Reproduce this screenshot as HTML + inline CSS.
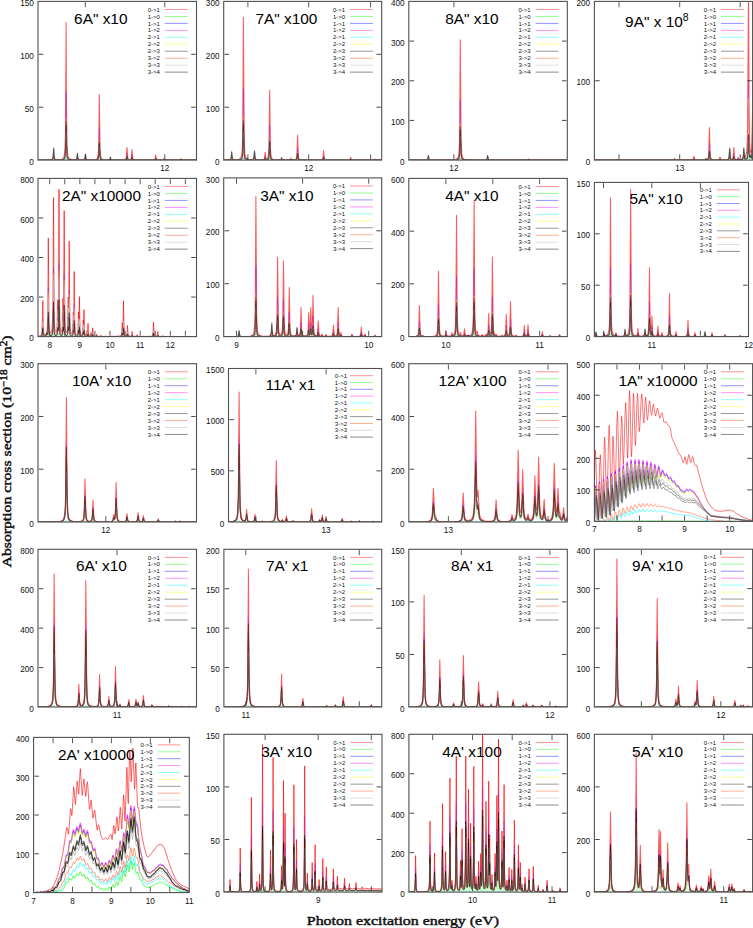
<!DOCTYPE html>
<html><head><meta charset="utf-8"><title>Absorption spectra</title>
<style>
html,body{margin:0;padding:0;background:#fff;}
body{width:753px;height:928px;overflow:hidden;}
svg{display:block;}
.tl{font-family:"Liberation Sans",sans-serif;font-size:8.2px;fill:#111;}
.tt{font-family:"Liberation Sans",sans-serif;font-size:15.4px;fill:#000;}
.lg{font-family:"Liberation Sans",sans-serif;font-size:6px;fill:#111;}
.ax{font-family:"Liberation Serif",serif;font-size:13.4px;font-weight:normal;fill:#111;stroke:#111;stroke-width:0.45px;}
</style></head><body>
<svg width="753" height="928" viewBox="0 0 753 928">
<clipPath id="c1"><rect x="38" y="1.4" width="158.5" height="158.7"/></clipPath>
<g clip-path="url(#c1)" fill="none" stroke-width="1" stroke-linejoin="round" stroke-opacity="0.6">
<path d="M38,160.1 52.2,159.8 53,159.2 53.7,155.7 54.2,158.8 54.8,159.6 56.5,159.9 60.5,159.6 62,159.2 63,158.5 63.8,157.4 64.2,155.8 65,148.7 65.5,128.1 66.1,22.6 66.5,104.4 67,143.8 67.8,154.8 68.2,156.9 69.2,158.6 71.5,159.6 76,159.8 76.8,159.4 77.4,157.5 78,159.4 78.5,159.8 83.5,160 84.8,159.7 85.5,157.9 86,159.4 86.5,159.8 91.2,160 95.8,159.5 96.8,159 97.5,157.9 98.2,154.2 98.8,142.7 99.3,94.5 100,148.2 100.8,156.9 101.2,158.3 102,159.1 103.8,159.7 107.2,160 109.5,159.9 110.4,159 111,159.8 112.2,160 122.5,160 125.2,159.6 125.8,159.2 126.2,158 127,147.4 127.8,158 128.2,159.2 129,159.6 130.5,159.5 131.2,158.3 132,149.5 132.8,158.3 133.2,159.4 134.5,159.9 144.8,160.1 154,159.9 155,159.1 155.7,154.8 156.5,159.3 157.8,160 163,159.9 163.5,159.6 164,158.5 164.5,159.6 165.5,160 179.2,160 180.2,159.8 181,158.5 181.5,159.6 182.5,160 196.5,160.1" stroke="#ff0000" stroke-width="1.05" stroke-opacity="0.65"/>
<path d="M38,160.1 52.2,160.1 53.7,159.8 55.2,160.1 64.2,160 65.5,159.5 66.1,157.3 66.5,159 67,159.8 69.2,160.1 97.5,160.1 98.8,159.8 99.3,158.8 100,159.9 102,160.1 125.2,160.1 127,159.8 129,160.1 132,159.9 134.5,160.1 196.5,160.1" stroke="#00ff00" stroke-width="0.73" stroke-opacity="0.35"/>
<path d="M38,160.1 52.2,159.9 53,159.4 53.7,156.3 54.2,159.1 54.8,159.7 55.2,159.9 58.8,159.9 62,159.6 63.5,159 64.2,158 65,154.4 65.5,144.1 66.1,91.3 66.5,132.2 67,151.9 67.8,157.4 68.2,158.5 69.2,159.3 71.8,159.9 76,159.9 76.8,159.6 77.4,157.9 78,159.5 79.5,160 84.5,159.9 85,159.5 85.5,158.2 86.2,159.8 87.2,160 95,159.9 96.5,159.6 97.5,159 98.2,157.1 98.8,151.4 99.3,127.3 100,154.1 100.8,158.5 101.2,159.2 102,159.6 104.2,159.9 109,160 109.8,159.9 110.4,159.2 111,159.9 112,160 125.2,159.9 126.2,159.1 127,153.8 127.8,159 128.2,159.6 129,159.9 130.5,159.8 131.2,159.2 132,154.8 132.8,159.2 133.2,159.7 134.5,160 154,160 155,159.6 155.7,157.5 156.5,159.7 157.8,160 163,160 164,159.3 164.5,159.9 165.5,160.1 179.2,160.1 180.2,160 181,159.3 181.5,159.9 182.5,160.1 196.5,160.1" stroke="#0000ff" stroke-width="0.63" stroke-opacity="0.22"/>
<path d="M38,160.1 52.2,159.9 53,159.4 53.7,156.3 54.2,159.1 54.8,159.7 55.2,159.9 58.8,159.9 62,159.7 63.5,159 64.2,158 65,154.5 65.5,144.4 66.1,92.7 66.5,132.8 67,152.1 67.8,157.5 68.2,158.5 69.2,159.4 71.8,159.9 76,159.9 76.8,159.6 77.4,157.9 78,159.5 79.5,160 84.5,159.9 85,159.5 85.5,158.2 86.2,159.8 87.2,160 95,159.9 96.5,159.6 97.5,159 98.2,157.2 98.8,151.6 99.3,128 100,154.2 100.8,158.5 101.2,159.2 102,159.6 104.2,159.9 109,160 109.8,159.9 110.4,159.2 111,159.9 112,160 125.2,159.9 126.2,159.1 127,153.9 127.8,159.1 128.2,159.7 129,159.9 130.5,159.8 131.2,159.2 132,154.9 132.8,159.2 133.2,159.7 134.5,160 154,160 155,159.6 155.7,157.5 156.5,159.7 157.8,160 163,160 164,159.3 164.5,159.9 165.5,160.1 179.2,160.1 180.2,160 181,159.3 181.5,159.9 182.5,160.1 196.5,160.1" stroke="#ff00ff" stroke-width="0.63" stroke-opacity="0.22"/>
<path d="M38,160.1 52.2,160.1 53.7,159.8 55.2,160.1 64.2,160 65.5,159.5 66.1,157.3 66.5,159 67,159.8 69.2,160.1 97.5,160.1 98.8,159.8 99.3,158.8 100,159.9 102,160.1 125.2,160.1 127,159.8 129,160.1 132,159.9 134.5,160.1 196.5,160.1" stroke="#00ffff" stroke-width="0.73" stroke-opacity="0.35"/>
<path d="M38,160.1 52.2,159.9 53,159.5 53.7,157 54.2,159.2 55.2,159.9 62,159.8 63.5,159.4 64.2,158.8 65,156.7 65.5,150.5 66.1,118.8 66.5,143.4 67,155.2 67.8,158.5 68.2,159.1 69.2,159.6 72,160 76.2,159.9 77,159.3 77.4,158.3 78,159.7 79.2,160 84.5,159.9 85,159.6 85.5,158.5 86,159.6 87,160 95,160 97.5,159.5 98.2,158.3 98.8,154.9 99.3,140.4 100,156.5 100.8,159.1 102,159.8 109,160 109.8,159.9 110.4,159.3 111,159.9 112,160.1 125.2,160 126.2,159.5 127,156.3 127.8,159.5 129,160 130.5,159.9 131.2,159.6 132,156.9 132.8,159.6 134.5,160 154,160 155,159.8 155.7,158.5 156.5,159.9 157.8,160.1 163,160 164,159.6 165.5,160.1 179.2,160.1 180.2,160 181,159.6 182.5,160.1 196.5,160.1" stroke="#ffff00" stroke-width="0.63" stroke-opacity="0.35"/>
<path d="M38,160.1 49.8,160 52.2,159.5 53,157.8 53.7,147.7 54.2,156.8 54.5,158.3 55,159.3 56.5,159.9 60.5,159.9 63,159.7 64.2,159 65,157.2 65.5,152.1 66.1,125.7 66.5,146.2 67,156 67.8,158.8 69,159.6 73.8,160 75.5,159.8 76.2,159.5 76.8,158.6 77,157.2 77.4,153 78,158.4 78.5,159.5 79,159.8 82.8,160 84.5,159.5 85,158.2 85.5,154 86,158.2 86.8,159.7 88.2,160 93,160 96,159.9 97.5,159.6 98.2,158.6 98.8,155.7 99.3,143.7 100,157.1 100.8,159.3 102,159.8 106.2,160 109.2,159.9 110,158.9 110.4,157.1 111,159.4 111.8,159.9 125.2,160 126.2,159.6 127,156.9 127.8,159.6 129,160 130.5,159.9 131.2,159.7 132,157.5 132.8,159.7 134.5,160 154,160.1 155,159.9 155.7,158.8 156.5,159.9 157.8,160.1 163,160.1 164,159.7 165.5,160.1 179.2,160.1 181,159.7 182.5,160.1 196.5,160.1" stroke="#000000" stroke-width="1.05" stroke-opacity="0.45"/>
<path d="M38,160.1 52.2,160 53,159.6 53.7,157.6 54.2,159.4 55.2,160 62,159.9 63.5,159.7 64.2,159.2 65,157.8 65.5,153.7 66.1,132.6 66.5,149 67,156.8 67.8,159 69.2,159.8 76.2,160 77,159.5 77.4,158.7 78,159.7 79.2,160 84.5,160 85,159.7 85.5,158.9 86,159.7 87,160 95,160 97.5,159.7 98.2,158.9 98.8,156.6 99.3,147 100,157.7 100.8,159.4 102,159.9 109,160.1 109.8,160 110.4,159.5 111,159.9 112,160.1 125.2,160 126.2,159.7 127,157.6 127.8,159.7 129,160 131.2,159.7 132,158 132.8,159.7 134.5,160.1 154,160.1 155,159.9 155.7,159 156.5,159.9 157.8,160.1 163,160.1 164,159.8 165.5,160.1 179.2,160.1 181,159.8 182.5,160.1 196.5,160.1" stroke="#ff6030" stroke-width="0.84" stroke-opacity="0.4"/>
<path d="M38,160.1 49.8,160 52.2,159.8 53,159 53.7,153.9 54.2,158.4 55,159.7 56.8,160 61.2,160 63.2,159.7 64.2,159.2 65,157.8 65.5,153.7 66.1,132.6 66.5,149 67,156.8 67.8,159 69,159.7 73,160 76.2,159.8 77,158.6 77.4,156.6 78,159.3 79,159.9 82.8,160 84.5,159.8 85,159.1 85.5,157 86,159.2 86.2,159.6 87,159.9 94.5,160 97.5,159.7 98.2,158.9 98.8,156.6 99.3,147 100,157.7 100.8,159.4 102,159.9 109.2,160 110,159.5 110.4,158.6 111,159.7 111.8,160 125.2,160 126.2,159.7 127,157.6 127.8,159.7 129,160 131.2,159.7 132,158 132.8,159.7 134.5,160.1 154,160.1 155,159.9 155.7,159 156.5,159.9 157.8,160.1 163,160.1 164,159.8 165.5,160.1 179.2,160.1 181,159.8 182.5,160.1 196.5,160.1" stroke="#c0c0c0" stroke-width="0.84" stroke-opacity="0.5"/>
<path d="M38,160.1 49.8,160 52.2,159.5 53,158 53.7,148.9 54.2,157.1 55,159.4 56.5,159.9 61,159.9 63.2,159.6 64.2,158.9 65,156.9 65.5,151.1 66.1,121.6 66.5,144.5 67,155.5 67.8,158.6 69,159.6 73.5,160 76.2,159.6 76.8,158.8 77,157.5 77.4,153.7 78,158.6 78.5,159.5 79,159.8 82.8,160 84.5,159.5 85,158.4 85.5,154.6 86,158.4 86.2,159.2 87,159.8 94.2,160 96.5,159.8 97.5,159.5 98.2,158.4 98.8,155.2 99.3,141.7 100,156.7 100.8,159.2 102,159.8 106.2,160 109.2,159.9 110,159 110.4,157.4 111,159.5 111.8,159.9 125.2,160 126.2,159.5 127,156.5 127.8,159.5 129,160 130.5,159.9 131.2,159.6 132,157.1 132.8,159.6 134.5,160 154,160 155,159.8 155.7,158.6 156.5,159.9 157.8,160.1 163,160.1 164,159.7 165.5,160.1 179.2,160.1 180.2,160 181,159.7 182.5,160.1 196.5,160.1" stroke="#000000" stroke-width="1.05" stroke-opacity="0.45"/>
</g>
<rect x="38" y="1.4" width="158.5" height="158.7" fill="none" stroke="#505050" stroke-width="1.1"/>
<text x="33.8" y="164.7" text-anchor="end" class="tl">0</text>
<path d="M38.8,107.2 h4.5 M195.7,107.2 h-4.5" stroke="#333" stroke-width="0.9"/>
<text x="33.8" y="111.8" text-anchor="end" class="tl">50</text>
<path d="M38.8,54.3 h4.5 M195.7,54.3 h-4.5" stroke="#333" stroke-width="0.9"/>
<text x="33.8" y="58.9" text-anchor="end" class="tl">100</text>
<text x="33.8" y="6" text-anchor="end" class="tl">150</text>
<path d="M85.3,159.3 v-5 M85.3,2.2 v5" stroke="#444" stroke-width="0.9"/>
<path d="M164.8,159.3 v-5 M164.8,2.2 v5" stroke="#444" stroke-width="0.9"/>
<text x="164.8" y="171.1" text-anchor="middle" class="tl">12</text>
<text x="74.1" y="23.7" class="tt">6A&quot; x10</text>
<text x="147.7" y="11.6" class="lg">0-&gt;1</text>
<path d="M164.8,9.5 H187.7" stroke="#ff8080" stroke-width="0.85"/>
<text x="147.7" y="18.56" class="lg">1-&gt;0</text>
<path d="M164.8,16.46 H187.7" stroke="#80ff80" stroke-width="0.85"/>
<text x="147.7" y="25.52" class="lg">1-&gt;1</text>
<path d="M164.8,23.42 H187.7" stroke="#8080ff" stroke-width="0.85"/>
<text x="147.7" y="32.48" class="lg">1-&gt;2</text>
<path d="M164.8,30.38 H187.7" stroke="#ff80ff" stroke-width="0.85"/>
<text x="147.7" y="39.44" class="lg">2-&gt;1</text>
<path d="M164.8,37.34 H187.7" stroke="#80ffff" stroke-width="0.85"/>
<text x="147.7" y="46.4" class="lg">2-&gt;2</text>
<path d="M164.8,44.3 H187.7" stroke="#ffff80" stroke-width="0.85"/>
<text x="147.7" y="53.36" class="lg">2-&gt;3</text>
<path d="M164.8,51.26 H187.7" stroke="#888888" stroke-width="0.85"/>
<text x="147.7" y="60.32" class="lg">3-&gt;2</text>
<path d="M164.8,58.22 H187.7" stroke="#ffa080" stroke-width="0.85"/>
<text x="147.7" y="67.28" class="lg">3-&gt;3</text>
<path d="M164.8,65.18 H187.7" stroke="#d8d8d8" stroke-width="0.85"/>
<text x="147.7" y="74.24" class="lg">3-&gt;4</text>
<path d="M164.8,72.14 H187.7" stroke="#777777" stroke-width="0.85"/>
<clipPath id="c34"><rect x="223.7" y="1.4" width="158" height="158.7"/></clipPath>
<g clip-path="url(#c34)" fill="none" stroke-width="1" stroke-linejoin="round" stroke-opacity="0.6">
<path d="M223.7,160.1 230.4,159.8 231.2,159.1 231.7,157 232.2,159.1 232.9,159.8 235.9,159.8 238.7,159.4 239.9,158.8 240.7,158 241.7,154.9 242.2,150 242.7,134.1 243.4,17.3 244.2,139.3 244.9,153.9 245.4,156.5 246.4,158.4 246.9,158.7 247.5,158.6 248.2,159.3 248.9,159.5 253.2,159.7 253.9,159 254.5,156.6 254.9,158.8 255.7,159.7 259.7,159.9 263.4,159.6 264.4,158.6 265.2,152.2 265.9,158.3 266.4,158.9 266.9,158.8 267.9,157.6 268.4,155.4 268.9,148.7 269.7,90.3 270.4,148.7 271.2,156.8 271.7,158.2 272.7,159.2 274.2,159.7 276.7,159.9 280.7,159.9 281.6,159.2 282.2,159.8 282.7,160 289.2,160 290.4,159.5 291,158 291.4,159.3 292.2,159.8 294.7,159.8 295.9,159.1 296.4,158.2 296.9,155 297.6,135.2 298.4,156.8 298.9,158.7 299.4,159.3 300.2,159.7 302.9,160 310.4,160.1 319.4,160 321.9,159.7 322.4,159.4 322.9,158.1 323.6,150.6 324.2,157.9 324.7,159.3 325.9,159.9 348.9,160 349.9,159.7 350.7,157.5 351.4,159.7 352.4,160 373.2,160.1 374.4,159.8 375,159 375.4,159.7 376.2,160 381.7,160.1" stroke="#ff0000" stroke-width="1.05" stroke-opacity="0.65"/>
<path d="M223.7,160.1 241.7,160 242.7,159.6 243.4,157.2 244.2,159.7 246.2,160.1 267.9,160 268.9,159.9 269.7,158.7 270.4,159.9 272.7,160.1 295.9,160.1 296.9,160 297.6,159.6 298.4,160 300.2,160.1 323.6,159.9 381.7,160.1" stroke="#00ff00" stroke-width="0.73" stroke-opacity="0.35"/>
<path d="M223.7,160.1 230.4,159.9 231.2,159.3 231.7,157.4 232.2,159.2 232.9,159.9 238.7,159.7 240.7,159 241.7,157.5 242.2,155.1 242.7,147.1 243.4,88.7 244.2,149.7 244.9,157 245.4,158.3 246.4,159.2 247.5,159.2 248.2,159.7 249.2,159.8 253.2,159.8 253.9,159.2 254.5,157.1 254.9,159 255.7,159.8 263.4,159.8 264.4,159.3 265.2,156.1 265.9,159.2 266.9,159.5 267.9,158.8 268.4,157.8 268.9,154.4 269.7,125.2 270.4,154.4 271.2,158.5 271.7,159.2 272.7,159.7 280.2,160 280.9,159.9 281.6,159.3 282.7,160 289.2,160 290.4,159.8 291,159 291.4,159.7 292.2,160 294.7,159.9 295.9,159.6 296.4,159.1 296.9,157.5 297.6,147.7 298.4,158.5 298.9,159.4 300.2,159.9 310.4,160.1 321.9,159.9 322.9,159.1 323.6,155.3 324.2,159 324.7,159.7 325.9,160 348.9,160.1 349.9,159.9 350.7,158.8 351.4,159.9 352.4,160.1 373.2,160.1 374.4,160 375,159.6 376.2,160.1 381.7,160.1" stroke="#0000ff" stroke-width="0.63" stroke-opacity="0.22"/>
<path d="M223.7,160.1 230.4,159.9 231.2,159.3 231.7,157.4 232.2,159.2 232.9,159.9 238.7,159.7 240.7,159.1 241.7,157.5 242.2,155.2 242.7,147.4 243.4,90.1 244.2,149.9 244.9,157 245.4,158.3 246.4,159.2 247.5,159.2 248.2,159.7 249.2,159.8 253.2,159.8 253.9,159.3 254.5,157.1 254.9,159 255.7,159.8 263.4,159.9 264.4,159.3 265.2,156.2 265.9,159.2 266.9,159.5 267.9,158.9 268.4,157.8 268.9,154.5 269.7,125.9 270.4,154.5 271.2,158.5 271.7,159.2 272.7,159.7 280.2,160 280.9,159.9 281.6,159.3 282.7,160 289.2,160 290.4,159.8 291,159.1 291.4,159.7 292.2,160 294.7,159.9 295.9,159.6 296.4,159.2 296.9,157.6 297.6,147.9 298.4,158.5 298.9,159.4 300.2,159.9 310.4,160.1 321.9,159.9 322.9,159.1 323.6,155.4 324.2,159 324.7,159.7 325.9,160 348.9,160.1 349.9,159.9 350.7,158.8 351.4,159.9 352.4,160.1 373.2,160.1 374.4,160 375,159.6 376.2,160.1 381.7,160.1" stroke="#ff00ff" stroke-width="0.63" stroke-opacity="0.22"/>
<path d="M223.7,160.1 241.7,160 242.7,159.6 243.4,157.2 244.2,159.7 246.2,160.1 267.9,160 268.9,159.9 269.7,158.7 270.4,159.9 272.7,160.1 295.9,160.1 296.9,160 297.6,159.6 298.4,160 300.2,160.1 323.6,159.9 381.7,160.1" stroke="#00ffff" stroke-width="0.73" stroke-opacity="0.35"/>
<path d="M223.7,160.1 230.4,159.9 231.2,159.4 231.7,157.9 232.4,159.7 233.4,160 239.7,159.8 240.9,159.3 241.7,158.5 242.2,157.1 242.7,152.3 243.4,117.2 244.2,153.9 244.9,158.2 245.4,159 246.4,159.6 247.5,159.4 248.2,159.8 249.4,159.9 253.2,159.9 253.9,159.4 254.5,157.7 255.2,159.6 256.2,160 263.9,159.9 264.7,159.3 265.2,157.7 265.9,159.6 266.9,159.7 267.9,159.3 268.4,158.7 268.9,156.7 269.7,139.2 270.4,156.7 271.2,159.1 272.7,159.8 280.2,160 280.9,160 281.6,159.5 282.2,159.9 283.4,160.1 289.9,160 291,159.5 292.2,160 295.9,159.8 296.4,159.5 296.9,158.6 297.6,152.6 298.4,159.1 298.9,159.7 300.2,160 321.9,160 322.9,159.5 323.6,157.2 324.2,159.4 324.7,159.9 325.9,160 348.9,160.1 349.9,160 350.7,159.3 351.4,160 352.4,160.1 373.2,160.1 375,159.8 376.2,160.1 381.7,160.1" stroke="#ffff00" stroke-width="0.63" stroke-opacity="0.35"/>
<path d="M223.7,160.1 228.9,160 230.4,159.5 230.9,158.7 231.2,157.4 231.7,151.4 232.2,157.4 232.4,158.7 232.9,159.5 234.7,159.9 238.9,159.9 240.7,159.6 241.7,158.8 242.2,157.6 242.7,153.6 243.4,124.4 244.2,154.9 244.9,158.5 245.4,159.1 246.2,159.5 246.9,159.4 247.5,158.3 247.9,159.3 248.7,159.8 251.7,159.9 253.2,159.5 253.9,157.5 254.5,150.5 255.2,158.3 255.9,159.6 258.2,160 263.9,159.9 264.7,159.4 265.2,158.1 265.9,159.6 266.9,159.8 267.9,159.5 268.4,158.9 268.9,157.2 269.7,142.6 270.4,157.3 271.2,159.3 272.7,159.9 280.4,159.9 281.2,159.1 281.6,157.7 282.2,159.5 282.9,159.9 289.7,160 291,159.6 292.2,160 295.9,159.9 296.4,159.6 296.9,158.8 297.6,153.9 298.4,159.3 298.9,159.7 300.2,160 321.9,160 322.9,159.6 323.6,157.7 324.2,159.5 324.7,159.9 325.9,160.1 348.9,160.1 349.9,160 350.7,159.4 351.4,160 352.4,160.1 373.2,160.1 375,159.8 376.2,160.1 381.7,160.1" stroke="#000000" stroke-width="1.05" stroke-opacity="0.45"/>
<path d="M223.7,160.1 230.4,160 231.2,159.6 231.7,158.3 232.4,159.8 233.4,160 239.7,159.9 240.9,159.6 241.7,159.1 242.2,158.1 242.7,154.9 243.4,131.5 244.2,155.9 244.9,158.9 246.2,159.7 247.5,159.6 249.2,160 253.2,159.9 253.9,159.6 254.5,158.2 255.2,159.7 255.9,160 263.9,159.9 264.7,159.6 265.2,158.5 265.9,159.7 267.9,159.6 268.4,159.2 268.9,157.8 269.7,146.1 270.4,157.8 271.2,159.4 272.7,159.9 280.2,160.1 281.6,159.6 282.2,160 283.4,160.1 289.9,160 291,159.7 292.2,160 295.9,159.9 296.9,159.1 297.6,155.1 298.4,159.4 298.9,159.8 300.2,160 321.9,160 322.9,159.7 323.6,158.2 324.2,159.7 325.9,160.1 348.9,160.1 349.9,160 350.7,159.6 351.4,160 352.4,160.1 373.2,160.1 375,159.9 381.7,160.1" stroke="#ff6030" stroke-width="0.84" stroke-opacity="0.4"/>
<path d="M223.7,160.1 230.4,159.8 231.2,158.8 231.7,155.8 232.2,158.8 232.9,159.8 234.9,160 239.2,159.9 240.7,159.7 241.7,159.1 242.2,158.1 242.7,154.9 243.4,131.5 244.2,155.9 244.9,158.8 246.2,159.6 246.9,159.6 247.5,159.1 247.9,159.7 248.7,159.9 253.2,159.8 253.9,158.8 254.5,155.3 255.2,159.2 255.9,159.8 263.9,159.9 264.7,159.6 265.2,158.5 265.9,159.7 267.9,159.6 268.4,159.2 268.9,157.8 269.7,146.1 270.4,157.8 271.2,159.4 272.7,159.9 280.4,160 281.2,159.6 281.6,158.9 282.2,159.8 283.2,160 289.7,160.1 291,159.7 292.2,160 295.9,159.9 296.9,159.1 297.6,155.1 298.4,159.4 298.9,159.8 300.2,160 321.9,160 322.9,159.7 323.6,158.2 324.2,159.7 325.9,160.1 348.9,160.1 349.9,160 350.7,159.6 351.4,160 352.4,160.1 373.2,160.1 375,159.9 381.7,160.1" stroke="#c0c0c0" stroke-width="0.84" stroke-opacity="0.5"/>
<path d="M223.7,160.1 228.9,160 230.4,159.6 230.9,158.8 231.2,157.7 231.7,152.3 232.2,157.7 232.4,158.8 232.9,159.5 234.7,159.9 239.2,159.8 240.7,159.5 241.7,158.6 242.2,157.3 242.7,152.8 243.4,120.1 244.2,154.3 244.9,158.3 245.4,159 246.2,159.4 246.9,159.4 247.5,158.4 247.9,159.4 248.7,159.8 251.7,159.9 253.2,159.5 253.9,157.8 254.5,151.4 255.2,158.5 255.9,159.6 258.4,160 263.9,159.9 264.7,159.4 265.2,157.9 265.9,159.6 266.9,159.7 267.9,159.4 268.4,158.8 268.9,156.9 269.7,140.5 270.4,156.9 271.2,159.2 272.7,159.8 280.4,159.9 281.2,159.2 281.6,157.9 282.2,159.6 283.2,160 289.7,160 291,159.5 292.2,160 295.9,159.8 296.4,159.6 296.9,158.7 297.6,153.1 298.4,159.2 298.9,159.7 300.2,160 321.9,160 322.9,159.6 323.6,157.4 324.2,159.5 324.7,159.9 325.9,160 348.9,160.1 349.9,160 350.7,159.4 351.4,160 352.4,160.1 373.2,160.1 375,159.8 376.2,160.1 381.7,160.1" stroke="#000000" stroke-width="1.05" stroke-opacity="0.45"/>
</g>
<rect x="223.7" y="1.4" width="158" height="158.7" fill="none" stroke="#505050" stroke-width="1.1"/>
<text x="219.5" y="164.7" text-anchor="end" class="tl">0</text>
<path d="M224.5,107.2 h4.5 M380.9,107.2 h-4.5" stroke="#333" stroke-width="0.9"/>
<text x="219.5" y="111.8" text-anchor="end" class="tl">100</text>
<path d="M224.5,54.3 h4.5 M380.9,54.3 h-4.5" stroke="#333" stroke-width="0.9"/>
<text x="219.5" y="58.9" text-anchor="end" class="tl">200</text>
<text x="219.5" y="6" text-anchor="end" class="tl">300</text>
<path d="M247.9,159.3 v-5 M247.9,2.2 v5" stroke="#444" stroke-width="0.9"/>
<path d="M308.7,159.3 v-5 M308.7,2.2 v5" stroke="#444" stroke-width="0.9"/>
<text x="308.7" y="171.1" text-anchor="middle" class="tl">12</text>
<path d="M370.6,159.3 v-5 M370.6,2.2 v5" stroke="#444" stroke-width="0.9"/>
<text x="255.4" y="23.9" class="tt">7A&quot; x100</text>
<text x="332.9" y="11.6" class="lg">0-&gt;1</text>
<path d="M350,9.5 H372.9" stroke="#ff8080" stroke-width="0.85"/>
<text x="332.9" y="18.56" class="lg">1-&gt;0</text>
<path d="M350,16.46 H372.9" stroke="#80ff80" stroke-width="0.85"/>
<text x="332.9" y="25.52" class="lg">1-&gt;1</text>
<path d="M350,23.42 H372.9" stroke="#8080ff" stroke-width="0.85"/>
<text x="332.9" y="32.48" class="lg">1-&gt;2</text>
<path d="M350,30.38 H372.9" stroke="#ff80ff" stroke-width="0.85"/>
<text x="332.9" y="39.44" class="lg">2-&gt;1</text>
<path d="M350,37.34 H372.9" stroke="#80ffff" stroke-width="0.85"/>
<text x="332.9" y="46.4" class="lg">2-&gt;2</text>
<path d="M350,44.3 H372.9" stroke="#ffff80" stroke-width="0.85"/>
<text x="332.9" y="53.36" class="lg">2-&gt;3</text>
<path d="M350,51.26 H372.9" stroke="#888888" stroke-width="0.85"/>
<text x="332.9" y="60.32" class="lg">3-&gt;2</text>
<path d="M350,58.22 H372.9" stroke="#ffa080" stroke-width="0.85"/>
<text x="332.9" y="67.28" class="lg">3-&gt;3</text>
<path d="M350,65.18 H372.9" stroke="#d8d8d8" stroke-width="0.85"/>
<text x="332.9" y="74.24" class="lg">3-&gt;4</text>
<path d="M350,72.14 H372.9" stroke="#777777" stroke-width="0.85"/>
<clipPath id="c68"><rect x="408.8" y="1.4" width="158.5" height="158.7"/></clipPath>
<g clip-path="url(#c68)" fill="none" stroke-width="1" stroke-linejoin="round" stroke-opacity="0.6">
<path d="M408.8,160.1 426.8,160 427.8,159.7 428.4,158.4 429.1,159.7 430.3,160 452.3,159.9 456.3,159.2 457.3,158.5 458.1,157.3 458.6,155.5 459.1,151.4 459.6,138.6 460.3,39.9 461.1,138.6 461.8,153.9 462.3,156.5 463.3,158.5 464.3,159.2 466.1,159.7 472.6,160 486.1,160 487.1,159.6 487.6,158.4 488.3,159.8 490.3,160.1 526.3,160.1 527.8,159.9 528.5,158.9 529.3,159.9 530.5,160.1 549.8,160.1 551,159.9 551.6,159.3 552.3,159.9 553,160.1 567.3,160.1" stroke="#ff0000" stroke-width="1.05" stroke-opacity="0.65"/>
<path d="M408.8,160.1 458.1,160 459.6,159.7 460.3,157.7 461.1,159.7 463.3,160.1 567.3,160.1" stroke="#00ff00" stroke-width="0.73" stroke-opacity="0.35"/>
<path d="M408.8,160.1 426.8,160 427.8,159.7 428.4,158.7 429.1,159.8 430.3,160 452.3,160 456.3,159.6 458.1,158.7 458.6,157.8 459.1,155.7 459.6,149.4 460.3,100 461.1,149.4 461.8,157 462.3,158.3 463.3,159.3 464.8,159.7 467.8,160 485.3,160.1 486.8,159.9 487.6,158.7 488.3,159.8 490.3,160.1 526.3,160.1 527.8,160 528.5,159.5 529.3,160 530.5,160.1 549.8,160.1 551.6,159.7 553,160.1 567.3,160.1" stroke="#0000ff" stroke-width="0.63" stroke-opacity="0.22"/>
<path d="M408.8,160.1 426.8,160 427.8,159.7 428.4,158.7 429.1,159.8 430.3,160 452.3,160 456.3,159.7 458.1,158.7 458.6,157.8 459.1,155.8 459.6,149.6 460.3,101.2 461.1,149.6 461.8,157.1 462.3,158.3 463.3,159.3 464.8,159.7 467.8,160 485.3,160.1 486.8,159.9 487.6,158.7 488.3,159.8 490.3,160.1 526.3,160.1 527.8,160 528.5,159.5 529.3,160 530.5,160.1 549.8,160.1 551.6,159.7 553,160.1 567.3,160.1" stroke="#ff00ff" stroke-width="0.63" stroke-opacity="0.22"/>
<path d="M408.8,160.1 458.1,160 459.6,159.7 460.3,157.7 461.1,159.7 463.3,160.1 567.3,160.1" stroke="#00ffff" stroke-width="0.73" stroke-opacity="0.35"/>
<path d="M408.8,160.1 426.8,160 427.8,159.8 428.4,158.9 429.3,159.9 431.3,160.1 453.8,160 456.6,159.8 458.1,159.2 459.1,157.5 459.6,153.7 460.3,124 461.1,153.7 461.8,158.2 462.3,159 463.3,159.6 467.8,160 485.6,160.1 486.8,159.9 487.6,158.9 488.3,159.9 490.3,160.1 526.3,160.1 528.5,159.7 530.5,160.1 549.8,160.1 551.6,159.9 553,160.1 567.3,160.1" stroke="#ffff00" stroke-width="0.63" stroke-opacity="0.35"/>
<path d="M408.8,160.1 426.8,159.9 427.3,159.7 427.8,158.9 428.4,155.4 429.1,159 429.6,159.7 430.3,159.9 453.1,160 456.6,159.8 458.1,159.4 459.1,157.9 459.6,154.7 460.3,130 461.1,154.7 461.8,158.5 462.3,159.2 463.3,159.7 469.3,160.1 485.8,159.9 486.6,159.6 487.1,158.7 487.6,155.4 488.3,159.2 489.1,159.8 490.3,160 526.3,160.1 528.5,159.8 530.5,160.1 551.6,159.9 567.3,160.1" stroke="#000000" stroke-width="1.05" stroke-opacity="0.45"/>
<path d="M408.8,160.1 426.8,160.1 427.8,159.9 428.4,159.2 429.3,160 431.1,160.1 453.8,160 456.6,159.9 458.1,159.5 459.1,158.4 459.6,155.8 460.3,136.1 461.1,155.8 461.8,158.9 462.3,159.4 463.3,159.8 468.1,160.1 485.6,160.1 486.8,159.9 487.6,159.2 488.3,159.9 490.3,160.1 526.3,160.1 528.5,159.9 530.5,160.1 567.3,160.1" stroke="#ff6030" stroke-width="0.84" stroke-opacity="0.4"/>
<path d="M408.8,160.1 426.8,160 427.8,159.5 428.4,157.7 429.1,159.6 430.6,160 453.6,160 456.6,159.9 458.1,159.5 459.1,158.4 459.6,155.8 460.3,136.1 461.1,155.8 461.8,158.9 462.3,159.4 463.3,159.8 468.6,160.1 485.8,160 486.6,159.9 487.1,159.4 487.6,157.7 488.3,159.6 490.3,160.1 526.3,160.1 528.5,159.9 530.5,160.1 567.3,160.1" stroke="#c0c0c0" stroke-width="0.84" stroke-opacity="0.5"/>
<path d="M408.8,160.1 426.8,159.9 427.3,159.7 427.8,159 428.4,155.8 429.1,159.1 429.6,159.7 430.6,160 453.3,160 456.6,159.8 458.1,159.3 459.1,157.7 459.6,154.1 460.3,126.4 461.1,154.1 461.8,158.4 462.3,159.1 463.3,159.6 468.8,160 485.8,159.9 486.6,159.7 487.1,158.9 487.6,155.9 488.3,159.2 489.1,159.9 490.3,160 526.3,160.1 528.5,159.8 530.5,160.1 549.8,160.1 551.6,159.9 553,160.1 567.3,160.1" stroke="#000000" stroke-width="1.05" stroke-opacity="0.45"/>
</g>
<rect x="408.8" y="1.4" width="158.5" height="158.7" fill="none" stroke="#505050" stroke-width="1.1"/>
<text x="404.6" y="164.7" text-anchor="end" class="tl">0</text>
<path d="M409.6,120.42 h4.5 M566.5,120.42 h-4.5" stroke="#333" stroke-width="0.9"/>
<text x="404.6" y="125.02" text-anchor="end" class="tl">100</text>
<path d="M409.6,80.75 h4.5 M566.5,80.75 h-4.5" stroke="#333" stroke-width="0.9"/>
<text x="404.6" y="85.35" text-anchor="end" class="tl">200</text>
<path d="M409.6,41.08 h4.5 M566.5,41.08 h-4.5" stroke="#333" stroke-width="0.9"/>
<text x="404.6" y="45.68" text-anchor="end" class="tl">300</text>
<text x="404.6" y="6" text-anchor="end" class="tl">400</text>
<path d="M453.9,159.3 v-5 M453.9,2.2 v5" stroke="#444" stroke-width="0.9"/>
<text x="453.9" y="171.1" text-anchor="middle" class="tl">12</text>
<text x="445.2" y="23.9" class="tt">8A&quot; x10</text>
<text x="518.5" y="11.6" class="lg">0-&gt;1</text>
<path d="M535.6,9.5 H558.5" stroke="#ff8080" stroke-width="0.85"/>
<text x="518.5" y="18.56" class="lg">1-&gt;0</text>
<path d="M535.6,16.46 H558.5" stroke="#80ff80" stroke-width="0.85"/>
<text x="518.5" y="25.52" class="lg">1-&gt;1</text>
<path d="M535.6,23.42 H558.5" stroke="#8080ff" stroke-width="0.85"/>
<text x="518.5" y="32.48" class="lg">1-&gt;2</text>
<path d="M535.6,30.38 H558.5" stroke="#ff80ff" stroke-width="0.85"/>
<text x="518.5" y="39.44" class="lg">2-&gt;1</text>
<path d="M535.6,37.34 H558.5" stroke="#80ffff" stroke-width="0.85"/>
<text x="518.5" y="46.4" class="lg">2-&gt;2</text>
<path d="M535.6,44.3 H558.5" stroke="#ffff80" stroke-width="0.85"/>
<text x="518.5" y="53.36" class="lg">2-&gt;3</text>
<path d="M535.6,51.26 H558.5" stroke="#888888" stroke-width="0.85"/>
<text x="518.5" y="60.32" class="lg">3-&gt;2</text>
<path d="M535.6,58.22 H558.5" stroke="#ffa080" stroke-width="0.85"/>
<text x="518.5" y="67.28" class="lg">3-&gt;3</text>
<path d="M535.6,65.18 H558.5" stroke="#d8d8d8" stroke-width="0.85"/>
<text x="518.5" y="74.24" class="lg">3-&gt;4</text>
<path d="M535.6,72.14 H558.5" stroke="#777777" stroke-width="0.85"/>
<clipPath id="c102"><rect x="594.4" y="1.4" width="158.2" height="158.7"/></clipPath>
<g clip-path="url(#c102)" fill="none" stroke-width="1" stroke-linejoin="round" stroke-opacity="0.6">
<path d="M594.4,160.1 671.9,160.1 673.9,159.8 674.6,158.5 675.1,159.6 676.1,160 691.1,160 692.4,159.9 693.1,159.5 694,156.1 694.6,159.2 695.4,159.8 703.1,160 705.1,159.8 706,159.3 706.9,159.4 707.6,158.9 708.1,158 708.6,155.4 709.5,127.6 710.1,152.8 710.6,157.3 711.1,158.7 711.6,159.2 713.9,159.9 718.6,159.8 719.4,159.2 720,156.9 720.6,159.3 721.1,159.7 723.4,160 727.9,159.8 728.6,159.5 729.1,158.7 729.7,155.7 730.4,159 731.1,159.5 732.1,159.3 732.6,158.8 733.1,157.1 733.8,147.4 734.4,156.7 735.1,159.1 735.9,159.5 737.1,159.5 738,158.2 738.6,159.4 739.1,159.6 740.9,159.5 742.4,159.1 743.1,158.1 743.8,154.5 744.4,157.3 744.9,157.5 745.4,156.6 746,153.8 746.4,153.4 746.9,150.2 747.6,129.9 748.4,-0.6 748.6,-0.6 749.1,113.2 749.6,141.7 750.1,149.5 750.6,152 751.1,153.3 751.6,150.8 752.5,112.5" stroke="#ff0000" stroke-width="1.05" stroke-opacity="0.65"/>
<path d="M594.4,160.1 707.1,160.1 708.6,160 709.5,159.4 710.1,160 711.6,160.1 728.1,160.1 729.7,159.9 732.1,160.1 733.8,159.8 735.1,160.1 742.4,160.1 743.8,159.8 745.1,160 746.9,159.9 747.6,159.5 748.5,156 748.9,158.3 749.4,159.5 751.4,159.9 751.9,159.8 752.5,159.1" stroke="#00ff00" stroke-width="0.73" stroke-opacity="0.35"/>
<path d="M594.4,160.1 671.9,160.1 673.9,159.9 674.6,159.3 675.1,159.9 676.1,160.1 691.1,160.1 693.1,159.8 694,158.1 694.6,159.6 695.4,160 704.1,160 705.4,159.9 706,159.5 706.9,159.7 708.1,159.1 708.6,157.7 709.5,143.8 710.1,156.4 710.6,158.7 711.6,159.7 713.9,160 718.6,160 719.4,159.7 720,158.5 720.6,159.7 721.1,159.9 727.9,159.9 728.6,159.7 729.1,159 729.7,156.4 730.4,159.3 731.1,159.7 732.1,159.7 732.6,159.4 733.1,158.6 733.8,153.7 734.4,158.4 735.1,159.6 736.4,159.7 737.1,159.4 738,156.1 738.6,159.1 739.1,159.6 741.4,159.7 742.9,159.2 743.8,155.9 744.4,158.5 744.6,158.8 745.1,158.8 746,157.4 746.4,157.4 746.6,157 746.9,156.2 747.6,148.5 748.5,81.6 749.1,142.2 749.6,152.9 750.1,155.6 750.9,156.9 751.1,157 751.4,156.7 751.6,155.7 752.5,136.5" stroke="#0000ff" stroke-width="0.63" stroke-opacity="0.22"/>
<path d="M594.4,160.1 671.9,160.1 673.9,159.9 674.6,159.3 675.1,159.9 676.1,160.1 691.1,160.1 693.1,159.8 694,158.2 694.6,159.7 695.4,160 704.1,160 705.4,159.9 706,159.5 706.9,159.8 708.1,159.1 708.6,157.8 709.5,144.2 710.1,156.5 710.6,158.7 711.6,159.7 713.9,160 718.6,160 719.4,159.7 720,158.5 720.6,159.7 721.1,159.9 727.9,159.9 728.6,159.7 729.1,159 729.7,156.4 730.4,159.3 731.1,159.7 732.1,159.7 732.6,159.5 733.1,158.6 733.8,153.9 734.4,158.4 735.1,159.6 736.4,159.7 737.1,159.4 738,156.5 738.9,159.5 740.1,159.8 742.4,159.6 743.1,158.9 743.8,155.9 744.4,158.5 744.6,158.8 745.1,158.8 746,157.5 746.4,157.5 746.6,157.1 746.9,156.4 747.6,149.1 748.5,85.7 749.1,143.1 749.6,153.3 750.1,155.8 750.5,156 750.9,157 751.1,157.1 751.4,156.8 751.6,155.8 752.5,137" stroke="#ff00ff" stroke-width="0.63" stroke-opacity="0.22"/>
<path d="M594.4,160.1 707.1,160.1 708.6,160 709.5,159.4 710.1,160 711.6,160.1 728.1,160.1 729.7,159.9 732.1,160.1 733.8,159.8 735.1,160.1 742.4,160.1 743.8,159.8 745.1,160 746.9,159.9 747.6,159.5 748.5,156 748.9,158.3 749.4,159.5 751.4,159.9 751.9,159.8 752.5,159.1" stroke="#00ffff" stroke-width="0.73" stroke-opacity="0.35"/>
<path d="M594.4,160.1 671.9,160.1 673.9,160 674.6,159.6 676.1,160.1 691.1,160.1 693.1,159.9 694,158.9 694.6,159.8 695.4,160 704.4,160 706,159.6 706.9,159.9 708.1,159.5 708.6,158.7 709.5,150.3 710.1,157.9 710.6,159.3 711.6,159.8 718.6,160 719.4,159.8 720,159.1 720.6,159.9 721.4,160 728.1,159.9 729.1,159.2 729.7,157 730.4,159.4 730.9,159.8 732.1,159.8 733.1,159.2 733.8,156.3 734.4,159.1 735.1,159.8 737.1,159.8 738,158.8 738.6,159.7 739.1,159.9 742.4,159.7 743.1,159.1 743.8,156.7 744.4,158.8 745.1,159.1 746.4,158 746.9,157.1 747.6,151 748.5,98.2 748.9,133.1 749.4,151.7 749.9,155.9 750.9,157.7 751.4,157.8 751.9,155.9 752.5,145.8" stroke="#ffff00" stroke-width="0.63" stroke-opacity="0.35"/>
<path d="M594.4,160.1 671.9,160.1 673.9,160 674.6,159.7 676.1,160.1 691.1,160.1 693.1,160 694,159.1 694.6,159.9 695.1,160 702.4,160.1 705.1,159.8 706,158.6 706.6,159.7 707.4,159.8 708.4,159.3 708.9,158 709.5,152 710.1,158.3 710.6,159.4 711.1,159.7 713.1,160 718.4,160 719.4,159.9 720,159.3 721.1,160 726.4,159.9 728.1,159.5 728.9,158.1 729.7,147.9 730.4,157.6 731.1,159.3 732.1,159.7 732.9,159.5 733.4,158.6 733.8,156.8 734.4,159.2 734.9,159.7 737.1,159.8 738,159 738.9,159.8 741.1,159.8 742.4,159.3 742.9,158.4 743.4,154.7 743.8,147.7 744.6,158 745.1,158.9 746,158.7 746.4,158.9 746.9,158.7 747.4,157.6 747.9,153.6 748.5,135.1 749.1,154.1 749.6,157.2 749.9,157.4 750.1,156.7 750.5,154.9 751.1,158 751.4,158.1 751.6,157.8 752.5,148.3" stroke="#000000" stroke-width="1.05" stroke-opacity="0.45"/>
<path d="M594.4,160.1 671.9,160.1 674.6,159.8 676.1,160.1 691.1,160.1 693.1,160 694,159.3 694.6,159.9 695.6,160.1 704.4,160.1 706,159.7 707.1,159.9 708.1,159.7 708.6,159.1 709.5,153.6 710.1,158.6 710.6,159.5 711.6,159.9 718.6,160 719.4,159.9 720,159.5 720.6,159.9 721.4,160 728.1,159.9 729.1,159.4 729.7,157.6 730.4,159.6 730.9,159.8 732.1,159.9 733.1,159.5 733.8,157.5 734.4,159.4 734.9,159.8 737.1,159.9 738,159.2 738.9,159.9 741.4,159.9 742.6,159.7 743.1,159.3 743.8,157.3 744.4,159.1 745.1,159.3 746.4,158.4 746.9,157.6 747.6,152.5 748.5,108.5 748.9,137.6 749.4,153.1 749.9,156.7 750.9,158.2 751.4,158.4 751.9,157.2 752.5,150.5" stroke="#ff6030" stroke-width="0.84" stroke-opacity="0.4"/>
<path d="M594.4,160.1 671.9,160.1 674.6,159.8 676.1,160.1 691.1,160.1 693.1,160 694,159.3 694.6,159.9 695.6,160.1 704.6,160 705.4,159.9 706,159.3 707.1,159.9 708.1,159.7 708.6,159.1 709.5,153.6 710.1,158.6 710.6,159.5 711.6,159.9 718.6,160 719.4,159.9 720,159.5 720.6,159.9 721.4,160 728.1,159.8 728.6,159.5 729.1,158.3 729.7,154 730.4,158.8 731.1,159.7 732.9,159.7 733.8,157.5 734.4,159.4 735.1,159.9 737.1,159.9 738,159.3 739.1,159.9 742.4,159.6 743.1,158.6 743.8,153.9 744.4,158.4 744.9,159.3 745.4,159.4 746.9,159 747.6,157 748.5,139.3 749.1,155.2 749.6,157.9 749.9,158.2 750.1,158 750.5,157.2 751.1,158.7 751.6,158.3 752.5,150.7" stroke="#c0c0c0" stroke-width="0.84" stroke-opacity="0.5"/>
<path d="M594.4,160.1 671.9,160.1 673.9,160 674.6,159.7 676.1,160.1 691.1,160.1 693.1,159.9 694,159 694.6,159.8 695.1,160 702.4,160.1 705.1,159.8 706,158.7 706.6,159.7 707.4,159.8 708.4,159.2 708.9,157.8 709.5,151 710.1,158 710.6,159.3 711.1,159.7 713.1,160 718.4,160 719.4,159.8 720,159.2 720.6,159.9 721.1,160 726.4,159.9 728.1,159.5 728.9,158.3 729.7,149.1 730.4,157.9 731.1,159.4 732.1,159.7 732.9,159.5 733.4,158.4 733.8,156.5 734.4,159.1 734.9,159.7 737.1,159.8 738,158.9 738.9,159.8 741.1,159.8 742.4,159.3 742.9,158.5 743.4,155.2 743.8,148.9 744.6,158.2 745.1,159 746,158.7 746.6,158.9 747.4,157.6 747.9,153.6 748.5,135.1 749.1,154.1 749.6,157.2 749.9,157.4 750.1,156.9 750.5,155.3 751.1,158 751.4,158.1 751.6,157.6 752.5,146.9" stroke="#000000" stroke-width="1.05" stroke-opacity="0.45"/>
</g>
<rect x="594.4" y="1.4" width="158.2" height="158.7" fill="none" stroke="#505050" stroke-width="1.1"/>
<text x="590.2" y="164.7" text-anchor="end" class="tl">0</text>
<path d="M595.2,80.75 h4.5 M751.8,80.75 h-4.5" stroke="#333" stroke-width="0.9"/>
<text x="590.2" y="85.35" text-anchor="end" class="tl">100</text>
<text x="590.2" y="6" text-anchor="end" class="tl">200</text>
<path d="M619,159.3 v-5 M619,2.2 v5" stroke="#444" stroke-width="0.9"/>
<path d="M679.7,159.3 v-5 M679.7,2.2 v5" stroke="#444" stroke-width="0.9"/>
<text x="679.7" y="171.1" text-anchor="middle" class="tl">13</text>
<path d="M740.2,159.3 v-5 M740.2,2.2 v5" stroke="#444" stroke-width="0.9"/>
<text x="625.1" y="26.9" class="tt">9A&quot; x 10<tspan dy="-5.5" font-size="10.5">8</tspan></text>
<text x="703.8" y="11.6" class="lg">0-&gt;1</text>
<path d="M720.9,9.5 H743.8" stroke="#ff8080" stroke-width="0.85"/>
<text x="703.8" y="18.56" class="lg">1-&gt;0</text>
<path d="M720.9,16.46 H743.8" stroke="#80ff80" stroke-width="0.85"/>
<text x="703.8" y="25.52" class="lg">1-&gt;1</text>
<path d="M720.9,23.42 H743.8" stroke="#8080ff" stroke-width="0.85"/>
<text x="703.8" y="32.48" class="lg">1-&gt;2</text>
<path d="M720.9,30.38 H743.8" stroke="#ff80ff" stroke-width="0.85"/>
<text x="703.8" y="39.44" class="lg">2-&gt;1</text>
<path d="M720.9,37.34 H743.8" stroke="#80ffff" stroke-width="0.85"/>
<text x="703.8" y="46.4" class="lg">2-&gt;2</text>
<path d="M720.9,44.3 H743.8" stroke="#ffff80" stroke-width="0.85"/>
<text x="703.8" y="53.36" class="lg">2-&gt;3</text>
<path d="M720.9,51.26 H743.8" stroke="#888888" stroke-width="0.85"/>
<text x="703.8" y="60.32" class="lg">3-&gt;2</text>
<path d="M720.9,58.22 H743.8" stroke="#ffa080" stroke-width="0.85"/>
<text x="703.8" y="67.28" class="lg">3-&gt;3</text>
<path d="M720.9,65.18 H743.8" stroke="#d8d8d8" stroke-width="0.85"/>
<text x="703.8" y="74.24" class="lg">3-&gt;4</text>
<path d="M720.9,72.14 H743.8" stroke="#777777" stroke-width="0.85"/>
<clipPath id="c134"><rect x="38" y="178.4" width="158.5" height="158.2"/></clipPath>
<g clip-path="url(#c134)" fill="none" stroke-width="1" stroke-linejoin="round" stroke-opacity="0.6">
<path d="M38,336.3 40,336 41,335.5 41.5,334.7 42,332.3 42.8,300.6 43.2,326.2 43.8,333.1 44.5,334.8 45,335 45.8,334.7 47,331.3 47.2,329.3 47.8,315.8 48.3,238.1 49,322.2 49.5,330.5 50,332.7 50.5,333.4 51.2,332.9 52,329.9 52.5,320.5 53,299.3 53.5,197.6 54.2,318.5 54.8,328.6 55.2,331.5 55.8,332.4 56.2,332.3 57,329.4 57.8,299.8 58.2,309.9 58.5,297.1 59,189.3 59.5,300.1 60,324.3 60.5,329.9 61,331.6 61.5,331.8 61.8,331.4 62.2,328.7 63,298 63.5,311 64.2,210.6 64.8,309.3 65.2,326.6 65.8,330.9 66.2,332.2 66.8,332.2 67,331.7 67.5,328.3 68.2,297.1 68.5,308 68.8,303.3 69.2,241.1 69.8,315.6 70.2,328.9 70.8,332.2 71.5,333.5 72,333.3 72.2,332.8 72.8,329.5 73.3,311.9 73.5,315 73.8,313.2 74.2,271.5 74.8,322.3 75.2,331.3 75.8,333.5 76.5,334.4 77,334.3 77.5,333.4 78,329.4 78.5,311.9 78.8,318.5 79,318.7 79.4,296.7 80,328.6 80.5,333.3 81,334.5 81.5,334.8 82.2,334.1 82.8,331 83.2,319.8 83.5,323.8 84,309.7 84.5,329.6 84.8,332.6 85.5,335 86,335.2 86.5,334.5 87,330.7 87.2,332.1 87.5,332.1 88,323.4 88.5,333.1 88.8,334.6 89.5,335.7 90,335.8 90.5,335.3 91,332.6 91.5,335.1 91.8,335.3 92,335 92.7,327.9 93.2,334.6 93.5,335.5 94.2,336.1 95.2,336.3 96,336 96.6,334.2 97.2,336.1 98.5,336.4 100.2,336.4 101,335.4 101.5,336.3 103,336.5 104.5,336.4 105,335.8 105.8,336.5 109.2,336.5 111.2,336.5 112,335.8 112.8,336.4 114.2,336.5 116.2,336.4 117,336 117.8,336.4 119,336.3 120.8,335.8 121.5,334.2 121.8,332.2 122.2,322.6 122.8,329.7 123,326.8 123.5,300.8 124,327.8 124.5,333.8 125,335.1 125.5,335.6 126,335.7 126.5,335.4 127,333.7 127.5,325.5 128,333.8 128.2,335.1 129,336.1 130.2,336.3 131.2,336 131.8,334.5 132.1,331.5 132.8,335.7 133.5,336.3 136.5,336.3 137.2,334.6 137.8,336.2 138.5,336.5 142,336.5 143,336 143.5,336.4 144.5,336.5 147.2,336.5 148,336 149,336.5 151.8,336.2 152.5,335.5 153,333.1 153.5,322.2 154,333.1 154.5,335.5 155.2,336.2 156.2,336.3 157,335.9 157.8,331.5 158.2,335.1 158.8,336.1 159.5,336.4 162.2,336.4 163,335.6 163.5,336.3 164.8,336.6 167.2,336.5 168,336.2 168.8,336.5 172,336.6 173,336.2 174.5,336.6 196.5,336.6" stroke="#ff0000" stroke-width="1" stroke-opacity="0.65"/>
<path d="M38,336.6 42,336.5 42.8,335.9 43.8,336.5 47.2,336.4 47.8,336.2 48.3,334.6 49,336.3 52,336.5 53,335.9 53.5,333.8 54.2,336.2 55.2,336.5 57,336.5 57.8,335.9 58.2,336.1 58.5,335.8 59,333.7 59.5,335.9 60,336.4 61,336.5 62.2,336.4 63,335.8 63.5,336.1 64.2,334.1 64.8,336.1 65.2,336.4 66.2,336.5 67.5,336.4 68.2,335.8 68.8,335.9 69.2,334.7 69.8,336.2 71.5,336.5 73.8,336.1 74.2,335.3 74.8,336.3 76.5,336.6 78,336.5 78.5,336.1 79,336.2 79.4,335.8 80,336.4 81.5,336.6 84,336.1 84.5,336.5 85.5,336.6 88,336.3 89.5,336.6 120.8,336.6 123,336.4 123.5,335.9 124,336.4 125.5,336.6 127.5,336.4 129,336.6 151.8,336.6 153.5,336.3 155.2,336.6 196.5,336.6" stroke="#00ff00" stroke-width="0.7" stroke-opacity="0.35"/>
<path d="M38,336.4 41,336 41.5,335.6 42,334.5 42.8,318.6 43.2,331.4 43.8,334.9 44.5,335.7 45.8,335.6 47,333.9 47.2,332.9 47.8,326.2 48.3,287.4 49,329.4 49.5,333.5 50,334.7 50.5,335 51.2,334.8 52,333.2 52.5,328.5 53,317.9 53.5,267.1 54.2,327.5 54.8,332.6 55.2,334.1 55.8,334.5 56.2,334.5 57,333 57.8,318.2 58.2,323.3 58.5,316.8 59,262.9 59.5,318.4 60,330.5 60.5,333.2 61,334.1 61.8,334 62.2,332.6 63,317.3 63.5,323.8 64.2,273.6 64.8,322.9 65.2,331.6 65.8,333.7 66.2,334.4 67,334.1 67.5,332.5 68.2,316.8 68.5,322.3 68.8,319.9 69.2,288.8 69.8,326.1 70.2,332.7 70.8,334.4 71.5,335 72.2,334.7 72.8,333 73.3,324.2 73.5,325.8 73.8,324.9 74.2,304.1 74.8,329.4 75.2,333.9 75.8,335.1 76.5,335.5 77.5,335 78,333 78.5,324.2 78.8,327.6 79,327.6 79.4,316.6 80,332.6 80.5,334.9 81.5,335.7 82.2,335.4 82.8,333.8 83.2,328.2 83.5,330.2 84,323.2 84.5,333.1 84.8,334.6 85.5,335.8 86,335.9 86.5,335.5 87,333.6 87.2,334.3 87.5,334.3 88,330 88.5,334.8 88.8,335.6 89.5,336.2 90.5,335.9 91,334.6 91.5,335.8 92,335.8 92.7,332.2 93.2,335.6 93.5,336 94.2,336.4 96,336.3 96.6,335.4 97.2,336.4 98.5,336.5 100.2,336.5 101,336 101.5,336.4 103,336.5 104.5,336.5 105,336.2 105.8,336.5 109.2,336.6 111.2,336.5 112,336.2 112.8,336.5 114.2,336.6 117,336.3 119,336.5 120.8,336.2 121.5,335.4 121.8,334.4 122.2,329.6 122.8,333.1 123,331.7 123.5,318.7 124,332.2 124.5,335.2 125.5,336.1 126.5,336 127,335.2 127.5,331.1 128,335.2 128.2,335.8 129,336.3 131.2,336.3 131.8,335.6 132.1,334 132.8,336.2 133.5,336.5 136.5,336.4 137.2,335.6 137.8,336.4 138.5,336.5 142,336.6 143,336.3 144.5,336.6 147.2,336.5 148,336.3 149,336.5 151.8,336.4 152.5,336.1 153,334.9 153.5,329.4 154,334.9 154.5,336.1 155.2,336.4 157,336.3 157.8,334 158.2,335.9 158.8,336.4 159.5,336.5 162.2,336.5 163,336.1 163.5,336.5 164.8,336.6 173,336.4 196.5,336.6" stroke="#0000ff" stroke-width="0.6" stroke-opacity="0.22"/>
<path d="M38,336.5 41,336 41.5,335.7 42,334.6 42.8,319.3 43.2,331.6 43.8,334.9 44.5,335.8 45.8,335.6 47,334 47.2,333.1 47.8,326.6 48.3,289.3 49,329.7 49.5,333.7 50,334.7 50.5,335 51.2,334.8 52,333.4 52.5,328.9 53,318.7 53.5,269.9 54.2,327.9 54.8,332.8 55.2,334.2 55.8,334.6 56.2,334.6 57,333.1 57.8,318.9 58.2,323.8 58.5,317.6 59,265.9 59.5,319.1 60,330.7 60.5,333.4 61,334.2 61.8,334.1 62.2,332.8 63,318.1 63.5,324.3 64.2,276.1 64.8,323.5 65.2,331.8 65.8,333.8 66.2,334.5 67,334.2 67.5,332.6 68.2,317.6 68.5,322.9 68.8,320.6 69.2,290.8 69.8,326.5 70.2,332.9 70.8,334.5 71.5,335.1 72.2,334.8 72.8,333.2 73.3,324.7 73.5,326.2 73.8,325.4 74.2,305.4 74.8,329.7 75.2,334 75.8,335.1 76.5,335.5 77.5,335.1 78,333.2 78.5,324.7 78.8,327.9 79,328 79.4,317.4 80,332.8 80.5,335 81.5,335.7 82.2,335.4 82.8,333.9 83.2,328.5 83.5,330.5 84,323.7 84.5,333.2 84.8,334.7 85.5,335.8 86,335.9 86.5,335.6 87,333.8 87.2,334.4 87.5,334.4 88,330.2 88.5,334.9 88.8,335.6 89.5,336.2 90.5,336 91,334.7 91.5,335.9 92,335.8 92.7,332.4 93.2,335.7 94.2,336.4 96,336.3 96.6,335.5 97.2,336.4 98.5,336.5 100.2,336.5 101,336 101.5,336.4 103,336.6 104.5,336.5 105,336.2 105.8,336.5 109.2,336.6 111.2,336.5 112,336.2 112.8,336.5 114.2,336.6 120.8,336.2 121.5,335.4 121.8,334.5 122.2,329.9 122.8,333.3 123,331.9 123.5,319.4 124,332.4 124.5,335.2 125.5,336.1 126.5,336 127,335.2 127.5,331.3 128,335.3 128.2,335.9 129,336.3 131.2,336.3 131.8,335.6 132.1,334.1 132.8,336.2 133.5,336.5 136.5,336.4 137.2,335.7 137.8,336.4 138.5,336.5 142,336.6 143,336.3 144.5,336.6 148,336.3 149,336.5 151.8,336.4 152.5,336.1 153,334.9 153.5,329.7 154,334.9 154.5,336.1 155.2,336.4 157,336.3 157.8,334.1 158.2,335.9 158.8,336.4 159.5,336.5 162.2,336.5 163,336.1 163.5,336.5 164.8,336.6 196.5,336.6" stroke="#ff00ff" stroke-width="0.6" stroke-opacity="0.22"/>
<path d="M38,336.6 42,336.5 42.8,335.9 43.8,336.5 47.2,336.4 47.8,336.2 48.3,334.6 49,336.3 52,336.5 53,335.9 53.5,333.8 54.2,336.2 55.2,336.5 57,336.5 57.8,335.9 58.2,336.1 58.5,335.8 59,333.7 59.5,335.9 60,336.4 61,336.5 62.2,336.4 63,335.8 63.5,336.1 64.2,334.1 64.8,336.1 65.2,336.4 66.2,336.5 67.5,336.4 68.2,335.8 68.8,335.9 69.2,334.7 69.8,336.2 71.5,336.5 73.8,336.1 74.2,335.3 74.8,336.3 76.5,336.6 78,336.5 78.5,336.1 79,336.2 79.4,335.8 80,336.4 81.5,336.6 84,336.1 84.5,336.5 85.5,336.6 88,336.3 89.5,336.6 120.8,336.6 123,336.4 123.5,335.9 124,336.4 125.5,336.6 127.5,336.4 129,336.6 151.8,336.6 153.5,336.3 155.2,336.6 196.5,336.6" stroke="#00ffff" stroke-width="0.7" stroke-opacity="0.35"/>
<path d="M38,336.5 41,336.1 41.5,335.7 42,334.7 42.8,320.4 43.2,331.9 43.8,335 44.5,335.8 45.8,335.7 47,334.1 47.2,333.3 47.8,327.2 48.3,292.3 49,330.1 49.5,333.9 50,334.9 50.5,335.1 51.2,335 52,333.6 52.5,329.4 53,319.8 53.5,274 54.2,328.4 54.8,333 55.2,334.3 55.8,334.7 56.2,334.7 57,333.3 57.8,320 58.2,324.6 58.5,318.8 59,270.3 59.5,320.2 60,331.1 60.5,333.6 61,334.4 61.8,334.3 62.2,333 63,319.2 63.5,325.1 64.2,279.9 64.8,324.3 65.2,332.1 65.8,334 66.2,334.6 67,334.4 67.5,332.9 68.2,318.8 68.5,323.7 68.8,321.6 69.2,293.6 69.8,327.2 70.2,333.1 70.8,334.6 71.5,335.2 72.2,334.9 72.8,333.4 73.3,325.5 73.5,326.9 73.8,326.1 74.2,307.3 74.8,330.1 75.2,334.2 75.8,335.2 76.5,335.6 77.5,335.2 78,333.4 78.5,325.5 78.8,328.5 79,328.5 79.4,318.6 80,333 80.5,335.1 81.5,335.8 82.2,335.5 82.8,334.1 83.2,329 83.5,330.9 84,324.5 84.5,333.4 84.8,334.8 85.5,335.9 86,336 86.5,335.6 87,333.9 87.2,334.6 87.5,334.6 88,330.6 88.5,335 88.8,335.7 89.5,336.2 90.5,336 91,334.8 91.5,335.9 92,335.9 92.7,332.7 93.2,335.7 94.2,336.4 96,336.3 96.6,335.5 97.2,336.4 98.5,336.5 100.2,336.5 101,336.1 101.5,336.4 103,336.6 105,336.2 105.8,336.5 109.2,336.6 111.2,336.5 112,336.2 112.8,336.5 114.2,336.6 120.8,336.2 121.5,335.5 121.8,334.6 122.2,330.3 122.8,333.5 123,332.2 123.5,320.5 124,332.7 124.5,335.3 125.5,336.2 126.5,336.1 127,335.3 127.5,331.6 128,335.3 128.2,335.9 129,336.4 131.2,336.3 131.8,335.7 132.1,334.3 132.8,336.2 133.5,336.5 136.5,336.5 137.2,335.7 137.8,336.4 138.5,336.5 151.8,336.4 152.5,336.1 153,335 153.5,330.1 154,335 154.5,336.1 155.2,336.4 157,336.3 157.8,334.3 158.2,335.9 158.8,336.4 159.5,336.5 162.2,336.5 163,336.2 163.5,336.5 164.8,336.6 196.5,336.6" stroke="#ffff00" stroke-width="0.6" stroke-opacity="0.35"/>
<path d="M38,336.5 41,336.4 42,335.7 42.8,329.4 43.2,334.5 43.8,335.9 44.8,336.2 45.8,336 46.2,335 46.6,333.2 47,334.7 47.2,334.7 47.8,332.3 48.3,316.8 49,333.7 49.5,335.4 50,335.8 51.2,335.9 52,335.2 52.5,333.4 53,329.1 53.5,308.8 54.2,333 54.8,335 55.2,335.6 56.2,335.7 57,335.2 57.8,329.2 58.2,331.3 58.5,328.7 59,307.1 59.5,329.3 60,334.1 60.5,335.3 61,335.6 61.8,335.6 62.2,335 63,328.9 63.5,331.5 64.2,311.4 64.8,331.1 65.2,334.6 65.8,335.5 66.2,335.7 67,335.6 67.5,334.9 68.2,328.7 68.5,330.9 68.8,329.9 69.2,317.5 69.8,332.4 70.2,335.1 70.8,335.7 71.5,336 72.2,335.8 72.8,335.2 73.3,331.7 73.5,332.3 73.8,331.9 74.2,323.6 74.8,333.7 75.2,335.5 76.5,336.2 77.5,336 78,335.2 78.5,331.7 78.8,333 79,333 79.4,328.6 80,335 80.5,335.9 81.5,336.2 82.2,336.1 82.8,335.5 83.2,333.2 83.5,334 84,331.2 84.5,335.2 84.8,335.8 85.5,336.3 86.5,336.2 87,335.4 87.5,335.7 88,334 88.5,335.9 89.5,336.4 90.5,336.3 91,335.8 91.5,336.3 92,336.3 92.7,334.9 93.2,336.2 94.2,336.5 96,336.5 96.6,336.1 97.2,336.5 98.5,336.6 101,336.4 103,336.6 120.8,336.4 121.8,335.7 122.2,333.8 122.8,335.2 123,334.6 123.5,329.4 124,334.8 124.5,336 125.5,336.4 126.5,336.4 127,336 127.5,334.4 128,336 129,336.5 131.2,336.5 132.1,335.6 132.8,336.4 133.5,336.5 136.5,336.5 137.2,336.2 138.5,336.6 151.8,336.5 152.5,336.4 153,335.9 153.5,333.7 154,335.9 154.5,336.4 155.2,336.5 157,336.5 157.8,335.6 158.2,336.3 159.5,336.6 196.5,336.6" stroke="#000000" stroke-width="1" stroke-opacity="0.45"/>
<path d="M38,336.6 41,336.5 42,336.1 42.8,332.3 43.2,335.3 43.8,336.2 45.5,336.4 46.6,335.7 47.2,335.7 47.8,334.1 48.3,324.8 49,334.9 49.5,335.9 50,336.1 51.2,336.2 52,335.8 52.5,334.7 53,332.1 53.5,319.9 54.2,334.4 54.8,335.6 55.2,336 56.2,336.1 57,335.7 57.8,332.2 58.2,333.4 58.5,331.9 59,318.9 59.5,332.2 60,335.1 61,336 61.8,336 62.2,335.6 63,332 63.5,333.5 64.2,321.5 64.8,333.3 65.2,335.4 66.2,336.1 67,336 67.5,335.6 68.2,331.9 68.5,333.2 68.8,332.6 69.2,325.1 69.8,334.1 70.2,335.7 71.5,336.2 72.2,336.1 72.8,335.7 73.3,333.6 73.5,334 73.8,333.8 74.2,328.8 74.8,334.9 75.2,336 76.5,336.3 77.5,336.2 78,335.7 78.5,333.6 78.8,334.4 79,334.5 79.4,331.8 80,335.6 80.5,336.2 81.5,336.4 82.2,336.3 82.8,335.9 83.2,334.6 83.5,335.1 84,333.4 84.5,335.8 85.5,336.4 86.5,336.3 87,335.9 87.5,336.1 88,335 88.5,336.2 89.5,336.5 90.5,336.4 91,336.1 92,336.4 92.7,335.6 93.2,336.4 94.2,336.5 96.6,336.3 98.5,336.6 120.8,336.5 121.8,336.1 122.2,334.9 122.8,335.8 123,335.4 123.5,332.3 124,335.5 124.5,336.3 125.5,336.5 127,336.3 127.5,335.3 128,336.3 129,336.5 131.2,336.5 132.1,336 132.8,336.5 133.5,336.6 137.2,336.4 138.5,336.6 151.8,336.6 153,336.2 153.5,334.9 154,336.2 155.2,336.5 157,336.5 157.8,336 158.2,336.4 159.5,336.6 196.5,336.6" stroke="#ff6030" stroke-width="0.8" stroke-opacity="0.4"/>
<path d="M38,336.5 41,336.1 41.5,335.8 42,334.9 42.8,322.2 43.2,332.4 43.8,335.2 44.5,335.9 45.8,335.7 46.6,333.9 47,334.2 47.2,333.5 47.8,328.2 48.3,297.2 49,330.8 49.5,334.1 50,335 50.5,335.3 51.2,335.1 52,333.9 52.5,330.2 53,321.7 53.5,281 54.2,329.3 54.8,333.4 55.2,334.6 55.8,334.9 56.2,334.9 57,333.7 57.8,321.9 58.2,325.9 58.5,320.8 59,277.7 59.5,322 60,331.7 60.5,333.9 61,334.6 61.8,334.5 62.2,333.4 63,321.2 63.5,326.4 64.2,286.2 64.8,325.7 65.2,332.6 65.8,334.3 66.2,334.8 67,334.6 67.5,333.3 68.2,320.8 68.5,325.2 68.8,323.3 69.2,298.4 69.8,328.2 70.2,333.5 70.8,334.8 71.5,335.3 72.2,335.1 72.8,333.8 73.3,326.7 73.5,327.9 73.8,327.2 74.2,310.6 74.8,330.9 75.2,334.5 75.8,335.4 76.5,335.7 77.5,335.3 78,333.7 78.5,326.7 78.8,329.4 79,329.4 79.4,320.6 80,333.4 80.5,335.3 81.5,335.9 82.2,335.6 82.8,334.4 83.2,329.9 83.5,331.5 84,325.8 84.5,333.8 84.8,335 85.5,335.9 86.5,335.7 87,334.2 87.2,334.8 87.5,334.8 88,331.3 88.5,335.2 88.8,335.8 89.5,336.2 90.5,336.1 91,335 91.5,336 92,335.9 92.7,333.1 93.2,335.8 94.2,336.4 96,336.4 96.6,335.7 97.2,336.4 98.5,336.5 100.2,336.5 101,336.1 101.5,336.5 103,336.6 105,336.3 105.8,336.5 109.2,336.6 112,336.3 114.2,336.6 120.8,336.3 121.5,335.6 121.8,334.8 122.2,331 122.8,333.8 123,332.7 123.5,322.3 124,333.1 124.5,335.5 125.5,336.2 126.5,336.1 127,335.4 127.5,332.2 128,335.5 128.2,336 129,336.4 131.2,336.4 131.8,335.8 132.1,334.5 132.8,336.3 133.5,336.5 136.5,336.5 137.2,335.8 137.8,336.4 138.5,336.5 151.8,336.4 152.5,336.2 153,335.2 153.5,330.8 154,335.2 154.5,336.2 155.2,336.4 157,336.3 157.8,334.5 158.2,336 158.8,336.4 159.5,336.5 162.2,336.5 163,336.2 163.5,336.5 164.8,336.6 196.5,336.6" stroke="#c0c0c0" stroke-width="0.8" stroke-opacity="0.5"/>
<path d="M38,336.5 41,336.3 42,335.5 42.8,327.6 43.2,334 43.8,335.7 44.5,336.1 45.8,335.9 46.2,335 46.6,333.3 47,334.5 47.2,334.4 47.8,331.3 48.3,311.9 49,333 49.5,335.1 50,335.6 51.2,335.7 52,334.9 52.5,332.6 53,327.3 53.5,301.8 54.2,332.1 54.8,334.6 55.2,335.3 56.2,335.5 57,334.8 57.8,327.4 58.2,329.9 58.5,326.7 59,299.8 59.5,327.5 60,333.5 60.5,334.9 61,335.3 61.8,335.3 62.2,334.6 63,327 63.5,330.2 64.2,305.1 64.8,329.8 65.2,334.1 65.8,335.2 66.2,335.5 67,335.4 67.5,334.5 68.2,326.7 68.5,329.5 68.8,328.3 69.2,312.7 69.8,331.4 70.2,334.7 70.8,335.5 71.5,335.8 72.2,335.6 72.8,334.8 73.3,330.4 73.5,331.2 73.8,330.7 74.2,320.3 74.8,333 75.2,335.3 75.8,335.8 76.5,336.1 77.5,335.8 78,334.8 78.5,330.4 78.8,332.1 79,332.1 79.4,326.6 80,334.6 80.5,335.8 81.5,336.1 82.2,336 82.8,335.2 83.2,332.4 83.5,333.4 84,329.9 84.5,334.8 84.8,335.6 85.5,336.2 86.5,336.1 87,335.1 87.5,335.5 88,333.3 88.5,335.7 89.5,336.4 90.5,336.3 91,335.6 91.5,336.2 92,336.2 92.7,334.4 93.2,336.1 94.2,336.5 96,336.5 96.6,336 97.2,336.5 98.5,336.6 101,336.3 103,336.6 120.8,336.4 121.5,336 121.8,335.5 122.2,333.1 122.8,334.9 123,334.1 123.5,327.7 124,334.4 124.5,335.9 125.5,336.4 126.5,336.3 127,335.9 127.5,333.8 128,335.9 129,336.5 131.2,336.4 131.8,336.1 132.1,335.3 132.8,336.4 133.5,336.5 136.5,336.5 137.2,336.1 138.5,336.6 151.8,336.5 152.5,336.3 153,335.7 153.5,333 154,335.7 154.5,336.3 155.2,336.5 157,336.4 157.8,335.3 158.2,336.2 159.5,336.6 163,336.4 164.8,336.6 196.5,336.6" stroke="#000000" stroke-width="1" stroke-opacity="0.45"/>
</g>
<rect x="38" y="178.4" width="158.5" height="158.2" fill="none" stroke="#505050" stroke-width="1.1"/>
<text x="33.8" y="341.2" text-anchor="end" class="tl">0</text>
<path d="M38.8,297.05 h4.5 M195.7,297.05 h-4.5" stroke="#333" stroke-width="0.9"/>
<text x="33.8" y="301.65" text-anchor="end" class="tl">200</text>
<path d="M38.8,257.5 h4.5 M195.7,257.5 h-4.5" stroke="#333" stroke-width="0.9"/>
<text x="33.8" y="262.1" text-anchor="end" class="tl">400</text>
<path d="M38.8,217.95 h4.5 M195.7,217.95 h-4.5" stroke="#333" stroke-width="0.9"/>
<text x="33.8" y="222.55" text-anchor="end" class="tl">600</text>
<text x="33.8" y="183" text-anchor="end" class="tl">800</text>
<path d="M49.7,335.8 v-5 M49.7,179.2 v5" stroke="#444" stroke-width="0.9"/>
<text x="49.7" y="347.6" text-anchor="middle" class="tl">8</text>
<path d="M64.78,335.8 v-5 M64.78,179.2 v5" stroke="#444" stroke-width="0.9"/>
<path d="M79.85,335.8 v-5 M79.85,179.2 v5" stroke="#444" stroke-width="0.9"/>
<text x="79.85" y="347.6" text-anchor="middle" class="tl">9</text>
<path d="M94.92,335.8 v-5 M94.92,179.2 v5" stroke="#444" stroke-width="0.9"/>
<path d="M110,335.8 v-5 M110,179.2 v5" stroke="#444" stroke-width="0.9"/>
<text x="110" y="347.6" text-anchor="middle" class="tl">10</text>
<path d="M125.08,335.8 v-5 M125.08,179.2 v5" stroke="#444" stroke-width="0.9"/>
<path d="M140.15,335.8 v-5 M140.15,179.2 v5" stroke="#444" stroke-width="0.9"/>
<text x="140.15" y="347.6" text-anchor="middle" class="tl">11</text>
<path d="M155.22,335.8 v-5 M155.22,179.2 v5" stroke="#444" stroke-width="0.9"/>
<path d="M170.3,335.8 v-5 M170.3,179.2 v5" stroke="#444" stroke-width="0.9"/>
<text x="170.3" y="347.6" text-anchor="middle" class="tl">12</text>
<path d="M185.38,335.8 v-5 M185.38,179.2 v5" stroke="#444" stroke-width="0.9"/>
<text x="61.9" y="201" class="tt">2A&quot; x10000</text>
<text x="147.7" y="188.6" class="lg">0-&gt;1</text>
<path d="M164.8,186.5 H187.7" stroke="#ff8080" stroke-width="0.85"/>
<text x="147.7" y="195.56" class="lg">1-&gt;0</text>
<path d="M164.8,193.46 H187.7" stroke="#80ff80" stroke-width="0.85"/>
<text x="147.7" y="202.52" class="lg">1-&gt;1</text>
<path d="M164.8,200.42 H187.7" stroke="#8080ff" stroke-width="0.85"/>
<text x="147.7" y="209.48" class="lg">1-&gt;2</text>
<path d="M164.8,207.38 H187.7" stroke="#ff80ff" stroke-width="0.85"/>
<text x="147.7" y="216.44" class="lg">2-&gt;1</text>
<path d="M164.8,214.34 H187.7" stroke="#80ffff" stroke-width="0.85"/>
<text x="147.7" y="223.4" class="lg">2-&gt;2</text>
<path d="M164.8,221.3 H187.7" stroke="#ffff80" stroke-width="0.85"/>
<text x="147.7" y="230.36" class="lg">2-&gt;3</text>
<path d="M164.8,228.26 H187.7" stroke="#888888" stroke-width="0.85"/>
<text x="147.7" y="237.32" class="lg">3-&gt;2</text>
<path d="M164.8,235.22 H187.7" stroke="#ffa080" stroke-width="0.85"/>
<text x="147.7" y="244.28" class="lg">3-&gt;3</text>
<path d="M164.8,242.18 H187.7" stroke="#d8d8d8" stroke-width="0.85"/>
<text x="147.7" y="251.24" class="lg">3-&gt;4</text>
<path d="M164.8,249.14 H187.7" stroke="#777777" stroke-width="0.85"/>
<clipPath id="c181"><rect x="223.7" y="177.9" width="158" height="158.7"/></clipPath>
<g clip-path="url(#c181)" fill="none" stroke-width="1" stroke-linejoin="round" stroke-opacity="0.6">
<path d="M223.7,336.6 237.4,336.5 238.4,336.1 239.1,334.4 239.7,336 240.4,336.4 249.7,336.2 251.4,335.8 252.7,335 253.4,333.9 253.9,332.4 254.7,326.1 255.2,309.8 255.9,196.4 256.7,315.1 257.4,330.1 257.9,332.8 258.9,334.8 260.2,335.7 261.9,336.1 269.4,336.2 270.9,335.6 271.8,331.4 272.4,335.1 272.9,335.6 273.9,335.6 274.9,335.1 275.9,333.1 276.4,330 276.9,319.3 277.6,257.2 278.4,325.3 278.9,331.4 279.4,333.4 279.9,334.2 280.7,334.4 281.2,334.2 281.9,332.5 282.7,324.6 283.5,261 284.2,321.8 284.7,330.5 285.2,333.2 285.9,334.5 286.9,334.7 287.7,333.8 288.4,329.4 289.3,287.4 289.9,325.8 290.4,332.4 290.9,334.3 291.9,335.5 293.9,336.1 295.9,335.9 296.4,335.3 297,332.9 297.4,334.9 297.9,335.7 298.9,335.5 299.7,334.5 300.2,331.9 300.4,328.4 301,307.5 301.7,330.9 302.4,334.8 302.9,335.5 303.7,335.8 305.9,335.8 306.9,335.3 307.7,333.6 308.2,328.6 308.7,312.8 309.2,327.8 309.4,330.6 309.7,331.3 309.9,330.6 310.8,307.5 311.4,328.4 311.7,330.2 311.9,330.2 312.4,324 313,295.3 313.7,328.3 314.2,333.1 314.7,334.6 315.4,335.4 316.7,335.4 317.4,334.1 318.3,320.7 318.9,333 319.4,335.1 319.9,335.7 321.2,335.9 322,334 322.7,335.9 323.4,336.3 325.2,336.1 326,334.5 326.4,335.7 327.2,336.3 330.4,336.3 331.9,335.9 332.7,334.3 333.4,325 334.2,334.6 334.9,335.7 335.7,335.8 336.4,335.4 336.9,334.4 337.4,331.5 338.2,307.5 338.9,331.5 339.4,334.3 339.9,335.1 340.4,334.5 340.9,332.4 341.4,335.2 341.9,336 342.7,336.3 350.7,336.4 351.4,335.8 352,334 352.4,335.6 353.2,336.4 356.7,336.5 359.4,336.3 360.2,335.7 360.7,334.3 361.3,327.1 361.9,334.5 362.4,335.8 362.9,336.1 364.2,336.1 365,334 365.7,336 366.4,336.4 373.7,336.5 374.4,336.2 375,335 375.4,336 376.2,336.5 381.7,336.6" stroke="#ff0000" stroke-width="1.05" stroke-opacity="0.65"/>
<path d="M223.7,336.6 253.9,336.5 255.2,336.1 255.9,333.8 256.7,336.2 258.9,336.6 270.4,336.6 271.8,336.3 272.7,336.6 275.9,336.5 276.9,336.3 277.6,335 278.4,336.4 279.9,336.6 282.7,336.4 283.5,335.1 284.2,336.3 285.9,336.6 288.4,336.5 289.3,335.6 289.9,336.4 291.9,336.6 299.7,336.6 301,336 301.7,336.5 302.4,336.6 307.7,336.5 308.7,336.1 309.9,336.5 310.8,336 311.9,336.5 313,335.8 313.7,336.4 315.4,336.6 318.3,336.3 319.9,336.6 331.9,336.6 333.4,336.4 336.4,336.6 337.4,336.5 338.2,336 338.9,336.5 339.9,336.6 381.7,336.6" stroke="#00ff00" stroke-width="0.73" stroke-opacity="0.35"/>
<path d="M223.7,336.6 237.4,336.5 238.4,336.2 239.1,334.7 239.7,336.1 240.4,336.5 249.7,336.4 252.7,335.8 253.9,334.5 254.7,331.4 255.2,323.2 255.9,266.5 256.7,325.9 257.4,333.4 257.9,334.7 258.9,335.7 260.2,336.1 262.4,336.4 270.2,336.3 271.2,335.4 271.8,332.3 272.4,335.5 272.9,336 274.7,335.9 275.9,334.8 276.4,333.3 276.9,328 277.6,296.9 278.4,330.9 278.9,334 279.9,335.4 281.2,335.4 281.9,334.6 282.7,330.6 283.5,298.8 284.2,329.2 284.7,333.6 285.2,334.9 285.9,335.5 286.9,335.7 287.7,335.2 288.4,333 289.3,312 289.9,331.2 290.4,334.5 290.9,335.5 291.9,336.1 294.2,336.3 295.9,336.1 296.4,335.6 297,333.6 297.4,335.3 297.9,336 298.9,336 299.7,335.5 300.2,334.3 300.4,332.5 301,322 301.7,333.7 302.4,335.7 303.7,336.2 305.9,336.2 306.9,335.9 307.7,335.1 308.2,332.6 308.7,324.7 309.2,332.2 309.4,333.6 309.7,334 309.9,333.6 310.8,322.1 311.4,332.5 311.7,333.4 311.9,333.4 312.4,330.3 313,316 313.7,332.4 314.2,334.8 314.7,335.6 315.4,336 316.7,336 317.4,335.3 318.3,328.7 318.9,334.8 319.4,335.8 319.9,336.2 321.2,336.2 322,335.3 322.7,336.3 323.4,336.4 325.2,336.4 326,335.5 326.4,336.2 327.2,336.5 331.9,336.2 332.7,335.4 333.4,330.8 334.2,335.6 334.9,336.2 336.4,336 336.9,335.5 337.4,334.1 338.2,322.1 338.9,334 339.4,335.5 339.9,335.8 340.4,335.6 340.9,334.5 341.4,335.9 342.7,336.4 350.7,336.5 351.4,336.2 352,335.3 352.4,336.1 353.2,336.5 359.4,336.4 360.2,336.2 360.7,335.4 361.3,331.8 361.9,335.6 362.9,336.4 364.2,336.3 365,335.3 365.7,336.3 366.4,336.5 373.7,336.5 374.4,336.4 375,335.8 375.4,336.3 376.2,336.5 381.7,336.6" stroke="#0000ff" stroke-width="0.63" stroke-opacity="0.22"/>
<path d="M223.7,336.6 237.4,336.5 238.4,336.2 239.1,334.7 239.7,336.1 240.4,336.5 249.7,336.4 252.7,335.8 253.9,334.6 254.7,331.5 255.2,323.5 255.9,267.9 256.7,326.1 257.4,333.4 257.9,334.7 258.9,335.7 260.4,336.2 262.7,336.4 270.2,336.3 271.2,335.4 271.8,332.3 272.4,335.5 272.9,336 274.7,335.9 275.9,334.9 276.4,333.3 276.9,328.1 277.6,297.7 278.4,331 278.9,334 279.9,335.4 281.2,335.4 281.9,334.6 282.7,330.7 283.5,299.5 284.2,329.3 284.7,333.6 285.2,334.9 285.9,335.6 286.9,335.7 287.7,335.3 288.4,333.1 289.3,312.5 289.9,331.3 290.4,334.5 290.9,335.5 291.9,336.1 294.2,336.3 295.9,336.1 296.4,335.6 297,333.6 297.4,335.3 297.9,336 298.9,336 299.7,335.6 300.2,334.3 300.4,332.6 301,322.3 301.7,333.8 302.4,335.7 303.7,336.2 305.9,336.2 306.9,335.9 307.7,335.1 308.2,332.7 308.7,324.9 309.2,332.3 309.4,333.7 309.7,334 309.9,333.7 310.8,322.3 311.4,332.6 311.7,333.5 311.9,333.5 312.4,330.4 313,316.4 313.7,332.5 314.2,334.9 314.7,335.6 315.4,336 316.7,336 317.4,335.4 318.3,328.8 318.9,334.8 319.4,335.9 319.9,336.2 321.2,336.2 322,335.3 322.7,336.3 323.4,336.4 325.2,336.4 326,335.6 326.4,336.2 327.2,336.5 331.9,336.2 332.7,335.5 333.4,330.9 334.2,335.6 334.9,336.2 336.4,336 336.9,335.5 337.4,334.1 338.2,322.3 338.9,334.1 339.4,335.5 339.9,335.8 340.4,335.6 340.9,334.5 341.4,335.9 342.7,336.4 350.7,336.5 351.4,336.2 352,335.3 352.4,336.1 353.2,336.5 359.4,336.4 360.2,336.2 360.7,335.5 361.3,331.9 361.9,335.6 362.9,336.4 364.2,336.3 365,335.3 365.7,336.3 366.4,336.5 373.7,336.5 374.4,336.4 375,335.8 375.4,336.3 376.2,336.5 381.7,336.6" stroke="#ff00ff" stroke-width="0.63" stroke-opacity="0.22"/>
<path d="M223.7,336.6 253.9,336.5 255.2,336.1 255.9,333.8 256.7,336.2 258.9,336.6 270.4,336.6 271.8,336.3 272.7,336.6 275.9,336.5 276.9,336.3 277.6,335 278.4,336.4 279.9,336.6 282.7,336.4 283.5,335.1 284.2,336.3 285.9,336.6 288.4,336.5 289.3,335.6 289.9,336.4 291.9,336.6 299.7,336.6 301,336 301.7,336.5 302.4,336.6 307.7,336.5 308.7,336.1 309.9,336.5 310.8,336 311.9,336.5 313,335.8 313.7,336.4 315.4,336.6 318.3,336.3 319.9,336.6 331.9,336.6 333.4,336.4 336.4,336.6 337.4,336.5 338.2,336 338.9,336.5 339.9,336.6 381.7,336.6" stroke="#00ffff" stroke-width="0.73" stroke-opacity="0.35"/>
<path d="M223.7,336.6 237.7,336.5 238.4,336.3 239.1,335 239.7,336.2 240.4,336.5 249.7,336.5 252.7,336.1 253.9,335.3 254.7,333.5 255.2,328.6 255.9,294.5 256.7,330.2 257.4,334.7 257.9,335.5 258.9,336.1 262.7,336.5 270.2,336.4 271.2,335.7 271.8,333.1 272.2,335 272.7,336 274.4,336.2 275.9,335.5 276.4,334.6 276.9,331.4 277.6,312.8 278.4,333.2 278.9,335 279.9,335.9 281.2,335.9 281.9,335.4 282.7,333 283.5,313.9 284.2,332.1 284.7,334.8 285.2,335.6 285.9,336 287.7,335.8 288.4,334.4 289.3,321.8 289.9,333.3 290.4,335.3 290.9,335.9 291.9,336.3 295.9,336.3 296.4,335.8 297,334.1 297.7,336 298.7,336.3 299.7,335.9 300.4,334.1 301,327.9 301.7,334.9 302.4,336.1 303.7,336.4 305.9,336.4 306.9,336.2 307.7,335.7 308.2,334.2 308.7,329.5 309.2,334 309.4,334.8 309.7,335 309.9,334.8 310.8,327.9 311.4,334.1 311.7,334.7 311.9,334.7 312.4,332.8 313,324.2 313.7,334.1 314.2,335.5 315.4,336.2 316.7,336.2 317.4,335.8 318.3,331.8 318.9,335.5 319.9,336.3 321.2,336.4 322,335.8 322.7,336.4 323.4,336.5 325.2,336.5 326,336 327.2,336.5 331.9,336.4 332.7,335.9 333.4,333.1 334.2,336 334.9,336.3 336.4,336.2 336.9,336 337.4,335.1 338.2,327.9 338.9,335.1 339.4,335.9 339.9,336.1 340.4,336 340.9,335.3 341.4,336.2 342.7,336.5 350.7,336.5 351.4,336.4 352,335.8 352.4,336.3 353.2,336.5 359.4,336.5 360.2,336.3 360.7,335.9 361.3,333.7 361.9,336 362.9,336.5 364.2,336.4 365,335.8 365.7,336.4 366.4,336.5 373.7,336.6 375,336.1 376.2,336.6 381.7,336.6" stroke="#ffff00" stroke-width="0.63" stroke-opacity="0.35"/>
<path d="M223.7,336.6 235.2,336.5 237.7,336.2 238.4,335.3 239.1,330.4 239.7,335.1 240.2,336 240.7,336.3 243.4,336.5 250.7,336.4 252.7,336.2 253.9,335.6 254.7,334 255.2,329.9 255.9,301.5 256.7,331.2 257.4,335 257.9,335.6 258.9,336.1 261.7,336.4 267.4,336.5 269.4,336.2 270.4,335.7 271.2,333.2 271.8,322.9 272.2,330.8 272.7,334.8 273.2,335.7 273.9,336.1 275.2,336 275.9,335.6 276.4,334.9 276.9,332.2 277.6,316.7 278.4,333.7 278.9,335.3 279.9,336 281.2,336 281.9,335.6 282.7,333.6 283.5,317.7 284.2,332.9 284.7,335.1 285.2,335.7 285.9,336.1 287.7,335.9 288.4,334.8 289.3,324.3 289.9,333.9 290.4,335.5 290.9,336 291.9,336.3 294.7,336.3 295.9,335.6 296.4,333.9 297,327.2 297.7,334.7 298.4,335.9 299.4,336 300.2,335.3 301,329.3 301.7,335.1 302.4,336.1 305.7,336.4 306.9,336.3 307.7,335.8 308.2,334.6 308.7,330.6 309.2,334.4 309.4,335.1 309.9,335.1 310.8,329.3 311.4,334.5 311.9,335 312.4,333.5 313,326.3 313.7,334.5 314.2,335.7 315.4,336.3 316.7,336.3 317.4,336 318.3,332.6 318.9,335.7 319.9,336.4 321.2,336.4 322,335.9 322.7,336.4 323.4,336.5 325.2,336.5 326,336.1 327.2,336.5 331.9,336.4 332.7,336 333.4,333.7 334.2,336.1 334.9,336.4 336.4,336.3 336.9,336.1 337.4,335.3 338.2,329.3 338.9,335.3 339.4,336 339.9,336.2 340.4,336.1 340.9,335.5 341.4,336.3 342.7,336.5 350.7,336.5 351.4,336.4 352,335.9 353.2,336.5 359.4,336.5 360.7,336 361.3,334.2 361.9,336.1 362.9,336.5 364.2,336.5 365,335.9 365.7,336.5 366.4,336.6 373.7,336.6 375,336.2 376.2,336.6 381.7,336.6" stroke="#000000" stroke-width="1.05" stroke-opacity="0.45"/>
<path d="M223.7,336.6 237.7,336.5 238.4,336.3 239.1,335.4 239.7,336.3 241.2,336.6 251.2,336.4 252.9,336.2 253.9,335.8 254.7,334.5 255.2,331.2 255.9,308.6 256.7,332.3 257.4,335.3 257.9,335.8 258.9,336.2 263.7,336.5 270.4,336.4 271.2,335.9 271.8,333.8 272.2,335.4 272.7,336.2 274.4,336.3 275.9,335.9 276.4,335.3 276.9,333.1 277.6,320.7 278.4,334.3 278.9,335.5 279.9,336.1 281.2,336.1 281.9,335.8 282.7,334.2 283.5,321.5 284.2,333.6 284.7,335.4 285.9,336.2 287.7,336 288.4,335.2 289.3,326.8 289.9,334.4 290.4,335.7 291.9,336.4 295.9,336.3 296.4,336 297,334.6 297.7,336.1 298.7,336.4 299.7,336.2 300.4,334.9 301,330.8 301.7,335.4 302.4,336.2 305.9,336.4 307.7,336 308.2,335 308.7,331.8 309.2,334.8 309.4,335.4 309.9,335.4 310.8,330.8 311.4,335 311.9,335.3 312.4,334.1 313,328.3 313.7,334.9 314.2,335.9 315.4,336.4 317.4,336.1 318.3,333.4 318.9,335.9 319.9,336.4 321.2,336.5 322,336.1 323.4,336.5 325.2,336.5 326,336.2 327.2,336.5 331.9,336.5 332.7,336.1 333.4,334.3 334.2,336.2 336.4,336.4 337.4,335.6 338.2,330.8 338.9,335.6 339.9,336.3 340.9,335.8 341.4,336.3 342.7,336.5 350.7,336.6 352,336.1 353.2,336.6 359.4,336.5 360.7,336.1 361.3,334.7 361.9,336.2 362.9,336.5 364.2,336.5 365,336.1 366.4,336.6 373.7,336.6 375,336.3 376.2,336.6 381.7,336.6" stroke="#ff6030" stroke-width="0.84" stroke-opacity="0.4"/>
<path d="M223.7,336.6 237.7,336.4 238.4,335.9 239.1,333.5 239.7,335.8 240.7,336.5 250.9,336.5 252.9,336.2 253.9,335.8 254.7,334.5 255.2,331.2 255.9,308.6 256.7,332.3 257.4,335.3 257.9,335.8 258.9,336.2 266.7,336.5 270.4,336.1 271.2,334.9 271.8,329.7 272.2,333.7 272.7,335.6 273.2,336.1 273.9,336.3 275.9,335.9 276.4,335.2 276.9,333.1 277.6,320.7 278.4,334.3 278.9,335.5 279.9,336.1 281.2,336.1 281.9,335.8 282.7,334.2 283.5,321.5 284.2,333.6 284.7,335.4 285.9,336.2 287.7,336 288.4,335.1 289.3,326.8 289.9,334.4 290.4,335.7 291.9,336.4 294.7,336.4 295.9,336.1 296.4,335.2 297,331.8 297.7,335.6 298.4,336.2 299.7,336.1 300.4,334.9 301,330.8 301.7,335.4 302.4,336.2 305.9,336.4 307.7,336 308.2,335 308.7,331.8 309.2,334.8 309.4,335.4 309.9,335.4 310.8,330.8 311.4,335 311.9,335.3 312.4,334.1 313,328.3 313.7,334.9 314.2,335.9 315.4,336.3 317.4,336.1 318.3,333.4 318.9,335.9 319.9,336.4 321.2,336.5 322,336.1 323.4,336.5 325.2,336.5 326,336.2 327.2,336.5 331.9,336.5 332.7,336.1 333.4,334.3 334.2,336.2 336.4,336.4 337.4,335.6 338.2,330.8 338.9,335.6 339.9,336.3 340.9,335.8 341.4,336.3 342.7,336.5 350.7,336.6 352,336.1 353.2,336.6 359.4,336.5 360.7,336.1 361.3,334.7 361.9,336.2 362.9,336.5 364.2,336.5 365,336.1 366.4,336.6 373.7,336.6 375,336.3 376.2,336.6 381.7,336.6" stroke="#c0c0c0" stroke-width="0.84" stroke-opacity="0.5"/>
<path d="M223.7,336.6 235.2,336.5 237.7,336.3 238.4,335.4 239.1,331 239.7,335.2 240.2,336.1 240.7,336.3 250.7,336.4 252.7,336.1 253.9,335.4 254.7,333.7 255.2,329.1 255.9,297.3 256.7,330.6 257.4,334.8 257.9,335.5 258.9,336.1 261.7,336.4 267.2,336.5 269.4,336.3 270.4,335.8 271.2,333.5 271.8,324.2 272.2,331.3 272.7,334.9 273.2,335.7 273.9,336.1 275.2,336 275.9,335.5 276.4,334.7 276.9,331.7 277.6,314.3 278.4,333.4 278.9,335.1 279.9,335.9 281.2,335.9 281.9,335.4 282.7,333.2 283.5,315.4 284.2,332.4 284.7,334.9 285.2,335.6 285.9,336 287.7,335.8 288.4,334.6 289.3,322.8 289.9,333.5 290.4,335.4 290.9,335.9 291.9,336.3 294.7,336.3 295.9,335.7 296.4,334.2 297,328.1 297.7,334.8 298.4,336 299.4,336 300.2,335.2 301,328.4 301.7,335 302.4,336.1 305.7,336.4 306.9,336.2 307.7,335.8 308.2,334.4 308.7,329.9 309.2,334.1 309.4,334.9 309.7,335.1 309.9,334.9 310.8,328.4 311.4,334.3 311.9,334.8 312.4,333.1 313,325 313.7,334.3 314.2,335.6 315.4,336.2 316.7,336.3 317.4,335.9 318.3,332.2 318.9,335.6 319.9,336.3 321.2,336.4 322,335.9 322.7,336.4 323.4,336.5 325.2,336.5 326,336 327.2,336.5 331.9,336.4 332.7,335.9 333.4,333.3 334.2,336 334.9,336.4 336.4,336.3 336.9,336 337.4,335.2 338.2,328.5 338.9,335.2 339.4,336 339.9,336.2 340.4,336 340.9,335.4 341.4,336.2 342.7,336.5 350.7,336.5 351.4,336.4 352,335.9 352.4,336.3 353.2,336.5 359.4,336.5 360.7,335.9 361.3,333.9 361.9,336 362.9,336.5 364.2,336.5 365,335.9 365.7,336.4 366.4,336.5 373.7,336.6 375,336.2 376.2,336.6 381.7,336.6" stroke="#000000" stroke-width="1.05" stroke-opacity="0.45"/>
</g>
<rect x="223.7" y="177.9" width="158" height="158.7" fill="none" stroke="#505050" stroke-width="1.1"/>
<text x="219.5" y="341.2" text-anchor="end" class="tl">0</text>
<path d="M224.5,283.7 h4.5 M380.9,283.7 h-4.5" stroke="#333" stroke-width="0.9"/>
<text x="219.5" y="288.3" text-anchor="end" class="tl">100</text>
<path d="M224.5,230.8 h4.5 M380.9,230.8 h-4.5" stroke="#333" stroke-width="0.9"/>
<text x="219.5" y="235.4" text-anchor="end" class="tl">200</text>
<text x="219.5" y="182.5" text-anchor="end" class="tl">300</text>
<path d="M236.5,335.8 v-5 M236.5,178.7 v5" stroke="#444" stroke-width="0.9"/>
<text x="236.5" y="347.6" text-anchor="middle" class="tl">9</text>
<path d="M302.6,335.8 v-5 M302.6,178.7 v5" stroke="#444" stroke-width="0.9"/>
<path d="M368.7,335.8 v-5 M368.7,178.7 v5" stroke="#444" stroke-width="0.9"/>
<text x="368.7" y="347.6" text-anchor="middle" class="tl">10</text>
<text x="260.2" y="201" class="tt">3A&quot; x10</text>
<text x="332.9" y="188.1" class="lg">0-&gt;1</text>
<path d="M350,186 H372.9" stroke="#ff8080" stroke-width="0.85"/>
<text x="332.9" y="195.06" class="lg">1-&gt;0</text>
<path d="M350,192.96 H372.9" stroke="#80ff80" stroke-width="0.85"/>
<text x="332.9" y="202.02" class="lg">1-&gt;1</text>
<path d="M350,199.92 H372.9" stroke="#8080ff" stroke-width="0.85"/>
<text x="332.9" y="208.98" class="lg">1-&gt;2</text>
<path d="M350,206.88 H372.9" stroke="#ff80ff" stroke-width="0.85"/>
<text x="332.9" y="215.94" class="lg">2-&gt;1</text>
<path d="M350,213.84 H372.9" stroke="#80ffff" stroke-width="0.85"/>
<text x="332.9" y="222.9" class="lg">2-&gt;2</text>
<path d="M350,220.8 H372.9" stroke="#ffff80" stroke-width="0.85"/>
<text x="332.9" y="229.86" class="lg">2-&gt;3</text>
<path d="M350,227.76 H372.9" stroke="#888888" stroke-width="0.85"/>
<text x="332.9" y="236.82" class="lg">3-&gt;2</text>
<path d="M350,234.72 H372.9" stroke="#ffa080" stroke-width="0.85"/>
<text x="332.9" y="243.78" class="lg">3-&gt;3</text>
<path d="M350,241.68 H372.9" stroke="#d8d8d8" stroke-width="0.85"/>
<text x="332.9" y="250.74" class="lg">3-&gt;4</text>
<path d="M350,248.64 H372.9" stroke="#777777" stroke-width="0.85"/>
<clipPath id="c216"><rect x="408.8" y="178.4" width="158.5" height="158.2"/></clipPath>
<g clip-path="url(#c216)" fill="none" stroke-width="1" stroke-linejoin="round" stroke-opacity="0.6">
<path d="M408.8,336.6 416.1,336.3 417.3,335.8 418.1,334.7 418.8,329 419.4,305.5 420.1,329.9 420.6,334.1 421.1,335.3 422.1,336 424.1,336.4 431.6,336.4 435.1,335.9 436.1,335.3 436.6,334.6 437.3,331.7 437.8,324.1 438.5,271.2 439.1,318.5 439.6,330.3 440.1,333.5 440.6,334.7 441.6,335.7 443.3,336.1 444.8,335.9 445.3,335.2 445.6,334.3 446,330.8 446.6,334.8 447.1,335.8 447.6,336 449.6,336.1 451.1,335.7 451.6,334.8 452,332.6 452.8,335 453.6,334.8 454.3,333.6 454.8,331.8 455.3,327.5 455.8,313.3 456.5,215.3 457.1,303 457.6,324.9 458.1,330.9 459.1,334.2 459.8,334.6 460.5,332.6 461.1,334.9 462.1,335.7 463.3,335.5 463.8,334.7 464.5,328.7 465.1,334.1 465.8,335.7 466.8,335.9 468,335.5 468.6,335.8 469.6,335.7 470.8,335 471.6,334.1 472.3,331.8 472.8,327.8 473.3,315.7 474.1,200.8 474.8,310.5 475.3,326.3 475.8,331.1 476.3,332.9 476.6,333.3 476.8,333.2 477.3,331.3 478.1,334.8 478.8,335.6 479.8,335.9 481.3,335.8 482,334.5 482.6,335.7 483.6,336.1 485.3,335.6 486,334 486.6,335.1 487.3,334.7 488.1,331.1 488.7,313.4 489.3,330.1 489.8,333.2 490.3,333.5 490.8,332.5 491.3,329.2 491.8,316.9 492.4,257 493.1,319.3 493.6,330 494.1,333.1 494.8,334.7 495.3,335 495.6,334.9 496,334 496.8,335.7 499.3,336.2 501.3,336 502,335 502.6,335.9 503.1,336 504.1,335.8 504.8,335.1 505.6,331.6 506.2,314.2 507.1,333.1 507.8,335 508.6,335 509.1,334.4 509.8,329.7 510.5,301.5 511.3,331.1 511.8,334.2 512.8,335.7 515,336.2 515.5,335.9 516,335 516.5,336 517.3,336.3 521,336.4 522.8,336 523.3,335.4 523.8,333 524.3,325.5 525,334.5 525.5,335.6 526.5,335.7 527.3,334.2 528,324.7 528.8,334.7 529.3,335.8 530,336.2 534.3,336.5 540.8,336.3 541.3,336.1 541.8,335.1 542.3,331.9 543,335.8 544,336.4 548.8,336.5 549.5,336.2 550,335.5 550.5,336.3 551.3,336.5 558,336.5 559,336 559.6,334.5 560,335.8 560.8,336.4 567.3,336.6" stroke="#ff0000" stroke-width="1.05" stroke-opacity="0.65"/>
<path d="M408.8,336.6 418.1,336.6 418.8,336.4 419.4,336 420.1,336.5 421.1,336.6 436.6,336.6 437.8,336.3 438.5,335.3 439.1,336.2 440.1,336.5 454.3,336.5 455.8,336.1 456.5,334.2 457.1,335.9 458.1,336.5 471.6,336.5 473.3,336.2 474.1,333.9 474.8,336.1 476.3,336.5 487.3,336.6 488.7,336.1 489.3,336.5 490.8,336.5 491.8,336.2 492.4,335 493.1,336.3 494.8,336.6 504.8,336.6 506.2,336.2 507.1,336.5 509.1,336.6 509.8,336.5 510.5,335.9 511.3,336.5 512.8,336.6 522.8,336.6 524.3,336.4 526.5,336.6 528,336.4 530,336.6 567.3,336.6" stroke="#00ff00" stroke-width="0.73" stroke-opacity="0.35"/>
<path d="M408.8,336.6 416.1,336.4 417.3,336.2 418.1,335.7 418.8,332.8 419.4,321 420.1,333.2 420.6,335.3 421.1,335.9 422.1,336.3 424.3,336.5 431.6,336.5 435.1,336.3 436.6,335.6 437.3,334.1 437.8,330.3 438.5,303.9 439.1,327.5 439.6,333.5 440.1,335.1 440.6,335.7 441.6,336.1 444.8,336.2 445.6,335.4 446,333.7 446.6,335.7 447.6,336.3 451.1,336.1 451.6,335.7 452,334.6 452.8,335.8 453.6,335.7 454.3,335.1 454.8,334.2 455.3,332 455.8,325 456.5,276 457.1,319.8 457.6,330.8 458.1,333.7 459.1,335.4 459.8,335.6 460.5,334.6 461.1,335.8 462.1,336.2 463.3,336.1 463.8,335.6 464.5,332.6 465.1,335.3 465.8,336.1 467.3,336.2 468,335.9 469.6,336.1 471.6,335.3 472.3,334.2 472.8,332.2 473.3,326.2 474.1,268.7 474.8,323.6 475.3,331.5 475.8,333.8 476.3,334.8 476.8,334.9 477.3,334 478.1,335.7 479.8,336.2 481.3,336.2 482,335.5 482.6,336.1 483.6,336.3 485.3,336.1 486,335.3 486.6,335.9 487.3,335.7 488.1,333.9 488.7,325 489.3,333.3 489.8,334.9 490.3,335 490.8,334.5 491.3,332.9 491.8,326.8 492.4,296.8 493.1,328 493.6,333.3 494.1,334.9 494.8,335.7 495.6,335.7 496,335.3 496.8,336.2 499.3,336.4 501.3,336.3 502,335.8 503.1,336.3 504.8,335.9 505.6,334.1 506.2,325.4 507.1,334.9 507.8,335.8 508.6,335.8 509.1,335.5 509.8,333.1 510.5,319.1 511.3,333.9 511.8,335.4 512.8,336.2 515,336.4 516,335.8 516.5,336.3 517.3,336.5 522.8,336.3 523.3,336 523.8,334.8 524.3,331.1 525,335.6 525.5,336.1 526.5,336.2 527.3,335.4 528,330.7 528.8,335.7 529.3,336.2 530,336.4 540.8,336.5 541.8,335.8 542.3,334.2 543,336.2 544,336.5 548.8,336.5 550,336.1 551.3,336.6 558,336.5 559,336.3 559.6,335.5 560,336.2 560.8,336.5 567.3,336.6" stroke="#0000ff" stroke-width="0.63" stroke-opacity="0.22"/>
<path d="M408.8,336.6 416.1,336.4 417.3,336.2 418.1,335.7 418.8,332.9 419.4,321.4 420.1,333.3 420.6,335.4 421.1,336 422.1,336.3 424.3,336.5 431.6,336.5 435.1,336.3 436.6,335.6 437.3,334.2 437.8,330.5 438.5,304.6 439.1,327.7 439.6,333.5 440.1,335.1 440.6,335.7 441.6,336.1 444.8,336.2 445.6,335.5 446,333.8 446.6,335.7 447.6,336.3 451.1,336.1 451.6,335.7 452,334.7 452.8,335.8 453.6,335.7 454.3,335.1 454.8,334.2 455.3,332.1 455.8,325.2 456.5,277.2 457.1,320.1 457.6,330.9 458.1,333.8 459.1,335.4 459.8,335.6 460.5,334.7 461.1,335.8 462.1,336.2 463.3,336.1 463.8,335.7 464.5,332.7 465.1,335.4 465.8,336.1 467.3,336.2 468,335.9 469.6,336.1 471.6,335.4 472.3,334.2 472.8,332.3 473.3,326.4 474.1,270.1 474.8,323.8 475.3,331.6 475.8,333.9 476.3,334.8 476.8,334.9 477.3,334 478.1,335.7 479.8,336.2 481.3,336.2 482,335.6 482.6,336.2 483.6,336.3 485.3,336.1 486,335.3 486.6,335.9 487.3,335.7 488.1,333.9 488.7,325.2 489.3,333.4 489.8,334.9 490.3,335.1 490.8,334.6 491.3,333 491.8,327 492.4,297.6 493.1,328.1 493.6,333.4 494.1,334.9 494.8,335.7 495.6,335.8 496,335.3 496.8,336.2 499.3,336.4 501.3,336.3 502,335.8 503.1,336.3 504.8,335.9 505.6,334.1 506.2,325.6 507.1,334.9 507.8,335.8 508.6,335.8 509.1,335.5 509.8,333.2 510.5,319.4 511.3,333.9 511.8,335.4 512.8,336.2 515,336.4 516,335.8 516.5,336.3 517.3,336.5 522.8,336.3 523.3,336 523.8,334.8 524.3,331.2 525,335.6 525.5,336.1 526.5,336.2 527.3,335.4 528,330.8 528.8,335.7 529.3,336.2 530,336.4 540.8,336.5 541.8,335.9 542.3,334.3 543,336.2 544,336.5 548.8,336.6 550,336.1 551.3,336.6 558,336.5 559,336.3 559.6,335.6 560,336.2 560.8,336.5 567.3,336.6" stroke="#ff00ff" stroke-width="0.63" stroke-opacity="0.22"/>
<path d="M408.8,336.6 418.1,336.6 418.8,336.4 419.4,336 420.1,336.5 421.1,336.6 436.6,336.6 437.8,336.3 438.5,335.3 439.1,336.2 440.1,336.5 454.3,336.5 455.8,336.1 456.5,334.2 457.1,335.9 458.1,336.5 471.6,336.5 473.3,336.2 474.1,333.9 474.8,336.1 476.3,336.5 487.3,336.6 488.7,336.1 489.3,336.5 490.8,336.5 491.8,336.2 492.4,335 493.1,336.3 494.8,336.6 504.8,336.6 506.2,336.2 507.1,336.5 509.1,336.6 509.8,336.5 510.5,335.9 511.3,336.5 512.8,336.6 522.8,336.6 524.3,336.4 526.5,336.6 528,336.4 530,336.6 567.3,336.6" stroke="#00ffff" stroke-width="0.73" stroke-opacity="0.35"/>
<path d="M408.8,336.6 416.1,336.5 418.1,336 418.8,334.3 419.4,327.3 420.1,334.6 420.6,335.8 421.1,336.2 424.3,336.5 431.6,336.5 435.1,336.4 436.6,336 437.3,335.1 437.8,332.8 438.5,317 439.1,331.2 439.6,334.7 440.1,335.7 441.6,336.3 444.8,336.4 445.6,335.9 446,334.9 446.6,336.1 447.6,336.4 451.1,336.3 452,335.4 452.8,336.1 454.3,335.7 454.8,335.2 455.3,333.9 455.8,329.6 456.5,300.2 457.1,326.5 457.6,333.1 458.1,334.9 459.1,335.9 459.8,336 460.5,335.4 461.1,336.1 462.1,336.3 463.8,336 464.5,334.2 465.1,335.8 465.8,336.3 467.3,336.4 468,336.1 469.6,336.3 471.6,335.8 472.3,335.2 472.8,334 473.3,330.3 474.1,295.9 474.8,328.8 475.3,333.5 475.8,334.9 476.3,335.5 476.8,335.6 477.3,335 478.1,336.1 479.8,336.4 481.3,336.4 482,336 482.6,336.3 483.6,336.4 485.3,336.3 486,335.8 486.6,336.2 487.3,336 488.1,335 488.7,329.6 489.3,334.6 489.8,335.6 490.3,335.7 490.8,335.4 491.3,334.4 491.8,330.7 492.4,312.7 493.1,331.4 493.6,334.6 494.1,335.6 494.8,336 495.6,336.1 496,335.8 496.8,336.3 499.3,336.5 501.3,336.4 502,336.1 503.1,336.4 504.8,336.2 505.6,335.1 506.2,329.9 507.1,335.6 507.8,336.1 509.1,335.9 509.8,334.5 510.5,326.1 511.3,335 511.8,335.9 512.8,336.3 515,336.5 516,336.1 517.3,336.5 522.8,336.4 523.3,336.2 523.8,335.5 524.3,333.3 525,336 525.5,336.3 526.5,336.3 527.3,335.9 528,333 528.8,336 530,336.5 540.8,336.5 541.8,336.1 542.3,335.2 543,336.4 544,336.5 548.8,336.6 550,336.3 551.3,336.6 558,336.6 559,336.4 559.6,336 560.8,336.6 567.3,336.6" stroke="#ffff00" stroke-width="0.63" stroke-opacity="0.35"/>
<path d="M408.8,336.6 416.1,336.5 418.1,336.1 418.8,334.7 419.4,328.8 420.1,334.9 420.6,336 421.1,336.3 422.3,336.4 423,335.9 423.6,336.4 424.3,336.5 431.3,336.5 435.3,336.4 436.6,336.1 437.3,335.4 437.8,333.5 438.5,320.3 439.1,332.1 439.6,335 440.1,335.8 441.6,336.4 444.8,336.4 445.6,336 446,335.1 446.6,336.1 447.6,336.5 451.1,336.4 452,335.6 452.8,336.2 454.3,335.8 455.3,334.3 455.8,330.8 456.5,306.3 457.1,328.2 457.6,333.7 458.1,335.2 459.1,336 459.8,336.1 460.5,335.6 461.1,336.2 462.1,336.4 463.8,336.1 464.5,334.6 465.1,336 465.8,336.3 467.3,336.2 468,335.1 468.6,336.1 469.1,336.3 471.6,336 472.3,335.4 472.8,334.4 473.3,331.4 474.1,302.6 474.8,330.1 475.3,334 475.8,335.2 476.3,335.7 476.8,335.8 477.3,335.3 478.1,336.2 479.8,336.4 481.3,336.4 482,336.1 483.6,336.5 485.3,336.4 486,335.9 486.6,336.2 487.3,336.1 488.1,335.2 488.7,330.8 489.3,335 489.8,335.7 490.8,335.6 491.3,334.7 491.8,331.7 492.4,316.7 493.1,332.3 493.6,334.9 494.1,335.7 494.8,336.1 496,335.9 496.8,336.4 499.3,336.5 504.8,336.2 505.6,335.3 506.2,331 507.1,335.7 507.8,336.2 509.1,336.1 509.8,334.9 510.5,327.8 511.3,335.2 511.8,336 512.8,336.4 515,336.5 516,336.2 517.3,336.5 522.8,336.4 523.8,335.7 524.3,333.8 525,336.1 526.5,336.4 527.3,336 528,333.6 528.8,336.1 530,336.5 540.8,336.5 541.8,336.2 542.3,335.4 543,336.4 544,336.6 548.8,336.6 550,336.3 551.3,336.6 558,336.6 559,336.5 559.6,336.1 560.8,336.6 567.3,336.6" stroke="#000000" stroke-width="1.05" stroke-opacity="0.45"/>
<path d="M408.8,336.6 416.1,336.5 418.1,336.2 418.8,335.1 419.4,330.4 420.1,335.3 420.6,336.1 421.1,336.3 431.6,336.6 436.6,336.2 437.3,335.6 437.8,334.1 438.5,323.5 439.1,333 439.6,335.3 440.1,336 441.6,336.4 444.8,336.5 445.6,336.1 446,335.4 446.6,336.2 447.6,336.5 451.1,336.4 452,335.8 452.8,336.3 454.3,336 455.3,334.8 455.8,331.9 456.5,312.3 457.1,329.9 457.6,334.3 458.1,335.5 459.1,336.1 459.8,336.2 460.5,335.8 461.1,336.3 462.1,336.4 463.8,336.2 464.5,335 465.1,336.1 465.8,336.4 468,336.2 469.6,336.4 471.6,336.1 472.3,335.6 472.8,334.8 473.3,332.4 474.1,309.4 474.8,331.4 475.3,334.5 476.3,335.9 476.8,335.9 477.3,335.5 478.1,336.2 479.8,336.5 482,336.2 483.6,336.5 485.3,336.4 486,336.1 487.3,336.2 488.1,335.5 488.7,332 489.3,335.3 489.8,335.9 490.8,335.8 491.3,335.1 491.8,332.7 492.4,320.7 493.1,333.1 493.6,335.3 494.1,335.9 494.8,336.2 496,336.1 496.8,336.4 499.3,336.5 504.8,336.3 505.6,335.6 506.2,332.1 507.1,335.9 507.8,336.3 509.1,336.2 509.8,335.2 510.5,329.6 511.3,335.5 511.8,336.1 512.8,336.4 522.8,336.5 523.8,335.9 524.3,334.4 525,336.2 526.5,336.4 527.3,336.1 528,334.2 528.8,336.2 530,336.5 540.8,336.5 541.8,336.3 542.3,335.7 543,336.4 544,336.6 550,336.4 558,336.6 559.6,336.2 560.8,336.6 567.3,336.6" stroke="#ff6030" stroke-width="0.84" stroke-opacity="0.4"/>
<path d="M408.8,336.6 416.1,336.5 418.1,336.2 418.8,335.1 419.4,330.4 420.1,335.3 420.6,336.1 421.1,336.3 431.3,336.6 436.6,336.2 437.3,335.6 437.8,334.1 438.5,323.5 439.1,333 439.6,335.3 440.1,336 441.6,336.4 444.8,336.5 445.6,336.1 446,335.4 446.6,336.2 447.6,336.5 451.1,336.4 452,335.8 452.8,336.3 454.3,336 455.3,334.8 455.8,331.9 456.5,312.3 457.1,329.9 457.6,334.3 458.1,335.4 459.1,336.1 459.8,336.2 460.5,335.8 461.1,336.3 462.1,336.4 463.8,336.2 464.5,335 465.1,336.1 465.8,336.4 467.3,336.4 468,335.8 469.1,336.4 471.6,336.1 472.3,335.6 472.8,334.8 473.3,332.4 474.1,309.4 474.8,331.4 475.3,334.5 476.3,335.9 476.8,335.9 477.3,335.5 478.1,336.2 479.8,336.5 482,336.2 483.6,336.5 485.3,336.4 486,336.1 487.3,336.2 488.1,335.5 488.7,332 489.3,335.3 489.8,335.9 490.8,335.8 491.3,335.1 491.8,332.7 492.4,320.7 493.1,333.1 493.6,335.3 494.1,335.9 494.8,336.2 496,336.1 496.8,336.4 499.3,336.5 504.8,336.3 505.6,335.6 506.2,332.1 507.1,335.9 507.8,336.3 509.1,336.2 509.8,335.2 510.5,329.6 511.3,335.5 511.8,336.1 512.8,336.4 522.8,336.5 523.8,335.9 524.3,334.4 525,336.2 526.5,336.4 527.3,336.1 528,334.2 528.8,336.2 530,336.5 540.8,336.5 541.8,336.3 542.3,335.7 543,336.4 544,336.6 550,336.4 558,336.6 559.6,336.2 560.8,336.6 567.3,336.6" stroke="#c0c0c0" stroke-width="0.84" stroke-opacity="0.5"/>
<path d="M408.8,336.6 416.1,336.5 418.1,336.1 418.8,334.5 419.4,327.9 420.1,334.7 420.6,335.9 421.1,336.2 422.3,336.4 423,335.9 423.6,336.4 424.3,336.5 431.3,336.5 435.1,336.4 436.6,336 437.3,335.2 437.8,333.1 438.5,318.3 439.1,331.5 439.6,334.8 440.1,335.7 441.6,336.3 444.8,336.4 445.6,336 446,335 446.6,336.1 447.6,336.4 451.1,336.3 452,335.5 452.8,336.1 454.3,335.8 455.3,334 455.8,330.1 456.5,302.6 457.1,327.2 457.6,333.3 458.1,335 459.1,335.9 459.8,336 460.5,335.5 461.1,336.1 462.1,336.4 463.8,336.1 464.5,334.4 465.1,335.9 465.8,336.3 467.3,336.2 468,335.2 468.6,336.1 469.1,336.3 471.6,335.9 472.3,335.2 472.8,334.1 473.3,330.7 474.1,298.6 474.8,329.3 475.3,333.7 475.8,335.1 476.3,335.6 476.8,335.6 477.3,335.1 478.1,336.1 479.8,336.4 481.3,336.4 482,336 483.6,336.4 485.3,336.3 486,335.9 486.6,336.2 487.3,336.1 488.1,335.1 488.7,330.1 489.3,334.8 489.8,335.6 490.8,335.4 491.3,334.5 491.8,331.1 492.4,314.3 493.1,331.8 493.6,334.7 494.1,335.6 494.8,336.1 496,335.9 496.8,336.4 499.3,336.5 501.3,336.4 502,336.2 503.1,336.4 504.8,336.2 505.6,335.2 506.2,330.3 507.1,335.6 507.8,336.2 509.1,336 509.8,334.7 510.5,326.8 511.3,335.1 511.8,335.9 512.8,336.4 515,336.5 516,336.2 517.3,336.5 522.8,336.4 523.3,336.3 523.8,335.6 524.3,333.5 525,336 526.5,336.4 527.3,335.9 528,333.3 528.8,336.1 530,336.5 540.8,336.5 541.8,336.2 542.3,335.3 543,336.4 544,336.5 548.8,336.6 550,336.3 551.3,336.6 558,336.6 559,336.4 559.6,336 560.8,336.6 567.3,336.6" stroke="#000000" stroke-width="1.05" stroke-opacity="0.45"/>
</g>
<rect x="408.8" y="178.4" width="158.5" height="158.2" fill="none" stroke="#505050" stroke-width="1.1"/>
<text x="404.6" y="341.2" text-anchor="end" class="tl">0</text>
<path d="M409.6,283.87 h4.5 M566.5,283.87 h-4.5" stroke="#333" stroke-width="0.9"/>
<text x="404.6" y="288.47" text-anchor="end" class="tl">200</text>
<path d="M409.6,231.13 h4.5 M566.5,231.13 h-4.5" stroke="#333" stroke-width="0.9"/>
<text x="404.6" y="235.73" text-anchor="end" class="tl">400</text>
<text x="404.6" y="183" text-anchor="end" class="tl">600</text>
<path d="M445.9,335.8 v-5 M445.9,179.2 v5" stroke="#444" stroke-width="0.9"/>
<text x="445.9" y="347.6" text-anchor="middle" class="tl">10</text>
<path d="M492.8,335.8 v-5 M492.8,179.2 v5" stroke="#444" stroke-width="0.9"/>
<path d="M539.6,335.8 v-5 M539.6,179.2 v5" stroke="#444" stroke-width="0.9"/>
<text x="539.6" y="347.6" text-anchor="middle" class="tl">11</text>
<text x="445.2" y="201" class="tt">4A&quot; x10</text>
<text x="518.5" y="188.6" class="lg">0-&gt;1</text>
<path d="M535.6,186.5 H558.5" stroke="#ff8080" stroke-width="0.85"/>
<text x="518.5" y="195.56" class="lg">1-&gt;0</text>
<path d="M535.6,193.46 H558.5" stroke="#80ff80" stroke-width="0.85"/>
<text x="518.5" y="202.52" class="lg">1-&gt;1</text>
<path d="M535.6,200.42 H558.5" stroke="#8080ff" stroke-width="0.85"/>
<text x="518.5" y="209.48" class="lg">1-&gt;2</text>
<path d="M535.6,207.38 H558.5" stroke="#ff80ff" stroke-width="0.85"/>
<text x="518.5" y="216.44" class="lg">2-&gt;1</text>
<path d="M535.6,214.34 H558.5" stroke="#80ffff" stroke-width="0.85"/>
<text x="518.5" y="223.4" class="lg">2-&gt;2</text>
<path d="M535.6,221.3 H558.5" stroke="#ffff80" stroke-width="0.85"/>
<text x="518.5" y="230.36" class="lg">2-&gt;3</text>
<path d="M535.6,228.26 H558.5" stroke="#888888" stroke-width="0.85"/>
<text x="518.5" y="237.32" class="lg">3-&gt;2</text>
<path d="M535.6,235.22 H558.5" stroke="#ffa080" stroke-width="0.85"/>
<text x="518.5" y="244.28" class="lg">3-&gt;3</text>
<path d="M535.6,242.18 H558.5" stroke="#d8d8d8" stroke-width="0.85"/>
<text x="518.5" y="251.24" class="lg">3-&gt;4</text>
<path d="M535.6,249.14 H558.5" stroke="#777777" stroke-width="0.85"/>
<clipPath id="c251"><rect x="594.4" y="182.4" width="154.1" height="154.2"/></clipPath>
<g clip-path="url(#c251)" fill="none" stroke-width="1" stroke-linejoin="round" stroke-opacity="0.6">
<path d="M594.4,336.4 595.4,336.1 596,334.8 596.6,336.1 597.6,336.4 602.9,336.2 603.4,335.9 604,334.8 604.6,335.8 606.4,335.6 607.9,334.2 608.9,330.6 609.4,324.5 609.9,302.8 610.5,197.8 611.1,306.7 611.6,325.4 612.1,330.9 612.6,333.1 613.6,334.9 615.1,335.6 616,334.8 616.6,335.8 618.1,336.2 621.9,336.2 623.9,335.9 624.4,335.4 625,333.4 625.6,335.3 626.6,335.3 627.9,334.2 628.6,332.2 629.4,325.6 629.9,308.5 630.6,189.6 631.4,314 632.1,329.7 632.6,332.6 633.6,334.7 635.4,335.6 636.4,335.7 636.9,335.4 637.4,334.2 638,328.4 638.6,334.5 639.4,335.8 641.4,336.2 643.9,335.9 644.4,335.5 645,333.4 645.6,335.3 646.4,335.5 647.4,334.6 647.9,333.4 648.4,330.3 648.9,319.6 649.5,267.7 649.9,307.3 650.4,327.1 650.9,331 651.1,331.1 651.4,329.7 652,316 652.6,331.6 653.1,334.3 653.9,335.5 654.9,335.9 656.1,335.9 656.6,335.7 657.1,334.9 658,326.3 658.6,334.2 659.4,335.8 660.4,336.1 661.1,335.8 662,332.5 662.6,335.5 663.1,336 664.6,336.2 666.4,336 667.4,335.4 667.9,334.7 668.4,332.8 668.9,326 669.5,293.4 670.1,327.3 670.6,333.1 671.1,334.8 672.1,335.8 673.9,336.2 675.1,335.7 676,331.5 676.6,335.4 677.4,336.2 683.6,336.4 685.4,336.3 686.4,335.9 686.9,335.1 687.4,332.6 688,320.2 688.6,333 689.1,335.2 689.6,335.9 690.4,336.2 692.9,336.4 694.1,336 695,332.5 695.6,335.7 696.4,336.3 703.6,336.5 704.4,336.1 705,334.8 705.6,336.2 706.1,336.4 710.4,336.4 711.4,335.6 712,332.5 712.6,335.7 713.1,336.3 713.9,336.5 723.6,336.5 724.4,336.1 725,334.5 725.6,336.2 726.6,336.5 738.6,336.5 739.4,336.3 740,335.6 740.6,336.4 741.1,336.5 748.4,336.6" stroke="#ff0000" stroke-width="1.05" stroke-opacity="0.65"/>
<path d="M594.4,336.6 608.9,336.5 609.9,335.9 610.5,333.8 611.1,336 612.1,336.5 628.6,336.5 629.9,336 630.6,333.7 631.4,336.1 633.6,336.6 647.9,336.5 648.9,336.3 649.5,335.2 650.4,336.4 651.4,336.5 652,336.2 653.9,336.6 667.9,336.6 668.9,336.4 669.5,335.7 670.1,336.4 672.1,336.6 686.4,336.6 688,336.3 690.4,336.6 748.4,336.6" stroke="#00ff00" stroke-width="0.73" stroke-opacity="0.35"/>
<path d="M594.4,336.5 595.4,336.2 596,335.1 596.6,336.2 597.4,336.5 602.9,336.3 603.4,336.1 604,335.2 604.6,336.1 606.4,336.1 607.9,335.4 608.9,333.6 609.4,330.5 609.9,319.7 610.5,267.2 611.1,321.7 611.6,331 612.1,333.7 612.9,335.2 613.9,335.8 615.1,336 616,335.3 616.6,336.1 618.4,336.4 623.9,336.2 624.4,335.8 625,334.1 625.6,335.7 626.6,335.9 627.9,335.4 628.6,334.4 629.4,331.1 629.9,322.5 630.6,263.1 631.4,325.3 632.1,333.2 632.6,334.6 633.6,335.6 635.4,336.1 636.9,336 637.4,335.4 638,332.5 638.6,335.6 639.4,336.2 641.6,336.4 643.9,336.2 644.4,335.8 645,334 645.4,335.3 645.9,335.9 647.1,335.7 647.9,335 648.4,333.5 648.9,328.1 649.5,302.2 649.9,321.9 650.4,331.9 650.9,333.8 651.1,333.8 651.4,333.2 652,326.3 652.6,334.1 653.1,335.5 653.9,336 656.1,336.2 657.1,335.8 658,331.5 658.6,335.4 659.4,336.2 661.1,336.2 662,334.5 662.6,336.1 663.1,336.3 666.4,336.3 667.9,335.6 668.4,334.7 668.9,331.3 669.5,315 670.1,331.9 670.6,334.8 671.1,335.7 672.1,336.2 673.9,336.4 675.1,336.2 676,334 676.6,336 677.4,336.4 683.6,336.5 686.4,336.2 686.9,335.9 687.4,334.6 688,328.4 688.6,334.8 689.1,335.9 690.4,336.4 694.1,336.3 695,334.5 695.6,336.1 696.4,336.5 703.6,336.5 704.4,336.2 705,335.1 705.6,336.3 706.1,336.5 710.4,336.5 711.4,336.1 712,334.5 712.6,336.2 713.9,336.5 723.6,336.5 724.4,336.3 725,335.6 725.6,336.4 726.6,336.6 738.6,336.6 740,336.1 741.1,336.6 748.4,336.6" stroke="#0000ff" stroke-width="0.63" stroke-opacity="0.22"/>
<path d="M594.4,336.5 595.4,336.2 596,335.1 596.6,336.2 597.4,336.5 602.9,336.3 603.4,336.1 604,335.2 604.6,336.1 606.4,336.1 607.9,335.4 608.9,333.6 609.4,330.6 609.9,320 610.5,268.6 611.1,322 611.6,331.1 612.1,333.8 612.6,334.9 613.6,335.8 615.1,336.1 616,335.3 616.6,336.1 618.4,336.4 623.9,336.2 624.4,335.8 625,334.1 625.6,335.7 626.6,335.9 627.9,335.4 628.6,334.4 629.4,331.2 629.9,322.8 630.6,264.6 631.4,325.5 632.1,333.2 632.6,334.6 633.6,335.7 635.4,336.1 636.9,336 637.4,335.4 638,332.6 638.6,335.6 639.4,336.2 641.6,336.4 643.9,336.2 644.4,335.8 645,334 645.4,335.3 645.9,335.9 647.1,335.8 647.9,335 648.4,333.5 648.9,328.3 649.5,302.8 649.9,322.2 650.4,331.9 650.9,333.9 651.1,333.9 651.4,333.2 652,326.5 652.6,334.1 653.1,335.5 653.9,336 656.1,336.3 657.1,335.8 658,331.6 658.6,335.4 659.4,336.2 661.1,336.2 662,334.6 662.6,336.1 663.1,336.3 666.4,336.3 667.9,335.6 668.4,334.7 668.9,331.4 669.5,315.4 670.1,332 670.6,334.9 671.1,335.7 672.1,336.2 673.9,336.4 675.1,336.2 676,334.1 676.6,336 677.4,336.4 683.6,336.5 686.4,336.2 686.9,335.9 687.4,334.6 688,328.5 688.6,334.9 689.1,335.9 690.4,336.4 694.1,336.3 695,334.6 695.6,336.1 696.4,336.5 703.6,336.5 704.4,336.2 705,335.1 705.6,336.3 706.1,336.5 710.4,336.5 711.4,336.1 712,334.6 712.6,336.2 713.9,336.5 723.6,336.5 724.4,336.4 725,335.6 725.6,336.4 726.6,336.6 738.6,336.6 740,336.1 741.1,336.6 748.4,336.6" stroke="#ff00ff" stroke-width="0.63" stroke-opacity="0.22"/>
<path d="M594.4,336.6 608.9,336.5 609.9,335.9 610.5,333.8 611.1,336 612.1,336.5 628.6,336.5 629.9,336 630.6,333.7 631.4,336.1 633.6,336.6 647.9,336.5 648.9,336.3 649.5,335.2 650.4,336.4 651.4,336.5 652,336.2 653.9,336.6 667.9,336.6 668.9,336.4 669.5,335.7 670.1,336.4 672.1,336.6 686.4,336.6 688,336.3 690.4,336.6 748.4,336.6" stroke="#00ffff" stroke-width="0.73" stroke-opacity="0.35"/>
<path d="M594.4,336.5 595.4,336.3 596,335.4 596.6,336.3 597.4,336.5 602.9,336.4 603.4,336.3 604,335.5 604.6,336.2 606.4,336.3 607.9,335.9 608.9,334.8 609.4,333 609.9,326.5 610.5,295 611.1,327.6 611.6,333.2 612.1,334.9 612.6,335.6 613.6,336.1 615.1,336.2 616,335.6 616.6,336.3 618.4,336.5 623.9,336.3 624.4,336 625,334.6 625.6,336 626.1,336.2 627.6,336 628.6,335.3 629.4,333.3 629.9,328.2 630.6,292.5 631.4,329.8 632.1,334.5 632.6,335.4 633.6,336 636.9,336.2 637.4,335.9 638,334.1 638.6,336 639.4,336.4 643.9,336.3 644.4,336 645,334.5 645.4,335.6 645.9,336.1 646.9,336.1 647.9,335.6 648.4,334.7 648.9,331.5 649.5,315.9 649.9,327.8 650.4,333.8 650.9,334.9 651.4,334.5 652,330.4 652.6,335.1 653.1,335.9 653.9,336.3 656.1,336.4 657.1,336.1 658,333.5 658.6,335.9 659.4,336.4 661.1,336.4 662,335.4 662.6,336.3 663.1,336.4 666.4,336.4 667.9,336 668.4,335.4 668.9,333.4 669.5,323.6 670.1,333.8 670.6,335.5 671.1,336.1 672.1,336.4 675.1,336.3 676,335.1 676.6,336.2 677.4,336.5 686.4,336.4 686.9,336.2 687.4,335.4 688,331.7 688.6,335.5 689.1,336.2 690.4,336.5 694.1,336.4 695,335.4 695.6,336.3 696.1,336.5 703.4,336.5 704.4,336.3 705,335.3 705.6,336.3 707.1,336.6 710.9,336.5 711.4,336.3 712,335.4 712.6,336.3 713.9,336.6 723.6,336.6 724.4,336.4 725,336 725.6,336.5 726.6,336.6 738.6,336.6 740,336.3 741.1,336.6 748.4,336.6" stroke="#ffff00" stroke-width="0.63" stroke-opacity="0.35"/>
<path d="M594.4,336.4 594.9,336.1 595.4,335.4 596,331.7 596.6,335.5 597.6,336.4 601.1,336.5 602.9,336.2 603.4,335.5 604,332.5 604.6,335.6 605.1,336.1 607.6,336.1 608.9,335.1 609.4,333.5 609.9,328.1 610.5,301.9 611.1,329.1 611.6,333.8 612.1,335.1 613.1,336 614.9,336.1 615.4,335.6 616,333.1 616.6,335.7 617.1,336.2 620.4,336.5 623.4,336.2 623.9,335.8 624.4,334.7 625,329 625.4,333.3 625.9,335.5 626.4,335.9 627.1,336 628.6,335.4 629.4,333.8 629.9,329.5 630.6,299.8 631.4,330.9 632.1,334.9 632.6,335.6 633.6,336.1 636.9,336.3 637.4,336 638,334.5 638.6,336.1 639.1,336.3 642.1,336.4 643.6,336 644.4,334.6 645,328.8 645.4,333.2 645.9,335.4 646.6,336 647.9,335.7 648.4,335 648.9,332.3 649.5,319.3 649.9,329.2 650.4,334.2 650.9,335.2 651.4,334.9 652,331.4 652.6,335.3 653.1,336 653.9,336.3 656.1,336.4 657.1,336.2 658,334 658.6,336 659.4,336.4 661.1,336.4 662,335.6 662.6,336.3 663.1,336.5 666.4,336.4 667.9,336.1 668.4,335.6 668.9,334 669.5,325.8 670.1,334.3 670.6,335.7 672.1,336.4 675.1,336.4 676,335.3 676.6,336.3 677.4,336.5 686.4,336.4 687.4,335.6 688,332.5 688.6,335.7 689.4,336.4 693.9,336.5 694.4,336.3 695,335.6 695.6,336.4 696.1,336.5 703.1,336.4 703.9,336.2 704.4,335.4 705,331.5 705.6,335.5 706.1,336.2 707.1,336.5 710.9,336.5 711.4,336.3 712,335.6 712.6,336.4 714.1,336.6 723.6,336.6 725,336.1 725.6,336.5 726.6,336.6 738.6,336.6 740,336.3 741.1,336.6 748.4,336.6" stroke="#000000" stroke-width="1.05" stroke-opacity="0.45"/>
<path d="M594.4,336.5 595.4,336.3 596,335.6 596.9,336.5 601.4,336.5 603.1,336.4 604,335.7 604.9,336.4 607.1,336.3 608.1,336 608.9,335.4 609.4,334.2 609.9,329.8 610.5,308.8 611.1,330.6 611.6,334.4 612.1,335.5 612.9,336 613.9,336.3 615.4,336.3 616,335.8 616.6,336.3 618.6,336.5 623.9,336.4 624.4,336.1 625,335 625.9,336.2 627.4,336.2 628.6,335.7 629.4,334.4 629.9,331 630.6,307.2 631.4,332.1 632.1,335.2 632.6,335.8 633.6,336.2 636.9,336.4 637.4,336.1 638,335 638.6,336.2 639.4,336.4 643.9,336.4 644.4,336.1 645,335 645.9,336.3 646.9,336.3 647.9,335.9 648.4,335.3 648.9,333.2 649.5,322.8 649.9,330.7 650.4,334.7 650.9,335.5 651.4,335.2 652,332.5 652.6,335.6 653.1,336.1 653.9,336.4 657.1,336.3 658,334.5 658.6,336.1 659.4,336.4 661.1,336.4 662,335.8 663.1,336.5 667.9,336.2 668.4,335.8 668.9,334.5 669.5,328 670.1,334.7 670.6,335.9 672.1,336.4 675.1,336.4 676,335.6 676.6,336.4 677.4,336.5 686.4,336.4 687.4,335.8 688,333.3 688.6,335.9 689.1,336.3 690.4,336.5 694.1,336.5 695,335.8 695.6,336.4 696.1,336.5 703.4,336.6 704.4,336.3 705,335.6 705.6,336.4 707.1,336.6 710.9,336.5 712,335.8 712.6,336.4 713.9,336.6 723.6,336.6 725,336.2 726.6,336.6 740,336.4 748.4,336.6" stroke="#ff6030" stroke-width="0.84" stroke-opacity="0.4"/>
<path d="M594.4,336.5 595.4,336 596,334.1 596.6,336.1 597.6,336.5 602.9,336.4 603.4,336 604,334.5 604.6,336.1 605.1,336.3 607.6,336.2 608.9,335.4 609.4,334.2 609.9,329.8 610.5,308.8 611.1,330.6 611.6,334.3 612.1,335.4 613.1,336.1 614.9,336.3 615.4,336 616,334.8 616.6,336.1 617.1,336.4 623.4,336.3 624.4,335.6 625,332.8 625.4,334.9 625.9,336 627.1,336.2 628.6,335.7 629.4,334.4 629.9,331 630.6,307.2 631.4,332.1 632.1,335.2 632.6,335.8 633.6,336.2 636.9,336.3 637.4,336.1 638,334.9 638.6,336.2 639.1,336.4 643.6,336.3 644.4,335.6 645,332.7 645.4,334.9 645.9,336 646.9,336.2 647.9,335.9 648.4,335.3 648.9,333.2 649.5,322.8 649.9,330.7 650.4,334.7 650.9,335.5 651.4,335.2 652,332.5 652.6,335.6 653.1,336.1 653.9,336.4 657.1,336.3 658,334.5 658.6,336.1 659.4,336.4 661.1,336.4 662,335.8 663.1,336.5 667.9,336.2 668.4,335.8 668.9,334.5 669.5,328 670.1,334.7 670.6,335.9 672.1,336.4 675.1,336.4 676,335.6 676.6,336.4 677.4,336.5 686.4,336.4 687.4,335.8 688,333.3 688.6,335.9 689.1,336.3 690.4,336.5 694.1,336.5 695,335.8 695.6,336.4 696.4,336.5 703.6,336.4 704.4,336 705,334.1 705.6,336.1 707.1,336.5 710.9,336.5 712,335.8 712.6,336.4 713.9,336.6 723.6,336.6 725,336.2 726.6,336.6 740,336.4 748.4,336.6" stroke="#c0c0c0" stroke-width="0.84" stroke-opacity="0.5"/>
<path d="M594.4,336.4 594.9,336.2 595.4,335.5 596,332.2 596.6,335.6 597.6,336.4 601.1,336.5 602.9,336.2 603.4,335.6 604,332.9 604.6,335.7 605.1,336.1 607.6,336 608.9,334.9 609.4,333.2 609.9,327.1 610.5,297.7 611.1,328.2 611.6,333.4 612.1,335 613.1,335.9 614.9,336.1 615.4,335.6 616,333.4 616.6,335.8 617.1,336.2 620.4,336.4 623.4,336.2 623.9,335.9 624.4,334.8 625,329.7 625.4,333.6 625.9,335.5 626.4,335.9 627.1,336 628.6,335.3 629.4,333.5 629.9,328.7 630.6,295.4 631.4,330.3 632.1,334.7 632.6,335.4 633.6,336 636.9,336.2 637.4,335.9 638,334.3 638.6,336 639.1,336.3 641.9,336.4 643.6,336.1 644.4,334.8 645,329.6 645.4,333.5 645.9,335.5 646.9,336 647.9,335.6 648.4,334.8 648.9,331.8 649.5,317.3 649.9,328.4 650.4,333.9 650.9,335 651.4,334.7 652,330.8 652.6,335.2 653.1,336 653.9,336.3 656.1,336.4 657.1,336.1 658,333.7 658.6,335.9 659.4,336.4 661.1,336.4 662,335.4 662.6,336.3 663.1,336.4 666.4,336.4 667.9,336.1 668.4,335.5 668.9,333.6 669.5,324.5 670.1,334 670.6,335.6 671.1,336.1 672.1,336.4 675.1,336.4 676,335.2 676.6,336.3 677.4,336.5 686.4,336.4 686.9,336.2 687.4,335.5 688,332 688.6,335.6 689.4,336.3 693.9,336.5 694.4,336.3 695,335.4 695.6,336.3 696.1,336.5 703.1,336.4 703.9,336.2 704.4,335.5 705,332 705.6,335.6 706.1,336.2 707.1,336.5 710.9,336.5 711.4,336.3 712,335.4 712.6,336.3 714.1,336.6 723.6,336.6 724.4,336.5 725,336 725.6,336.5 726.6,336.6 738.6,336.6 740,336.3 741.1,336.6 748.4,336.6" stroke="#000000" stroke-width="1.05" stroke-opacity="0.45"/>
</g>
<rect x="594.4" y="182.4" width="154.1" height="154.2" fill="none" stroke="#505050" stroke-width="1.1"/>
<text x="590.2" y="341.2" text-anchor="end" class="tl">0</text>
<path d="M595.2,285.2 h4.5 M747.7,285.2 h-4.5" stroke="#333" stroke-width="0.9"/>
<text x="590.2" y="289.8" text-anchor="end" class="tl">50</text>
<path d="M595.2,233.8 h4.5 M747.7,233.8 h-4.5" stroke="#333" stroke-width="0.9"/>
<text x="590.2" y="238.4" text-anchor="end" class="tl">100</text>
<text x="590.2" y="187" text-anchor="end" class="tl">150</text>
<path d="M603.5,335.8 v-5 M603.5,183.2 v5" stroke="#444" stroke-width="0.9"/>
<path d="M651.8,335.8 v-5 M651.8,183.2 v5" stroke="#444" stroke-width="0.9"/>
<text x="651.8" y="347.6" text-anchor="middle" class="tl">11</text>
<path d="M700.4,335.8 v-5 M700.4,183.2 v5" stroke="#444" stroke-width="0.9"/>
<text x="748.6" y="347.6" text-anchor="middle" class="tl">12</text>
<text x="629.5" y="203.8" class="tt">5A&quot; x10</text>
<text x="699.7" y="191.9" class="lg">0-&gt;1</text>
<path d="M716.8,189.8 H739.7" stroke="#ff8080" stroke-width="0.85"/>
<text x="699.7" y="198.74" class="lg">1-&gt;0</text>
<path d="M716.8,196.64 H739.7" stroke="#80ff80" stroke-width="0.85"/>
<text x="699.7" y="205.58" class="lg">1-&gt;1</text>
<path d="M716.8,203.48 H739.7" stroke="#8080ff" stroke-width="0.85"/>
<text x="699.7" y="212.42" class="lg">1-&gt;2</text>
<path d="M716.8,210.32 H739.7" stroke="#ff80ff" stroke-width="0.85"/>
<text x="699.7" y="219.26" class="lg">2-&gt;1</text>
<path d="M716.8,217.16 H739.7" stroke="#80ffff" stroke-width="0.85"/>
<text x="699.7" y="226.1" class="lg">2-&gt;2</text>
<path d="M716.8,224 H739.7" stroke="#ffff80" stroke-width="0.85"/>
<text x="699.7" y="232.94" class="lg">2-&gt;3</text>
<path d="M716.8,230.84 H739.7" stroke="#888888" stroke-width="0.85"/>
<text x="699.7" y="239.78" class="lg">3-&gt;2</text>
<path d="M716.8,237.68 H739.7" stroke="#ffa080" stroke-width="0.85"/>
<text x="699.7" y="246.62" class="lg">3-&gt;3</text>
<path d="M716.8,244.52 H739.7" stroke="#d8d8d8" stroke-width="0.85"/>
<text x="699.7" y="253.46" class="lg">3-&gt;4</text>
<path d="M716.8,251.36 H739.7" stroke="#777777" stroke-width="0.85"/>
<clipPath id="c286"><rect x="38" y="363.7" width="158.5" height="158.3"/></clipPath>
<g clip-path="url(#c286)" fill="none" stroke-width="1" stroke-linejoin="round" stroke-opacity="0.6">
<path d="M38,522 54,521.8 60,521.4 61.5,520.9 62.8,520.1 63.5,519 64.2,516.7 65,510.3 65.5,497.1 66.4,397.5 67,477.1 67.5,504.1 68.2,515 69,518.3 70,520 71.2,520.9 73,521.4 79.2,521.6 82,520.9 82.8,520.2 83.2,519.2 83.8,516.9 84.2,510.4 85,478.7 86,514.6 86.8,519.1 87.2,520.1 88.2,520.9 89.5,521.2 90.5,521 91.2,520.4 91.8,519.2 92.2,516 93,499.8 93.8,516 94.2,519.3 95,520.8 96,521.4 97.8,521.7 106.5,521.8 110.8,521.5 111.8,521.2 112.5,520.6 113,519.4 113.7,514.6 114.5,517.6 115,515.7 115.5,507.4 116.1,482.4 117,514 117.8,519.2 118.2,520.2 119.2,521.1 122.8,521.7 124.5,521.6 125.5,521.2 126.2,519.7 127,513.6 127.8,519.7 128.5,521.2 129.5,521.7 131.5,521.8 134.8,521.8 136.2,521.4 136.8,521 137.2,519.9 138.1,512.5 139,520 139.5,521 140.5,521.5 141.8,521.4 142.5,520.6 143.4,515.7 144.2,520.6 145,521.5 146.2,521.8 153.2,521.9 156.8,521.7 157.5,521.2 158.3,518.8 159.2,521.4 160.8,521.9 173.5,521.9 174.5,521.7 175.3,520.9 176.2,521.8 178.2,521.9 179.2,521.7 180,520.9 180.8,521.7 181.8,521.9 196.5,522" stroke="#ff0000" stroke-width="1.05" stroke-opacity="0.65"/>
<path d="M38,522 64.2,521.9 65.5,521.6 66.4,520.1 67,521.3 67.5,521.7 70,522 83.2,522 84.2,521.8 85,521.4 86,521.9 88.2,522 91.8,522 93,521.7 95,522 112.5,522 115,521.9 116.1,521.4 117,521.9 119.2,522 196.5,522" stroke="#00ff00" stroke-width="0.73" stroke-opacity="0.35"/>
<path d="M38,522 60,521.6 62.8,520.9 63.5,520.2 64.2,518.8 65,515 65.5,507 66.4,447.3 67,495.1 67.5,511.3 68.2,517.8 69,519.8 70,520.8 73,521.6 79.2,521.7 82,521.3 83.2,520.3 83.8,518.9 84.2,515.1 85,496 86,517.5 86.8,520.3 87.2,520.9 88.2,521.4 90.5,521.4 91.2,521 91.8,520.3 92.2,518.4 93,508.7 93.8,518.4 94.2,520.4 95,521.3 97.8,521.8 106.5,521.9 110.8,521.7 112.5,521.2 113,520.4 113.7,517.6 114.5,519.4 115,518.2 115.5,513.3 116.1,498.3 117,517.2 117.8,520.3 118.2,520.9 119.2,521.5 122.8,521.8 125.5,521.5 126.2,520.6 127,516.9 127.8,520.6 128.5,521.5 131.5,521.9 136.2,521.6 137.2,520.7 138.1,516.3 139,520.8 139.5,521.4 140.5,521.7 141.8,521.6 142.5,521.2 143.4,518.2 144.2,521.1 145,521.7 146.2,521.9 156.8,521.8 157.5,521.5 158.3,520.1 159.2,521.6 160.8,521.9 173.5,522 174.5,521.8 175.3,521.4 176.2,521.9 178.2,521.9 179.2,521.8 180,521.4 180.8,521.8 181.8,522 196.5,522" stroke="#0000ff" stroke-width="0.63" stroke-opacity="0.22"/>
<path d="M38,522 54,521.9 60,521.6 62.8,520.8 63.5,520.1 64.2,518.7 65,514.6 65.5,506.3 66.4,443.5 67,493.7 67.5,510.7 68.2,517.6 69,519.7 70,520.8 71.2,521.3 73,521.6 79.2,521.7 82,521.3 83.2,520.2 83.8,518.8 84.2,514.7 85,494.7 86,517.3 86.8,520.2 87.2,520.8 88.2,521.3 90.5,521.3 91.2,521 91.8,520.3 92.2,518.2 93,508 93.8,518.2 94.2,520.3 95,521.2 97.8,521.8 106.5,521.9 110.8,521.7 112.5,521.1 113,520.4 113.7,517.3 114.5,519.3 115,518 115.5,512.8 116.1,497.1 117,517 117.8,520.2 118.2,520.9 119.2,521.4 122.8,521.8 125.5,521.5 126.2,520.5 127,516.7 127.8,520.6 128.5,521.5 131.5,521.9 136.2,521.6 137.2,520.7 138.1,516 139,520.8 139.5,521.4 140.5,521.7 141.8,521.6 142.5,521.1 143.4,518 144.2,521.1 145,521.7 146.2,521.9 156.8,521.8 157.5,521.5 158.3,520 159.2,521.6 160.8,521.9 173.5,522 174.5,521.8 175.3,521.3 176.2,521.9 178.2,521.9 179.2,521.8 180,521.3 180.8,521.8 181.8,522 196.5,522" stroke="#ff00ff" stroke-width="0.63" stroke-opacity="0.22"/>
<path d="M38,522 64.2,521.9 65.5,521.7 66.4,520.5 67.5,521.8 70,522 83.2,522 85,521.5 86,521.9 88.2,522 93,521.7 95,522 112.5,522 115,521.9 116.1,521.5 117,521.9 119.2,522 196.5,522" stroke="#00ffff" stroke-width="0.73" stroke-opacity="0.35"/>
<path d="M38,522 60,521.7 62.8,521 63.5,520.4 64.2,519.1 65,515.6 65.5,508.3 66.4,453.5 67,497.3 67.5,512.2 68.2,518.2 69,520 70,520.9 73,521.6 79.2,521.8 82,521.4 83.2,520.4 83.8,519.2 84.2,515.6 85,498.2 86,517.9 86.8,520.4 87.2,521 88.2,521.4 90.5,521.4 91.2,521.1 91.8,520.5 92.2,518.7 93,509.8 93.8,518.7 94.2,520.5 95,521.3 97.8,521.8 106.5,521.9 110.8,521.8 112.5,521.2 113,520.6 113.7,517.9 114.5,519.6 115,518.5 115.5,514 116.1,500.2 117,517.6 117.8,520.4 118.2,521 119.2,521.5 122.8,521.8 125.5,521.6 126.2,520.7 127,517.4 127.8,520.7 128.5,521.6 131.5,521.9 136.2,521.7 137.2,520.8 138.1,516.8 139,520.9 139.5,521.5 140.5,521.7 141.8,521.7 142.5,521.2 143.4,518.5 144.2,521.2 145,521.7 146.2,521.9 156.8,521.9 157.5,521.6 158.3,520.3 159.2,521.7 160.8,521.9 173.5,522 174.5,521.9 175.3,521.4 176.2,521.9 178.2,521.9 179.2,521.8 180,521.4 180.8,521.8 181.8,522 196.5,522" stroke="#ffff00" stroke-width="0.63" stroke-opacity="0.35"/>
<path d="M38,522 60,521.7 62.8,521 63.5,520.4 64.2,519.1 65,515.6 65.5,508.3 66.4,453.5 67,497.3 67.5,512.2 68.2,518.2 69,520 70,520.9 73,521.6 79.2,521.8 82,521.4 83.2,520.4 83.8,519.2 84.2,515.6 85,498.2 86,517.9 86.8,520.4 87.2,521 88.2,521.4 90.5,521.4 91.2,521.1 91.8,520.5 92.2,518.7 93,509.8 93.8,518.7 94.2,520.5 95,521.3 97.8,521.8 106.5,521.9 110.8,521.8 112.5,521.2 113,520.6 113.7,517.9 114.5,519.6 115,518.5 115.5,514 116.1,500.2 117,517.6 117.8,520.4 118.2,521 119.2,521.5 122.8,521.8 125.5,521.6 126.2,520.7 127,517.4 127.8,520.7 128.5,521.6 131.5,521.9 136.2,521.7 137.2,520.8 138.1,516.8 139,520.9 139.5,521.5 140.5,521.7 141.8,521.7 142.5,521.2 143.4,518.5 144.2,521.2 145,521.7 146.2,521.9 156.8,521.9 157.5,521.6 158.3,520.3 159.2,521.7 160.8,521.9 173.5,522 174.5,521.9 175.3,521.4 176.2,521.9 178.2,521.9 179.2,521.8 180,521.4 180.8,521.8 181.8,522 196.5,522" stroke="#000000" stroke-width="1.05" stroke-opacity="0.45"/>
<path d="M38,522 60,521.6 62.8,520.9 63.5,520.3 64.2,519 65,515.2 65.5,507.5 66.4,449.8 67,496 67.5,511.6 68.2,517.9 69,519.9 70,520.9 73,521.6 79.2,521.7 82,521.4 83.2,520.4 83.8,519 84.2,515.3 85,496.9 86,517.7 86.8,520.3 87.2,520.9 88.2,521.4 90.5,521.4 91.2,521 91.8,520.4 92.2,518.5 93,509.1 93.8,518.5 94.2,520.4 95,521.3 97.8,521.8 106.5,521.9 110.8,521.7 112.5,521.2 113,520.5 113.7,517.7 114.5,519.5 115,518.3 115.5,513.6 116.1,499 117,517.4 117.8,520.4 118.2,521 119.2,521.5 122.8,521.8 125.5,521.5 126.2,520.7 127,517.1 127.8,520.7 128.5,521.5 131.5,521.9 136.2,521.7 137.2,520.8 138.1,516.5 139,520.9 139.5,521.4 140.5,521.7 141.8,521.7 142.5,521.2 143.4,518.3 144.2,521.2 145,521.7 146.2,521.9 156.8,521.8 157.5,521.6 158.3,520.2 159.2,521.7 160.8,521.9 173.5,522 174.5,521.8 175.3,521.4 176.2,521.9 178.2,521.9 179.2,521.8 180,521.4 180.8,521.8 181.8,522 196.5,522" stroke="#ff6030" stroke-width="0.84" stroke-opacity="0.4"/>
<path d="M38,522 60,521.7 62.8,521.2 63.5,520.8 64.2,519.9 65,517.3 65.5,512 66.4,472.2 67,504.1 67.5,514.8 68.2,519.2 69,520.5 70,521.2 73,521.7 79.2,521.8 82,521.6 83.2,520.9 83.8,520 84.2,517.4 85,504.7 86,519 86.8,520.9 88.2,521.6 90.5,521.6 91.8,520.9 92.2,519.6 93,513.1 93.8,519.6 94.2,520.9 95,521.5 97.8,521.9 106.5,521.9 110.8,521.8 112.5,521.4 113,521 113.7,519 114.5,520.3 115,519.5 115.5,516.2 116.1,506.2 117,518.8 117.8,520.9 119.2,521.6 122.8,521.9 125.5,521.7 126.2,521.1 127,518.6 127.8,521.1 128.5,521.7 131.5,521.9 136.2,521.8 137.2,521.1 138.1,518.2 139,521.2 139.5,521.6 140.5,521.8 142.5,521.5 143.4,519.5 144.2,521.4 146.2,521.9 156.8,521.9 157.5,521.7 158.3,520.7 159.2,521.8 160.8,522 173.5,522 175.3,521.6 176.2,521.9 178.2,522 180,521.6 181.8,522 196.5,522" stroke="#c0c0c0" stroke-width="0.84" stroke-opacity="0.5"/>
<path d="M38,522 60,521.6 62.8,520.9 63.5,520.2 64.2,518.8 65,515 65.5,507 66.4,447.3 67,495.1 67.5,511.3 68.2,517.8 69,519.8 70,520.8 73,521.6 79.2,521.7 82,521.3 83.2,520.3 83.8,518.9 84.2,515.1 85,496 86,517.5 86.8,520.3 87.2,520.9 88.2,521.4 90.5,521.4 91.2,521 91.8,520.3 92.2,518.4 93,508.7 93.8,518.4 94.2,520.4 95,521.3 97.8,521.8 106.5,521.9 110.8,521.7 112.5,521.2 113,520.4 113.7,517.6 114.5,519.4 115,518.2 115.5,513.3 116.1,498.3 117,517.2 117.8,520.3 118.2,520.9 119.2,521.5 122.8,521.8 125.5,521.5 126.2,520.6 127,516.9 127.8,520.6 128.5,521.5 131.5,521.9 136.2,521.6 137.2,520.7 138.1,516.3 139,520.8 139.5,521.4 140.5,521.7 141.8,521.6 142.5,521.2 143.4,518.2 144.2,521.1 145,521.7 146.2,521.9 156.8,521.8 157.5,521.5 158.3,520.1 159.2,521.6 160.8,521.9 173.5,522 174.5,521.8 175.3,521.4 176.2,521.9 178.2,521.9 179.2,521.8 180,521.4 180.8,521.8 181.8,522 196.5,522" stroke="#000000" stroke-width="1.05" stroke-opacity="0.45"/>
</g>
<rect x="38" y="363.7" width="158.5" height="158.3" fill="none" stroke="#505050" stroke-width="1.1"/>
<text x="33.8" y="526.6" text-anchor="end" class="tl">0</text>
<path d="M38.8,469.23 h4.5 M195.7,469.23 h-4.5" stroke="#333" stroke-width="0.9"/>
<text x="33.8" y="473.83" text-anchor="end" class="tl">100</text>
<path d="M38.8,416.47 h4.5 M195.7,416.47 h-4.5" stroke="#333" stroke-width="0.9"/>
<text x="33.8" y="421.07" text-anchor="end" class="tl">200</text>
<text x="33.8" y="368.3" text-anchor="end" class="tl">300</text>
<path d="M105.8,521.2 v-5 M105.8,364.5 v5" stroke="#444" stroke-width="0.9"/>
<text x="105.8" y="533" text-anchor="middle" class="tl">12</text>
<text x="72" y="386.1" class="tt">10A' x10</text>
<text x="147.7" y="373.9" class="lg">0-&gt;1</text>
<path d="M164.8,371.8 H187.7" stroke="#ff8080" stroke-width="0.85"/>
<text x="147.7" y="380.86" class="lg">1-&gt;0</text>
<path d="M164.8,378.76 H187.7" stroke="#80ff80" stroke-width="0.85"/>
<text x="147.7" y="387.82" class="lg">1-&gt;1</text>
<path d="M164.8,385.72 H187.7" stroke="#8080ff" stroke-width="0.85"/>
<text x="147.7" y="394.78" class="lg">1-&gt;2</text>
<path d="M164.8,392.68 H187.7" stroke="#ff80ff" stroke-width="0.85"/>
<text x="147.7" y="401.74" class="lg">2-&gt;1</text>
<path d="M164.8,399.64 H187.7" stroke="#80ffff" stroke-width="0.85"/>
<text x="147.7" y="408.7" class="lg">2-&gt;2</text>
<path d="M164.8,406.6 H187.7" stroke="#ffff80" stroke-width="0.85"/>
<text x="147.7" y="415.66" class="lg">2-&gt;3</text>
<path d="M164.8,413.56 H187.7" stroke="#888888" stroke-width="0.85"/>
<text x="147.7" y="422.62" class="lg">3-&gt;2</text>
<path d="M164.8,420.52 H187.7" stroke="#ffa080" stroke-width="0.85"/>
<text x="147.7" y="429.58" class="lg">3-&gt;3</text>
<path d="M164.8,427.48 H187.7" stroke="#d8d8d8" stroke-width="0.85"/>
<text x="147.7" y="436.54" class="lg">3-&gt;4</text>
<path d="M164.8,434.44 H187.7" stroke="#777777" stroke-width="0.85"/>
<clipPath id="c318"><rect x="228.5" y="368.5" width="153.2" height="153.5"/></clipPath>
<g clip-path="url(#c318)" fill="none" stroke-width="1" stroke-linejoin="round" stroke-opacity="0.6">
<path d="M228.5,521.8 233.2,521.2 234.5,520.7 235.5,520 236.8,517.4 237.5,512.4 238,503.3 238.5,475.2 239.1,392 240,495.9 240.8,512.9 241.5,517.5 242.8,519.9 243.5,520.4 244.5,520.5 245,520.3 245.5,519.6 246,517 246.6,509.2 247.5,519.1 248,520.5 249,521.3 252,521.6 253,521.4 253.8,520.9 254.2,519.8 255,514.3 255.8,519.9 256.2,521 257.2,521.6 260.8,521.7 262,521 262.8,521.6 263.5,521.8 270.2,521.6 272.8,521 274,519.7 274.5,518.3 275,515.4 275.5,507.2 276.3,460.6 277.2,510.7 278,517.9 278.8,519.9 279.8,520.9 280.8,521.2 281.5,521.1 282.4,519.4 283.2,521.1 284,521.4 285,521.2 285.8,519.9 286.4,515.9 287.2,520.6 287.8,521.3 288.5,521.6 291.8,521.7 292.2,521.5 293,520.5 293.8,521.5 295,521.9 300,521.7 305.8,521.9 309.2,521.5 310.2,520.6 310.8,519.1 311.6,508.7 312.5,519.3 313.2,521 314.5,521.6 318.2,521.6 319,521 319.6,519.4 320.2,520.9 321,521 321.8,519 322.3,514.8 323,519.8 323.5,521 324.2,521.4 324.8,521.3 325.2,520.8 326,517.9 327,521.2 327.8,521.7 329,521.9 340.5,521.8 341.5,520.9 342.2,518.4 343,521.1 343.5,521.6 344.8,521.9 350,521.9 351.2,521 351.8,521.6 352.5,521.9 357.8,521.9 358.8,521.7 359.5,520.8 360.2,521.7 361.5,521.9 371.8,521.9 372.5,521.8 373.3,521.2 374,521.8 374.8,521.9 381.5,522" stroke="#ff0000" stroke-width="1.05" stroke-opacity="0.65"/>
<path d="M228.5,522 237.5,521.9 238.5,521.3 239.1,520.1 240,521.6 242.8,522 274,522 275.5,521.8 276.3,521.1 277.2,521.8 279.8,522 311.6,521.8 314.5,522 381.5,522" stroke="#00ff00" stroke-width="0.73" stroke-opacity="0.35"/>
<path d="M228.5,521.9 233.2,521.5 235.5,520.8 236.8,519.2 237.5,516.3 238,510.8 238.5,493.9 239.1,444 240,506.4 240.8,516.6 241.5,519.3 242.8,520.7 244.5,521.1 245.5,520.5 246,519 246.6,514.3 247.5,520.3 248,521.1 249,521.6 252,521.7 253.8,521.4 254.2,520.7 255,517.4 255.8,520.7 256.2,521.4 257.2,521.7 260.8,521.8 262,521.4 263.5,521.9 270.2,521.8 272.8,521.4 274,520.6 275,518 275.5,513.1 276.3,485.2 277.2,515.2 278,519.5 278.8,520.8 279.8,521.3 281.5,521.4 282.4,520.5 283.2,521.5 285,521.5 285.8,520.7 286.4,518.3 287.2,521.1 288.5,521.8 291.8,521.8 293,521.1 293.8,521.7 295,521.9 305.8,521.9 309.2,521.7 310.2,521.2 310.8,520.2 311.6,514 312.5,520.4 313.2,521.4 314.5,521.8 318.2,521.8 319,521.4 319.6,520.5 320.2,521.3 321,521.4 321.8,520.2 322.3,517.7 323,520.7 323.5,521.4 324.2,521.6 325.2,521.3 326,519.5 327,521.5 329,521.9 340.5,521.9 341.5,521.4 342.2,519.9 343,521.5 344.8,521.9 350,521.9 351.2,521.4 352.5,521.9 357.8,521.9 358.8,521.8 359.5,521.3 360.2,521.8 361.5,522 371.8,522 373.3,521.5 374.8,522 381.5,522" stroke="#0000ff" stroke-width="0.63" stroke-opacity="0.22"/>
<path d="M228.5,521.8 233.2,521.5 235.5,520.7 236.8,519 237.5,515.8 238,509.9 238.5,491.6 239.1,437.5 240,505.1 240.8,516.1 241.5,519.1 242.8,520.6 244.5,521 245.5,520.4 246,518.7 246.6,513.7 247.5,520.1 248,521 249,521.5 252,521.7 253.8,521.3 254.2,520.6 255,517 255.8,520.6 256.2,521.3 257.2,521.7 260.8,521.8 262,521.3 263.5,521.9 270.2,521.7 272.8,521.3 274,520.5 275,517.7 275.5,512.4 276.3,482.1 277.2,514.7 278,519.3 278.8,520.6 279.8,521.3 281.5,521.4 282.4,520.3 283.2,521.4 285,521.5 285.8,520.6 286.4,518 287.2,521.1 288.5,521.8 291.8,521.8 293,521 293.8,521.7 295,521.9 305.8,521.9 309.2,521.7 310.2,521.1 310.8,520.1 311.6,513.4 312.5,520.2 313.2,521.4 314.5,521.8 318.2,521.7 319,521.3 319.6,520.3 320.2,521.3 321,521.3 321.8,520.1 322.3,517.3 323,520.6 323.5,521.3 324.2,521.6 325.2,521.2 326,519.3 327,521.5 329,521.9 340.5,521.8 341.5,521.3 342.2,519.7 343,521.4 344.8,521.9 350,521.9 351.2,521.3 352.5,521.9 357.8,521.9 358.8,521.8 359.5,521.2 360.2,521.8 361.5,522 371.8,522 373.3,521.5 374.8,522 381.5,522" stroke="#ff00ff" stroke-width="0.63" stroke-opacity="0.22"/>
<path d="M228.5,522 237.5,521.9 238.5,521.4 239.1,520.4 240,521.7 242.8,522 274,522 275.5,521.8 276.3,521.3 277.2,521.9 279.8,522 381.5,522" stroke="#00ffff" stroke-width="0.73" stroke-opacity="0.35"/>
<path d="M228.5,521.9 233.2,521.6 235.5,520.9 236.8,519.5 237.5,516.7 238,511.7 238.5,496.3 239.1,450.5 240,507.7 240.8,517 241.5,519.5 242.8,520.8 244.5,521.2 245.5,520.7 246,519.2 246.6,515 247.5,520.4 248,521.2 249,521.6 252,521.8 253.8,521.4 254.2,520.8 255,517.8 255.8,520.8 256.2,521.4 257.2,521.8 260.8,521.9 262,521.4 263.5,521.9 270.2,521.8 272.8,521.4 274,520.7 275,518.4 275.5,513.9 276.3,488.2 277.2,515.8 278,519.8 278.8,520.9 279.8,521.4 281.5,521.5 282.4,520.6 283.2,521.5 285,521.6 285.8,520.8 286.4,518.6 287.2,521.2 288.5,521.8 291.8,521.8 293,521.2 293.8,521.7 295,521.9 309.2,521.7 310.2,521.3 310.8,520.4 311.6,514.7 312.5,520.5 313.2,521.5 314.5,521.8 318.2,521.8 319,521.4 319.6,520.6 320.2,521.4 321,521.4 321.8,520.4 322.3,518.1 323,520.8 323.5,521.4 324.2,521.6 325.2,521.3 326,519.7 327,521.6 329,521.9 340.5,521.9 341.5,521.4 342.2,520 343,521.5 344.8,521.9 350,521.9 351.2,521.4 352.5,521.9 357.8,522 358.8,521.8 359.5,521.3 360.2,521.8 361.5,522 371.8,522 373.3,521.5 374.8,522 381.5,522" stroke="#ffff00" stroke-width="0.63" stroke-opacity="0.35"/>
<path d="M228.5,521.9 233.2,521.6 235.5,520.9 236.8,519.5 237.5,516.7 238,511.7 238.5,496.3 239.1,450.5 240,507.7 240.8,517 241.5,519.5 242.8,520.8 244.5,521.2 245.5,520.7 246,519.2 246.6,515 247.5,520.4 248,521.2 249,521.6 252,521.8 253.8,521.4 254.2,520.8 255,517.8 255.8,520.8 256.2,521.4 257.2,521.8 260.8,521.9 262,521.4 263.5,521.9 270.2,521.8 272.8,521.4 274,520.7 275,518.4 275.5,513.9 276.3,488.2 277.2,515.8 278,519.8 278.8,520.9 279.8,521.4 281.5,521.5 282.4,520.6 283.2,521.5 285,521.6 285.8,520.8 286.4,518.6 287.2,521.2 288.5,521.8 291.8,521.8 293,521.2 293.8,521.7 295,521.9 309.2,521.7 310.2,521.3 310.8,520.4 311.6,514.7 312.5,520.5 313.2,521.5 314.5,521.8 318.2,521.8 319,521.4 319.6,520.6 320.2,521.4 321,521.4 321.8,520.4 322.3,518.1 323,520.8 323.5,521.4 324.2,521.6 325.2,521.3 326,519.7 327,521.6 329,521.9 340.5,521.9 341.5,521.4 342.2,520 343,521.5 344.8,521.9 350,521.9 351.2,521.4 352.5,521.9 357.8,522 358.8,521.8 359.5,521.3 360.2,521.8 361.5,522 371.8,522 373.3,521.5 374.8,522 381.5,522" stroke="#000000" stroke-width="1.05" stroke-opacity="0.45"/>
<path d="M228.5,521.9 233.2,521.5 235.5,520.8 236.8,519.3 237.5,516.5 238,511.2 238.5,494.8 239.1,446.6 240,506.9 240.8,516.7 241.5,519.4 242.8,520.8 244.5,521.2 245.5,520.6 246,519.1 246.6,514.6 247.5,520.3 248,521.1 249,521.6 252,521.7 253.8,521.4 254.2,520.7 255,517.5 255.8,520.8 256.2,521.4 257.2,521.7 260.8,521.8 262,521.4 263.5,521.9 270.2,521.8 272.8,521.4 274,520.7 275,518.2 275.5,513.4 276.3,486.4 277.2,515.4 278,519.6 278.8,520.8 279.8,521.3 281.5,521.5 282.4,520.5 283.2,521.5 285,521.5 285.8,520.8 286.4,518.4 287.2,521.2 288.5,521.8 291.8,521.8 293,521.1 293.8,521.7 295,521.9 309.2,521.7 310.2,521.2 310.8,520.3 311.6,514.3 312.5,520.4 313.2,521.4 314.5,521.8 318.2,521.8 319,521.4 319.6,520.5 320.2,521.3 321,521.4 321.8,520.3 322.3,517.8 323,520.7 323.5,521.4 324.2,521.6 325.2,521.3 326,519.6 327,521.6 329,521.9 340.5,521.9 341.5,521.4 342.2,519.9 343,521.5 344.8,521.9 350,521.9 351.2,521.4 352.5,521.9 357.8,521.9 358.8,521.8 359.5,521.3 360.2,521.8 361.5,522 371.8,522 373.3,521.5 374.8,522 381.5,522" stroke="#ff6030" stroke-width="0.84" stroke-opacity="0.4"/>
<path d="M228.5,521.9 233.2,521.7 235.5,521.2 236.8,520.1 237.5,518.2 238,514.5 238.5,503.3 239.1,470 240,511.6 240.8,518.4 241.5,520.2 242.8,521.1 244.5,521.4 245.5,521 246,520 246.6,516.9 247.5,520.9 248,521.4 249,521.7 252,521.8 253.8,521.6 254.2,521.1 255,518.9 255.8,521.1 256.2,521.6 257.2,521.8 260.8,521.9 262,521.6 263.5,521.9 270.2,521.8 272.8,521.6 274,521.1 275,519.4 275.5,516.1 276.3,497.4 277.2,517.5 278,520.4 278.8,521.2 279.8,521.6 281.5,521.6 282.4,521 283.2,521.7 285,521.7 285.8,521.1 286.4,519.5 287.2,521.4 288.5,521.8 291.8,521.9 293,521.4 293.8,521.8 295,521.9 309.2,521.8 310.2,521.5 310.8,520.8 311.6,516.7 312.5,520.9 313.2,521.6 314.5,521.9 318.2,521.8 319,521.6 319.6,521 320.2,521.5 321,521.6 321.8,520.8 322.3,519.1 323,521.1 323.5,521.6 324.2,521.7 325.2,521.5 326,520.4 327,521.7 329,521.9 340.5,521.9 341.5,521.6 342.2,520.6 343,521.7 344.8,522 350,521.9 351.2,521.6 352.5,522 357.8,522 359.5,521.5 361.5,522 371.8,522 373.3,521.7 374.8,522 381.5,522" stroke="#c0c0c0" stroke-width="0.84" stroke-opacity="0.5"/>
<path d="M228.5,521.9 233.2,521.5 235.5,520.8 236.8,519.2 237.5,516.3 238,510.8 238.5,493.9 239.1,444 240,506.4 240.8,516.6 241.5,519.3 242.8,520.7 244.5,521.1 245.5,520.5 246,519 246.6,514.3 247.5,520.3 248,521.1 249,521.6 252,521.7 253.8,521.4 254.2,520.7 255,517.4 255.8,520.7 256.2,521.4 257.2,521.7 260.8,521.8 262,521.4 263.5,521.9 270.2,521.8 272.8,521.4 274,520.6 275,518 275.5,513.1 276.3,485.2 277.2,515.2 278,519.5 278.8,520.8 279.8,521.3 281.5,521.4 282.4,520.5 283.2,521.5 285,521.5 285.8,520.7 286.4,518.3 287.2,521.1 288.5,521.8 291.8,521.8 293,521.1 293.8,521.7 295,521.9 305.8,521.9 309.2,521.7 310.2,521.2 310.8,520.2 311.6,514 312.5,520.4 313.2,521.4 314.5,521.8 318.2,521.8 319,521.4 319.6,520.5 320.2,521.3 321,521.4 321.8,520.2 322.3,517.7 323,520.7 323.5,521.4 324.2,521.6 325.2,521.3 326,519.5 327,521.5 329,521.9 340.5,521.9 341.5,521.4 342.2,519.9 343,521.5 344.8,521.9 350,521.9 351.2,521.4 352.5,521.9 357.8,521.9 358.8,521.8 359.5,521.3 360.2,521.8 361.5,522 371.8,522 373.3,521.5 374.8,522 381.5,522" stroke="#000000" stroke-width="1.05" stroke-opacity="0.45"/>
</g>
<rect x="228.5" y="368.5" width="153.2" height="153.5" fill="none" stroke="#505050" stroke-width="1.1"/>
<text x="224.3" y="526.6" text-anchor="end" class="tl">0</text>
<path d="M229.3,470.83 h4.5 M380.9,470.83 h-4.5" stroke="#333" stroke-width="0.9"/>
<text x="224.3" y="475.43" text-anchor="end" class="tl">500</text>
<path d="M229.3,419.67 h4.5 M380.9,419.67 h-4.5" stroke="#333" stroke-width="0.9"/>
<text x="224.3" y="424.27" text-anchor="end" class="tl">1000</text>
<text x="224.3" y="373.1" text-anchor="end" class="tl">1500</text>
<path d="M255.9,521.2 v-5 M255.9,369.3 v5" stroke="#444" stroke-width="0.9"/>
<path d="M326.1,521.2 v-5 M326.1,369.3 v5" stroke="#444" stroke-width="0.9"/>
<text x="326.1" y="533" text-anchor="middle" class="tl">13</text>
<text x="265.5" y="390" class="tt">11A' x1</text>
<text x="334.8" y="377.8" class="lg">0-&gt;1</text>
<path d="M350,375.7 H372.9" stroke="#ff8080" stroke-width="0.85"/>
<text x="334.8" y="384.62" class="lg">1-&gt;0</text>
<path d="M350,382.52 H372.9" stroke="#80ff80" stroke-width="0.85"/>
<text x="334.8" y="391.44" class="lg">1-&gt;1</text>
<path d="M350,389.34 H372.9" stroke="#8080ff" stroke-width="0.85"/>
<text x="334.8" y="398.26" class="lg">1-&gt;2</text>
<path d="M350,396.16 H372.9" stroke="#ff80ff" stroke-width="0.85"/>
<text x="334.8" y="405.08" class="lg">2-&gt;1</text>
<path d="M350,402.98 H372.9" stroke="#80ffff" stroke-width="0.85"/>
<text x="334.8" y="411.9" class="lg">2-&gt;2</text>
<path d="M350,409.8 H372.9" stroke="#ffff80" stroke-width="0.85"/>
<text x="334.8" y="418.72" class="lg">2-&gt;3</text>
<path d="M350,416.62 H372.9" stroke="#888888" stroke-width="0.85"/>
<text x="334.8" y="425.54" class="lg">3-&gt;2</text>
<path d="M350,423.44 H372.9" stroke="#ffa080" stroke-width="0.85"/>
<text x="334.8" y="432.36" class="lg">3-&gt;3</text>
<path d="M350,430.26 H372.9" stroke="#d8d8d8" stroke-width="0.85"/>
<text x="334.8" y="439.18" class="lg">3-&gt;4</text>
<path d="M350,437.08 H372.9" stroke="#777777" stroke-width="0.85"/>
<clipPath id="c351"><rect x="408.8" y="363.7" width="158.5" height="158.3"/></clipPath>
<g clip-path="url(#c351)" fill="none" stroke-width="1" stroke-linejoin="round" stroke-opacity="0.6">
<path d="M408.8,522 426.6,521.7 429.3,521.1 430.8,520 431.8,517.1 432.3,513.2 433.4,488.2 434.6,512.7 434.8,514.4 435.6,515.5 436.3,518.9 437.3,520.6 438.8,521.3 441.1,521.6 452.3,521.8 458.1,521.3 459.6,520.9 460.6,520.1 461.6,517.9 462.1,514.7 463.2,493 464.1,511 464.6,516.2 465.1,518.4 466.1,520 467.8,520.6 470.1,520.1 471.8,518.6 472.6,517.1 473.3,514 474.3,501.9 474.8,483.6 475.7,411.2 476.6,478.1 477.1,494.7 477.3,496.9 477.6,495.9 478.1,490.3 479.3,512.9 480.1,517 481.1,519 482,519.4 483.6,520.7 486.6,521.3 491.6,521.2 492.8,520.9 493.8,520.1 494.6,518.5 495.1,515.7 496.1,500.1 497.1,514.8 497.6,518.1 498.6,520.3 499.8,521.1 502.3,521.4 506.8,521.4 509.6,520.9 510.6,520.1 511.1,519.1 512,514.6 512.8,518.1 513.3,519.1 514,519.3 515,518.3 515.8,516.4 516.3,513.8 517,504 518.2,450.2 519.3,501.7 519.8,509.3 520.5,512.5 521,511.4 521.3,509.8 521.8,502.1 522.7,469.8 523.8,507.5 524.3,513.5 525,517.1 525.8,518.4 526.3,518.7 526.8,518.4 528,514.1 529,518.6 529.5,519.3 530.5,519.6 531.3,519.3 532,518.5 533,515.7 533.5,512.2 534,504 534.9,475.8 535.8,503.3 536.3,509.1 536.5,509.9 536.8,509.7 537.3,505.9 537.8,494.4 538.6,457.4 539.8,506.1 540.5,513.7 541.5,516.7 542,517.2 542.3,517.1 543,514.9 544.2,499.6 545,513 545.5,516.8 546,518.5 547.3,519.9 548.3,520.2 549.5,520 551,519 552,516.7 552.8,512 553.3,504 554.3,463.4 555.3,502.9 556,511.5 556.3,512.1 556.5,511.9 557,508.4 558,488.2 559,510.3 559.3,512.1 559.5,512.6 559.8,512.6 560,512.9 560.8,517 561.5,518.4 562,518.2 562.3,517.7 562.8,515.3 563.6,507.5 564.5,516.7 565,518.7 565.8,519.5 566.3,519 567,517.3 567.3,518" stroke="#ff0000" stroke-width="1.05" stroke-opacity="0.65"/>
<path d="M408.8,522 426.6,521.9 430.8,521.4 431.8,520.5 432.3,519.4 433.4,511.9 434.6,519.2 436.3,521.1 437.3,521.6 441.1,521.9 452.3,521.9 458.1,521.8 460.6,521.4 461.6,520.8 462.1,519.8 463.2,513.3 464.1,518.7 464.6,520.2 465.1,520.9 466.1,521.4 467.8,521.6 470.1,521.4 471.8,521 473.3,519.6 474.3,516 474.8,510.5 475.7,488.8 476.6,508.8 477.1,513.8 477.3,514.5 477.6,514.2 478.1,512.5 479.3,519.3 480.1,520.5 481.1,521.1 483.6,521.6 486.6,521.8 491.6,521.8 493.8,521.4 494.6,520.9 495.1,520.1 496.1,515.4 497.1,519.9 497.6,520.8 498.6,521.5 502.3,521.8 509.6,521.7 511.1,521.1 512,519.8 513.3,521.1 515,520.9 516.3,519.5 517,516.6 518.2,500.5 519.3,515.9 519.8,518.2 520.5,519.1 521.3,518.3 521.8,516 522.7,506.3 523.8,517.7 524.3,519.4 525,520.5 525.8,520.9 526.8,520.9 528,519.6 529,521 530.5,521.3 532,521 533,520.1 533.5,519.1 534,516.6 534.9,508.1 535.8,516.4 536.3,518.1 536.8,518.3 537.3,517.2 537.8,513.7 538.6,502.6 539.8,517.2 540.5,519.5 541.5,520.4 542.3,520.5 543,519.9 544.2,515.3 545,519.3 546,521 547.3,521.4 549.5,521.4 551,521.1 552,520.4 552.8,519 553.3,516.6 554.3,504.4 555.3,516.3 556,518.8 556.5,519 557,517.9 558,511.9 559,518.5 559.3,519 560,519.3 560.8,520.5 561.5,520.9 562.3,520.7 562.8,520 563.6,517.6 564.5,520.4 565,521 565.8,521.3 567,520.6 567.3,520.8" stroke="#00ff00" stroke-width="0.73" stroke-opacity="0.35"/>
<path d="M408.8,522 426.6,521.8 429.3,521.5 430.8,520.8 431.8,519.1 432.3,516.7 433.4,501.7 434.6,516.4 434.8,517.4 435.6,518.1 436.3,520.1 437.3,521.2 441.1,521.8 452.3,521.9 458.1,521.6 460.6,520.9 461.6,519.5 462.1,517.6 463.2,504.6 464.1,515.4 464.6,518.5 465.1,519.8 466.1,520.8 467.8,521.2 470.1,520.9 471.8,520 472.6,519 473.3,517.2 474.3,509.9 474.8,499 475.7,455.5 476.6,495.6 477.1,505.6 477.3,506.9 477.6,506.3 478.1,503 479.3,516.6 480.1,519 481.1,520.2 483.6,521.2 486.6,521.6 491.6,521.5 493.8,520.9 494.6,519.9 495.1,518.2 496.1,508.9 497.1,517.7 497.6,519.7 498.6,521 499.8,521.4 502.3,521.7 509.6,521.3 510.6,520.9 511.1,520.3 512,517.6 512.8,519.7 513.3,520.3 514,520.4 515,519.8 515.8,518.6 516.3,517.1 517,511.2 518.2,478.9 519.3,509.8 519.8,514.4 520.5,516.3 521,515.6 521.3,514.7 521.8,510.1 522.7,490.7 523.8,513.3 524.3,516.9 525,519 525.8,519.8 526.8,519.8 528,517.3 529,520 529.5,520.4 530.5,520.6 532,519.9 533,518.2 533.5,516.1 534,511.2 534.9,494.3 535.8,510.8 536.3,514.3 536.5,514.7 536.8,514.6 537.3,512.4 537.8,505.4 538.6,483.2 539.8,512.5 540.5,517 541.5,518.8 542.3,519.1 543,517.7 544.2,508.5 545,516.6 545.5,518.9 546,519.9 547.3,520.8 549.5,520.8 551,520.2 552,518.8 552.8,516 553.3,511.2 554.3,486.9 555.3,510.5 556,515.7 556.3,516 556.5,515.9 557,513.9 558,501.7 559,515 559.3,516 560,516.6 560.8,519 561.5,519.8 562.3,519.4 562.8,518 563.6,513.3 564.5,518.8 565,520 565.8,520.5 567,519.2 567.3,519.6" stroke="#0000ff" stroke-width="0.63" stroke-opacity="0.22"/>
<path d="M408.8,522 426.6,521.8 429.3,521.4 430.8,520.7 431.8,518.8 432.3,516.3 433.4,500 434.6,516 434.8,517 435.6,517.8 436.3,520 437.3,521.1 438.8,521.6 441.1,521.8 452.3,521.8 458.1,521.6 460.6,520.8 461.6,519.3 462.1,517.3 463.2,503.1 464.1,514.9 464.6,518.2 465.1,519.6 466.1,520.7 467.8,521.1 470.1,520.8 471.8,519.8 472.6,518.8 473.3,516.8 474.3,508.9 474.8,497 475.7,450 476.6,493.4 477.1,504.3 477.3,505.7 477.6,505 478.1,501.4 479.3,516.1 480.1,518.8 481.1,520 483.6,521.1 486.6,521.5 491.6,521.5 493.8,520.8 494.6,519.7 495.1,517.9 496.1,507.8 497.1,517.3 497.6,519.5 498.6,520.9 499.8,521.4 502.3,521.6 506.8,521.6 509.6,521.3 510.6,520.8 511.1,520.1 512,517.2 512.8,519.5 513.3,520.1 514,520.2 515,519.6 515.8,518.4 516.3,516.7 517,510.3 518.2,475.4 519.3,508.8 519.8,513.8 520.5,515.8 521,515.1 521.3,514 521.8,509.1 522.7,488 523.8,512.6 524.3,516.5 525,518.8 525.8,519.7 526.8,519.7 528,516.9 529,519.8 529.5,520.3 530.5,520.4 532,519.7 533,517.9 533.5,515.6 534,510.3 534.9,492 535.8,509.8 536.3,513.6 536.5,514.1 536.8,514 537.3,511.6 537.8,504.1 538.6,480 539.8,511.7 540.5,516.6 541.5,518.6 542.3,518.8 543,517.4 544.2,507.4 545,516.1 545.5,518.6 546,519.7 547.3,520.6 549.5,520.7 551,520 552,518.6 552.8,515.5 553.3,510.3 554.3,483.9 555.3,509.6 556,515.2 556.3,515.5 556.5,515.4 557,513.2 558,500 559,514.4 559.3,515.5 560,516.1 560.8,518.8 561.5,519.7 562.3,519.2 562.8,517.7 563.6,512.6 564.5,518.6 565,519.9 565.8,520.4 567,518.9 567.3,519.4" stroke="#ff00ff" stroke-width="0.63" stroke-opacity="0.22"/>
<path d="M408.8,522 430.8,522 433.4,521.5 434.6,521.9 437.3,522 460.6,522 463.2,521.6 465.1,521.9 471.8,521.9 474.3,521.7 475.7,520.3 477.1,521.6 481.1,522 493.8,522 496.1,521.7 498.6,522 515,521.9 517,521.7 518.2,520.9 519.3,521.7 520.5,521.9 521.8,521.7 522.7,521.2 523.8,521.8 525,521.9 533,521.9 534.9,521.3 536.8,521.8 537.8,521.6 538.6,521 539.8,521.8 541.5,521.9 544.2,521.7 546,521.9 552,521.9 553.3,521.7 554.3,521.1 556,521.8 558,521.5 560.8,521.9 567.3,521.9" stroke="#00ffff" stroke-width="0.73" stroke-opacity="0.35"/>
<path d="M408.8,522 426.6,521.8 429.3,521.6 430.8,521 431.8,519.6 432.3,517.6 433.4,505.1 434.6,517.4 434.8,518.2 435.6,518.8 436.3,520.5 437.3,521.3 441.1,521.8 452.3,521.9 458.1,521.7 460.6,521.1 461.6,519.9 462.1,518.4 463.2,507.5 464.1,516.5 464.6,519.1 465.1,520.2 466.1,521 467.8,521.3 470.1,521.1 471.8,520.3 472.6,519.5 473.3,518 474.3,511.9 474.8,502.8 475.7,466.6 476.6,500 477.1,508.3 477.3,509.4 477.6,508.9 478.1,506.2 479.3,517.5 480.1,519.5 481.1,520.5 483.6,521.3 486.6,521.6 491.6,521.6 493.8,521.1 494.6,520.2 495.1,518.9 496.1,511.1 497.1,518.4 497.6,520.1 498.6,521.2 499.8,521.5 502.3,521.7 509.6,521.4 510.6,521.1 511.1,520.5 512,518.3 512.8,520.1 513.3,520.6 514,520.6 515,520.1 515.8,519.2 516.3,517.9 517,513 518.2,486.1 519.3,511.9 519.8,515.7 520.5,517.2 521,516.7 521.3,515.9 521.8,512.1 522.7,495.9 523.8,514.8 524.3,517.7 525,519.5 525.8,520.2 526.8,520.2 528,518 529,520.3 529.5,520.7 530.5,520.8 532,520.3 533,518.9 533.5,517.1 534,513 534.9,498.9 535.8,512.6 536.3,515.5 536.5,515.9 536.8,515.8 537.3,514 537.8,508.2 538.6,489.7 539.8,514 540.5,517.8 541.5,519.4 542.3,519.5 543,518.4 544.2,510.8 545,517.5 545.5,519.4 546,520.3 547.3,521 549.5,521 551,520.5 552,519.4 552.8,517 553.3,513 554.3,492.7 555.3,512.4 556,516.7 556.3,517 556.5,516.9 557,515.2 558,505.1 559,516.1 559.3,517 560,517.5 560.8,519.5 561.5,520.2 562.3,519.8 562.8,518.7 563.6,514.7 564.5,519.4 565,520.4 565.8,520.8 567,519.6 567.3,520" stroke="#ffff00" stroke-width="0.63" stroke-opacity="0.35"/>
<path d="M408.8,522 426.6,521.8 429.3,521.5 430.8,520.9 431.8,519.3 432.3,517.2 433.4,503.4 434.6,516.9 434.8,517.8 435.6,518.5 436.3,520.3 437.3,521.2 441.1,521.8 452.3,521.9 458.1,521.6 460.6,521 461.6,519.7 462.1,518 463.2,506 464.1,516 464.6,518.8 465.1,520 466.1,520.9 467.8,521.2 470.1,521 471.8,520.1 472.6,519.3 473.3,517.6 474.3,510.9 474.8,500.9 475.7,461.1 476.6,497.8 477.1,507 477.3,508.2 477.6,507.6 478.1,504.6 479.3,517 480.1,519.3 481.1,520.3 483.6,521.3 486.6,521.6 491.6,521.6 493.8,521 494.6,520.1 495.1,518.6 496.1,510 497.1,518.1 497.6,519.9 498.6,521.1 499.8,521.5 502.3,521.7 509.6,521.4 510.6,521 511.1,520.4 512,517.9 512.8,519.9 513.3,520.4 514,520.5 515,520 515.8,518.9 516.3,517.5 517,512.1 518.2,482.5 519.3,510.8 519.8,515 520.5,516.8 521,516.2 521.3,515.3 521.8,511.1 522.7,493.3 523.8,514 524.3,517.3 525,519.3 525.8,520 526.8,520 528,517.6 529,520.1 529.5,520.5 530.5,520.7 532,520.1 533,518.6 533.5,516.6 534,512.1 534.9,496.6 535.8,511.7 536.3,514.9 536.5,515.3 536.8,515.2 537.3,513.2 537.8,506.8 538.6,486.4 539.8,513.2 540.5,517.4 541.5,519.1 542.3,519.3 543,518.1 544.2,509.7 545,517 545.5,519.2 546,520.1 547.3,520.9 549.5,520.9 551,520.3 552,519.1 552.8,516.5 553.3,512.1 554.3,489.8 555.3,511.5 556,516.2 556.3,516.5 556.5,516.4 557,514.5 558,503.4 559,515.6 559.3,516.5 560,517 560.8,519.3 561.5,520 562.3,519.6 562.8,518.3 563.6,514 564.5,519.1 565,520.2 565.8,520.6 567,519.4 567.3,519.8" stroke="#000000" stroke-width="1.05" stroke-opacity="0.45"/>
<path d="M408.8,522 426.6,521.8 429.3,521.6 430.8,521 431.8,519.6 432.3,517.6 433.4,505.1 434.6,517.4 434.8,518.2 435.6,518.8 436.3,520.5 437.3,521.3 441.1,521.8 452.3,521.9 458.1,521.7 460.6,521.1 461.6,519.9 462.1,518.4 463.2,507.5 464.1,516.5 464.6,519.1 465.1,520.2 466.1,521 467.8,521.3 470.1,521.1 471.8,520.3 472.6,519.5 473.3,518 474.3,511.9 474.8,502.8 475.7,466.6 476.6,500 477.1,508.3 477.3,509.4 477.6,508.9 478.1,506.2 479.3,517.5 480.1,519.5 481.1,520.5 483.6,521.3 486.6,521.6 491.6,521.6 493.8,521.1 494.6,520.2 495.1,518.9 496.1,511.1 497.1,518.4 497.6,520.1 498.6,521.2 499.8,521.5 502.3,521.7 509.6,521.4 510.6,521.1 511.1,520.5 512,518.3 512.8,520.1 513.3,520.6 514,520.6 515,520.1 515.8,519.2 516.3,517.9 517,513 518.2,486.1 519.3,511.9 519.8,515.7 520.5,517.2 521,516.7 521.3,515.9 521.8,512.1 522.7,495.9 523.8,514.8 524.3,517.7 525,519.5 525.8,520.2 526.8,520.2 528,518 529,520.3 529.5,520.7 530.5,520.8 532,520.3 533,518.9 533.5,517.1 534,513 534.9,498.9 535.8,512.6 536.3,515.5 536.5,515.9 536.8,515.8 537.3,514 537.8,508.2 538.6,489.7 539.8,514 540.5,517.8 541.5,519.4 542.3,519.5 543,518.4 544.2,510.8 545,517.5 545.5,519.4 546,520.3 547.3,521 549.5,521 551,520.5 552,519.4 552.8,517 553.3,513 554.3,492.7 555.3,512.4 556,516.7 556.3,517 556.5,516.9 557,515.2 558,505.1 559,516.1 559.3,517 560,517.5 560.8,519.5 561.5,520.2 562.3,519.8 562.8,518.7 563.6,514.7 564.5,519.4 565,520.4 565.8,520.8 567,519.6 567.3,520" stroke="#ff6030" stroke-width="0.84" stroke-opacity="0.4"/>
<path d="M408.8,522 426.6,521.9 429.3,521.7 430.8,521.3 431.8,520.3 432.3,518.9 433.4,510.2 434.6,518.8 436.3,520.9 437.3,521.5 441.1,521.9 452.3,521.9 458.1,521.8 460.6,521.3 461.6,520.5 462.1,519.5 463.2,511.8 464.1,518.2 464.6,520 465.1,520.7 466.1,521.3 467.8,521.5 470.1,521.3 471.8,520.8 472.6,520.3 473.3,519.2 474.3,514.9 474.8,508.6 475.7,483.2 476.6,506.6 477.1,512.4 477.3,513.2 477.6,512.9 478.1,510.9 479.3,518.8 480.1,520.3 481.1,520.9 483.6,521.5 486.6,521.7 491.6,521.7 493.8,521.3 494.6,520.8 495.1,519.8 496.1,514.3 497.1,519.5 497.6,520.6 498.6,521.4 502.3,521.8 509.6,521.6 511.1,521 512,519.4 513.3,521 515,520.7 516.3,519.1 517,515.7 518.2,496.9 519.3,514.9 519.8,517.6 520.5,518.7 521.3,517.7 521.8,515 522.7,503.7 523.8,516.9 524.3,519 525,520.3 525.8,520.7 526.8,520.7 528,519.2 529,520.8 530.5,521.2 532,520.8 533,519.8 533.5,518.6 534,515.7 534.9,505.8 535.8,515.4 536.3,517.5 536.8,517.7 537.3,516.4 537.8,512.3 538.6,499.4 539.8,516.4 540.5,519.1 541.5,520.2 542.3,520.3 543,519.5 544.2,514.2 545,518.8 546,520.8 547.3,521.3 549.5,521.3 551,520.9 552,520.2 552.8,518.5 553.3,515.7 554.3,501.5 555.3,515.3 556,518.3 556.5,518.4 557,517.3 558,510.2 559,517.9 559.3,518.5 560,518.8 560.8,520.3 561.5,520.7 562.3,520.5 562.8,519.7 563.6,516.9 564.5,520.2 565,520.9 565.8,521.1 567,520.3 567.3,520.6" stroke="#c0c0c0" stroke-width="0.84" stroke-opacity="0.5"/>
<path d="M408.8,522 426.6,521.8 429.3,521.6 430.8,521 431.8,519.6 432.3,517.6 433.4,505.1 434.6,517.4 434.8,518.2 435.6,518.8 436.3,520.5 437.3,521.3 441.1,521.8 452.3,521.9 458.1,521.7 460.6,521.1 461.6,519.9 462.1,518.4 463.2,507.5 464.1,516.5 464.6,519.1 465.1,520.2 466.1,521 467.8,521.3 470.1,521.1 471.8,520.3 472.6,519.5 473.3,518 474.3,511.9 474.8,502.8 475.7,466.6 476.6,500 477.1,508.3 477.3,509.4 477.6,508.9 478.1,506.2 479.3,517.5 480.1,519.5 481.1,520.5 483.6,521.3 486.6,521.6 491.6,521.6 493.8,521.1 494.6,520.2 495.1,518.9 496.1,511.1 497.1,518.4 497.6,520.1 498.6,521.2 499.8,521.5 502.3,521.7 509.6,521.4 510.6,521.1 511.1,520.5 512,518.3 512.8,520.1 513.3,520.6 514,520.6 515,520.1 515.8,519.2 516.3,517.9 517,513 518.2,486.1 519.3,511.9 519.8,515.7 520.5,517.2 521,516.7 521.3,515.9 521.8,512.1 522.7,495.9 523.8,514.8 524.3,517.7 525,519.5 525.8,520.2 526.8,520.2 528,518 529,520.3 529.5,520.7 530.5,520.8 532,520.3 533,518.9 533.5,517.1 534,513 534.9,498.9 535.8,512.6 536.3,515.5 536.5,515.9 536.8,515.8 537.3,514 537.8,508.2 538.6,489.7 539.8,514 540.5,517.8 541.5,519.4 542.3,519.5 543,518.4 544.2,510.8 545,517.5 545.5,519.4 546,520.3 547.3,521 549.5,521 551,520.5 552,519.4 552.8,517 553.3,513 554.3,492.7 555.3,512.4 556,516.7 556.3,517 556.5,516.9 557,515.2 558,505.1 559,516.1 559.3,517 560,517.5 560.8,519.5 561.5,520.2 562.3,519.8 562.8,518.7 563.6,514.7 564.5,519.4 565,520.4 565.8,520.8 567,519.6 567.3,520" stroke="#000000" stroke-width="1.05" stroke-opacity="0.45"/>
</g>
<rect x="408.8" y="363.7" width="158.5" height="158.3" fill="none" stroke="#505050" stroke-width="1.1"/>
<text x="404.6" y="526.6" text-anchor="end" class="tl">0</text>
<path d="M409.6,469.23 h4.5 M566.5,469.23 h-4.5" stroke="#333" stroke-width="0.9"/>
<text x="404.6" y="473.83" text-anchor="end" class="tl">200</text>
<path d="M409.6,416.47 h4.5 M566.5,416.47 h-4.5" stroke="#333" stroke-width="0.9"/>
<text x="404.6" y="421.07" text-anchor="end" class="tl">400</text>
<text x="404.6" y="368.3" text-anchor="end" class="tl">600</text>
<path d="M448.4,521.2 v-5 M448.4,364.5 v5" stroke="#444" stroke-width="0.9"/>
<text x="448.4" y="533" text-anchor="middle" class="tl">13</text>
<path d="M548,521.2 v-5 M548,364.5 v5" stroke="#444" stroke-width="0.9"/>
<text x="438.5" y="386.1" class="tt">12A' x100</text>
<text x="518.5" y="373.9" class="lg">0-&gt;1</text>
<path d="M535.6,371.8 H558.5" stroke="#ff8080" stroke-width="0.85"/>
<text x="518.5" y="380.86" class="lg">1-&gt;0</text>
<path d="M535.6,378.76 H558.5" stroke="#80ff80" stroke-width="0.85"/>
<text x="518.5" y="387.82" class="lg">1-&gt;1</text>
<path d="M535.6,385.72 H558.5" stroke="#8080ff" stroke-width="0.85"/>
<text x="518.5" y="394.78" class="lg">1-&gt;2</text>
<path d="M535.6,392.68 H558.5" stroke="#ff80ff" stroke-width="0.85"/>
<text x="518.5" y="401.74" class="lg">2-&gt;1</text>
<path d="M535.6,399.64 H558.5" stroke="#80ffff" stroke-width="0.85"/>
<text x="518.5" y="408.7" class="lg">2-&gt;2</text>
<path d="M535.6,406.6 H558.5" stroke="#ffff80" stroke-width="0.85"/>
<text x="518.5" y="415.66" class="lg">2-&gt;3</text>
<path d="M535.6,413.56 H558.5" stroke="#888888" stroke-width="0.85"/>
<text x="518.5" y="422.62" class="lg">3-&gt;2</text>
<path d="M535.6,420.52 H558.5" stroke="#ffa080" stroke-width="0.85"/>
<text x="518.5" y="429.58" class="lg">3-&gt;3</text>
<path d="M535.6,427.48 H558.5" stroke="#d8d8d8" stroke-width="0.85"/>
<text x="518.5" y="436.54" class="lg">3-&gt;4</text>
<path d="M535.6,434.44 H558.5" stroke="#777777" stroke-width="0.85"/>
<clipPath id="c384"><rect x="594.4" y="363.7" width="158.2" height="157.7"/></clipPath>
<g clip-path="url(#c384)" fill="none" stroke-width="1" stroke-linejoin="round" stroke-opacity="0.6">
<path d="M594.6,480 595.2,451.6 595.6,450.3 597.3,507.6 597.9,517.5 598.5,508.1 599.7,464.9 600.3,454.7 600.9,463.9 602,504.9 602.6,512.8 603.1,499.9 604.1,449.1 604.6,437 605.1,447 606.2,493.6 606.8,503.4 607.4,490.4 608.6,437.4 609.2,425.3 609.7,436.5 610.7,487.7 611.2,500.3 611.7,491.4 612.5,447.4 613,436.3 613.5,444.1 614.6,481.2 615.1,487.8 615.7,474.3 616.8,423.4 617.4,411.3 617.9,420.7 618.8,466 619.3,476.9 619.9,468.1 621.1,426.8 621.7,416.3 622.2,423.3 622.9,457.5 623.4,464.4 623.9,454 625.1,412.5 625.7,402.7 626.2,411.2 627.1,450.1 627.6,458.1 628.1,446.7 629.1,401 629.6,390.6 630.1,400.7 631,446.1 631.5,456.6 632,447.2 633,404 633.5,393.3 634,400.7 634.9,437.2 635.4,445.6 635.9,437.8 636.9,402.5 637.4,393.3 637.9,398.3 638.8,425.2 639.3,431.6 639.9,426 641.1,400.5 641.7,394 642.2,397.9 643.2,418 643.7,423 644.2,419.3 645.1,401.5 645.6,397.2 646,400.4 646.9,415.9 647.4,419.8 647.9,417.2 649,404.2 649.5,400.8 650,402.6 651,412.6 651.5,415.2 652,413.7 652.9,405.9 653.4,404.2 655.4,416 655.9,415 657.1,409.3 657.6,408.1 659.6,418.3 660.2,417.7 661.4,413.5 662,412.8 662.5,414.3 663.8,422.2 664.3,422.6 665.9,421.4 667.1,423.8 669.5,426.9 670.3,427.5 671.4,435.6 672.3,439.2 674.2,442.5 678.1,451.9 681.2,456.6 683,462.1 683.5,462.8 683.9,461.8 684.7,457.5 685.1,456.6 686.3,463.4 686.7,464.4 688.7,454.7 689.2,455.8 690.1,461.4 690.6,462.8 691.1,461.9 692.1,457.5 692.6,456.6 693.1,457.8 694.5,464.8 695,465.3 696.2,465 696.8,465.9 701.5,484 706,497.9 708,502.3 710.9,506.6 714.3,509.8 717,511 721.8,511.3 728.1,510 731.7,510.5 733.9,511.5 737.4,514.1 742,516.7 745.7,518.3 753.2,520.8" stroke="#ff0000" stroke-width="0.9"/>
<path d="M594.4,521.4 605.6,521.4 607.4,521.2 609.4,521.4 611.4,521.1 613.4,521.4 615.4,521 617.4,521.4 619.4,520.9 621.4,521.4 623.1,520.9 625.1,521.4 627.1,520.9 629.1,521.4 631.1,520.9 633.1,521.3 635.1,520.8 637.1,521.3 639.1,520.8 641.1,521.3 642.9,520.8 644.9,521.3 646.9,520.8 648.9,521.2 650.9,520.8 652.9,521.2 654.9,520.8 656.9,521.2 658.9,520.8 660.6,521.2 662.6,520.9 664.6,521.2 666.6,520.9 668.6,521.2 670.6,520.9 672.6,521.2 674.6,521 676.6,521.2 678.6,521 680.4,521.2 682.4,521 684.4,521.2 686.4,521.1 710.9,521.4 752.4,521.4" stroke="#00ff00" stroke-width="0.9"/>
<path d="M594.4,510.2 595.1,491.1 595.6,486.4 596.1,492 597.1,516 597.4,519.1 597.6,519.5 598.1,512.4 599.1,486.1 599.6,482.2 601.4,516.9 601.6,516.7 601.9,513.7 603.4,479.8 603.6,479.9 603.9,482.8 604.9,507.6 605.4,514.1 605.9,509.9 606.9,483.8 607.4,477.2 607.9,481.2 608.9,505.7 609.4,511.1 609.9,506 610.9,480.1 611.4,474.6 611.9,479.3 612.9,502.2 613.4,506 613.9,500 614.9,476.1 615.4,471.9 615.9,477.1 616.9,497.9 617.1,500.3 617.4,500.4 619.1,469.8 619.4,469.4 619.6,471.2 621.1,495.2 621.4,494.9 621.6,492.5 623.1,466.5 623.4,466.6 623.6,468.6 624.6,486.2 625.1,490.5 625.6,487.2 626.6,468.2 627.1,463.3 627.6,466 628.6,482.4 629.1,485.7 629.6,481.9 630.6,464.6 631.1,461.1 631.6,464.6 632.6,480.8 633.1,483.7 633.6,479.9 634.9,461.7 635.1,461.2 635.4,462.4 636.6,480.3 636.9,482.2 637.1,482.4 638.6,463.2 638.9,461.4 639.1,461.3 640.9,481.2 641.1,481.1 641.4,479.5 642.9,461.9 643.1,462.1 643.4,463.7 644.4,476.7 644.9,480.1 645.4,478 646.4,465.6 646.9,462.6 647.4,464.8 648.4,476.4 648.9,478.9 649.4,476.6 650.4,465.7 650.9,463.7 651.4,466.1 652.4,476.3 652.9,478.1 653.4,475.9 654.6,465.7 654.9,465.5 655.1,466.3 656.4,476.3 656.9,477.5 658.4,468.1 658.6,467.4 658.9,467.4 660.6,476.7 661.1,476 662.1,471.6 662.6,470.9 664.6,476 665.1,476.1 666.1,474.8 666.6,474.7 668.6,479.1 669.1,479.2 670.1,478.1 670.6,478.1 672.4,482 672.9,482.4 674.1,481.7 674.6,482 676.4,486.1 676.9,486.6 677.9,486.3 678.4,486.4 680.6,490.7 682.1,490.9 683.1,492 684.4,492.6 686.4,489.9 686.9,489.8 688.6,490.9 690.1,489.8 690.6,490 692.1,491.8 693.1,491.8 693.9,492.2 696.1,495.9 697.9,498.1 700.9,504 705.9,511.5 710.9,515.8 718.9,517.4 729.9,517.4 746.9,521.4 752.4,521.4" stroke="#0000ff" stroke-width="0.9"/>
<path d="M594.4,509.8 595.1,490.2 595.6,485.4 596.1,491.1 597.1,515.9 597.4,519 597.6,519.4 598.1,512.1 599.1,485 599.6,481 601.4,516.8 601.6,516.6 601.9,513.5 603.4,478.5 603.6,478.6 603.9,481.6 604.9,507.2 605.4,513.9 605.9,509.5 606.9,482.6 607.4,475.8 607.9,479.9 608.9,505.2 609.4,510.8 609.9,505.5 610.9,478.8 611.4,473.1 611.9,478 612.9,501.6 613.4,505.5 613.9,499.3 614.9,474.7 615.4,470.4 615.9,475.7 616.9,497.1 617.1,499.6 617.4,499.7 619.1,468.2 619.4,467.8 619.6,469.6 621.1,494.4 621.4,494.1 621.6,491.6 623.1,464.8 623.4,464.9 623.6,466.9 624.6,485.1 625.1,489.6 625.6,486.1 626.6,466.6 627.1,461.6 627.6,464.2 628.6,481.2 629.1,484.6 629.6,480.7 630.6,462.9 631.1,459.3 631.6,462.8 632.6,479.5 633.1,482.5 633.6,478.6 634.9,459.8 635.1,459.3 635.4,460.5 636.6,479 636.9,481 637.1,481.2 638.6,461.4 638.9,459.6 639.1,459.4 640.9,479.9 641.1,479.8 641.4,478.2 642.9,460 643.1,460.2 643.4,461.9 644.4,475.4 644.9,478.8 645.4,476.7 646.4,463.9 646.9,460.8 647.4,463 648.4,475 648.9,477.6 649.4,475.2 650.4,464 650.9,461.9 651.4,464.4 652.4,474.9 652.9,476.8 653.4,474.5 654.6,464 654.9,463.8 655.1,464.6 656.4,474.9 656.9,476.1 658.4,466.5 658.6,465.7 658.9,465.7 660.6,475.3 661.1,474.6 662.1,470 662.6,469.4 664.6,474.6 665.1,474.7 666.1,473.4 666.6,473.3 668.6,477.8 669.1,477.9 670.1,476.7 670.6,476.8 672.4,480.8 672.9,481.1 674.1,480.5 674.6,480.8 676.4,485.1 676.9,485.5 677.9,485.2 678.4,485.3 680.6,489.8 682.1,489.9 683.1,491.1 684.4,491.7 686.4,488.9 686.9,488.8 688.6,490 690.1,488.8 690.6,489 692.1,490.9 693.1,490.9 693.9,491.3 696.1,495.1 697.9,497.4 700.9,503.5 705.9,511.1 710.9,515.6 718.9,517.3 729.9,517.3 737.1,519.2 746.9,521.4 752.4,521.4" stroke="#ff00ff" stroke-width="0.9"/>
<path d="M594.4,521.4 596.1,521.2 597.9,521.4 599.6,520.6 601.6,521.4 603.6,520 605.1,521.3 605.6,521.4 607.1,519.3 607.6,519 609.4,521.4 609.9,521 611.4,517.8 611.9,518.2 612.9,520.8 613.4,521.4 613.9,520.7 614.9,517.3 615.4,516.5 615.9,517.1 616.9,520 617.4,520.2 618.9,515.3 619.4,514.6 621.1,518.4 621.6,517.8 623.1,512.8 623.6,513 624.6,515.9 625.1,516.6 625.6,516 626.6,512.4 627.1,511.5 627.6,511.9 628.6,514.8 629.1,515.4 631.1,510.6 631.6,511.1 632.6,513.7 633.1,514.1 634.9,509.9 635.4,510 636.6,512.6 637.1,512.8 638.6,509.4 639.1,509 640.9,511.9 641.4,511.7 642.9,509.1 643.4,509.4 644.9,511.9 645.4,511.6 646.4,509.8 646.9,509.4 648.9,511.8 650.9,509.8 652.9,511.8 654.4,510.3 654.9,510.2 656.6,511.7 657.1,511.6 658.6,510.5 660.6,511.7 662.9,510.9 664.6,511.8 666.9,511.6 668.6,512.6 670.6,512.4 672.6,513.5 674.6,513.3 676.6,514.4 678.6,514.2 680.4,515.1 682.4,514.6 684.4,515.4 686.4,514.9 688.4,515.6 690.1,515.2 692.4,516.5 694.1,516.6 696.1,517.7 698.1,518.1 702.9,519.8 710.9,521.4 752.4,521.4" stroke="#00ffff" stroke-width="0.9"/>
<path d="M594.4,510.6 595.1,492.4 595.6,487.9 596.1,493.3 597.1,516.3 597.4,519.2 597.6,519.6 598.1,512.8 599.1,487.6 599.6,483.9 601.4,517.1 601.6,516.9 601.9,514.1 603.4,481.5 603.6,481.6 603.9,484.4 604.9,508.2 605.4,514.4 605.9,510.4 606.9,485.4 607.4,479 607.9,482.8 608.9,506.4 609.4,511.6 609.9,506.6 610.9,481.8 611.4,476.5 611.9,481 612.9,503 613.4,506.6 613.9,500.9 614.9,478 615.4,474 615.9,478.9 616.9,498.8 617.1,501.1 617.4,501.3 619.1,471.9 619.4,471.5 619.6,473.2 621.1,496.3 621.4,496 621.6,493.7 623.1,468.8 623.4,468.8 623.6,470.8 624.6,487.6 625.1,491.8 625.6,488.6 626.6,470.4 627.1,465.7 627.6,468.2 628.6,484 629.1,487.2 629.6,483.5 630.6,467 631.1,463.6 631.6,466.9 632.6,482.5 633.1,485.3 633.6,481.6 634.9,464.1 635.1,463.6 635.4,464.8 636.6,482 636.9,483.8 637.1,484 638.6,465.6 638.9,463.9 639.1,463.7 640.9,482.8 641.1,482.7 641.4,481.2 642.9,464.3 643.1,464.5 643.4,466.1 644.4,478.6 644.9,481.8 645.4,479.8 646.4,467.9 646.9,465.1 647.4,467.1 648.4,478.3 648.9,480.7 649.4,478.5 650.4,468 650.9,466.1 651.4,468.4 652.4,478.2 652.9,479.9 653.4,477.8 654.6,468 654.9,467.8 655.1,468.6 656.4,478.2 656.9,479.3 658.4,470.3 658.6,469.6 658.9,469.6 660.6,478.6 661.1,477.8 662.1,473.6 662.6,473 664.6,477.9 665.1,477.9 666.1,476.7 666.6,476.6 668.6,480.9 669.1,480.9 670.1,479.9 670.6,479.9 672.4,483.6 672.9,484 674.1,483.4 674.6,483.6 676.4,487.6 676.9,488 678.4,487.8 680.6,492 682.1,492.1 683.1,493.2 684.4,493.8 686.4,491.2 686.9,491.1 688.6,492.2 690.1,491.1 690.6,491.3 692.1,493 693.1,493 693.9,493.4 696.1,496.9 697.9,499 700.9,504.7 705.9,511.9 710.9,516 718.9,517.6 729.9,517.6 746.9,521.4 752.4,521.4" stroke="#e8e800" stroke-width="0.9"/>
<path d="M594.4,520.2 595.6,498.6 596.1,495.2 596.6,499.5 597.9,519.9 598.1,520.3 598.4,518.6 599.6,495.8 599.9,493.4 600.1,493.1 601.6,516.7 601.9,518.7 602.1,518.5 603.6,492.8 603.9,490.7 604.1,490.8 605.9,516.9 606.4,513.7 607.4,493.4 607.9,488.1 608.4,491.2 609.4,510.7 609.9,515.1 610.4,510.8 611.4,489.6 611.9,484.9 612.4,488.6 613.4,507.5 613.9,510.8 614.4,505.7 615.4,485 615.9,481.2 616.4,485.6 617.4,503.9 617.6,506.1 617.9,506.3 619.4,480.4 619.9,477.5 621.6,501.7 621.9,501.4 622.1,499.2 623.6,475.3 623.9,475.4 624.1,477.2 625.1,493 625.6,496.8 626.1,493.8 627.1,477.1 627.6,472.9 628.1,475.2 629.1,489.1 629.6,491.9 630.1,488.7 631.1,474.2 631.6,471.2 632.1,474 633.1,487.4 633.6,489.7 634.1,486.4 635.4,470.8 635.6,470.3 635.9,471.3 637.1,486.1 637.4,487.6 637.6,487.8 639.1,471.3 639.4,469.7 639.6,469.5 641.4,486.3 641.6,486.3 641.9,485 643.4,470 643.6,470.2 643.9,471.6 644.9,482.9 645.4,485.8 645.9,484.1 646.9,473.2 647.4,470.5 647.9,472.4 648.9,482.9 649.4,485.2 649.9,483.2 650.9,473.8 651.4,472.2 651.9,474.5 652.9,483.6 653.4,485.2 653.9,483.4 654.9,476.6 655.1,475.8 655.4,475.8 657.1,485.1 657.4,485.3 657.6,484.8 658.6,480.3 659.1,479.3 659.6,480.1 660.6,484.3 661.1,485.3 661.6,485 662.6,483 663.1,482.8 665.1,486.2 665.6,486.3 666.6,485.8 667.1,485.9 669.1,488.9 671.1,488.8 673.1,491.6 675.1,492.1 677.1,495.1 679.1,495.8 681.1,498.6 682.6,499.1 684.6,500.3 685.4,500.3 686.9,499.5 689.1,500.6 690.9,499.7 692.9,500.8 694.9,499.9 696.6,502.4 698.6,503.7 700.6,506 710.9,515.6 752.4,521.1" stroke="#202020" stroke-width="0.75"/>
<path d="M594.4,521.4 596.1,521.1 597.9,521.4 599.6,520.4 601.6,521.4 603.6,519.4 604.1,519.6 605.1,520.9 605.6,521 607.1,517.3 607.6,516.9 609.4,520.6 609.9,519.8 611.4,514.3 611.9,514.9 612.9,519.2 613.4,520 613.9,518.8 614.9,513 615.4,511.8 615.9,512.9 616.9,517.8 617.1,518.3 617.4,518.3 618.9,510.8 619.4,509.9 621.1,515.9 621.6,515 623.1,508.1 623.4,508.1 623.6,508.5 624.6,512.5 625.1,513.4 625.6,512.6 626.6,507.9 627.1,506.7 627.6,507.3 628.6,511 629.1,511.8 629.6,510.8 630.6,506.6 631.1,505.7 631.6,506.3 632.6,509.6 633.1,510.1 634.6,505.3 635.1,504.7 636.9,508.4 637.4,508 638.9,503.8 639.4,503.9 640.9,507.1 641.4,506.8 642.9,503.4 643.4,503.8 644.9,506.9 645.4,506.5 646.4,504 646.9,503.4 647.4,503.8 648.4,506.1 648.9,506.6 649.4,506.2 650.4,504 650.9,503.6 652.4,506.3 652.9,506.6 654.6,504.4 655.1,504.6 656.6,506.7 657.1,506.6 658.6,505.2 660.6,506.8 662.6,506 664.6,507.1 666.9,507.1 668.6,508.3 670.6,508.2 672.6,509.4 674.6,509.4 676.6,510.6 678.6,510.6 680.4,511.7 682.4,511.4 684.4,512.3 686.4,512 688.4,512.9 690.1,512.7 692.4,514 694.1,514.2 696.1,515.3 698.1,515.7 702.9,517.6 711.1,519.8 726.1,521.4 752.4,521.4" stroke="#ff6030" stroke-width="0.9"/>
<path d="M594.4,503.8 594.9,495.4 595.1,493.7 595.4,494.2 596.6,516.1 597.1,520.6 597.6,516.6 598.6,495.8 599.1,491.3 599.6,495.3 600.6,515.4 601.1,519.1 601.6,514 602.6,492.5 603.1,488.6 603.6,493.6 604.6,514 604.9,516.6 605.1,517 606.6,489.2 606.9,486.5 607.1,486.1 608.6,512.6 608.9,514.8 609.1,514.7 610.9,483.2 611.1,483.2 611.4,485.5 612.4,505.8 612.9,511 613.4,507.2 614.4,484.8 614.9,479 615.4,482.1 616.4,502.1 616.9,506.3 617.4,501.8 618.4,479.7 618.9,474.8 619.4,478.7 620.4,498.2 620.9,501.4 621.4,496.2 622.4,475.6 622.9,472 623.4,476.4 624.4,493.8 624.6,495.8 624.9,495.9 626.6,470 626.9,469.6 627.1,471.1 628.6,490.7 629.1,488.3 630.6,467.6 630.9,467.7 631.1,469.4 632.1,483.9 632.6,487.6 633.1,485.2 634.1,470.2 634.6,466.5 635.1,468.8 636.1,482.6 636.6,485.6 637.1,482.7 638.4,466.3 638.6,465.5 638.9,466.2 640.1,481.4 640.6,483.8 641.1,480.7 642.1,467.8 642.6,465.7 643.1,468.9 644.1,481.3 644.6,483.1 646.4,466.5 646.6,466.4 646.9,467.6 648.4,482.3 648.6,482.3 648.9,481.1 649.9,470.1 650.4,467.4 650.9,469.2 651.9,479.6 652.4,482.2 652.9,480.9 653.9,472.8 654.4,471.2 654.9,473 655.9,480.8 656.4,482.4 656.9,481.2 657.9,475.8 658.4,475.1 660.1,482.3 660.4,482.5 660.6,482.2 661.9,479 662.4,479 664.1,482.6 664.6,482.9 666.1,482.3 668.1,485.5 668.6,485.8 670.1,485.4 672.1,488.4 674.1,488.8 676.1,492 678.1,492.8 680.1,495.9 681.9,496.5 683.6,498.5 684.4,498.6 685.9,497.7 687.9,498.8 689.9,498 691.9,499.1 693.6,498.2 694.4,498.3 695.9,500.1 697.9,501.4 699.6,503.8 710.9,515.2 752.4,521.1" stroke="#a0a0a0" stroke-width="0.75"/>
<path d="M594.4,520.7 594.6,521.3 594.9,520.2 596.1,500.6 596.6,497.6 597.1,501.5 598.4,519.9 598.6,520.2 598.9,518.7 600.1,498.1 600.6,495.6 602.1,517 602.4,518.7 602.6,518.6 604.1,495.4 604.4,493.5 604.6,493.6 606.4,517.2 606.9,514.3 607.9,495.9 608.4,491.1 608.9,493.9 609.9,511.6 610.4,515.3 610.9,511.4 611.9,492.3 612.4,488.1 612.9,491.5 613.9,508.4 614.4,511.3 614.9,506.8 615.9,488.2 616.4,484.8 616.9,488.7 617.9,505.2 618.1,507.2 618.4,507.3 620.1,481.9 620.4,481.6 620.6,483.1 622.1,503.1 622.4,502.8 622.6,500.8 624.1,479.7 624.4,479.7 624.6,481.4 625.6,495.4 626.1,498.7 626.6,496 627.6,481.2 628.1,477.5 628.6,479.5 629.6,491.9 630.1,494.4 630.6,491.7 631.6,478.8 632.1,476.1 632.6,478.6 633.6,490.6 634.1,492.7 634.6,489.7 635.9,475.8 636.1,475.4 636.4,476.2 637.6,489.4 637.9,490.8 638.1,490.9 639.6,476.2 639.9,474.8 640.1,474.7 641.9,489.8 642.1,489.7 642.4,488.5 643.9,475.2 644.1,475.4 644.4,476.6 645.4,486.7 645.9,489.3 646.4,487.7 647.4,478 647.9,475.7 648.4,477.4 649.4,486.7 649.9,488.8 650.4,487.1 651.4,478.9 651.9,477.5 652.4,479.6 653.4,487.5 653.9,488.8 654.4,487.3 655.4,481.4 655.6,480.8 655.9,480.8 657.6,488.8 657.9,488.9 658.1,488.5 659.1,484.8 659.6,483.9 660.1,484.6 661.1,488.1 661.6,489 662.1,488.7 663.1,487.1 663.6,487.1 665.6,490 666.1,490.2 667.1,489.7 667.6,489.8 669.6,492.4 671.6,492.4 673.6,494.9 675.6,495.5 677.4,497.9 679.4,498.6 681.9,501.4 683.6,501.6 685.4,502.5 687.4,501.7 689.4,502.7 691.4,501.9 693.4,502.9 695.1,502.3 697.1,504.7 699.1,505.9 701.1,508 710.9,516.2 752.4,521.1" stroke="#303030" stroke-width="0.75"/>
</g>
<rect x="594.4" y="363.7" width="158.2" height="157.7" fill="none" stroke="#505050" stroke-width="1.1"/>
<text x="590.2" y="526" text-anchor="end" class="tl">0</text>
<path d="M595.2,489.86 h4.5 M751.8,489.86 h-4.5" stroke="#333" stroke-width="0.9"/>
<text x="590.2" y="494.46" text-anchor="end" class="tl">100</text>
<path d="M595.2,458.32 h4.5 M751.8,458.32 h-4.5" stroke="#333" stroke-width="0.9"/>
<text x="590.2" y="462.92" text-anchor="end" class="tl">200</text>
<path d="M595.2,426.78 h4.5 M751.8,426.78 h-4.5" stroke="#333" stroke-width="0.9"/>
<text x="590.2" y="431.38" text-anchor="end" class="tl">300</text>
<path d="M595.2,395.24 h4.5 M751.8,395.24 h-4.5" stroke="#333" stroke-width="0.9"/>
<text x="590.2" y="399.84" text-anchor="end" class="tl">400</text>
<text x="590.2" y="368.3" text-anchor="end" class="tl">500</text>
<text x="594.4" y="532.4" text-anchor="middle" class="tl">7</text>
<path d="M616.95,520.6 v-5 M616.95,364.5 v5" stroke="#444" stroke-width="0.9"/>
<path d="M639.5,520.6 v-5 M639.5,364.5 v5" stroke="#444" stroke-width="0.9"/>
<text x="639.5" y="532.4" text-anchor="middle" class="tl">8</text>
<path d="M662.05,520.6 v-5 M662.05,364.5 v5" stroke="#444" stroke-width="0.9"/>
<path d="M684.6,520.6 v-5 M684.6,364.5 v5" stroke="#444" stroke-width="0.9"/>
<text x="684.6" y="532.4" text-anchor="middle" class="tl">9</text>
<path d="M707.15,520.6 v-5 M707.15,364.5 v5" stroke="#444" stroke-width="0.9"/>
<path d="M729.7,520.6 v-5 M729.7,364.5 v5" stroke="#444" stroke-width="0.9"/>
<text x="729.7" y="532.4" text-anchor="middle" class="tl">10</text>
<text x="618.5" y="386.3" class="tt">1A&quot; x10000</text>
<text x="703.8" y="373.9" class="lg">0-&gt;1</text>
<path d="M720.9,371.8 H743.8" stroke="#ff8080" stroke-width="0.85"/>
<text x="703.8" y="380.86" class="lg">1-&gt;0</text>
<path d="M720.9,378.76 H743.8" stroke="#80ff80" stroke-width="0.85"/>
<text x="703.8" y="387.82" class="lg">1-&gt;1</text>
<path d="M720.9,385.72 H743.8" stroke="#8080ff" stroke-width="0.85"/>
<text x="703.8" y="394.78" class="lg">1-&gt;2</text>
<path d="M720.9,392.68 H743.8" stroke="#ff80ff" stroke-width="0.85"/>
<text x="703.8" y="401.74" class="lg">2-&gt;1</text>
<path d="M720.9,399.64 H743.8" stroke="#80ffff" stroke-width="0.85"/>
<text x="703.8" y="408.7" class="lg">2-&gt;2</text>
<path d="M720.9,406.6 H743.8" stroke="#ffff80" stroke-width="0.85"/>
<text x="703.8" y="415.66" class="lg">2-&gt;3</text>
<path d="M720.9,413.56 H743.8" stroke="#888888" stroke-width="0.85"/>
<text x="703.8" y="422.62" class="lg">3-&gt;2</text>
<path d="M720.9,420.52 H743.8" stroke="#ffa080" stroke-width="0.85"/>
<text x="703.8" y="429.58" class="lg">3-&gt;3</text>
<path d="M720.9,427.48 H743.8" stroke="#d8d8d8" stroke-width="0.85"/>
<text x="703.8" y="436.54" class="lg">3-&gt;4</text>
<path d="M720.9,434.44 H743.8" stroke="#777777" stroke-width="0.85"/>
<clipPath id="c428"><rect x="38" y="549.3" width="158.5" height="157.7"/></clipPath>
<g clip-path="url(#c428)" fill="none" stroke-width="1" stroke-linejoin="round" stroke-opacity="0.6">
<path d="M38,706.9 45.8,706.7 48.2,706.3 49.8,705.8 50.8,705 51.5,703.8 52.5,699.3 53,692.5 53.5,671.8 54.2,573.9 54.8,658 55.2,688.6 56,700.1 56.8,703.5 57.8,705.1 58.8,705.8 60.2,706.3 65.2,706.7 74.2,706.6 76,706.2 77,705.6 77.8,704 78.2,700 78.9,684.3 79.5,699.1 80,703.5 80.8,705 81.2,705.2 82,705 83,703.9 83.8,701.7 84.5,694.9 85,679.6 85.8,580.8 86.8,686.3 87.5,699.6 88.2,703.3 89.2,705 91.2,706.1 94.8,706.4 97,706 98,704.7 98.5,702.7 99,696.2 99.6,674.5 100.2,697.3 100.8,703 101.2,704.9 102,705.9 103.5,706.4 106.2,706.5 107.5,705.9 108.2,703.6 108.9,696.2 109.5,703.2 110,705.3 110.5,705.9 111.5,706.2 112.8,705.9 113.5,705.1 114.2,702.8 114.8,697.2 115.5,666.6 116,690.2 116.5,700.8 117.2,704.7 118.2,705.9 119.2,705.8 120,704 120.8,706.1 121.5,706.5 125,706.8 127.2,706.4 128,705.3 128.8,699.5 129.5,704.9 130,706.1 131.5,706.7 134,706.5 134.8,706.1 135.2,705 136,699.1 136.5,703.4 137,705.1 137.5,704.7 138.1,701.5 139,705.8 140,706.5 141.5,706.3 142.2,705.6 142.8,703.6 143.4,695.6 144.2,704.7 144.8,705.9 146,706.7 149,706.9 150.8,706.7 151.2,706.3 151.9,704.6 152.8,706.5 154.2,706.9 156,706.8 157,706.2 158.2,706.8 159.2,706.8 160,706.2 160.8,706.8 162,706.8 163,706.2 164,706.8 165,706.4 165.8,706.8 167.2,706.9 168,706.7 168.7,705.8 169.5,706.7 170.2,706.9 171.2,706.8 172,706.2 173.2,706.9 175,706.9 176,706.4 177,706.9 180.2,706.9 181,706.8 181.8,706.2 183,706.9 187.2,706.9 188.2,706.8 189.1,706 189.8,706.7 190.5,706.9 196.5,707" stroke="#ff0000" stroke-width="1.05" stroke-opacity="0.65"/>
<path d="M38,707 52.5,706.9 53.5,706.5 54.2,705 54.8,706.3 55.2,706.7 57.8,707 77,707 78.9,706.7 80,706.9 83.8,706.9 85,706.6 85.8,705.1 86.8,706.7 89.2,707 98,707 99.6,706.5 101.2,707 113.5,707 114.8,706.9 115.5,706.4 116.5,706.9 118.2,707 196.5,707" stroke="#00ff00" stroke-width="0.73" stroke-opacity="0.35"/>
<path d="M38,706.9 45.8,706.8 49.8,706.3 50.8,705.8 51.5,705 52.5,702.2 53,698 53.5,685.2 54.2,624.5 54.8,676.6 55.2,695.6 56,702.7 56.8,704.8 57.8,705.8 60.2,706.6 65.2,706.8 74.2,706.7 77,706.1 77.8,705.1 78.2,702.7 78.9,692.9 79.5,702.1 80,704.8 80.8,705.8 82,705.8 83,705.1 83.8,703.7 84.5,699.5 85,690 85.8,628.8 86.8,694.1 87.5,702.4 88.2,704.7 89.2,705.8 91.2,706.4 94.8,706.7 97,706.4 98,705.6 98.5,704.3 99,700.3 99.6,686.8 100.2,701 100.8,704.5 101.2,705.7 102,706.3 103.5,706.6 106.2,706.7 107.5,706.3 108.2,704.9 108.9,700.3 109.5,704.7 110,706 110.5,706.3 111.5,706.5 112.8,706.3 113.5,705.8 114.2,704.4 114.8,701 115.5,681.9 116,696.6 116.5,703.2 117.2,705.5 118.2,706.3 119.2,706.3 120,705.2 120.8,706.4 121.5,706.7 125,706.9 127.2,706.6 128,705.9 128.8,702.4 129.5,705.7 130,706.4 131.5,706.8 134,706.7 134.8,706.4 135.2,705.8 136,702.1 136.5,704.8 137,705.8 137.5,705.6 138.1,703.6 139,706.3 140,706.7 141.5,706.6 142.2,706.1 142.8,704.9 143.4,699.9 144.2,705.6 144.8,706.3 146,706.8 150.8,706.8 151.2,706.5 151.9,705.5 152.8,706.7 154.2,706.9 156,706.9 157,706.5 158.2,706.9 160,706.5 160.8,706.9 162,706.9 163,706.5 164,706.9 165,706.6 167.2,706.9 168,706.8 168.7,706.3 169.5,706.8 170.2,706.9 172,706.5 173.2,706.9 175,706.9 176,706.6 177,706.9 180.2,707 181.8,706.5 183,706.9 187.2,707 188.2,706.9 189.1,706.4 190.5,706.9 196.5,707" stroke="#0000ff" stroke-width="0.63" stroke-opacity="0.22"/>
<path d="M38,706.9 45.8,706.8 49.8,706.2 50.8,705.7 51.5,704.9 52.5,701.9 53,697.3 53.5,683.4 54.2,617.9 54.8,674.1 55.2,694.7 56,702.4 56.8,704.6 57.8,705.7 60.2,706.5 65.2,706.8 74.2,706.7 76,706.5 77,706.1 77.8,705 78.2,702.3 78.9,691.8 79.5,701.7 80,704.6 80.8,705.7 82,705.7 83,704.9 83.8,703.4 84.5,698.9 85,688.6 85.8,622.5 86.8,693.1 87.5,702.1 88.2,704.5 89.2,705.7 91.2,706.4 94.8,706.6 97,706.3 98,705.5 98.5,704.1 99,699.7 99.6,685.2 100.2,700.5 100.8,704.3 101.2,705.6 102,706.2 103.5,706.6 106.2,706.6 107.5,706.2 108.2,704.7 108.9,699.7 109.5,704.5 110,705.9 110.5,706.3 111.5,706.5 112.8,706.2 113.5,705.7 114.2,704.2 114.8,700.5 115.5,679.9 116,695.7 116.5,702.9 117.2,705.4 118.2,706.2 119.2,706.2 120,705 120.8,706.4 121.5,706.7 125,706.8 127.2,706.6 128,705.9 128.8,702 129.5,705.6 130,706.4 131.5,706.8 134,706.7 134.8,706.4 135.2,705.7 136,701.7 136.5,704.6 137,705.7 137.5,705.4 138.1,703.3 139,706.2 140,706.7 141.5,706.5 142.2,706 142.8,704.7 143.4,699.3 144.2,705.5 144.8,706.3 146,706.8 150.8,706.8 151.2,706.5 151.9,705.4 152.8,706.7 154.2,706.9 156,706.9 157,706.5 158.2,706.9 159.2,706.8 160,706.5 160.8,706.8 162,706.9 163,706.5 164,706.9 165,706.6 167.2,706.9 168,706.8 168.7,706.2 169.5,706.8 170.2,706.9 171.2,706.8 172,706.5 173.2,706.9 175,706.9 176,706.6 177,706.9 180.2,707 181.8,706.5 183,706.9 187.2,707 188.2,706.9 189.1,706.3 190.5,706.9 196.5,707" stroke="#ff00ff" stroke-width="0.63" stroke-opacity="0.22"/>
<path d="M38,707 52.5,706.9 53.5,706.6 54.2,705.4 55.2,706.8 57.8,707 77,707 78.9,706.7 80,707 83.8,706.9 85,706.7 85.8,705.5 86.8,706.8 89.2,707 98,707 99.6,706.6 101.2,707 113.5,707 114.8,706.9 115.5,706.5 116.5,706.9 118.2,707 196.5,707" stroke="#00ffff" stroke-width="0.73" stroke-opacity="0.35"/>
<path d="M38,707 45.8,706.8 49.8,706.3 51.5,705.3 52.5,702.8 53,699 53.5,687.6 54.2,633.8 54.8,680 55.2,696.9 56,703.2 56.8,705 57.8,706 60.2,706.6 65.2,706.9 74.2,706.8 77,706.2 77.8,705.3 78.2,703.2 78.9,694.5 79.5,702.7 80,705.1 80.8,705.9 82,705.9 83,705.3 83.8,704.1 84.5,700.3 85,691.9 85.8,637.6 86.8,695.6 87.5,702.9 88.2,705 89.2,705.9 91.2,706.5 94.8,706.7 97,706.4 98,705.7 98.5,704.6 99,701 99.6,689.1 100.2,701.7 100.8,704.8 101.2,705.8 102,706.4 103.5,706.7 106.2,706.7 107.5,706.4 108.2,705.1 108.9,701 109.5,704.9 110,706.1 111.5,706.6 112.8,706.4 113.5,706 114.2,704.7 114.8,701.6 115.5,684.8 116,697.8 116.5,703.6 117.2,705.7 118.2,706.4 119.2,706.4 120,705.4 120.8,706.5 121.5,706.7 127.2,706.7 128,706.1 128.8,702.9 129.5,705.9 130,706.5 131.5,706.8 134,706.7 134.8,706.5 135.2,705.9 136,702.7 136.5,705 137,706 137.5,705.7 138.1,704 139,706.3 140,706.7 141.5,706.6 142.2,706.2 142.8,705.1 143.4,700.7 144.2,705.7 144.8,706.4 146,706.8 150.8,706.8 151.2,706.6 151.9,705.7 152.8,706.7 154.2,706.9 156,706.9 157,706.6 158.2,706.9 160,706.6 162,706.9 163,706.6 164,706.9 165,706.7 167.2,706.9 168.7,706.3 169.5,706.8 170.2,706.9 172,706.6 173.2,706.9 176,706.7 177,706.9 180.2,707 181.8,706.6 183,706.9 187.2,707 188.2,706.9 189.1,706.5 190.5,707 196.5,707" stroke="#ffff00" stroke-width="0.63" stroke-opacity="0.35"/>
<path d="M38,707 45.8,706.8 49.8,706.3 51.5,705.3 52.5,702.8 53,699 53.5,687.6 54.2,633.8 54.8,680 55.2,696.9 56,703.2 56.8,705 57.8,706 60.2,706.6 65.2,706.9 74.2,706.8 77,706.2 77.8,705.3 78.2,703.2 78.9,694.5 79.5,702.7 80,705.1 80.8,705.9 82,705.9 83,705.3 83.8,704.1 84.5,700.3 85,691.9 85.8,637.6 86.8,695.6 87.5,702.9 88.2,705 89.2,705.9 91.2,706.5 94.8,706.7 97,706.4 98,705.7 98.5,704.6 99,701 99.6,689.1 100.2,701.7 100.8,704.8 101.2,705.8 102,706.4 103.5,706.7 106.2,706.7 107.5,706.4 108.2,705.1 108.9,701 109.5,704.9 110,706.1 111.5,706.6 112.8,706.4 113.5,706 114.2,704.7 114.8,701.6 115.5,684.8 116,697.8 116.5,703.6 117.2,705.7 118.2,706.4 119.2,706.4 120,705.4 120.8,706.5 121.5,706.7 127.2,706.7 128,706.1 128.8,702.9 129.5,705.9 130,706.5 131.5,706.8 134,706.7 134.8,706.5 135.2,705.9 136,702.7 136.5,705 137,706 137.5,705.7 138.1,704 139,706.3 140,706.7 141.5,706.6 142.2,706.2 142.8,705.1 143.4,700.7 144.2,705.7 144.8,706.4 146,706.8 150.8,706.8 151.2,706.6 151.9,705.7 152.8,706.7 154.2,706.9 156,706.9 157,706.6 158.2,706.9 160,706.6 162,706.9 163,706.6 164,706.9 165,706.7 167.2,706.9 168.7,706.3 169.5,706.8 170.2,706.9 172,706.6 173.2,706.9 176,706.7 177,706.9 180.2,707 181.8,706.6 183,706.9 187.2,707 188.2,706.9 189.1,706.5 190.5,707 196.5,707" stroke="#000000" stroke-width="1.05" stroke-opacity="0.45"/>
<path d="M38,706.9 45.8,706.8 49.8,706.3 51.5,705.2 52.5,702.5 53,698.6 53.5,686.6 54.2,629.8 54.8,678.6 55.2,696.3 56,703 56.8,704.9 57.8,705.9 60.2,706.6 65.2,706.8 74.2,706.8 77,706.2 77.8,705.3 78.2,703 78.9,693.9 79.5,702.4 80,705 80.8,705.8 82,705.9 83,705.2 83.8,703.9 84.5,700 85,691.1 85.8,633.8 86.8,695 87.5,702.7 88.2,704.8 89.2,705.9 91.2,706.5 94.8,706.7 97,706.4 98,705.7 98.5,704.5 99,700.7 99.6,688.1 100.2,701.4 100.8,704.7 101.2,705.8 102,706.3 103.5,706.7 106.2,706.7 107.5,706.3 108.2,705 108.9,700.7 109.5,704.8 110,706 111.5,706.5 112.8,706.3 113.5,705.9 114.2,704.5 114.8,701.3 115.5,683.6 116,697.3 116.5,703.4 117.2,705.6 118.2,706.3 119.2,706.3 120,705.3 120.8,706.5 121.5,706.7 125,706.9 127.2,706.6 128,706 128.8,702.7 129.5,705.8 130,706.5 131.5,706.8 134,706.7 134.8,706.5 135.2,705.8 136,702.4 136.5,704.9 137,705.9 137.5,705.6 138.1,703.8 139,706.3 140,706.7 141.5,706.6 142.2,706.2 142.8,705 143.4,700.4 144.2,705.7 144.8,706.4 146,706.8 150.8,706.8 151.2,706.6 151.9,705.6 152.8,706.7 154.2,706.9 156,706.9 157,706.5 158.2,706.9 160,706.5 160.8,706.9 162,706.9 163,706.5 164,706.9 165,706.7 167.2,706.9 168.7,706.3 169.5,706.8 170.2,706.9 172,706.5 173.2,706.9 176,706.7 177,706.9 180.2,707 181.8,706.5 183,706.9 187.2,707 188.2,706.9 189.1,706.4 190.5,707 196.5,707" stroke="#ff6030" stroke-width="0.84" stroke-opacity="0.4"/>
<path d="M38,707 45.8,706.9 49.8,706.5 51.5,705.7 52.5,703.9 53,701.2 53.5,692.9 54.2,653.8 54.8,687.4 55.2,699.6 56,704.2 56.8,705.6 57.8,706.3 60.2,706.7 65.2,706.9 74.2,706.8 77,706.4 77.8,705.8 78.2,704.2 78.9,697.9 79.5,703.8 80,705.6 80.8,706.2 82,706.2 83,705.8 83.8,704.9 84.5,702.2 85,696 85.8,656.5 86.8,698.7 87.5,704 88.2,705.5 89.2,706.2 91.2,706.6 94.8,706.8 97,706.6 98,706.1 98.5,705.3 99,702.7 99.6,694 100.2,703.1 100.8,705.4 101.2,706.1 102,706.5 103.5,706.8 107.5,706.5 108.2,705.6 108.9,702.7 109.5,705.5 110,706.3 111.5,706.7 113.5,706.3 114.2,705.3 114.8,703.1 115.5,690.8 116,700.3 116.5,704.5 117.2,706.1 118.2,706.5 119.2,706.5 120,705.8 120.8,706.6 121.5,706.8 127.2,706.8 128,706.3 128.8,704 129.5,706.2 130,706.6 134,706.8 135.2,706.2 136,703.8 136.5,705.6 137,706.2 137.5,706.1 138.1,704.8 139,706.5 140,706.8 141.5,706.7 142.2,706.4 142.8,705.6 143.4,702.4 144.2,706.1 144.8,706.6 146,706.9 150.8,706.9 151.9,706.1 152.8,706.8 154.2,706.9 157,706.7 158.2,706.9 160,706.7 162,706.9 163,706.7 167.2,706.9 168.7,706.5 170.2,706.9 172,706.7 173.2,707 176,706.8 180.2,707 181.8,706.7 183,707 187.2,707 189.1,706.6 190.5,707 196.5,707" stroke="#c0c0c0" stroke-width="0.84" stroke-opacity="0.5"/>
<path d="M38,706.9 45.8,706.8 49.8,706.3 51.5,705.1 52.5,702.4 53,698.3 53.5,685.9 54.2,627.2 54.8,677.6 55.2,696 56,702.9 56.8,704.9 57.8,705.9 60.2,706.6 65.2,706.8 74.2,706.8 77,706.2 77.8,705.2 78.2,702.8 78.9,693.4 79.5,702.3 80,704.9 80.8,705.8 82,705.8 83,705.2 83.8,703.8 84.5,699.7 85,690.6 85.8,631.3 86.8,694.6 87.5,702.6 88.2,704.8 89.2,705.8 91.2,706.5 94.8,706.7 97,706.4 98,705.6 98.5,704.4 99,700.5 99.6,687.5 100.2,701.2 100.8,704.6 101.2,705.7 102,706.3 103.5,706.7 106.2,706.7 107.5,706.3 108.2,705 108.9,700.5 109.5,704.7 110,706 110.5,706.4 111.5,706.5 112.8,706.3 113.5,705.9 114.2,704.5 114.8,701.1 115.5,682.8 116,696.9 116.5,703.3 117.2,705.6 118.2,706.3 119.2,706.3 120,705.2 120.8,706.4 121.5,706.7 125,706.9 127.2,706.6 128,706 128.8,702.5 129.5,705.8 130,706.4 131.5,706.8 134,706.7 134.8,706.4 135.2,705.8 136,702.3 136.5,704.9 137,705.9 137.5,705.6 138.1,703.7 139,706.3 140,706.7 141.5,706.6 142.2,706.1 142.8,704.9 143.4,700.1 144.2,705.6 144.8,706.4 146,706.8 150.8,706.8 151.2,706.6 151.9,705.6 152.8,706.7 154.2,706.9 156,706.9 157,706.5 158.2,706.9 160,706.5 160.8,706.9 162,706.9 163,706.5 164,706.9 165,706.6 167.2,706.9 168,706.8 168.7,706.3 169.5,706.8 170.2,706.9 172,706.5 173.2,706.9 176,706.6 177,706.9 180.2,707 181.8,706.5 183,706.9 187.2,707 188.2,706.9 189.1,706.4 190.5,706.9 196.5,707" stroke="#000000" stroke-width="1.05" stroke-opacity="0.45"/>
</g>
<rect x="38" y="549.3" width="158.5" height="157.7" fill="none" stroke="#505050" stroke-width="1.1"/>
<text x="33.8" y="711.6" text-anchor="end" class="tl">0</text>
<path d="M38.8,667.58 h4.5 M195.7,667.58 h-4.5" stroke="#333" stroke-width="0.9"/>
<text x="33.8" y="672.18" text-anchor="end" class="tl">200</text>
<path d="M38.8,628.15 h4.5 M195.7,628.15 h-4.5" stroke="#333" stroke-width="0.9"/>
<text x="33.8" y="632.75" text-anchor="end" class="tl">400</text>
<path d="M38.8,588.72 h4.5 M195.7,588.72 h-4.5" stroke="#333" stroke-width="0.9"/>
<text x="33.8" y="593.32" text-anchor="end" class="tl">600</text>
<text x="33.8" y="553.9" text-anchor="end" class="tl">800</text>
<path d="M117,706.2 v-5 M117,550.1 v5" stroke="#444" stroke-width="0.9"/>
<text x="117" y="718" text-anchor="middle" class="tl">11</text>
<text x="76" y="571" class="tt">6A' x10</text>
<text x="147.7" y="559.5" class="lg">0-&gt;1</text>
<path d="M164.8,557.4 H187.7" stroke="#ff8080" stroke-width="0.85"/>
<text x="147.7" y="566.46" class="lg">1-&gt;0</text>
<path d="M164.8,564.36 H187.7" stroke="#80ff80" stroke-width="0.85"/>
<text x="147.7" y="573.42" class="lg">1-&gt;1</text>
<path d="M164.8,571.32 H187.7" stroke="#8080ff" stroke-width="0.85"/>
<text x="147.7" y="580.38" class="lg">1-&gt;2</text>
<path d="M164.8,578.28 H187.7" stroke="#ff80ff" stroke-width="0.85"/>
<text x="147.7" y="587.34" class="lg">2-&gt;1</text>
<path d="M164.8,585.24 H187.7" stroke="#80ffff" stroke-width="0.85"/>
<text x="147.7" y="594.3" class="lg">2-&gt;2</text>
<path d="M164.8,592.2 H187.7" stroke="#ffff80" stroke-width="0.85"/>
<text x="147.7" y="601.26" class="lg">2-&gt;3</text>
<path d="M164.8,599.16 H187.7" stroke="#888888" stroke-width="0.85"/>
<text x="147.7" y="608.22" class="lg">3-&gt;2</text>
<path d="M164.8,606.12 H187.7" stroke="#ffa080" stroke-width="0.85"/>
<text x="147.7" y="615.18" class="lg">3-&gt;3</text>
<path d="M164.8,613.08 H187.7" stroke="#d8d8d8" stroke-width="0.85"/>
<text x="147.7" y="622.14" class="lg">3-&gt;4</text>
<path d="M164.8,620.04 H187.7" stroke="#777777" stroke-width="0.85"/>
<clipPath id="c462"><rect x="223.9" y="549.3" width="157.8" height="157.7"/></clipPath>
<g clip-path="url(#c462)" fill="none" stroke-width="1" stroke-linejoin="round" stroke-opacity="0.6">
<path d="M223.9,707 237.4,706.8 242.7,706.3 244.2,705.7 245.2,704.7 245.9,703.2 246.4,701.2 247.2,693 247.7,674.1 248.4,569 248.9,649.9 249.4,686.3 250.2,699.5 250.9,703.2 251.9,705 252.9,705.8 254.4,706.3 260.1,706.8 275.6,706.8 278.1,706.5 279.4,705.8 279.9,705.1 280.4,703.4 280.9,698.2 281.6,673.9 282.1,694.8 282.6,702.4 283.4,705.3 283.9,705.9 284.9,706.4 287.4,706.8 293.4,706.9 299.1,706.9 301.1,706.5 301.6,706.1 302.1,704.9 302.9,698.3 303.6,704.9 304.1,706.1 305.1,706.7 309.1,707 324.6,706.9 325.9,706.7 326.8,705.4 327.4,706.5 328.1,706.8 333.1,706.9 334.6,706.5 335.5,704.6 336.1,706.3 336.6,706.7 340.6,706.7 341.9,706.1 342.4,705.2 343.3,696.7 344.1,705 344.6,706.1 345.6,706.7 350.4,707 369.1,706.9 370.6,706.4 371.4,704.6 372.1,706.4 372.9,706.8 381.6,707" stroke="#ff0000" stroke-width="1.05" stroke-opacity="0.65"/>
<path d="M223.9,707 246.4,706.9 247.7,706.5 248.4,704.9 249.4,706.7 251.9,707 279.4,707 280.9,706.9 281.6,706.5 282.6,706.9 284.9,707 381.6,707" stroke="#00ff00" stroke-width="0.73" stroke-opacity="0.35"/>
<path d="M223.9,707 237.4,706.9 242.7,706.5 244.2,706.2 245.2,705.6 245.9,704.6 246.4,703.4 247.2,698.3 247.7,686.6 248.4,621.4 248.9,671.6 249.4,694.2 250.2,702.3 250.9,704.6 251.9,705.8 254.4,706.6 260.1,706.9 275.6,706.9 278.1,706.7 279.4,706.3 280.4,704.7 280.9,701.6 281.6,686.5 282.1,699.4 282.6,704.2 283.4,705.9 284.9,706.7 293.4,707 301.1,706.7 302.1,705.7 302.9,701.6 303.6,705.7 304.1,706.4 305.1,706.8 324.6,707 325.9,706.8 326.8,706 327.4,706.7 328.1,706.9 333.1,706.9 334.6,706.7 335.5,705.5 336.1,706.5 336.6,706.8 340.6,706.8 341.9,706.5 342.4,705.9 343.3,700.6 344.1,705.7 344.6,706.4 345.6,706.8 369.1,706.9 370.6,706.6 371.4,705.5 372.1,706.6 372.9,706.9 381.6,707" stroke="#0000ff" stroke-width="0.63" stroke-opacity="0.22"/>
<path d="M223.9,707 237.4,706.9 242.7,706.5 244.2,706.1 245.2,705.5 245.9,704.5 246.4,703.1 247.2,697.6 247.7,684.9 248.4,614.5 248.9,668.8 249.4,693.1 250.2,702 250.9,704.5 251.9,705.7 254.4,706.5 260.1,706.9 275.6,706.9 278.1,706.7 279.4,706.2 280.4,704.6 280.9,701.1 281.6,684.8 282.1,698.8 282.6,703.9 283.4,705.8 284.9,706.6 293.4,707 301.1,706.7 302.1,705.6 302.9,701.2 303.6,705.6 304.1,706.4 305.1,706.8 324.6,707 325.9,706.8 326.8,705.9 327.4,706.6 328.1,706.9 333.1,706.9 334.6,706.7 335.5,705.4 336.1,706.5 336.6,706.8 340.6,706.8 341.9,706.4 342.4,705.8 343.3,700.1 344.1,705.6 344.6,706.4 345.6,706.8 369.1,706.9 370.6,706.6 371.4,705.4 372.1,706.6 372.9,706.9 381.6,707" stroke="#ff00ff" stroke-width="0.63" stroke-opacity="0.22"/>
<path d="M223.9,707 246.4,706.9 247.7,706.6 248.4,705.3 249.4,706.8 251.9,707 279.4,707 281.6,706.6 282.6,706.9 284.9,707 381.6,707" stroke="#00ffff" stroke-width="0.73" stroke-opacity="0.35"/>
<path d="M223.9,707 237.4,706.9 242.7,706.6 245.2,705.8 245.9,704.9 246.4,703.8 247.2,699.3 247.7,688.9 248.4,631.1 248.9,675.6 249.4,695.6 250.2,702.9 250.9,704.9 251.9,705.9 254.4,706.6 260.1,706.9 275.6,706.9 278.1,706.7 279.4,706.3 280.4,705 280.9,702.2 281.6,688.8 282.1,700.3 282.6,704.5 283.4,706 284.9,706.7 293.4,707 301.1,706.7 302.1,705.9 302.9,702.2 303.6,705.9 304.1,706.5 305.1,706.8 324.6,707 325.9,706.8 326.8,706.1 327.4,706.7 328.1,706.9 333.1,706.9 334.6,706.7 335.5,705.7 336.1,706.6 336.6,706.8 340.6,706.9 341.9,706.5 342.4,706 343.3,701.4 344.1,705.9 344.6,706.5 345.6,706.8 369.1,707 370.6,706.7 371.4,705.7 372.1,706.7 372.9,706.9 381.6,707" stroke="#ffff00" stroke-width="0.63" stroke-opacity="0.35"/>
<path d="M223.9,707 237.4,706.9 242.7,706.6 245.2,705.8 245.9,704.9 246.4,703.8 247.2,699.3 247.7,688.9 248.4,631.1 248.9,675.6 249.4,695.6 250.2,702.9 250.9,704.9 251.9,705.9 254.4,706.6 260.1,706.9 275.6,706.9 278.1,706.7 279.4,706.3 280.4,705 280.9,702.2 281.6,688.8 282.1,700.3 282.6,704.5 283.4,706 284.9,706.7 293.4,707 301.1,706.7 302.1,705.9 302.9,702.2 303.6,705.9 304.1,706.5 305.1,706.8 324.6,707 325.9,706.8 326.8,706.1 327.4,706.7 328.1,706.9 333.1,706.9 334.6,706.7 335.5,705.7 336.1,706.6 336.6,706.8 340.6,706.9 341.9,706.5 342.4,706 343.3,701.4 344.1,705.9 344.6,706.5 345.6,706.8 369.1,707 370.6,706.7 371.4,705.7 372.1,706.7 372.9,706.9 381.6,707" stroke="#000000" stroke-width="1.05" stroke-opacity="0.45"/>
<path d="M223.9,707 237.4,706.9 242.7,706.6 245.2,705.7 245.9,704.8 246.4,703.6 247.2,698.9 247.7,687.9 248.4,627 248.9,673.9 249.4,695 250.2,702.6 250.9,704.8 251.9,705.9 254.4,706.6 260.1,706.9 275.6,706.9 278.1,706.7 279.4,706.3 280.4,704.9 280.9,701.9 281.6,687.8 282.1,699.9 282.6,704.3 283.4,706 284.9,706.7 293.4,707 301.1,706.7 302.1,705.8 302.9,702 303.6,705.8 304.1,706.5 305.1,706.8 324.6,707 325.9,706.8 326.8,706.1 327.4,706.7 328.1,706.9 333.1,706.9 334.6,706.7 335.5,705.6 336.1,706.6 336.6,706.8 340.6,706.8 341.9,706.5 342.4,705.9 343.3,701.1 344.1,705.8 344.6,706.5 345.6,706.8 369.1,707 370.6,706.7 371.4,705.6 372.1,706.7 372.9,706.9 381.6,707" stroke="#ff6030" stroke-width="0.84" stroke-opacity="0.4"/>
<path d="M223.9,707 242.7,706.7 245.2,706.1 246.4,704.7 247.2,701.4 247.7,693.8 248.4,651.8 248.9,684.2 249.4,698.7 250.2,704 250.9,705.5 251.9,706.2 254.4,706.7 260.1,706.9 275.6,706.9 279.4,706.5 280.4,705.5 280.9,703.5 281.6,693.8 282.1,702.1 282.6,705.2 283.4,706.3 284.9,706.8 293.4,707 301.1,706.8 302.1,706.2 302.9,703.5 303.6,706.2 304.1,706.6 305.1,706.9 324.6,707 325.9,706.9 326.8,706.4 328.1,706.9 333.1,707 334.6,706.8 335.5,706.1 336.6,706.9 340.6,706.9 341.9,706.7 342.4,706.3 343.3,702.9 344.1,706.2 344.6,706.6 345.6,706.9 369.1,707 370.6,706.8 371.4,706.1 372.1,706.8 372.9,706.9 381.6,707" stroke="#c0c0c0" stroke-width="0.84" stroke-opacity="0.5"/>
<path d="M223.9,707 237.4,706.9 242.7,706.6 245.2,705.6 245.9,704.7 246.4,703.5 247.2,698.6 247.7,687.2 248.4,624.2 248.9,672.7 249.4,694.6 250.2,702.5 250.9,704.7 251.9,705.8 254.4,706.6 260.1,706.9 275.6,706.9 278.1,706.7 279.4,706.3 280.4,704.8 280.9,701.7 281.6,687.1 282.1,699.7 282.6,704.2 283.4,706 284.9,706.7 293.4,707 301.1,706.7 302.1,705.8 302.9,701.8 303.6,705.8 304.1,706.5 305.1,706.8 324.6,707 325.9,706.8 326.8,706.1 327.4,706.7 328.1,706.9 333.1,706.9 334.6,706.7 335.5,705.6 336.1,706.6 336.6,706.8 340.6,706.8 341.9,706.5 342.4,705.9 343.3,700.8 344.1,705.8 344.6,706.5 345.6,706.8 369.1,707 370.6,706.7 371.4,705.6 372.1,706.7 372.9,706.9 381.6,707" stroke="#000000" stroke-width="1.05" stroke-opacity="0.45"/>
</g>
<rect x="223.9" y="549.3" width="157.8" height="157.7" fill="none" stroke="#505050" stroke-width="1.1"/>
<text x="219.7" y="711.6" text-anchor="end" class="tl">0</text>
<path d="M224.7,667.58 h4.5 M380.9,667.58 h-4.5" stroke="#333" stroke-width="0.9"/>
<text x="219.7" y="672.18" text-anchor="end" class="tl">50</text>
<path d="M224.7,628.15 h4.5 M380.9,628.15 h-4.5" stroke="#333" stroke-width="0.9"/>
<text x="219.7" y="632.75" text-anchor="end" class="tl">100</text>
<path d="M224.7,588.72 h4.5 M380.9,588.72 h-4.5" stroke="#333" stroke-width="0.9"/>
<text x="219.7" y="593.32" text-anchor="end" class="tl">150</text>
<text x="219.7" y="553.9" text-anchor="end" class="tl">200</text>
<path d="M245.8,706.2 v-5 M245.8,550.1 v5" stroke="#444" stroke-width="0.9"/>
<text x="245.8" y="718" text-anchor="middle" class="tl">11</text>
<path d="M359.3,706.2 v-5 M359.3,550.1 v5" stroke="#444" stroke-width="0.9"/>
<text x="266" y="571" class="tt">7A' x1</text>
<text x="332.9" y="559.5" class="lg">0-&gt;1</text>
<path d="M350,557.4 H372.9" stroke="#ff8080" stroke-width="0.85"/>
<text x="332.9" y="566.46" class="lg">1-&gt;0</text>
<path d="M350,564.36 H372.9" stroke="#80ff80" stroke-width="0.85"/>
<text x="332.9" y="573.42" class="lg">1-&gt;1</text>
<path d="M350,571.32 H372.9" stroke="#8080ff" stroke-width="0.85"/>
<text x="332.9" y="580.38" class="lg">1-&gt;2</text>
<path d="M350,578.28 H372.9" stroke="#ff80ff" stroke-width="0.85"/>
<text x="332.9" y="587.34" class="lg">2-&gt;1</text>
<path d="M350,585.24 H372.9" stroke="#80ffff" stroke-width="0.85"/>
<text x="332.9" y="594.3" class="lg">2-&gt;2</text>
<path d="M350,592.2 H372.9" stroke="#ffff80" stroke-width="0.85"/>
<text x="332.9" y="601.26" class="lg">2-&gt;3</text>
<path d="M350,599.16 H372.9" stroke="#888888" stroke-width="0.85"/>
<text x="332.9" y="608.22" class="lg">3-&gt;2</text>
<path d="M350,606.12 H372.9" stroke="#ffa080" stroke-width="0.85"/>
<text x="332.9" y="615.18" class="lg">3-&gt;3</text>
<path d="M350,613.08 H372.9" stroke="#d8d8d8" stroke-width="0.85"/>
<text x="332.9" y="622.14" class="lg">3-&gt;4</text>
<path d="M350,620.04 H372.9" stroke="#777777" stroke-width="0.85"/>
<clipPath id="c497"><rect x="408.8" y="549.3" width="158.5" height="157.7"/></clipPath>
<g clip-path="url(#c497)" fill="none" stroke-width="1" stroke-linejoin="round" stroke-opacity="0.6">
<path d="M408.8,706.9 416.3,706.7 419.6,706 420.6,705.4 421.3,704.5 422.3,701.2 422.8,696.4 423.3,682.9 424.1,595.6 425.1,688.7 425.8,700.5 426.6,703.8 427.8,705.5 429.1,706.1 430.8,706.5 435.6,706.4 437.3,705.6 438.3,703.5 439.1,695.6 439.8,659.7 440.6,695.6 441.1,702.1 441.8,704.9 442.8,706 444.3,706.5 447.8,706.8 451.6,706.7 452.3,706.5 452.8,706 453.6,702.8 454.3,705.8 455.1,706.5 456.8,706.7 459.1,706.4 460.3,706 461.1,705.3 462.1,702.4 462.6,696.8 463.4,655.5 464.3,697.8 465.1,703.8 465.8,705.4 466.8,706.2 469.6,706.7 474.3,706.7 476.1,706.3 477.1,705.2 477.8,701.5 478.6,681.8 479.6,702.8 480.1,704.9 481.1,706 481.8,705.9 482.6,703.8 483.3,706 484.6,706.7 487.8,706.8 489.8,706.6 490.6,705.8 491.1,703.8 491.8,706.1 492.3,706.5 494.6,706.6 496.1,706 496.6,705.1 497.1,702.3 497.7,691.2 498.6,703.9 499.3,706 500.6,706.6 508.1,706.9 511.6,706.5 512.3,705.4 513.1,699.6 514,705.8 514.5,706.4 515.8,706.8 521.8,706.8 522.5,706.3 523.2,704.9 524,706.5 525,706.5 525.8,705.6 526.4,702.8 527.3,706.2 527.8,706.6 528.8,706.8 532,706.6 533,704.9 533.5,706.2 534.3,706.8 540,706.9 541,706.5 541.8,704.9 542.5,706.5 543.8,706.9 554,706.9 554.8,706.8 555.6,705.9 556.3,706.7 557,706.9 567.3,707" stroke="#ff0000" stroke-width="1.05" stroke-opacity="0.65"/>
<path d="M408.8,707 422.3,706.9 423.3,706.6 424.1,705.3 425.1,706.7 427.8,707 438.3,706.9 439.1,706.8 439.8,706.3 440.6,706.8 441.8,707 461.1,707 462.6,706.8 463.4,706.2 464.3,706.9 466.8,707 477.1,707 478.6,706.6 481.1,707 496.1,707 497.7,706.8 500.6,707 567.3,707" stroke="#00ff00" stroke-width="0.73" stroke-opacity="0.35"/>
<path d="M408.8,706.9 416.3,706.8 419.6,706.4 421.3,705.5 422.3,703.4 422.8,700.5 423.3,692.1 424.1,637.9 425.1,695.7 425.8,703 426.6,705 427.8,706.1 430.8,706.7 435.6,706.6 437.3,706.1 438.3,704.8 439.1,699.9 439.8,677.7 440.6,700 441.1,704 441.8,705.7 442.8,706.4 444.3,706.7 451.6,706.8 452.8,706.4 453.6,704.4 454.3,706.2 455.1,706.7 459.1,706.7 461.1,706 462.1,704.1 462.6,700.7 463.4,675.1 464.3,701.3 465.1,705 465.8,706 466.8,706.5 469.6,706.8 474.3,706.8 476.1,706.5 477.1,705.9 477.8,703.6 478.6,691.4 479.6,704.4 480.1,705.7 481.1,706.4 481.8,706.3 482.6,705 483.3,706.4 484.6,706.8 489.8,706.8 490.6,706.2 491.1,705 491.8,706.4 492.3,706.7 494.6,706.8 496.1,706.4 496.6,705.8 497.1,704.1 497.7,697.2 498.6,705.1 499.3,706.3 500.6,706.8 508.1,706.9 511.6,706.7 512.3,706 513.1,702.4 514,706.2 514.5,706.6 515.8,706.9 521.8,706.9 522.5,706.6 523.2,705.7 524,706.7 525,706.7 525.8,706.1 526.4,704.4 527.3,706.5 528.8,706.9 532,706.8 533,705.7 533.5,706.5 534.3,706.9 540,706.9 541,706.7 541.8,705.7 542.5,706.7 543.8,706.9 554,707 554.8,706.9 555.6,706.3 557,706.9 567.3,707" stroke="#0000ff" stroke-width="0.63" stroke-opacity="0.22"/>
<path d="M408.8,706.9 416.3,706.8 419.6,706.4 421.3,705.3 422.3,703.1 422.8,699.9 423.3,690.9 424.1,632.3 425.1,694.8 425.8,702.7 426.6,704.8 427.8,706 430.8,706.6 435.6,706.6 437.3,706 438.3,704.6 439.1,699.4 439.8,675.3 440.6,699.4 441.1,703.7 441.8,705.6 442.8,706.3 444.3,706.7 451.6,706.8 452.8,706.3 453.6,704.2 454.3,706.2 455.1,706.7 459.1,706.6 461.1,705.9 462.1,703.9 462.6,700.2 463.4,672.5 464.3,700.8 465.1,704.9 465.8,705.9 466.8,706.4 469.6,706.8 474.3,706.8 476.1,706.5 477.1,705.8 477.8,703.3 478.6,690.1 479.6,704.2 480.1,705.6 481.1,706.4 481.8,706.3 482.6,704.9 483.3,706.3 484.6,706.8 489.8,706.7 490.6,706.2 491.1,704.9 491.8,706.4 492.3,706.7 494.6,706.8 496.1,706.3 496.6,705.7 497.1,703.9 497.7,696.4 498.6,704.9 499.3,706.3 500.6,706.8 508.1,706.9 511.6,706.6 512.3,705.9 513.1,702.1 514,706.2 514.5,706.6 515.8,706.9 521.8,706.8 522.5,706.6 523.2,705.6 524,706.6 525,706.7 525.8,706 526.4,704.2 527.3,706.5 528.8,706.9 532,706.7 533,705.6 533.5,706.5 534.3,706.9 540,706.9 541,706.7 541.8,705.6 542.5,706.7 543.8,706.9 554,706.9 554.8,706.8 555.6,706.3 556.3,706.8 557,706.9 567.3,707" stroke="#ff00ff" stroke-width="0.63" stroke-opacity="0.22"/>
<path d="M408.8,707 422.3,706.9 423.3,706.7 424.1,705.7 425.1,706.8 427.8,707 438.3,707 439.8,706.4 440.6,706.9 441.8,707 461.1,707 462.6,706.9 463.4,706.4 464.3,706.9 466.8,707 477.1,707 478.6,706.7 481.1,707 567.3,707" stroke="#00ffff" stroke-width="0.73" stroke-opacity="0.35"/>
<path d="M408.8,706.9 416.3,706.8 419.6,706.5 421.3,705.6 422.3,703.8 422.8,701.2 423.3,693.7 424.1,645.7 425.1,697 425.8,703.4 426.6,705.2 427.8,706.2 430.8,706.7 435.6,706.7 437.3,706.2 438.3,705 439.1,700.7 439.8,681 440.6,700.7 441.1,704.3 441.8,705.9 442.8,706.5 444.3,706.7 451.6,706.8 452.8,706.4 453.6,704.7 454.3,706.3 455.1,706.7 459.1,706.7 461.1,706.1 462.1,704.5 462.6,701.4 463.4,678.7 464.3,701.9 465.1,705.3 465.8,706.1 466.8,706.5 469.6,706.8 474.3,706.8 476.1,706.6 477.1,706 477.8,704 478.6,693.1 479.6,704.7 480.1,705.9 481.1,706.5 481.8,706.4 482.6,705.3 483.3,706.5 484.6,706.8 489.8,706.8 490.6,706.3 491.1,705.3 491.8,706.5 492.3,706.7 494.6,706.8 496.1,706.4 496.6,706 497.1,704.4 497.7,698.3 498.6,705.3 499.3,706.4 500.6,706.8 508.1,707 511.6,706.7 512.3,706.1 513.1,703 514,706.3 515.8,706.9 521.8,706.9 522.5,706.6 523.2,705.8 524,706.7 525,706.7 525.8,706.2 526.4,704.7 527.3,706.6 528.8,706.9 532,706.8 533,705.8 533.5,706.6 534.3,706.9 540,706.9 541,706.7 541.8,705.8 542.5,706.7 543.8,706.9 554,707 555.6,706.4 557,707 567.3,707" stroke="#ffff00" stroke-width="0.63" stroke-opacity="0.35"/>
<path d="M408.8,706.9 416.3,706.8 419.6,706.5 421.3,705.6 422.3,703.8 422.8,701.2 423.3,693.7 424.1,645.7 425.1,697 425.8,703.4 426.6,705.2 427.8,706.2 430.8,706.7 435.6,706.7 437.3,706.2 438.3,705 439.1,700.7 439.8,681 440.6,700.7 441.1,704.3 441.8,705.9 442.8,706.5 444.3,706.7 451.6,706.8 452.8,706.4 453.6,704.7 454.3,706.3 455.1,706.7 459.1,706.7 461.1,706.1 462.1,704.5 462.6,701.4 463.4,678.7 464.3,701.9 465.1,705.3 465.8,706.1 466.8,706.5 469.6,706.8 474.3,706.8 476.1,706.6 477.1,706 477.8,704 478.6,693.1 479.6,704.7 480.1,705.9 481.1,706.5 481.8,706.4 482.6,705.3 483.3,706.5 484.6,706.8 489.8,706.8 490.6,706.3 491.1,705.3 491.8,706.5 492.3,706.7 494.6,706.8 496.1,706.4 496.6,706 497.1,704.4 497.7,698.3 498.6,705.3 499.3,706.4 500.6,706.8 508.1,707 511.6,706.7 512.3,706.1 513.1,703 514,706.3 515.8,706.9 521.8,706.9 522.5,706.6 523.2,705.8 524,706.7 525,706.7 525.8,706.2 526.4,704.7 527.3,706.6 528.8,706.9 532,706.8 533,705.8 533.5,706.6 534.3,706.9 540,706.9 541,706.7 541.8,705.8 542.5,706.7 543.8,706.9 554,707 555.6,706.4 557,707 567.3,707" stroke="#000000" stroke-width="1.05" stroke-opacity="0.45"/>
<path d="M408.8,706.9 416.3,706.8 419.6,706.4 421.3,705.6 422.3,703.6 422.8,700.9 423.3,693 424.1,642.4 425.1,696.4 425.8,703.3 426.6,705.1 427.8,706.1 430.8,706.7 435.6,706.6 437.3,706.2 438.3,704.9 439.1,700.4 439.8,679.6 440.6,700.4 441.1,704.2 441.8,705.8 442.8,706.4 444.3,706.7 451.6,706.8 452.8,706.4 453.6,704.6 454.3,706.3 455.1,706.7 459.1,706.7 461.1,706 462.1,704.3 462.6,701.1 463.4,677.1 464.3,701.6 465.1,705.2 465.8,706.1 466.8,706.5 469.6,706.8 474.3,706.8 476.1,706.6 477.1,706 477.8,703.8 478.6,692.4 479.6,704.6 480.1,705.8 481.1,706.4 481.8,706.4 482.6,705.2 483.3,706.4 484.6,706.8 489.8,706.8 490.6,706.3 491.1,705.2 491.8,706.5 492.3,706.7 494.6,706.8 496.1,706.4 496.6,705.9 497.1,704.3 497.7,697.9 498.6,705.2 499.3,706.4 500.6,706.8 508.1,706.9 511.6,706.7 512.3,706.1 513.1,702.7 514,706.3 514.5,706.7 515.8,706.9 521.8,706.9 522.5,706.6 523.2,705.8 524,706.7 525,706.7 525.8,706.2 526.4,704.6 527.3,706.5 528.8,706.9 532,706.8 533,705.8 533.5,706.5 534.3,706.9 540,706.9 541,706.7 541.8,705.8 542.5,706.7 543.8,706.9 554,707 555.6,706.4 557,707 567.3,707" stroke="#ff6030" stroke-width="0.84" stroke-opacity="0.4"/>
<path d="M408.8,707 419.6,706.6 421.3,706 422.3,704.7 422.8,702.8 423.3,697.4 424.1,662.4 425.1,699.7 425.8,704.4 426.6,705.7 427.8,706.4 430.8,706.8 435.6,706.8 437.3,706.4 438.3,705.6 439.1,702.4 439.8,688.1 440.6,702.5 441.1,705 441.8,706.2 444.3,706.8 451.6,706.9 452.8,706.6 453.6,705.3 454.3,706.5 455.1,706.8 459.1,706.8 461.1,706.3 462.1,705.2 462.6,702.9 463.4,686.4 464.3,703.3 465.1,705.7 465.8,706.4 466.8,706.7 474.3,706.9 476.1,706.7 477.1,706.3 477.8,704.8 478.6,696.9 479.6,705.3 480.1,706.2 481.1,706.6 481.8,706.6 482.6,705.7 483.3,706.6 484.6,706.9 489.8,706.8 490.6,706.5 491.1,705.7 491.8,706.6 492.3,706.8 496.1,706.6 496.6,706.2 497.1,705.1 497.7,700.7 498.6,705.8 499.3,706.6 500.6,706.9 511.6,706.8 512.3,706.4 513.1,704.1 514,706.5 515.8,706.9 521.8,706.9 522.5,706.7 523.2,706.2 524,706.8 525,706.8 525.8,706.4 526.4,705.3 527.3,706.7 528.8,706.9 532,706.8 533,706.2 534.3,706.9 540,706.9 541,706.8 541.8,706.2 542.5,706.8 543.8,707 554,707 555.6,706.6 557,707 567.3,707" stroke="#c0c0c0" stroke-width="0.84" stroke-opacity="0.5"/>
<path d="M408.8,706.9 416.3,706.8 419.6,706.4 421.3,705.5 422.3,703.5 422.8,700.7 423.3,692.5 424.1,640.1 425.1,696 425.8,703.1 426.6,705.1 427.8,706.1 430.8,706.7 435.6,706.6 437.3,706.1 438.3,704.9 439.1,700.2 439.8,678.6 440.6,700.2 441.1,704.1 441.8,705.7 442.8,706.4 444.3,706.7 451.6,706.8 452.8,706.4 453.6,704.5 454.3,706.3 455.1,706.7 459.1,706.7 461.1,706 462.1,704.2 462.6,700.9 463.4,676.1 464.3,701.5 465.1,705.1 465.8,706.1 466.8,706.5 469.6,706.8 474.3,706.8 476.1,706.6 477.1,705.9 477.8,703.7 478.6,691.9 479.6,704.5 480.1,705.8 481.1,706.4 481.8,706.3 482.6,705.1 483.3,706.4 484.6,706.8 489.8,706.8 490.6,706.3 491.1,705.1 491.8,706.4 492.3,706.7 494.6,706.8 496.1,706.4 496.6,705.9 497.1,704.2 497.7,697.5 498.6,705.1 499.3,706.4 500.6,706.8 508.1,706.9 511.6,706.7 512.3,706 513.1,702.6 514,706.3 514.5,706.6 515.8,706.9 521.8,706.9 522.5,706.6 523.2,705.7 524,706.7 525,706.7 525.8,706.1 526.4,704.5 527.3,706.5 528.8,706.9 532,706.8 533,705.7 533.5,706.5 534.3,706.9 540,706.9 541,706.7 541.8,705.7 542.5,706.7 543.8,706.9 554,707 555.6,706.4 557,706.9 567.3,707" stroke="#000000" stroke-width="1.05" stroke-opacity="0.45"/>
</g>
<rect x="408.8" y="549.3" width="158.5" height="157.7" fill="none" stroke="#505050" stroke-width="1.1"/>
<text x="404.6" y="711.6" text-anchor="end" class="tl">0</text>
<path d="M409.6,654.43 h4.5 M566.5,654.43 h-4.5" stroke="#333" stroke-width="0.9"/>
<text x="404.6" y="659.03" text-anchor="end" class="tl">50</text>
<path d="M409.6,601.87 h4.5 M566.5,601.87 h-4.5" stroke="#333" stroke-width="0.9"/>
<text x="404.6" y="606.47" text-anchor="end" class="tl">100</text>
<text x="404.6" y="553.9" text-anchor="end" class="tl">150</text>
<path d="M461.3,706.2 v-5 M461.3,550.1 v5" stroke="#444" stroke-width="0.9"/>
<path d="M549.9,706.2 v-5 M549.9,550.1 v5" stroke="#444" stroke-width="0.9"/>
<text x="549.9" y="718" text-anchor="middle" class="tl">12</text>
<text x="451" y="571" class="tt">8A' x1</text>
<text x="518.5" y="559.5" class="lg">0-&gt;1</text>
<path d="M535.6,557.4 H558.5" stroke="#ff8080" stroke-width="0.85"/>
<text x="518.5" y="566.46" class="lg">1-&gt;0</text>
<path d="M535.6,564.36 H558.5" stroke="#80ff80" stroke-width="0.85"/>
<text x="518.5" y="573.42" class="lg">1-&gt;1</text>
<path d="M535.6,571.32 H558.5" stroke="#8080ff" stroke-width="0.85"/>
<text x="518.5" y="580.38" class="lg">1-&gt;2</text>
<path d="M535.6,578.28 H558.5" stroke="#ff80ff" stroke-width="0.85"/>
<text x="518.5" y="587.34" class="lg">2-&gt;1</text>
<path d="M535.6,585.24 H558.5" stroke="#80ffff" stroke-width="0.85"/>
<text x="518.5" y="594.3" class="lg">2-&gt;2</text>
<path d="M535.6,592.2 H558.5" stroke="#ffff80" stroke-width="0.85"/>
<text x="518.5" y="601.26" class="lg">2-&gt;3</text>
<path d="M535.6,599.16 H558.5" stroke="#888888" stroke-width="0.85"/>
<text x="518.5" y="608.22" class="lg">3-&gt;2</text>
<path d="M535.6,606.12 H558.5" stroke="#ffa080" stroke-width="0.85"/>
<text x="518.5" y="615.18" class="lg">3-&gt;3</text>
<path d="M535.6,613.08 H558.5" stroke="#d8d8d8" stroke-width="0.85"/>
<text x="518.5" y="622.14" class="lg">3-&gt;4</text>
<path d="M535.6,620.04 H558.5" stroke="#777777" stroke-width="0.85"/>
<clipPath id="c530"><rect x="594.4" y="549.2" width="158.2" height="157.8"/></clipPath>
<g clip-path="url(#c530)" fill="none" stroke-width="1" stroke-linejoin="round" stroke-opacity="0.6">
<path d="M594.4,706.9 606.6,706.8 611.4,706.1 612.6,705.6 613.6,704.6 614.4,702.9 614.9,700.8 615.6,692 616.1,671.7 616.9,559.1 617.4,645.8 617.9,684.8 618.6,698.9 619.4,702.9 620.4,704.9 622.4,706.1 625.9,706.7 635.4,706.9 647.6,706.8 650.9,706.5 652.9,705.9 654.1,705 654.9,703.5 655.4,701.4 655.9,696.7 656.4,683.5 657.2,598.5 658.1,689.2 658.9,700.7 659.4,703.2 660.4,705.1 661.9,706.1 664.4,706.6 670.6,706.8 673.9,706.4 674.6,705.9 675.1,704.9 675.9,699.1 676.6,704.2 676.9,704.5 677.1,704.4 677.6,702.5 677.9,699.8 678.5,686.1 679.1,700.7 679.6,704.4 680.1,705.6 681.4,706.5 683.9,706.8 690.9,706.8 693.6,706.2 694.4,705.1 695.1,701.1 695.6,703.4 695.9,703.4 696.1,702.7 696.6,697 697.2,680.6 698.1,702.6 698.6,704.9 699.1,705.8 699.9,706.3 702.1,706.8 706.9,706.9 710.6,706.8 712.1,706.3 712.6,705.7 713.1,703.8 713.8,696.3 714.6,704.9 715.1,706 716.1,706.6 726.4,707 731.4,706.9 733.1,706.6 733.6,706.3 734.1,705.4 734.9,700.3 735.6,705.4 736.1,706.3 736.6,706.6 739.6,706.7 740.1,706.4 740.8,705 741.4,706.3 742.1,706.6 742.6,706.3 743.3,705 743.9,706.3 744.6,706.8 746.9,706.8 748,705.8 749.1,706.8 752.4,707" stroke="#ff0000" stroke-width="1.05" stroke-opacity="0.65"/>
<path d="M594.4,707 614.9,706.9 616.1,706.5 616.9,704.8 617.9,706.7 620.4,707 654.9,706.9 656.4,706.6 657.2,705.4 658.1,706.7 660.4,707 677.1,707 678.5,706.7 680.1,707 693.6,707 696.1,706.9 697.2,706.6 698.1,706.9 699.9,707 752.4,707" stroke="#00ff00" stroke-width="0.73" stroke-opacity="0.35"/>
<path d="M594.4,707 606.6,706.8 611.4,706.5 613.6,705.5 614.4,704.5 614.9,703.1 615.6,697.7 616.1,685.1 616.9,615.3 617.4,669 617.9,693.2 618.6,702 619.4,704.5 620.4,705.7 622.4,706.5 625.9,706.8 647.6,706.8 652.9,706.3 654.1,705.7 654.9,704.8 655.4,703.5 655.9,700.6 656.4,692.5 657.2,639.7 658.1,696 658.9,703.1 659.4,704.6 660.4,705.8 661.9,706.5 664.4,706.8 673.9,706.7 674.6,706.3 675.1,705.7 675.9,702.1 676.6,705.3 677.1,705.4 677.6,704.2 677.9,702.6 678.5,694 679.1,703.1 679.6,705.4 680.1,706.1 681.4,706.7 683.9,706.9 690.9,706.9 693.6,706.5 694.4,705.8 695.1,703.3 695.6,704.8 695.9,704.8 696.1,704.3 696.6,700.8 697.2,690.6 698.1,704.3 698.6,705.7 699.9,706.6 706.9,706.9 710.6,706.9 712.1,706.6 712.6,706.2 713.1,705 713.8,700.4 714.6,705.7 715.1,706.4 716.1,706.8 726.4,707 733.1,706.8 734.1,706 734.9,702.8 735.6,706 736.6,706.8 739.6,706.8 740.1,706.6 740.8,705.8 741.4,706.5 742.1,706.7 742.6,706.6 743.3,705.8 743.9,706.6 744.6,706.9 746.9,706.9 748,706.3 749.1,706.9 752.4,707" stroke="#0000ff" stroke-width="0.63" stroke-opacity="0.22"/>
<path d="M594.4,707 606.6,706.8 611.4,706.4 612.6,706 613.6,705.4 614.4,704.3 614.9,702.8 615.6,696.9 616.1,683.3 616.9,607.9 617.4,666 617.9,692.1 618.6,701.6 619.4,704.3 620.4,705.6 622.4,706.4 625.9,706.8 647.6,706.8 652.9,706.3 654.1,705.6 654.9,704.6 655.4,703.2 655.9,700.1 656.4,691.3 657.2,634.3 658.1,695.1 658.9,702.8 659.4,704.4 660.4,705.8 661.9,706.4 664.4,706.7 670.6,706.9 673.9,706.6 674.6,706.3 675.1,705.6 675.9,701.7 676.6,705.1 677.1,705.2 677.6,704 677.9,702.2 678.5,693 679.1,702.8 679.6,705.3 680.1,706.1 681.4,706.6 683.9,706.9 690.9,706.9 693.6,706.5 694.4,705.7 695.1,703 695.6,704.6 695.9,704.6 696.1,704.1 696.6,700.3 697.2,689.3 698.1,704.1 698.6,705.6 699.9,706.5 706.9,706.9 710.6,706.9 712.1,706.5 712.6,706.1 713.1,704.9 713.8,699.9 714.6,705.6 715.1,706.4 716.1,706.8 726.4,707 733.1,706.7 734.1,705.9 734.9,702.5 735.6,705.9 736.6,706.7 739.6,706.8 740.1,706.6 740.8,705.7 741.4,706.5 742.1,706.7 742.6,706.5 743.3,705.7 743.9,706.5 744.6,706.9 746.9,706.9 748,706.2 749.1,706.9 752.4,707" stroke="#ff00ff" stroke-width="0.63" stroke-opacity="0.22"/>
<path d="M594.4,707 614.9,706.9 616.1,706.6 616.9,705.2 617.9,706.7 620.4,707 654.9,707 656.4,706.7 657.2,705.7 658.1,706.8 660.4,707 677.1,707 678.5,706.7 680.1,707 693.6,707 697.2,706.7 699.9,707 752.4,707" stroke="#00ffff" stroke-width="0.73" stroke-opacity="0.35"/>
<path d="M594.4,707 606.6,706.9 611.4,706.5 613.6,705.7 614.4,704.8 614.9,703.6 615.6,698.7 616.1,687.6 616.9,625.6 617.4,673.3 617.9,694.8 618.6,702.6 619.4,704.8 620.4,705.8 622.4,706.5 625.9,706.8 647.6,706.9 652.9,706.4 654.1,705.9 654.9,705.1 655.4,703.9 655.9,701.3 656.4,694.1 657.2,647.3 658.1,697.2 658.9,703.6 659.4,704.9 660.4,706 661.9,706.5 664.4,706.8 673.9,706.7 674.6,706.4 675.1,705.8 675.9,702.7 676.6,705.4 677.1,705.6 677.6,704.5 677.9,703.1 678.5,695.5 679.1,703.6 679.6,705.6 680.1,706.2 681.4,706.7 683.9,706.9 690.9,706.9 693.6,706.6 694.4,706 695.1,703.7 695.6,705 696.1,704.6 696.6,701.5 697.2,692.5 698.1,704.6 698.6,705.8 699.9,706.6 706.9,706.9 712.1,706.6 712.6,706.3 713.1,705.3 713.8,701.1 714.6,705.8 715.1,706.5 716.1,706.8 726.4,707 733.1,706.8 734.1,706.1 734.9,703.3 735.6,706.1 736.6,706.8 739.6,706.8 740.8,705.9 741.4,706.6 742.1,706.8 742.6,706.6 743.3,705.9 743.9,706.6 744.6,706.9 746.9,706.9 748,706.3 749.1,706.9 752.4,707" stroke="#ffff00" stroke-width="0.63" stroke-opacity="0.35"/>
<path d="M594.4,707 606.6,706.9 611.4,706.5 613.6,705.7 614.4,704.8 614.9,703.6 615.6,698.7 616.1,687.6 616.9,625.6 617.4,673.3 617.9,694.8 618.6,702.6 619.4,704.8 620.4,705.8 622.4,706.5 625.9,706.8 647.6,706.9 652.9,706.4 654.1,705.9 654.9,705.1 655.4,703.9 655.9,701.3 656.4,694.1 657.2,647.3 658.1,697.2 658.9,703.6 659.4,704.9 660.4,706 661.9,706.5 664.4,706.8 673.9,706.7 674.6,706.4 675.1,705.8 675.9,702.7 676.6,705.4 677.1,705.6 677.6,704.5 677.9,703.1 678.5,695.5 679.1,703.6 679.6,705.6 680.1,706.2 681.4,706.7 683.9,706.9 690.9,706.9 693.6,706.6 694.4,706 695.1,703.7 695.6,705 696.1,704.6 696.6,701.5 697.2,692.5 698.1,704.6 698.6,705.8 699.9,706.6 706.9,706.9 712.1,706.6 712.6,706.3 713.1,705.3 713.8,701.1 714.6,705.8 715.1,706.5 716.1,706.8 726.4,707 733.1,706.8 734.1,706.1 734.9,703.3 735.6,706.1 736.6,706.8 739.6,706.8 740.8,705.9 741.4,706.6 742.1,706.8 742.6,706.6 743.3,705.9 743.9,706.6 744.6,706.9 746.9,706.9 748,706.3 749.1,706.9 752.4,707" stroke="#000000" stroke-width="1.05" stroke-opacity="0.45"/>
<path d="M594.4,707 606.6,706.9 611.4,706.5 613.6,705.6 614.4,704.6 614.9,703.4 615.6,698.3 616.1,686.5 616.9,621.2 617.4,671.5 617.9,694.1 618.6,702.3 619.4,704.6 620.4,705.8 622.4,706.5 625.9,706.8 647.6,706.9 652.9,706.4 654.1,705.8 654.9,705 655.4,703.7 655.9,701 656.4,693.4 657.2,644.1 658.1,696.7 658.9,703.4 659.4,704.8 660.4,705.9 661.9,706.5 664.4,706.8 673.9,706.7 674.6,706.4 675.1,705.8 675.9,702.4 676.6,705.4 677.1,705.5 677.6,704.4 677.9,702.8 678.5,694.9 679.1,703.4 679.6,705.5 680.1,706.2 681.4,706.7 683.9,706.9 690.9,706.9 693.6,706.5 694.4,705.9 695.1,703.6 695.6,704.9 695.9,704.9 696.1,704.5 696.6,701.2 697.2,691.7 698.1,704.4 698.6,705.8 699.9,706.6 706.9,706.9 712.1,706.6 712.6,706.3 713.1,705.2 713.8,700.8 714.6,705.8 715.1,706.4 716.1,706.8 726.4,707 733.1,706.8 734.1,706.1 734.9,703.1 735.6,706.1 736.6,706.8 739.6,706.8 740.8,705.9 741.4,706.6 742.1,706.8 742.6,706.6 743.3,705.9 743.9,706.6 744.6,706.9 746.9,706.9 748,706.3 749.1,706.9 752.4,707" stroke="#ff6030" stroke-width="0.84" stroke-opacity="0.4"/>
<path d="M594.4,707 611.4,706.7 613.6,706 614.9,704.5 615.6,701 616.1,692.9 616.9,647.8 617.4,682.5 617.9,698.1 618.6,703.8 619.4,705.4 620.4,706.2 622.4,706.7 625.9,706.9 647.6,706.9 652.9,706.6 654.1,706.2 654.9,705.6 655.9,702.9 656.4,697.6 657.2,663.6 658.1,699.9 658.9,704.5 659.4,705.5 660.4,706.3 664.4,706.8 673.9,706.8 675.1,706.1 675.9,703.8 676.6,705.9 677.1,705.9 677.9,704.1 678.5,698.6 679.1,704.5 679.6,706 680.1,706.4 681.4,706.8 683.9,706.9 693.6,706.7 694.4,706.2 695.1,704.6 695.6,705.6 696.1,705.3 696.6,703 697.2,696.4 698.1,705.2 698.6,706.2 699.9,706.7 706.9,707 712.1,706.7 712.6,706.5 713.1,705.7 713.8,702.7 714.6,706.2 715.1,706.6 716.1,706.9 733.1,706.8 734.1,706.4 734.9,704.3 735.6,706.4 736.6,706.8 739.6,706.9 740.8,706.2 741.4,706.7 742.1,706.8 743.3,706.2 743.9,706.7 744.6,706.9 746.9,706.9 748,706.5 749.1,706.9 752.4,707" stroke="#c0c0c0" stroke-width="0.84" stroke-opacity="0.5"/>
<path d="M594.4,707 606.6,706.9 611.4,706.5 613.6,705.5 614.4,704.6 614.9,703.3 615.6,698 616.1,685.8 616.9,618.2 617.4,670.3 617.9,693.7 618.6,702.2 619.4,704.6 620.4,705.7 622.4,706.5 625.9,706.8 647.6,706.9 652.9,706.4 654.1,705.8 654.9,704.9 655.4,703.6 655.9,700.8 656.4,692.9 657.2,641.9 658.1,696.3 658.9,703.2 659.4,704.7 660.4,705.9 661.9,706.5 664.4,706.8 673.9,706.7 674.6,706.4 675.1,705.7 675.9,702.3 676.6,705.3 677.1,705.4 677.6,704.3 677.9,702.7 678.5,694.5 679.1,703.2 679.6,705.5 680.1,706.2 681.4,706.7 683.9,706.9 690.9,706.9 693.6,706.5 694.4,705.9 695.1,703.4 695.6,704.8 695.9,704.9 696.1,704.4 696.6,701 697.2,691.1 698.1,704.4 698.6,705.7 699.9,706.6 706.9,706.9 712.1,706.6 712.6,706.2 713.1,705.1 713.8,700.6 714.6,705.7 715.1,706.4 716.1,706.8 726.4,707 733.1,706.8 734.1,706 734.9,703 735.6,706 736.6,706.8 739.6,706.8 740.8,705.8 741.4,706.6 742.1,706.7 742.6,706.6 743.3,705.8 743.9,706.6 744.6,706.9 746.9,706.9 748,706.3 749.1,706.9 752.4,707" stroke="#000000" stroke-width="1.05" stroke-opacity="0.45"/>
</g>
<rect x="594.4" y="549.2" width="158.2" height="157.8" fill="none" stroke="#505050" stroke-width="1.1"/>
<text x="590.2" y="711.6" text-anchor="end" class="tl">0</text>
<path d="M595.2,667.55 h4.5 M751.8,667.55 h-4.5" stroke="#333" stroke-width="0.9"/>
<text x="590.2" y="672.15" text-anchor="end" class="tl">100</text>
<path d="M595.2,628.1 h4.5 M751.8,628.1 h-4.5" stroke="#333" stroke-width="0.9"/>
<text x="590.2" y="632.7" text-anchor="end" class="tl">200</text>
<path d="M595.2,588.65 h4.5 M751.8,588.65 h-4.5" stroke="#333" stroke-width="0.9"/>
<text x="590.2" y="593.25" text-anchor="end" class="tl">300</text>
<text x="590.2" y="553.8" text-anchor="end" class="tl">400</text>
<path d="M641.4,706.2 v-5 M641.4,550 v5" stroke="#444" stroke-width="0.9"/>
<path d="M720.9,706.2 v-5 M720.9,550 v5" stroke="#444" stroke-width="0.9"/>
<text x="720.9" y="718" text-anchor="middle" class="tl">12</text>
<text x="632.1" y="571.3" class="tt">9A' x10</text>
<text x="703.8" y="559.4" class="lg">0-&gt;1</text>
<path d="M720.9,557.3 H743.8" stroke="#ff8080" stroke-width="0.85"/>
<text x="703.8" y="566.36" class="lg">1-&gt;0</text>
<path d="M720.9,564.26 H743.8" stroke="#80ff80" stroke-width="0.85"/>
<text x="703.8" y="573.32" class="lg">1-&gt;1</text>
<path d="M720.9,571.22 H743.8" stroke="#8080ff" stroke-width="0.85"/>
<text x="703.8" y="580.28" class="lg">1-&gt;2</text>
<path d="M720.9,578.18 H743.8" stroke="#ff80ff" stroke-width="0.85"/>
<text x="703.8" y="587.24" class="lg">2-&gt;1</text>
<path d="M720.9,585.14 H743.8" stroke="#80ffff" stroke-width="0.85"/>
<text x="703.8" y="594.2" class="lg">2-&gt;2</text>
<path d="M720.9,592.1 H743.8" stroke="#ffff80" stroke-width="0.85"/>
<text x="703.8" y="601.16" class="lg">2-&gt;3</text>
<path d="M720.9,599.06 H743.8" stroke="#888888" stroke-width="0.85"/>
<text x="703.8" y="608.12" class="lg">3-&gt;2</text>
<path d="M720.9,606.02 H743.8" stroke="#ffa080" stroke-width="0.85"/>
<text x="703.8" y="615.08" class="lg">3-&gt;3</text>
<path d="M720.9,612.98 H743.8" stroke="#d8d8d8" stroke-width="0.85"/>
<text x="703.8" y="622.04" class="lg">3-&gt;4</text>
<path d="M720.9,619.94 H743.8" stroke="#777777" stroke-width="0.85"/>
<clipPath id="c565"><rect x="33.6" y="737.4" width="155.7" height="155.2"/></clipPath>
<g clip-path="url(#c565)" fill="none" stroke-width="1" stroke-linejoin="round" stroke-opacity="0.6">
<path d="M33.6,892.6 41.7,892.4 47,890.7 49.7,889.5 51.9,888 53.4,886.2 55.4,881.8 57.3,876.6 59,870.4 62.6,854.9 66.7,827.6 67.3,827.9 68.2,834.1 68.6,834.2 70.5,808.7 70.9,808.9 71.6,815.4 72,815.3 73.7,786.9 74.1,789 75.1,801.8 75.5,804.4 77.1,781.1 77.5,782.7 78.4,792.8 78.8,794.2 80,772.3 80.4,768.7 82.2,795.6 82.6,793.7 83.5,781.7 83.9,778.9 85.7,796.4 86.1,794 87,783.2 87.5,781.8 89.4,809.5 89.9,809.1 90.8,801.3 91.2,800 92.9,818.2 93.4,817.4 94.3,810.9 94.8,810.2 97,829.8 97.4,829.9 98.2,825.4 98.7,824.7 101.1,836.4 101.7,837.8 102.3,838.7 103.5,839.3 104.1,839.2 105.7,837.8 107.3,839.3 107.9,839.3 110.2,834.9 110.8,834.2 111.3,835.2 111.9,839.3 112.2,839.5 113.7,825.5 114.1,826.6 114.8,833.2 115.2,834 116.9,816.8 117.3,819 118.1,829.4 118.5,831 120.3,807.3 120.7,810.8 121.4,826.4 121.8,829 123.6,794.9 124,799.1 124.7,818.7 125.1,821 126.8,767.3 127.2,772.2 127.9,798.7 128.3,803.6 129.7,750 130.1,753.5 131.2,781.8 132.5,752.7 132.9,748 134.5,789 134.9,785.6 135.5,766.3 135.9,762.9 137.4,803.7 137.7,807.2 138,807.7 138.4,807.6 138.8,809.5 140.7,827.2 142.1,837.2 144.3,847.3 146.5,855.3 147.2,856.8 147.9,857.2 148.7,856.7 157.5,845.5 158.9,844.6 160.3,844.3 162,845 163.6,847 165.2,850.3 168.2,860.3 171.7,870.4 174.9,877.9 176.3,880.2 177.6,881.9 180.7,884.5 182.9,885.8 189.4,888.8" stroke="#ff0000" stroke-width="1.0"/>
<path d="M33.6,892.6 39,892.5 40.8,892.1 42.6,892.4 44.4,891.9 46.2,892.4 48,891.6 49.8,892.2 51.6,891.4 53.4,892.1 55.2,891 57,891.9 58.8,890.6 60.6,891.5 62.4,889.3 63.3,889.4 64.2,887.9 66,882.1 66.6,881.9 67.5,882.9 67.8,882.8 69.6,878.2 69.9,878.2 70.8,879.8 71.4,880.3 73.2,875.8 73.5,875.9 74.4,877.7 75,878.3 76.8,873.6 77.1,873.6 78.3,875.7 78.6,875.7 80.1,871.8 80.4,871.6 82.2,876.4 82.8,875.9 83.7,874.1 84,874.1 85.8,879 86.4,878.6 87.3,877.1 87.6,877.1 89.4,881.8 89.7,881.8 90.9,880.2 91.2,880.2 93,884.8 93.3,884.8 94.5,883.4 94.8,883.5 96.6,887.5 96.9,887.6 97.8,886.4 98.4,886.1 100.2,889.6 100.5,889.6 102,887.8 103.8,890.8 104.4,890.2 105.6,887.9 107.4,890.5 109.2,886.7 109.5,886.7 110.7,889.2 111,889.3 112.8,884.6 113.4,885.2 114.3,887.7 114.6,887.9 116.4,881.4 116.7,881.5 117.9,885.4 118.2,885.5 120,876.7 120.3,876.7 121.5,881.5 121.8,881.6 123.6,870.8 123.9,870.8 125.1,876.8 125.4,877 127.2,864.9 127.5,865.1 128.4,870.4 129,872.1 130.8,860.6 131.1,860.9 132,867.3 132.6,869.6 133.8,863.7 134.1,862.7 134.4,863 136.2,873.7 136.5,873.7 137.4,872 137.7,871.9 138.3,873.4 139.8,879.5 140.1,879.9 141,880 141.6,880.7 143.4,885.1 144.9,885.9 146.7,887.5 147.3,887.6 149.1,887 150.6,887 152.4,885.6 154.2,885.2 156,883.6 157.8,883.3 159.3,882.4 160.2,882.2 161.4,882.7 162.6,882.6 163.2,882.8 165,884.3 166.8,885.1 168.6,886.6 170.4,887 172.2,888.3 174,888.7 175.8,890 177.6,890.4 179.4,891.4 181.2,891.6 183.3,892.4 184.8,892.1 186.3,892.6 189,892.4" stroke="#00ff00" stroke-width="1.0"/>
<path d="M33.6,892.6 37.5,892.2 39,892.5 40.8,891.9 42.6,892.4 44.4,891.5 46.2,892.2 48,890.9 49.8,891.7 51.6,889.8 53.1,890.4 53.7,890.1 55.2,886.7 57,885.1 58.8,879.2 60.6,876.5 62.4,868.7 62.7,868 63.9,867.5 64.2,866.9 66,856.3 66.3,855.6 66.6,855.5 67.2,855.8 67.5,855.6 67.8,854.7 69.6,842.5 69.9,841.7 70.2,841.6 70.8,842.3 71.1,842.2 71.4,841.6 73.2,831.4 73.5,831.3 73.8,831.9 74.4,834.3 75,835.5 76.8,828.4 77.1,828.4 78,831.5 78.3,832.2 78.6,832.3 80.1,825.3 80.4,824.9 82.2,833.9 82.5,834.1 82.8,833.6 83.4,831.6 83.7,830.9 84,830.9 85.2,835.4 85.8,836.7 87,832.7 87.3,831.9 87.6,832 89.4,842.2 89.7,842.8 90,842.9 90.9,842 91.2,842.5 93,850.7 93.3,850.8 94.5,848.9 94.8,849.2 96.6,858.5 96.9,859.1 97.8,858.5 98.4,858.9 100.2,866.1 100.5,866.1 100.8,865.6 101.7,863.2 102,863 103.8,867.9 104.1,867.6 105.6,863 106.2,864 107.1,867.2 107.4,867.5 109.2,860.9 109.5,861 110.7,864.5 111,864.6 112.8,856 113.1,856 113.4,856.8 114.3,860.8 114.6,861 114.9,860.2 116.4,850.1 116.7,850.2 117.9,856.5 118.2,856.7 120,842.1 120.3,842.2 121.5,851 121.8,851.5 123.6,834.3 123.9,834.3 124.2,835.7 125.1,841.6 125.4,841.1 127.2,816.7 127.5,816.7 128.7,827.2 129,827.5 130.8,807.9 131.1,808.5 132.3,821.3 132.6,822.4 132.9,821.3 133.8,811.3 134.1,809.3 134.4,808.9 135.9,823.3 136.5,825.4 137.1,825.3 137.7,827.6 139.2,844.3 140.1,850.9 141.3,854.5 143.1,864.7 143.7,866.3 144.9,867.8 146.7,871.8 147.6,872.6 148.5,872.6 150.3,873.4 150.6,873.3 152.4,871.2 154.2,870.7 156,868 157.8,867.1 159.6,864.9 160.2,864.8 161.4,865.5 162.9,865.5 163.5,865.9 165,868.3 166.8,869.7 168.6,873.4 170.4,875.7 171.9,878.5 174,880.3 175.8,882.8 177.6,883.8 179.4,886.1 181.2,886.7 183,888.5 184.8,888.7 186.6,890.2 188.1,890.2 189,890.7" stroke="#0000ff" stroke-width="1.0"/>
<path d="M33.6,892.6 37.5,892.2 39,892.5 40.8,891.9 42.6,892.3 44.4,891.4 46.2,892.2 48,890.8 49.8,891.6 51.6,889.8 53.1,890.3 53.7,890 55.2,886.5 57,884.9 58.8,878.8 60.6,876 62.4,868 62.7,867.2 63.9,866.7 64.2,866 66,855.3 66.3,854.5 66.6,854.4 67.2,854.6 67.5,854.3 67.8,853.5 69.6,841 69.9,840.2 70.2,840.1 70.8,840.7 71.4,840 73.2,829.5 73.5,829.5 73.8,830.1 74.4,832.5 75,833.6 76.8,826.5 77.1,826.5 78,829.5 78.3,830.3 78.6,830.3 80.1,823.3 80.4,822.9 82.2,832 82.5,832.2 82.8,831.7 83.4,829.7 83.7,829.1 84,829.1 85.2,833.6 85.8,834.9 87,830.9 87.3,830.1 87.6,830.2 89.4,840.6 89.7,841.2 90,841.3 90.9,840.5 91.2,841.1 93,849.3 93.3,849.5 94.5,847.6 94.8,847.9 96.6,857.4 96.9,858 97.8,857.5 98.4,858 100.2,865.2 100.5,865.2 100.8,864.7 101.7,862.4 102,862.2 103.8,867 104.1,866.7 105.6,862.1 106.2,863.2 107.1,866.4 107.4,866.6 109.2,860 109.5,860.1 110.7,863.6 111,863.6 112.8,855 113.1,854.9 113.4,855.8 114.3,859.7 114.6,859.9 114.9,859.1 116.4,848.9 116.7,849 117.9,855.2 118.2,855.4 120,840.7 120.3,840.8 121.5,849.5 121.8,850 123.6,832.7 123.9,832.7 124.2,834 125.1,839.8 125.4,839.3 127.2,814.6 127.5,814.6 128.7,824.9 129,825.2 130.8,805.5 131.1,806.1 132.3,818.9 132.6,820 132.9,818.9 133.8,808.9 134.1,806.9 134.4,806.5 135.9,821 136.5,823.2 137.1,823.2 137.7,825.7 139.2,842.8 140.1,849.6 141.3,853.4 143.1,863.8 143.7,865.5 144.9,867.1 146.7,871.2 147.6,872 148.8,872 150.3,872.8 150.9,872.4 152.4,870.6 154.2,870 156,867.2 157.8,866.2 159.6,864.1 160.2,863.9 161.4,864.7 162.9,864.6 163.5,865.1 165,867.5 166.8,869 168.6,872.8 170.4,875.2 171.9,878.1 174,879.9 175.8,882.5 177.6,883.6 179.4,885.9 181.2,886.6 183,888.4 184.8,888.6 186.6,890.1 188.1,890.2 189,890.7" stroke="#ff00ff" stroke-width="1.0"/>
<path d="M33.6,892.6 39,892.5 40.8,892.2 42.6,892.5 44.4,892 46.2,892.5 48,891.8 49.8,892.4 51.6,891.5 53.4,892.1 55.2,890.9 56.7,891.7 57.3,891.6 59.1,890 60.6,890.4 62.7,885.9 63,885.5 63.9,885.2 64.5,884.3 66,878.8 66.6,878.4 67.5,879.1 67.8,878.9 69.6,873.5 69.9,873.4 70.8,874.7 71.4,874.9 73.2,869.7 73.5,869.6 74.4,871.1 75,871.4 76.8,865.9 77.1,865.8 77.4,866.1 78.3,867.5 78.6,867.3 79.8,863.2 80.4,862.2 81,863.1 82.2,866.5 82.5,866.4 83.7,864.3 84,864.3 85.8,869.6 86.1,869.7 86.4,869.4 87.3,868 87.6,868.1 89.4,873.2 89.7,873.3 90.9,871.8 91.2,872 93,876.9 93.3,877 94.5,875.7 94.8,875.9 96.6,880.3 97.2,880.1 98.1,879.1 98.4,879.2 100.2,883.1 100.5,883.2 101.7,881.7 102,881.7 103.8,884.9 104.4,884.3 105.6,881.9 105.9,882 107.1,884.3 107.4,884.4 109.2,880.3 109.5,880.3 110.7,882.6 111,882.6 112.8,877.8 113.1,877.9 113.4,878.4 114.3,881 114.6,881.2 116.4,875 116.7,875.1 117.9,879.3 118.2,879.5 120,871 120.3,871.1 121.5,876.1 121.8,876.3 123.6,865.8 123.9,865.9 125.1,872.1 125.4,872.4 127.2,860.6 127.5,860.9 128.4,866.3 129,868 130.8,856.6 131.1,856.9 132,862.9 132.6,865 133.8,857.9 134.1,856.5 134.4,856.5 136.2,865.7 136.5,865.8 137.4,864.3 137.7,864.3 139.8,873.3 141.6,875.7 143.1,880.5 143.7,881.3 146.7,883.8 150.6,883.2 152.4,881.6 154.2,881 156,879.3 160.2,877.8 161.4,878.6 162.9,878.9 165,881.5 168.9,885.3 170.4,885.8 172.2,887.3 174,887.8 175.8,889.1 177.3,889.4 179.4,890.7 181.2,890.9 183,891.8 184.8,891.7 186.6,892.3 189,892.2" stroke="#00ffff" stroke-width="1.0"/>
<path d="M33.6,892.6 37.5,892.2 39,892.5 40.8,891.9 42.6,892.4 44.4,891.5 46.2,892.2 48,890.9 49.8,891.7 51.6,889.9 53.1,890.5 53.7,890.2 55.2,886.8 57,885.4 58.8,879.5 60.6,877 62.7,868.7 63.9,868.3 64.2,867.8 66,857.4 66.3,856.7 66.6,856.6 67.2,857 67.5,856.8 67.8,856 69.6,843.9 69.9,843.2 70.2,843.2 70.8,843.9 71.1,843.9 71.4,843.3 73.2,833.2 73.5,833.1 73.8,833.7 74.4,836.2 75,837.3 76.8,830.3 77.1,830.4 78,833.4 78.3,834.2 78.6,834.2 80.1,827.3 80.4,826.9 82.2,835.8 82.5,836 83.4,833.4 83.7,832.8 84,832.7 85.2,837.3 85.8,838.5 87,834.5 87.3,833.7 87.6,833.8 89.4,843.9 89.7,844.5 90.9,843.5 91.2,844 93,852.1 93.3,852.2 94.5,850.2 94.8,850.4 96.6,859.6 96.9,860.2 97.8,859.6 98.4,859.9 100.2,866.9 100.5,866.9 100.8,866.4 101.7,864.1 102,863.9 103.8,868.7 104.1,868.4 105.6,863.8 106.2,864.9 107.1,868.1 107.4,868.3 109.2,861.8 109.5,861.9 110.7,865.5 111,865.5 112.8,857 113.1,857 113.4,857.9 114.3,861.9 114.6,862.1 114.9,861.4 116.4,851.3 116.7,851.3 117.9,857.7 118.2,858 120,843.5 120.3,843.6 121.5,852.4 121.8,853 123.6,835.8 123.9,835.9 124.2,837.3 125.1,843.4 125.4,842.9 127.2,818.8 127.5,818.8 128.7,829.4 129,829.8 130.8,810.3 131.1,810.9 132.3,823.7 132.6,824.8 132.9,823.8 133.8,813.7 134.1,811.6 134.4,811.3 135.9,825.6 136.5,827.6 137.1,827.4 137.7,829.5 139.8,850.8 141.3,855.6 143.1,865.6 143.7,867.1 144.9,868.6 146.7,872.5 147.6,873.3 148.5,873.2 150.3,874 150.6,873.9 152.4,871.8 154.2,871.4 156,868.7 157.8,867.9 159.6,865.7 160.2,865.6 161.4,866.4 162.9,866.3 163.5,866.7 165,869 166.8,870.4 168.6,874 170.4,876.2 171.9,879 174,880.6 175.8,883.2 177.6,884.1 179.4,886.3 181.2,886.9 183,888.7 184.8,888.8 186.6,890.3 188.1,890.3 189,890.8" stroke="#e8e800" stroke-width="1.0"/>
<path d="M33.6,892.6 37.2,892.4 39.6,892.6 40.8,892.2 42.9,892.6 44.4,891.9 46.2,892.6 48,891.3 49.8,892.1 51.6,890.2 53.4,890.8 55.2,887.8 55.8,887.6 56.4,887.7 57,887.3 58.8,882.5 60.6,880.7 62.7,872.6 63,872.4 63.9,872.6 64.2,872.1 66,863 66.3,862.6 67.2,863.7 67.5,863.9 67.8,863.5 69.6,853.9 69.9,853.6 71.1,855.9 71.4,855.8 73.2,847.5 73.5,847.4 74.7,851 75,851 76.8,842.6 77.1,842.5 78.3,845.4 78.6,845.2 79.8,838.8 80.4,836.9 82.2,845.7 82.5,845.9 83.4,843.6 83.7,843.1 84,843.2 85.8,851 86.1,850.9 87.3,847.4 87.6,847.4 89.4,855.2 89.7,855.3 90,854.8 90.9,852.7 91.2,852.9 93,860.7 93.3,860.8 94.5,858.6 94.8,858.8 96.6,866.3 96.9,866.5 97.8,864.9 98.1,864.6 98.4,864.8 100.2,870.8 100.5,870.8 101.7,868 102,867.8 103.8,872.8 104.1,872.5 105.6,867.8 105.9,868.1 107.1,872 107.4,872.3 109.2,865.9 109.5,866.1 110.7,870.2 111,870.4 112.8,862.8 113.1,862.9 114.3,868 114.6,868.3 116.4,857.9 116.7,858.1 117.9,865.1 118.2,865.5 120,851.8 120.3,852 121.5,860.5 121.8,860.9 123.6,843.3 123.9,843.4 125.1,853.2 125.4,853.6 127.2,832.7 127.5,832.9 127.8,834.9 128.7,842.8 129,842.9 130.8,820.9 131.1,821 132.3,832 132.6,832.6 134.1,819.3 134.4,819.7 134.7,821.9 135.9,838.3 136.5,841.1 137.1,840.7 137.7,842.1 139.8,858.9 140.1,859.6 141,859.8 141.3,860.2 143.4,869.1 144.9,871.4 147,876.5 147.3,876.9 149.1,877.1 150,877.6 150.6,877.4 152.4,875 154.2,874.3 156.3,871.1 157.8,870.4 159.3,868.5 160.2,868.2 161.4,869.2 162.6,869.2 163.2,869.6 165,872.3 166.8,873.6 168.6,876.8 170.4,879 172.2,882.6 174,883.9 175.5,885.9 176.1,886.2 177.6,886.4 179.4,888 181.2,888.1 183,889.6 184.8,889.6 186.6,890.9 188.1,890.9 189,891.4" stroke="#000000" stroke-width="1.0"/>
<path d="M33.6,892.6 39,892.5 40.8,892.2 42.6,892.5 44.4,892 46.2,892.4 48,891.6 49.8,892.2 51.6,891.2 53.4,891.7 55.2,890.4 56.7,890.7 57.3,890.4 58.8,888.2 60.6,887 62.4,882.3 62.7,881.9 63.9,881.2 64.2,880.7 66,873.6 66.6,873.1 67.2,873.5 67.8,873.2 69.6,867.1 69.9,866.8 71.1,868 71.4,867.8 73.2,862.2 73.5,862 74.7,863.6 75,863.5 76.8,858.1 77.1,858 78.6,860.4 80.4,856.1 82.2,860.7 82.8,860.3 83.7,858.8 84,858.9 85.8,864.6 86.1,864.8 86.4,864.5 87.3,863.3 87.6,863.5 89.4,868.9 89.7,869 90.9,867.8 91.2,868 93,873.3 93.3,873.4 94.5,872.5 94.8,872.7 96.6,877.3 96.9,877.4 97.8,876.5 98.4,876.4 100.2,880.3 100.5,880.4 101.7,878.9 102,878.8 103.8,882 104.4,881.4 105.6,879 105.9,879.1 107.1,881.4 107.4,881.5 109.2,877.5 109.5,877.5 110.7,879.8 111,879.8 112.8,875 113.1,875 113.4,875.5 114.3,877.8 114.6,878 116.4,871.3 116.7,871.3 117.9,875.1 118.2,875.3 120,866.6 120.3,866.7 121.5,871.6 121.8,871.8 123.6,861.3 123.9,861.4 125.1,867.4 125.4,867.6 127.2,854.9 127.5,854.9 127.8,855.9 128.7,860.4 129,860.4 130.8,847.7 131.1,848 132,854 132.6,856.3 132.9,855.7 133.8,849.5 134.1,848.3 134.4,848.2 135.9,856.9 136.5,858 137.4,857.6 137.7,858.2 139.8,871.2 140.1,872.1 141.6,874.3 143.4,879 145.2,879.9 147,881.4 149.1,881.1 150.3,881.2 151.2,880.8 152.4,879.7 154.2,879 156,877.3 160.2,875.6 161.4,876.3 162.9,876.5 168.6,882.2 170.4,883 172.2,884.7 174,885.4 175.8,887 177.6,887.6 179.4,889 181.2,889.5 183.3,890.6 184.8,890.5 186.6,891.3 189,891.3" stroke="#ff6030" stroke-width="1.0"/>
<path d="M33.6,892.6 37.2,892.4 39.6,892.6 40.8,892.2 42.9,892.6 44.4,891.9 45.9,892.6 46.5,892.6 48,891.4 49.8,892.3 51.6,890.4 53.4,891 55.2,888.2 55.8,888 56.4,888.3 57,887.9 58.8,883.4 60.6,882 62.7,874.5 63,874.3 63.9,874.8 64.2,874.4 66,865.7 66.3,865.3 67.2,866.7 67.5,867 67.8,866.6 69.6,857.5 69.9,857.2 71.1,859.8 71.4,859.7 73.2,851.7 73.5,851.7 74.7,855.4 75,855.5 76.8,847.3 77.1,847.2 78.3,850.4 78.6,850.3 80.1,842.6 80.4,842.2 82.2,850.7 82.5,850.9 83.4,848.4 83.7,847.8 84,847.8 85.8,855.4 86.1,855.3 87.3,851.7 87.6,851.6 89.4,859.2 89.7,859.3 90,858.7 90.9,856.5 91.2,856.6 93,864.1 93.3,864.2 94.5,861.8 94.8,862 96.6,869.1 96.9,869.3 97.2,868.9 98.1,867.2 98.4,867.3 100.2,873.2 100.5,873.2 101.7,870.3 102,870.1 103.8,875 104.1,874.7 105.6,870.1 105.9,870.3 107.1,874.3 107.4,874.6 109.2,868.3 109.5,868.5 110.7,872.7 111,872.9 112.8,865.4 113.1,865.6 114.3,870.8 114.6,871.1 116.4,860.9 116.7,861.1 117.9,868.3 118.2,868.7 120,855.3 120.3,855.5 121.5,864.3 121.8,864.7 123.6,847.5 123.9,847.7 125.1,857.8 125.4,858.3 127.2,837.9 127.5,838.2 127.8,840.2 128.7,848.5 129,848.6 130.8,827.2 131.1,827.5 132.3,838.8 132.6,839.4 134.1,826 134.4,826.3 134.7,828.4 135.9,844.1 136.5,846.6 137.1,845.9 137.4,846 137.7,846.8 139.8,862.5 140.1,863.1 141,863 141.3,863.3 143.4,871.6 144.9,873.4 147,878.2 147.3,878.5 149.1,878.6 150,879.1 150.6,879 152.4,876.7 154.2,876.2 156.3,873.2 157.5,872.8 159.3,870.9 160.2,870.6 161.4,871.6 162.6,871.6 163.2,871.8 165,874.4 166.8,875.5 168.6,878.5 170.4,880.3 172.2,883.7 174,884.7 175.5,886.6 176.1,886.9 177.6,887 179.4,888.5 181.2,888.5 183,889.9 184.8,889.9 186.6,891.1 188.1,891.1 189,891.5" stroke="#a0a0a0" stroke-width="1.0"/>
<path d="M33.6,892.6 37.2,892.4 39.6,892.6 40.8,892.2 42.9,892.6 44.4,891.9 46.2,892.6 48,891.3 49.8,892.1 51.6,890.1 53.4,890.6 55.2,887.6 55.8,887.4 56.4,887.5 57,887.1 58.8,882.1 60.6,880.2 62.7,871.9 63,871.6 63.9,871.7 64.2,871.2 66,861.9 66.3,861.4 67.2,862.5 67.5,862.7 67.8,862.2 69.6,852.4 69.9,852.1 71.1,854.3 71.4,854.2 73.2,845.8 73.5,845.7 74.7,849.2 75,849.2 76.8,840.7 77.1,840.6 78.3,843.4 78.6,843.2 79.8,836.7 80.4,834.8 82.2,843.7 82.5,844 83.4,841.7 83.7,841.2 84,841.3 85.8,849.2 86.1,849.1 87.3,845.7 87.6,845.7 89.4,853.6 89.7,853.7 90,853.3 90.9,851.2 91.2,851.4 93,859.3 93.3,859.5 94.5,857.3 94.8,857.6 96.6,865.2 96.9,865.4 97.8,863.8 98.1,863.5 98.4,863.7 100.2,869.9 100.5,869.9 101.7,867.1 102,866.9 103.8,871.9 104.1,871.7 105.6,867 105.9,867.2 107.1,871.1 107.4,871.4 109.2,865 109.5,865.2 110.7,869.2 111,869.4 112.8,861.7 113.1,861.8 114.3,866.9 114.6,867.2 116.4,856.7 116.7,856.9 117.9,863.8 118.2,864.2 120,850.4 120.3,850.5 121.5,859 121.8,859.4 123.6,841.6 123.9,841.7 125.1,851.4 125.4,851.7 127.2,830.7 127.5,830.8 127.8,832.7 128.7,840.6 129,840.6 130.8,818.3 131.1,818.4 132.3,829.3 132.6,829.8 134.1,816.6 134.4,817.1 134.7,819.3 135.9,835.9 136.5,838.8 137.1,838.6 137.7,840.2 139.8,857.5 140.1,858.2 141,858.5 141.3,859 143.4,868.2 144.9,870.5 147,875.9 147.3,876.3 149.1,876.5 150,877 150.6,876.8 152.4,874.3 154.2,873.6 156.3,870.3 157.8,869.4 159.3,867.5 160.2,867.3 161.4,868.3 162.6,868.3 163.2,868.7 165,871.5 166.8,872.9 168.6,876.2 170.4,878.5 172.2,882.2 174,883.6 175.5,885.6 176.1,886 177.6,886.2 179.4,887.8 181.2,888 183,889.4 184.8,889.5 186.6,890.8 188.1,890.9 189,891.3" stroke="#000000" stroke-width="1.0"/>
</g>
<rect x="33.6" y="737.4" width="155.7" height="155.2" fill="none" stroke="#505050" stroke-width="1.1"/>
<text x="29.4" y="897.2" text-anchor="end" class="tl">0</text>
<path d="M34.4,853.8 h4.5 M188.5,853.8 h-4.5" stroke="#333" stroke-width="0.9"/>
<text x="29.4" y="858.4" text-anchor="end" class="tl">100</text>
<path d="M34.4,815 h4.5 M188.5,815 h-4.5" stroke="#333" stroke-width="0.9"/>
<text x="29.4" y="819.6" text-anchor="end" class="tl">200</text>
<path d="M34.4,776.2 h4.5 M188.5,776.2 h-4.5" stroke="#333" stroke-width="0.9"/>
<text x="29.4" y="780.8" text-anchor="end" class="tl">300</text>
<text x="29.4" y="742" text-anchor="end" class="tl">400</text>
<text x="33.6" y="903.6" text-anchor="middle" class="tl">7</text>
<path d="M53.05,891.8 v-5 M53.05,738.2 v5" stroke="#444" stroke-width="0.9"/>
<path d="M72.5,891.8 v-5 M72.5,738.2 v5" stroke="#444" stroke-width="0.9"/>
<text x="72.5" y="903.6" text-anchor="middle" class="tl">8</text>
<path d="M91.95,891.8 v-5 M91.95,738.2 v5" stroke="#444" stroke-width="0.9"/>
<path d="M111.4,891.8 v-5 M111.4,738.2 v5" stroke="#444" stroke-width="0.9"/>
<text x="111.4" y="903.6" text-anchor="middle" class="tl">9</text>
<path d="M130.85,891.8 v-5 M130.85,738.2 v5" stroke="#444" stroke-width="0.9"/>
<path d="M150.3,891.8 v-5 M150.3,738.2 v5" stroke="#444" stroke-width="0.9"/>
<text x="150.3" y="903.6" text-anchor="middle" class="tl">10</text>
<path d="M169.75,891.8 v-5 M169.75,738.2 v5" stroke="#444" stroke-width="0.9"/>
<text x="189.2" y="903.6" text-anchor="middle" class="tl">11</text>
<text x="58" y="759.5" class="tt">2A' x10000</text>
<text x="140.5" y="747" class="lg">0-&gt;1</text>
<path d="M157.6,744.9 H180.5" stroke="#ff8080" stroke-width="0.85"/>
<text x="140.5" y="753.9" class="lg">1-&gt;0</text>
<path d="M157.6,751.8 H180.5" stroke="#80ff80" stroke-width="0.85"/>
<text x="140.5" y="760.8" class="lg">1-&gt;1</text>
<path d="M157.6,758.7 H180.5" stroke="#8080ff" stroke-width="0.85"/>
<text x="140.5" y="767.7" class="lg">1-&gt;2</text>
<path d="M157.6,765.6 H180.5" stroke="#ff80ff" stroke-width="0.85"/>
<text x="140.5" y="774.6" class="lg">2-&gt;1</text>
<path d="M157.6,772.5 H180.5" stroke="#80ffff" stroke-width="0.85"/>
<text x="140.5" y="781.5" class="lg">2-&gt;2</text>
<path d="M157.6,779.4 H180.5" stroke="#ffff80" stroke-width="0.85"/>
<text x="140.5" y="788.4" class="lg">2-&gt;3</text>
<path d="M157.6,786.3 H180.5" stroke="#888888" stroke-width="0.85"/>
<text x="140.5" y="795.3" class="lg">3-&gt;2</text>
<path d="M157.6,793.2 H180.5" stroke="#ffa080" stroke-width="0.85"/>
<text x="140.5" y="802.2" class="lg">3-&gt;3</text>
<path d="M157.6,800.1 H180.5" stroke="#d8d8d8" stroke-width="0.85"/>
<text x="140.5" y="809.1" class="lg">3-&gt;4</text>
<path d="M157.6,807 H180.5" stroke="#777777" stroke-width="0.85"/>
<clipPath id="c609"><rect x="223.9" y="734.3" width="158.1" height="157.8"/></clipPath>
<g clip-path="url(#c609)" fill="none" stroke-width="1" stroke-linejoin="round" stroke-opacity="0.6">
<path d="M223.9,892.1 228.4,891.9 228.9,891.7 229.4,890.9 230.1,879.5 230.4,887.7 230.7,890.3 231.2,891.5 232.9,892 237.2,891.8 238.4,891.4 239.2,890.2 239.7,886 239.9,876.6 240.2,847.9 240.7,883.5 241.2,889.8 241.7,891 242.4,891.6 246.7,891.8 248.2,891.6 249.2,891.1 249.7,890.5 250.2,889.1 250.7,884.5 250.9,876.6 251.4,797.4 251.9,876.6 252.4,887.6 252.9,889.9 253.7,891 255.2,891.4 256.1,890.8 256.6,887.2 256.9,881.6 257.4,889.9 257.9,890.8 258.6,890.4 259.1,888 259.6,874.2 260.1,888.3 260.4,889.1 260.6,889.2 261.1,887.8 261.6,882.5 261.9,874.4 262.1,850.2 262.5,744.8 263.1,876.7 263.6,886.7 264.1,889.3 264.6,890.3 266.1,891.2 268.1,891.2 269.1,890.4 269.6,888.8 270.1,879.6 270.5,850 270.9,881.1 271.4,887.4 271.6,887.4 271.9,886.6 272.1,884.4 272.6,865.6 273.1,757.4 273.6,873.2 274.1,886.1 274.6,889.1 275.4,890.6 276.6,891.2 278.6,891.3 279.9,890.9 280.6,889.8 281.1,886 281.6,865.8 282.1,885.3 282.4,885.5 282.6,883.4 283.1,859.4 283.5,780.6 283.9,863.8 284.4,878.7 284.6,873.2 285.1,813.2 285.4,863.6 285.9,885.5 286.6,889.8 287.4,890.8 288.6,891.3 290.4,891.3 291.6,890.6 292.4,889.4 292.9,886.6 293.4,874.2 293.9,784.8 294.4,873.8 294.9,885.8 295.4,887.4 295.9,884.2 296.5,839.5 296.9,879 297.4,888.2 297.9,889.9 298.4,890.5 300.4,890.8 301.6,890.6 302.4,890.1 302.9,889.3 303.4,887.7 303.9,882.3 304.1,873.8 304.7,765.9 305.1,866.8 305.6,884.5 305.9,886.7 306.4,888.2 306.6,888.1 306.9,887 307.4,873.2 307.6,882.9 308.1,889.1 308.6,890 309.9,890.3 310.9,889.8 311.4,888.6 311.9,880.8 312.2,862.6 312.6,885 313.1,888.7 313.6,889 314.1,888 314.6,881.6 315.1,844.8 315.6,884.2 316.1,888.5 316.9,889.7 317.6,889.9 318.1,889.6 318.6,888.1 319.1,879.5 319.6,888.7 319.9,889.4 320.6,889.7 321.4,889.4 321.9,888.4 322.4,882.8 322.8,858.4 323.4,886.3 323.6,888 324.4,889.2 325.1,888.9 325.6,887.4 326.3,866.9 326.9,887.1 327.1,888.4 327.9,889.3 329.4,889.5 331.4,889.3 332.1,888.8 332.6,887.8 333.1,880.5 333.4,869 333.9,886 334.1,887.7 334.9,888.8 335.6,888.8 336.4,888.5 336.9,887 337.4,876.3 337.9,887 338.1,888 338.9,888.7 342.6,888.8 343.4,888.6 343.9,888 344.6,878.4 345.1,887.5 345.4,888.2 346.1,888.7 347.9,888.8 348.6,888.5 349.1,886.6 349.4,883.7 349.6,886.6 350.1,888.5 352.4,888.9 355.1,888.5 355.6,887.1 356,882.6 356.4,887.5 356.6,888.3 357.4,888.8 361.1,888.8 361.6,888.3 362,886.8 362.4,888.4 363.1,888.9 366.4,888.8 367,887.9 367.6,888.8 371.1,888.9 371.6,888.6 372,887.9 372.4,888.7 372.9,888.9 381.9,888.9" stroke="#ff0000" stroke-width="1" stroke-opacity="0.65"/>
<path d="M223.9,892.1 229.4,892.1 230.1,891.8 231.2,892.1 239.2,892.1 239.9,891.8 240.2,891.2 240.7,891.9 241.2,892.1 250.2,892 250.9,891.8 251.4,890.2 251.9,891.8 252.4,892 258.6,892.1 259.6,891.7 260.1,892 261.1,892 261.9,891.7 262.1,891.3 262.5,889.2 263.1,891.8 264.6,892.1 269.6,892 270.1,891.8 270.5,891.3 270.9,891.9 272.1,891.9 272.6,891.6 273.1,889.4 273.6,891.7 275.4,892.1 280.6,892.1 281.6,891.6 282.1,892 282.6,891.9 283.1,891.4 283.5,889.9 283.9,891.5 284.4,891.8 285.1,890.5 285.4,891.5 285.9,892 292.9,892 293.4,891.7 293.9,890 294.4,891.7 294.9,892 295.9,891.9 296.5,891 296.9,891.8 297.4,892 303.4,892 304.1,891.7 304.7,889.6 305.1,891.6 306.4,892 307.4,891.7 308.1,892 311.4,892 312.2,891.5 312.6,892 314.1,892 314.6,891.9 315.1,891.2 315.6,891.9 316.9,892.1 319.1,891.8 321.9,892 322.4,891.9 322.8,891.4 323.4,892 324.4,892 325.6,892 326.3,891.6 326.9,892 327.9,892 332.6,892 333.4,891.6 333.9,892 334.9,892 337.4,891.8 338.9,892 344.6,891.8 346.1,892 381.9,892" stroke="#00ff00" stroke-width="0.7" stroke-opacity="0.35"/>
<path d="M223.9,892.1 228.4,892 229.4,891.4 230.1,884.5 230.4,889.4 230.7,891 231.2,891.8 232.9,892 237.2,891.9 238.4,891.7 239.2,890.9 239.7,888.4 239.9,882.8 240.2,865.6 240.7,887 241.2,890.7 241.7,891.5 242.4,891.8 246.7,891.9 249.2,891.5 250.2,890.3 250.7,887.5 250.9,882.8 251.4,835.3 251.9,882.8 252.4,889.4 252.9,890.8 253.7,891.4 255.2,891.7 256.1,891.3 256.6,889.2 256.9,885.8 257.4,890.8 257.9,891.3 258.6,891.1 259.1,889.6 259.6,881.4 260.1,889.8 260.6,890.3 261.1,889.5 261.6,886.3 261.9,881.5 262.1,866.9 262.5,803.7 263.1,882.9 263.6,888.8 264.1,890.4 264.6,891 266.1,891.6 268.1,891.5 269.1,891.1 269.6,890.1 270.1,884.6 270.5,866.9 270.9,885.5 271.4,889.3 271.6,889.3 271.9,888.8 272.1,887.5 272.6,876.2 273.1,811.3 273.6,880.8 274.1,888.5 274.6,890.3 275.4,891.2 276.6,891.6 278.6,891.6 279.9,891.4 280.6,890.7 281.1,888.4 281.6,876.3 282.1,888 282.4,888.1 282.6,886.9 283.1,872.5 283.5,825.2 283.9,875.1 284.4,884.1 284.6,880.7 285.1,844.8 285.4,875 285.9,888.2 286.6,890.7 287.4,891.3 288.6,891.6 290.4,891.6 291.6,891.2 292.4,890.5 292.9,888.8 293.4,881.3 293.9,827.7 294.4,881.1 294.9,888.3 295.4,889.3 295.9,887.4 296.5,860.5 296.9,884.3 297.4,889.7 297.9,890.8 298.4,891.1 300.4,891.3 302.4,890.9 303.4,889.4 303.9,886.2 304.1,881.1 304.7,816.4 305.1,876.9 305.6,887.5 306.4,889.8 306.9,889.1 307.4,880.7 307.6,886.6 308.1,890.3 308.6,890.8 309.9,891 310.9,890.7 311.4,890 311.9,885.3 312.2,874.4 312.6,887.8 313.1,890.1 313.6,890.3 314.1,889.6 314.6,885.8 315.1,863.7 315.6,887.3 316.1,890 316.9,890.7 318.1,890.6 318.6,889.7 319.1,884.5 319.6,890.1 319.9,890.5 320.6,890.7 321.4,890.5 321.9,889.9 322.4,886.5 322.8,871.9 323.4,888.6 323.6,889.6 324.4,890.4 325.1,890.2 325.6,889.3 326.3,877 326.9,889.1 327.1,889.9 327.9,890.4 331.4,890.4 332.1,890.1 332.6,889.5 333.1,885.1 333.4,878.2 333.9,888.4 334.1,889.4 334.9,890.1 336.4,889.9 336.9,889 337.4,882.6 337.9,889 338.1,889.6 338.9,890.1 342.6,890.1 343.9,889.6 344.6,883.9 345.1,889.3 345.4,889.7 346.1,890.1 348.6,889.9 349.1,888.8 349.4,887.1 349.6,888.8 350.1,889.9 352.4,890.2 355.1,890 355.6,889.1 356,886.4 356.4,889.3 356.6,889.8 357.4,890.1 361.1,890.1 361.6,889.8 362,888.9 362.4,889.9 363.1,890.2 366.4,890.1 367,889.6 367.6,890.1 371.1,890.2 372,889.6 372.4,890.1 372.9,890.2 381.9,890.2" stroke="#0000ff" stroke-width="0.6" stroke-opacity="0.22"/>
<path d="M223.9,892.1 228.4,892 229.4,891.4 230.1,884.3 230.4,889.3 230.7,891 231.2,891.7 232.9,892 237.2,891.9 238.4,891.7 239.2,890.9 239.7,888.3 239.9,882.5 240.2,864.7 240.7,886.8 241.2,890.7 241.7,891.4 242.4,891.8 246.7,891.9 249.2,891.5 250.2,890.3 250.7,887.4 250.9,882.5 251.4,833.4 251.9,882.5 252.4,889.3 252.9,890.8 253.7,891.4 255.2,891.7 256.1,891.3 256.6,889.1 256.9,885.6 257.4,890.7 257.9,891.3 258.6,891.1 259.1,889.5 259.6,881 260.1,889.7 260.6,890.3 261.1,889.4 261.6,886.2 261.9,881.1 262.1,866.1 262.5,800.8 263.1,882.6 263.6,888.7 264.1,890.4 264.6,891 266.1,891.6 268.1,891.5 269.1,891 269.6,890 270.1,884.3 270.5,866 270.9,885.3 271.4,889.2 271.6,889.2 271.9,888.7 272.1,887.3 272.6,875.7 273.1,808.6 273.6,880.4 274.1,888.4 274.6,890.3 275.4,891.1 276.6,891.6 278.6,891.6 279.9,891.4 280.6,890.7 281.1,888.3 281.6,875.8 282.1,887.9 282.4,888 282.6,886.7 283.1,871.9 283.5,823 283.9,874.5 284.4,883.8 284.6,880.4 285.1,843.2 285.4,874.4 285.9,888 286.6,890.7 287.4,891.3 288.6,891.6 290.4,891.6 291.6,891.2 292.4,890.4 292.9,888.7 293.4,881 293.9,825.6 294.4,880.8 294.9,888.2 295.4,889.2 295.9,887.2 296.5,859.5 296.9,884 297.4,889.7 297.9,890.7 298.4,891.1 300.4,891.3 302.4,890.8 303.4,889.4 303.9,886 304.1,880.8 304.7,813.8 305.1,876.4 305.6,887.4 305.9,888.7 306.4,889.7 306.9,889 307.4,880.4 307.6,886.4 308.1,890.2 308.6,890.8 309.9,891 310.9,890.7 311.4,889.9 311.9,885.1 312.2,873.8 312.6,887.7 313.1,890 313.6,890.2 314.1,889.5 314.6,885.6 315.1,862.7 315.6,887.2 316.1,889.9 316.9,890.6 318.1,890.6 318.6,889.6 319.1,884.3 319.6,890 319.9,890.4 320.6,890.6 321.4,890.4 321.9,889.8 322.4,886.3 322.8,871.2 323.4,888.5 323.6,889.5 324.4,890.3 325.1,890.1 325.6,889.2 326.3,876.4 326.9,889 327.1,889.8 327.9,890.4 331.4,890.3 332.1,890.1 332.6,889.4 333.1,884.9 333.4,877.8 333.9,888.3 334.1,889.4 334.9,890 336.4,889.9 336.9,888.9 337.4,882.3 337.9,888.9 338.1,889.6 338.9,890 342.6,890 343.9,889.5 344.6,883.6 345.1,889.2 345.4,889.7 346.1,890 348.6,889.9 349.1,888.7 349.4,886.9 349.6,888.7 350.1,889.9 352.4,890.1 355.1,889.9 355.6,889 356,886.2 356.4,889.2 356.6,889.7 357.4,890 361.1,890 361.6,889.8 362,888.8 362.4,889.8 363.1,890.1 366.4,890.1 367,889.5 367.6,890.1 371.1,890.1 372,889.5 372.4,890 372.9,890.1 381.9,890.1" stroke="#ff00ff" stroke-width="0.6" stroke-opacity="0.22"/>
<path d="M223.9,892.1 239.2,892.1 240.2,891.6 241.2,892.1 250.2,892.1 250.9,891.9 251.4,891 251.9,891.9 252.4,892 261.1,892 262.1,891.6 262.5,890.3 263.1,891.9 264.6,892.1 269.6,892.1 270.5,891.6 270.9,892 272.1,892 272.6,891.8 273.1,890.5 273.6,891.9 275.4,892.1 280.6,892.1 281.6,891.8 282.6,892 283.1,891.7 283.5,890.8 283.9,891.8 284.4,891.9 285.1,891.2 285.4,891.8 285.9,892 292.9,892 293.4,891.9 293.9,890.8 294.4,891.9 294.9,892 295.9,892 296.5,891.5 296.9,891.9 297.4,892.1 303.4,892 304.1,891.9 304.7,890.6 305.1,891.8 306.4,892.1 307.4,891.9 311.4,892.1 312.2,891.7 312.6,892 314.1,892.1 315.1,891.5 315.6,892 316.9,892.1 321.9,892.1 322.8,891.7 323.4,892 324.4,892.1 326.3,891.8 327.9,892.1 332.6,892 333.4,891.8 334.9,892.1 381.9,892.1" stroke="#00ffff" stroke-width="0.7" stroke-opacity="0.35"/>
<path d="M223.9,892.1 228.4,892 229.4,891.6 230.1,886.4 230.4,890.1 230.7,891.3 231.2,891.8 237.2,892 238.4,891.8 239.2,891.2 239.7,889.3 239.9,885.1 240.2,872.2 240.7,888.2 241.2,891.1 241.7,891.6 242.4,891.9 246.7,892 249.2,891.6 250.2,890.8 250.7,888.7 250.9,885.1 251.4,849.5 251.9,885.1 252.4,890.1 252.9,891.1 253.7,891.6 255.2,891.8 256.1,891.5 256.6,889.9 256.9,887.4 257.4,891.1 257.9,891.5 258.6,891.4 259.1,890.2 259.6,884.1 260.1,890.4 260.6,890.8 261.1,890.2 261.6,887.8 261.9,884.1 262.1,873.2 262.5,825.8 263.1,885.2 263.6,889.7 264.1,890.8 264.6,891.3 266.1,891.7 268.1,891.7 269.1,891.3 269.6,890.6 270.1,886.5 270.5,873.2 270.9,887.1 271.4,890 271.9,889.6 272.1,888.6 272.6,880.2 273.1,831.5 273.6,883.6 274.1,889.4 274.6,890.8 275.4,891.4 278.6,891.8 279.9,891.6 280.6,891.1 281.1,889.4 281.6,880.3 282.1,889 282.4,889.1 282.6,888.2 283.1,877.4 283.5,841.9 283.9,879.3 284.4,886.1 284.6,883.6 285.1,856.6 285.4,879.3 285.9,889.1 286.6,891.1 287.4,891.5 288.6,891.7 291.6,891.4 292.4,890.9 292.9,889.6 293.4,884 293.9,843.8 294.4,883.9 294.9,889.3 295.4,890 295.9,888.6 296.5,868.4 296.9,886.2 297.4,890.3 298.4,891.4 300.4,891.5 302.4,891.2 303.4,890.1 303.9,887.7 304.1,883.9 304.7,835.3 305.1,880.7 305.6,888.7 306.4,890.4 306.9,889.8 307.4,883.6 307.6,887.9 308.1,890.7 308.6,891.1 309.9,891.3 310.9,891.1 311.4,890.5 311.9,887 312.2,878.8 312.6,888.9 313.1,890.6 313.6,890.7 314.1,890.2 314.6,887.4 315.1,870.8 315.6,888.5 316.1,890.5 316.9,891 318.1,891 318.6,890.3 319.1,886.4 319.6,890.6 320.6,891 321.4,890.9 321.9,890.4 322.4,887.9 322.8,877 323.4,889.5 323.6,890.2 324.4,890.8 325.1,890.7 325.6,890 326.3,880.7 326.9,889.8 327.1,890.4 327.9,890.9 331.4,890.8 332.1,890.6 332.6,890.2 333.1,886.9 333.4,881.7 333.9,889.4 334.1,890.1 334.9,890.6 336.4,890.5 336.9,889.8 337.4,885 337.9,889.8 338.1,890.3 338.9,890.6 342.6,890.6 343.9,890.2 344.6,885.9 345.1,890 346.1,890.6 348.6,890.5 349.1,889.6 349.4,888.3 349.6,889.6 350.1,890.5 355.1,890.5 355.6,889.9 356,887.8 356.4,890 356.6,890.4 357.4,890.6 361.1,890.6 361.6,890.4 362,889.7 362.4,890.5 363.1,890.6 366.4,890.6 367,890.2 367.6,890.6 371.1,890.6 372,890.2 372.9,890.7 381.9,890.7" stroke="#ffff00" stroke-width="0.6" stroke-opacity="0.35"/>
<path d="M223.9,892.1 228.4,892 229.4,891.6 230.1,886.8 230.4,890.2 230.7,891.4 231.2,891.9 237.2,892 238.4,891.8 239.2,891.3 239.7,889.5 239.9,885.6 240.2,873.5 240.7,888.5 241.2,891.1 241.7,891.6 242.4,891.9 246.7,892 249.2,891.7 250.2,890.9 250.7,888.9 250.9,885.6 251.4,852.3 251.9,885.6 252.4,890.2 252.9,891.2 253.7,891.6 255.2,891.8 256.1,891.6 256.6,890.1 256.9,887.7 257.4,891.2 257.9,891.6 258.6,891.4 259.1,890.4 259.6,884.6 260.1,890.5 260.6,890.9 261.1,890.3 261.6,888.1 261.9,884.6 262.1,874.5 262.5,830.2 263.1,885.6 263.6,889.8 264.1,890.9 264.6,891.4 266.1,891.7 268.1,891.7 269.1,891.4 269.6,890.7 270.1,886.8 270.5,874.4 270.9,887.5 271.4,890.1 271.9,889.8 272.1,888.9 272.6,881 273.1,835.5 273.6,884.2 274.1,889.6 274.6,890.8 275.4,891.5 278.6,891.8 279.9,891.6 280.6,891.1 281.1,889.5 281.6,881.1 282.1,889.2 282.4,889.3 282.6,888.4 283.1,878.4 283.5,845.3 283.9,880.2 284.4,886.5 284.6,884.1 285.1,859 285.4,880.1 285.9,889.3 286.6,891.1 288.6,891.8 291.6,891.5 292.4,890.9 292.9,889.8 293.4,884.6 293.9,847 294.4,884.4 294.9,889.4 295.4,890.1 295.9,888.8 296.5,870 296.9,886.6 297.4,890.5 298.4,891.4 300.4,891.6 302.4,891.2 303.4,890.2 303.9,888 304.1,884.4 304.7,839.1 305.1,881.5 305.6,888.9 306.4,890.5 306.9,890 307.4,884.1 307.6,888.2 308.1,890.8 308.6,891.2 309.9,891.3 310.9,891.1 311.4,890.6 311.9,887.3 312.2,879.7 312.6,889.1 313.1,890.7 313.6,890.8 314.1,890.4 314.6,887.7 315.1,872.2 315.6,888.8 316.1,890.6 316.9,891.1 318.1,891.1 318.6,890.4 319.1,886.8 319.6,890.7 320.6,891.1 321.9,890.5 322.4,888.2 322.8,878 323.4,889.6 323.6,890.4 324.4,890.9 325.1,890.8 325.6,890.1 326.3,881.5 326.9,890 327.1,890.5 327.9,890.9 331.4,890.9 332.6,890.3 333.1,887.2 333.4,882.4 333.9,889.5 334.1,890.2 334.9,890.7 336.4,890.6 336.9,890 337.4,885.5 337.9,889.9 338.1,890.4 338.9,890.7 342.6,890.7 343.9,890.4 344.6,886.4 345.1,890.1 346.1,890.7 348.6,890.6 349.1,889.8 349.4,888.6 349.6,889.8 350.1,890.6 355.1,890.6 355.6,890 356,888.1 356.4,890.2 357.4,890.7 361.1,890.7 361.6,890.5 362,889.9 362.4,890.6 363.1,890.7 366.4,890.7 367,890.3 367.6,890.7 371.1,890.7 372,890.3 372.9,890.7 381.9,890.8" stroke="#000000" stroke-width="1" stroke-opacity="0.45"/>
<path d="M223.9,892.1 228.4,892 229.4,891.6 230.1,887.1 230.4,890.3 230.7,891.4 231.2,891.9 237.2,892 238.4,891.8 239.2,891.3 239.7,889.6 239.9,885.9 240.2,874.4 240.7,888.7 241.2,891.2 241.7,891.7 242.4,891.9 246.7,892 249.2,891.7 250.2,890.9 250.7,889.1 250.9,885.9 251.4,854.2 251.9,885.9 252.4,890.3 252.9,891.2 253.7,891.7 255.2,891.8 256.1,891.6 256.6,890.1 256.9,887.9 257.4,891.2 257.9,891.6 258.6,891.4 259.1,890.4 259.6,884.9 260.1,890.6 260.6,890.9 261.1,890.4 261.6,888.3 261.9,885 262.1,875.3 262.5,833.2 263.1,886 263.6,889.9 264.6,891.4 266.1,891.8 268.1,891.7 269.1,891.4 269.6,890.8 270.1,887.1 270.5,875.3 270.9,887.7 271.4,890.2 271.9,889.9 272.1,889 272.6,881.5 273.1,838.2 273.6,884.5 274.1,889.7 274.6,890.9 275.4,891.5 278.6,891.8 279.9,891.6 280.6,891.2 281.1,889.7 281.6,881.6 282.1,889.4 282.4,889.5 282.6,888.6 283.1,879 283.5,847.5 283.9,880.8 284.4,886.7 284.6,884.5 285.1,860.5 285.4,880.7 285.9,889.5 286.6,891.2 288.6,891.8 291.6,891.5 292.4,891 292.9,889.9 293.4,884.9 293.9,849.2 294.4,884.8 294.9,889.6 295.4,890.2 295.9,889 296.5,871.1 296.9,886.9 297.4,890.5 298.4,891.4 300.4,891.6 302.4,891.3 303.4,890.3 303.9,888.2 304.1,884.8 304.7,841.6 305.1,882 305.6,889.1 306.4,890.5 306.9,890.1 307.4,884.5 307.6,888.4 308.1,890.9 308.6,891.3 309.9,891.4 310.9,891.2 311.4,890.7 311.9,887.6 312.2,880.3 312.6,889.3 313.1,890.7 313.6,890.9 314.1,890.5 314.6,887.9 315.1,873.2 315.6,888.9 316.1,890.7 316.9,891.1 318.1,891.1 318.6,890.5 319.1,887.1 319.6,890.7 320.6,891.2 321.9,890.6 322.4,888.4 322.8,878.6 323.4,889.8 323.6,890.5 324.4,890.9 325.1,890.8 325.6,890.2 326.3,882 326.9,890.1 327.1,890.6 327.9,891 331.4,891 332.6,890.4 333.1,887.5 333.4,882.8 333.9,889.7 334.1,890.3 334.9,890.8 336.4,890.7 336.9,890.1 337.4,885.8 337.9,890 338.1,890.5 338.9,890.7 342.6,890.8 343.9,890.4 344.6,886.6 345.1,890.2 346.1,890.7 348.6,890.7 349.1,889.9 349.4,888.7 349.6,889.9 350.1,890.7 355.1,890.7 355.6,890.1 356,888.3 356.4,890.2 357.4,890.8 361.1,890.8 361.6,890.6 362,890 362.4,890.6 363.1,890.8 366.4,890.8 367,890.4 367.6,890.8 371.1,890.8 372,890.4 372.9,890.8 381.9,890.8" stroke="#ff6030" stroke-width="0.8" stroke-opacity="0.4"/>
<path d="M223.9,892.1 228.4,892 229.4,891.7 230.1,887.7 230.4,890.5 230.7,891.5 231.2,891.9 237.2,892 238.4,891.9 239.2,891.4 239.7,889.9 239.9,886.7 240.2,876.6 240.7,889.1 241.2,891.3 242.4,891.9 246.7,892 249.2,891.7 250.2,891.1 250.7,889.4 250.9,886.7 251.4,859 251.9,886.7 252.4,890.5 252.9,891.3 253.7,891.7 256.1,891.6 256.6,890.4 256.9,888.4 257.4,891.3 257.9,891.7 258.6,891.5 259.1,890.7 259.6,885.8 260.1,890.8 260.6,891.1 261.1,890.6 261.6,888.7 261.9,885.9 262.1,877.4 262.5,840.6 263.1,886.7 263.6,890.2 264.6,891.5 266.1,891.8 268.1,891.8 269.1,891.5 269.6,890.9 270.1,887.7 270.5,877.4 270.9,888.2 271.4,890.4 271.9,890.2 272.1,889.4 272.6,882.8 273.1,845 273.6,885.5 274.1,890 274.6,891.1 275.4,891.6 278.6,891.8 280.6,891.3 281.1,890 281.6,882.9 282.1,889.7 282.4,889.8 282.6,889.1 283.1,880.7 283.5,853.1 283.9,882.2 284.4,887.4 284.6,885.5 285.1,864.5 285.4,882.1 285.9,889.8 286.6,891.3 288.6,891.8 291.6,891.6 292.4,891.1 292.9,890.2 293.4,885.8 293.9,854.5 294.4,885.7 294.9,889.9 295.4,890.5 295.9,889.3 296.5,873.7 296.9,887.5 297.4,890.7 298.4,891.5 300.4,891.7 302.4,891.4 303.4,890.5 303.9,888.7 304.1,885.7 304.7,847.9 305.1,883.3 305.6,889.4 306.4,890.7 306.9,890.3 307.4,885.5 307.6,888.9 308.1,891 308.6,891.4 309.9,891.5 310.9,891.3 311.4,890.9 311.9,888.1 312.2,881.8 312.6,889.6 313.1,890.9 313.6,891 314.1,890.7 314.6,888.4 315.1,875.5 315.6,889.3 316.1,890.8 316.9,891.3 318.1,891.2 318.6,890.7 319.1,887.7 319.6,890.9 320.6,891.3 321.9,890.8 322.4,888.8 322.8,880.3 323.4,890.1 323.6,890.7 324.4,891.1 325.1,891 325.6,890.5 326.3,883.3 326.9,890.3 327.1,890.8 327.9,891.1 331.4,891.1 332.6,890.6 333.1,888 333.4,884 333.9,890 334.1,890.6 334.9,890.9 336.4,890.8 336.9,890.3 337.4,886.6 337.9,890.3 338.1,890.7 338.9,890.9 342.6,890.9 343.9,890.6 344.6,887.3 345.1,890.5 346.1,890.9 348.6,890.8 349.1,890.2 349.4,889.2 349.6,890.2 350.1,890.8 355.1,890.8 355.6,890.4 356,888.8 356.4,890.5 357.4,890.9 361.1,890.9 361.6,890.8 362,890.3 362.4,890.8 363.1,891 366.4,890.9 367,890.6 367.6,891 371.1,891 372,890.6 372.9,891 381.9,891" stroke="#c0c0c0" stroke-width="0.8" stroke-opacity="0.5"/>
<path d="M223.9,892.1 228.4,892 229.4,891.6 230.1,886.4 230.4,890.1 230.7,891.3 231.2,891.8 237.2,892 238.4,891.8 239.2,891.2 239.7,889.3 239.9,885.1 240.2,872.2 240.7,888.2 241.2,891.1 241.7,891.6 242.4,891.9 246.7,892 249.2,891.6 250.2,890.8 250.7,888.7 250.9,885.1 251.4,849.5 251.9,885.1 252.4,890.1 252.9,891.1 253.7,891.6 255.2,891.8 256.1,891.5 256.6,889.9 256.9,887.4 257.4,891.1 257.9,891.5 258.6,891.4 259.1,890.2 259.6,884.1 260.1,890.4 260.6,890.8 261.1,890.2 261.6,887.8 261.9,884.1 262.1,873.2 262.5,825.8 263.1,885.2 263.6,889.7 264.1,890.8 264.6,891.3 266.1,891.7 268.1,891.7 269.1,891.3 269.6,890.6 270.1,886.5 270.5,873.2 270.9,887.1 271.4,890 271.9,889.6 272.1,888.6 272.6,880.2 273.1,831.5 273.6,883.6 274.1,889.4 274.6,890.8 275.4,891.4 278.6,891.8 279.9,891.6 280.6,891.1 281.1,889.4 281.6,880.3 282.1,889 282.4,889.1 282.6,888.2 283.1,877.4 283.5,841.9 283.9,879.3 284.4,886.1 284.6,883.6 285.1,856.6 285.4,879.3 285.9,889.1 286.6,891.1 287.4,891.5 288.6,891.7 291.6,891.4 292.4,890.9 292.9,889.6 293.4,884 293.9,843.8 294.4,883.9 294.9,889.3 295.4,890 295.9,888.6 296.5,868.4 296.9,886.2 297.4,890.3 298.4,891.4 300.4,891.5 302.4,891.2 303.4,890.1 303.9,887.7 304.1,883.9 304.7,835.3 305.1,880.7 305.6,888.7 306.4,890.4 306.9,889.8 307.4,883.6 307.6,887.9 308.1,890.7 308.6,891.1 309.9,891.3 310.9,891.1 311.4,890.5 311.9,887 312.2,878.8 312.6,888.9 313.1,890.6 313.6,890.7 314.1,890.2 314.6,887.4 315.1,870.8 315.6,888.5 316.1,890.5 316.9,891 318.1,891 318.6,890.3 319.1,886.4 319.6,890.6 320.6,891 321.4,890.9 321.9,890.4 322.4,887.9 322.8,877 323.4,889.5 323.6,890.2 324.4,890.8 325.1,890.7 325.6,890 326.3,880.7 326.9,889.8 327.1,890.4 327.9,890.9 331.4,890.8 332.1,890.6 332.6,890.2 333.1,886.9 333.4,881.7 333.9,889.4 334.1,890.1 334.9,890.6 336.4,890.5 336.9,889.8 337.4,885 337.9,889.8 338.1,890.3 338.9,890.6 342.6,890.6 343.9,890.2 344.6,885.9 345.1,890 346.1,890.6 348.6,890.5 349.1,889.6 349.4,888.3 349.6,889.6 350.1,890.5 355.1,890.5 355.6,889.9 356,887.8 356.4,890 356.6,890.4 357.4,890.6 361.1,890.6 361.6,890.4 362,889.7 362.4,890.5 363.1,890.6 366.4,890.6 367,890.2 367.6,890.6 371.1,890.6 372,890.2 372.9,890.7 381.9,890.7" stroke="#000000" stroke-width="1" stroke-opacity="0.45"/>
</g>
<rect x="223.9" y="734.3" width="158.1" height="157.8" fill="none" stroke="#505050" stroke-width="1.1"/>
<text x="219.7" y="896.7" text-anchor="end" class="tl">0</text>
<path d="M224.7,839.5 h4.5 M381.2,839.5 h-4.5" stroke="#333" stroke-width="0.9"/>
<text x="219.7" y="844.1" text-anchor="end" class="tl">50</text>
<path d="M224.7,786.9 h4.5 M381.2,786.9 h-4.5" stroke="#333" stroke-width="0.9"/>
<text x="219.7" y="791.5" text-anchor="end" class="tl">100</text>
<text x="219.7" y="738.9" text-anchor="end" class="tl">150</text>
<path d="M265.1,891.3 v-5 M265.1,735.1 v5" stroke="#444" stroke-width="0.9"/>
<path d="M318.2,891.3 v-5 M318.2,735.1 v5" stroke="#444" stroke-width="0.9"/>
<text x="318.2" y="903.1" text-anchor="middle" class="tl">9</text>
<path d="M371.3,891.3 v-5 M371.3,735.1 v5" stroke="#444" stroke-width="0.9"/>
<text x="261.2" y="756.9" class="tt">3A' x10</text>
<text x="333.2" y="744.5" class="lg">0-&gt;1</text>
<path d="M350.3,742.4 H373.2" stroke="#ff8080" stroke-width="0.85"/>
<text x="333.2" y="751.46" class="lg">1-&gt;0</text>
<path d="M350.3,749.36 H373.2" stroke="#80ff80" stroke-width="0.85"/>
<text x="333.2" y="758.42" class="lg">1-&gt;1</text>
<path d="M350.3,756.32 H373.2" stroke="#8080ff" stroke-width="0.85"/>
<text x="333.2" y="765.38" class="lg">1-&gt;2</text>
<path d="M350.3,763.28 H373.2" stroke="#ff80ff" stroke-width="0.85"/>
<text x="333.2" y="772.34" class="lg">2-&gt;1</text>
<path d="M350.3,770.24 H373.2" stroke="#80ffff" stroke-width="0.85"/>
<text x="333.2" y="779.3" class="lg">2-&gt;2</text>
<path d="M350.3,777.2 H373.2" stroke="#ffff80" stroke-width="0.85"/>
<text x="333.2" y="786.26" class="lg">2-&gt;3</text>
<path d="M350.3,784.16 H373.2" stroke="#888888" stroke-width="0.85"/>
<text x="333.2" y="793.22" class="lg">3-&gt;2</text>
<path d="M350.3,791.12 H373.2" stroke="#ffa080" stroke-width="0.85"/>
<text x="333.2" y="800.18" class="lg">3-&gt;3</text>
<path d="M350.3,798.08 H373.2" stroke="#d8d8d8" stroke-width="0.85"/>
<text x="333.2" y="807.14" class="lg">3-&gt;4</text>
<path d="M350.3,805.04 H373.2" stroke="#777777" stroke-width="0.85"/>
<clipPath id="c643"><rect x="408.9" y="734.3" width="158.5" height="157.8"/></clipPath>
<g clip-path="url(#c643)" fill="none" stroke-width="1" stroke-linejoin="round" stroke-opacity="0.6">
<path d="M408.9,892 413.4,891.6 414.1,890.9 414.6,889.5 415.1,882.9 415.6,855.6 416.1,885.4 416.4,888.6 416.9,890.6 417.6,891.5 418.9,891.8 425.4,891.8 427.6,891.1 428.6,889.4 429.1,885.8 429.4,880.7 430,821.1 430.4,870.8 430.6,882 431.1,888.3 431.6,889.9 432.4,890.5 433.1,890.1 433.6,888.3 434.1,877.9 434.5,853 434.9,880.2 435.4,888.7 436.1,890.8 437.4,891.3 439.6,891 440.4,890.4 440.9,889.4 441.6,884.1 441.9,877.7 442.5,803.7 442.9,865.3 443.4,884.4 443.6,886.8 444.1,888.3 444.6,887.6 444.9,885.8 445.6,851.7 446.1,883.7 446.4,887.1 446.9,889.2 447.4,889.6 448.1,888.7 448.9,884.2 449.4,867.2 449.9,778.1 450.6,879 450.9,883.8 451.4,886.6 452,880.3 452.6,888.8 452.9,889.4 453.4,889.7 453.9,889.5 454.4,888.7 455.1,884.7 455.6,872.7 456.3,756 456.9,869.9 457.1,879.7 457.6,886.3 458.1,888.3 458.9,889.1 459.4,888.5 459.9,885.4 460.5,860.5 460.9,879.6 461.1,882.6 461.4,881.2 462.1,828.6 462.4,863.7 462.9,884.1 463.4,887.2 463.6,887.5 463.9,887.4 464.4,885.8 464.9,880.1 465.4,850.5 465.8,756 466.1,842.2 466.4,868.4 466.9,881.4 467.1,882.7 467.4,882.3 467.9,873 468.5,789.5 468.9,859.3 469.4,879.9 469.6,881.2 469.9,879.3 470.1,871.7 470.6,823.1 471.1,877.2 471.4,882.8 471.9,886 472.1,886.1 472.4,885.5 472.9,880.6 473.4,853.6 473.8,766.3 474.1,846.4 474.6,879.8 474.9,883.7 475.4,885.7 476,876.3 476.6,887.8 477.1,888.7 477.6,888 478.1,882.9 478.6,861.1 479.1,884.1 479.4,886.1 479.6,886.4 480.1,882.5 480.7,853.6 481.1,877.5 481.4,879.8 481.6,877.7 481.9,870.5 482.6,734.3 483.1,861.7 483.6,880.9 483.9,883.7 484.4,885.5 484.9,884.3 485.4,875.5 486,801.4 486.6,876.8 487.1,883.4 487.4,883.5 487.6,882.1 487.9,878.4 488.4,842.8 488.7,781.2 489.1,855.1 489.4,856.8 489.7,834.9 490.1,875.1 490.6,885.2 491.1,887 491.4,886.5 492,874.3 492.6,887.7 492.9,888.6 493.4,888.9 494.1,887.3 494.6,880.6 495.1,853.6 495.6,879.9 495.9,880.8 496.1,877.7 496.9,795.4 497.4,863.6 497.6,868.4 498.1,834.1 498.5,739.2 499.1,869 499.6,882.5 500.1,885.9 500.6,886.5 500.9,885.8 501.4,880.1 502,831 502.6,879.7 502.9,881.8 503.1,880.9 503.4,876.4 504.1,784.6 504.6,871.4 505.1,884.7 505.9,888.5 506.1,888.6 506.4,888.3 506.6,886.5 507,880.3 507.6,888.8 507.9,889.1 508.1,888.9 508.4,887.9 509.1,867.4 509.4,880.9 509.9,888.6 510.1,889.4 510.6,889.6 511.1,887.8 511.8,869.4 512.4,887 512.9,888.3 513.4,886.5 513.9,876.1 514.4,820.1 514.9,876.2 515.4,886.8 516.1,889.5 516.6,889.7 516.9,889.5 517.4,888.1 517.9,881.3 518.4,844.8 519.1,885.3 519.4,886.5 519.6,885.8 519.9,881.9 520.3,862.5 520.9,886.5 521.4,888.9 522,884.2 522.4,889.1 522.9,890.7 523.4,891 523.9,890.9 524.4,889.9 525.1,877.3 525.4,885.5 525.9,890.3 526.4,891.1 527.1,891.2 527.6,890.9 528.1,889.8 528.6,883.6 529,868.8 529.6,888.6 529.9,890 530.4,891 531.4,891.2 532.1,890.6 532.6,888.4 532.9,884.3 533.3,866.5 533.9,887.9 534.1,889.7 534.9,891.3 536.6,891.7 537.1,891.6 537.6,891 538.3,885.2 538.6,889.6 538.9,890.9 539.4,891.6 540.6,891.9 542.1,891.7 542.6,891 543,889.1 543.6,891.6 544.6,891.8 545.9,891.5 546.4,890.6 546.6,889.1 547.1,880.3 547.6,889.9 547.9,890.9 548.4,891.6 549.9,892 552.1,891.9 552.6,891.4 553,890.1 553.4,891.5 553.9,891.9 558.9,891.9 559.6,891 560.1,887.8 560.6,891.3 561.1,891.8 567.4,892.1" stroke="#ff0000" stroke-width="1" stroke-opacity="0.65"/>
<path d="M408.9,892.1 414.6,891.8 415.1,891.2 415.6,888.5 416.1,891.4 416.9,892 425.4,892.1 428.6,891.8 429.4,891 430,885 430.4,890 430.6,891.1 431.1,891.7 432.4,891.9 433.6,891.7 434.1,890.7 434.5,888.2 434.9,890.9 435.4,891.8 437.4,892 440.9,891.8 441.6,891.3 441.9,890.7 442.5,883.3 442.9,889.4 443.4,891.3 444.1,891.7 444.9,891.5 445.6,888.1 446.1,891.3 446.9,891.8 448.1,891.8 448.9,891.3 449.4,889.6 449.9,880.7 450.6,890.8 451.4,891.5 452,890.9 452.6,891.8 454.4,891.8 455.1,891.4 455.6,890.2 456.3,878.5 456.9,889.9 457.6,891.5 458.9,891.8 459.9,891.4 460.5,888.9 460.9,890.9 461.1,891.2 461.4,891 462.1,885.7 462.4,889.3 462.9,891.3 463.9,891.6 464.9,890.9 465.4,887.9 465.8,878.5 466.1,887.1 466.4,889.7 466.9,891 467.4,891.1 467.9,890.2 468.5,881.8 468.9,888.8 469.4,890.9 469.9,890.8 470.1,890.1 470.6,885.2 471.1,890.6 471.9,891.5 472.4,891.4 472.9,891 473.4,888.2 473.8,879.5 474.1,887.5 474.6,890.9 475.4,891.5 476,890.5 476.6,891.7 477.6,891.7 478.1,891.2 478.6,889 479.1,891.3 479.6,891.5 480.1,891.1 480.7,888.3 481.1,890.6 481.4,890.9 481.6,890.7 481.9,889.9 482.6,876.3 483.1,889.1 483.6,891 484.4,891.4 484.9,891.3 485.4,890.4 486,883 486.6,890.6 487.1,891.2 487.9,890.7 488.4,887.2 488.7,881 489.1,888.4 489.4,888.6 489.7,886.4 490.1,890.4 490.6,891.4 491.4,891.5 492,890.3 492.6,891.7 494.1,891.6 494.6,890.9 495.1,888.3 495.6,890.9 496.1,890.7 496.9,882.4 497.4,889.2 497.6,889.7 498.1,886.3 498.5,876.8 499.1,889.8 499.6,891.1 500.1,891.5 500.9,891.5 501.4,890.9 502,886 502.6,890.9 503.1,891 503.4,890.5 504.1,881.3 504.6,890 505.1,891.4 505.9,891.7 506.6,891.5 507,890.9 507.6,891.8 508.4,891.7 509.1,889.6 509.4,891 509.9,891.8 511.1,891.7 511.8,889.8 512.4,891.6 513.4,891.5 513.9,890.5 514.4,884.9 514.9,890.5 515.4,891.6 516.1,891.8 517.4,891.7 517.9,891 518.4,887.4 519.1,891.4 519.6,891.5 519.9,891.1 520.3,889.1 520.9,891.5 521.4,891.8 522,891.3 522.9,892 524.4,891.9 525.1,890.6 525.9,891.9 528.1,891.9 528.6,891.3 529,889.8 529.6,891.8 532.1,891.9 532.9,891.3 533.3,889.5 533.9,891.7 534.9,892 537.6,892 538.3,891.4 538.6,891.8 539.4,892.1 542.1,892.1 543,891.8 543.6,892 545.9,892 546.6,891.8 547.1,890.9 547.6,891.9 548.4,892.1 558.9,892.1 560.1,891.7 561.1,892.1 567.4,892.1" stroke="#00ff00" stroke-width="0.7" stroke-opacity="0.35"/>
<path d="M408.9,892.1 413.4,891.7 414.1,891.3 414.6,890.4 415.1,886.1 415.6,868.4 416.1,887.7 416.4,889.8 416.9,891.1 417.6,891.7 418.9,891.9 425.4,891.9 427.6,891.4 428.6,890.3 429.1,888 429.4,884.7 430,845.9 430.4,878.3 430.6,885.6 431.1,889.6 431.6,890.7 432.4,891.1 433.1,890.8 433.6,889.6 434.1,882.9 434.5,866.7 434.9,884.4 435.4,889.9 436.1,891.2 437.4,891.6 439.6,891.4 440.9,890.4 441.6,886.9 441.9,882.8 442.5,834.7 442.9,874.7 443.4,887.1 443.6,888.6 444.1,889.6 444.6,889.2 444.9,888 445.6,865.8 446.1,886.6 446.4,888.8 446.9,890.2 447.4,890.4 448.1,889.9 448.9,886.9 449.4,875.9 449.9,818 450.6,883.6 450.9,886.7 451.4,888.5 452,884.4 452.6,889.9 453.4,890.6 454.4,889.9 455.1,887.3 455.6,879.5 456.3,803.6 456.9,877.7 457.1,884 457.6,888.3 458.1,889.7 458.9,890.1 459.4,889.7 459.9,887.7 460.5,871.6 460.9,884 461.1,886 461.4,885 462.1,850.8 462.4,873.7 462.9,886.9 463.4,888.9 463.9,889 464.4,888 464.9,884.3 465.4,865.1 465.8,803.6 466.1,859.7 466.4,876.7 466.9,885.2 467.1,886 467.4,885.7 467.9,879.7 468.5,825.4 468.9,870.8 469.4,884.2 469.6,885 469.9,883.8 470.1,878.8 470.6,847.2 471.1,882.4 471.4,886.1 471.9,888.1 472.1,888.2 472.4,887.8 472.9,884.6 473.4,867.1 473.8,810.3 474.1,862.4 474.6,884.1 474.9,886.6 475.4,888 476,881.8 476.6,889.3 477.1,889.9 477.6,889.4 478.1,886.1 478.6,872 479.1,886.9 479.4,888.2 479.6,888.4 480.1,885.8 480.7,867.1 481.1,882.6 481.4,884.1 481.6,882.7 481.9,878.1 482.6,789.5 483.1,872.4 483.6,884.8 483.9,886.6 484.4,887.8 484.9,887 485.4,881.3 486,833.1 486.6,882.1 487.1,886.4 487.4,886.5 487.6,885.6 487.9,883.2 488.4,860.1 488.7,820 489.1,868 489.4,869.1 489.7,854.9 490.1,881 490.6,887.6 491.1,888.8 491.4,888.4 492,880.6 492.6,889.2 492.9,889.8 493.4,890 494.1,889 494.6,884.6 495.1,867.1 495.6,884.2 495.9,884.7 496.1,882.8 496.9,829.3 497.4,873.6 497.6,876.7 498.1,854.4 498.5,792.7 499.1,877.1 499.6,885.9 500.1,888.1 500.6,888.4 500.9,888 501.4,884.3 502,852.4 502.6,884 502.9,885.4 503.1,884.8 503.4,881.9 504.1,822.2 504.6,878.6 505.1,887.3 505.9,889.7 506.4,889.6 506.6,888.5 507,884.4 507.6,889.9 507.9,890.2 508.1,890 508.4,889.4 509.1,876.1 509.4,884.8 509.9,889.8 510.1,890.3 510.6,890.4 511.1,889.3 511.8,877.4 512.4,888.8 512.9,889.7 513.4,888.5 513.9,881.7 514.4,845.3 514.9,881.8 515.4,888.7 516.1,890.4 516.9,890.4 517.4,889.5 517.9,885.1 518.4,861.3 519.1,887.7 519.4,888.5 519.6,888 519.9,885.5 520.3,872.9 520.9,888.4 521.4,890 522,887 522.4,890.2 522.9,891.2 523.9,891.3 524.4,890.6 525.1,882.5 525.4,887.8 525.9,890.9 526.4,891.4 527.1,891.5 527.6,891.3 528.1,890.6 528.6,886.6 529,877 529.6,889.8 530.4,891.4 531.4,891.5 532.1,891.1 532.6,889.7 532.9,887 533.3,875.4 533.9,889.4 534.1,890.6 534.9,891.6 536.6,891.8 537.6,891.4 538.3,887.6 538.6,890.4 538.9,891.3 539.4,891.8 542.1,891.9 542.6,891.4 543,890.2 543.6,891.8 544.6,891.9 545.9,891.7 546.4,891.1 546.6,890.1 547.1,884.4 547.6,890.7 548.4,891.8 552.1,892 552.6,891.6 553,890.8 553.4,891.7 553.9,892 558.9,892 559.6,891.4 560.1,889.3 560.6,891.6 561.1,891.9 567.4,892.1" stroke="#0000ff" stroke-width="0.6" stroke-opacity="0.22"/>
<path d="M408.9,892 413.4,891.7 414.1,891.3 414.6,890.3 415.1,885.7 415.6,866.6 416.1,887.4 416.4,889.6 416.9,891.1 417.6,891.6 418.9,891.9 425.4,891.9 427.6,891.4 428.6,890.2 429.1,887.7 429.4,884.1 430,842.4 430.4,877.2 430.6,885.1 431.1,889.4 431.6,890.6 432.4,891 433.1,890.7 433.6,889.4 434.1,882.2 434.5,864.8 434.9,883.8 435.4,889.7 436.1,891.2 437.4,891.6 439.6,891.3 440.9,890.2 441.6,886.5 441.9,882 442.5,830.2 442.9,873.4 443.4,886.7 443.6,888.4 444.1,889.5 444.6,889 444.9,887.7 445.6,863.8 446.1,886.2 446.4,888.6 446.9,890.1 447.4,890.3 448.1,889.7 448.9,886.5 449.4,874.7 449.9,812.3 450.6,882.9 450.9,886.3 451.4,888.2 452,883.8 452.6,889.8 453.4,890.4 454.4,889.7 455.1,886.9 455.6,878.5 456.3,796.8 456.9,876.6 457.1,883.4 457.6,888 458.1,889.5 458.9,890 459.4,889.6 459.9,887.4 460.5,870 460.9,883.4 461.1,885.5 461.4,884.5 462.1,847.6 462.4,872.2 462.9,886.5 463.4,888.7 463.9,888.8 464.4,887.7 464.9,883.7 465.4,863 465.8,796.8 466.1,857.2 466.4,875.5 466.9,884.6 467.1,885.5 467.4,885.2 467.9,878.8 468.5,820.3 468.9,869.1 469.4,883.6 469.6,884.4 469.9,883.1 470.1,877.8 470.6,843.8 471.1,881.7 471.4,885.6 471.9,887.8 472.1,887.9 472.4,887.5 472.9,884.1 473.4,865.1 473.8,804 474.1,860.1 474.6,883.5 474.9,886.2 475.4,887.6 476,881.1 476.6,889.1 477.1,889.8 477.6,889.2 478.1,885.6 478.6,870.4 479.1,886.5 479.4,887.9 479.6,888.1 480.1,885.3 480.7,865.2 481.1,881.9 481.4,883.5 481.6,882 481.9,877 482.6,781.6 483.1,870.8 483.6,884.3 483.9,886.2 484.4,887.5 484.9,886.6 485.4,880.5 486,828.6 486.6,881.4 487.1,886 487.4,886.1 487.6,885.1 487.9,882.5 488.4,857.6 488.7,814.5 489.1,866.2 489.4,867.4 489.7,852.1 490.1,880.2 490.6,887.3 491.1,888.5 491.4,888.2 492,879.7 492.6,889 492.9,889.6 493.4,889.9 494.1,888.7 494.6,884 495.1,865.2 495.6,883.6 495.9,884.2 496.1,882 496.9,824.4 497.4,872.1 497.6,875.5 498.1,851.5 498.5,785.1 499.1,876 499.6,885.4 500.1,887.8 500.6,888.2 500.9,887.7 501.4,883.7 502,849.3 502.6,883.4 502.9,884.9 503.1,884.3 503.4,881.1 504.1,816.8 504.6,877.6 505.1,886.9 505.9,889.6 506.1,889.7 506.4,889.4 506.6,888.2 507,883.8 507.6,889.8 507.9,890 508.1,889.9 508.4,889.1 509.1,874.8 509.4,884.2 509.9,889.7 510.1,890.2 510.6,890.3 511.1,889.1 511.8,876.2 512.4,888.5 512.9,889.5 513.4,888.2 513.9,880.9 514.4,841.7 514.9,881 515.4,888.4 516.1,890.3 516.9,890.3 517.4,889.3 517.9,884.5 518.4,859 519.1,887.3 519.4,888.2 519.6,887.7 519.9,885 520.3,871.4 520.9,888.1 521.4,889.8 522,886.6 522.4,890 522.9,891.1 523.9,891.2 524.4,890.5 525.1,881.7 525.4,887.5 525.9,890.8 526.4,891.4 527.1,891.5 527.6,891.3 528.1,890.5 528.6,886.2 529,875.8 529.6,889.7 530.4,891.3 531.4,891.5 532.1,891 532.6,889.5 532.9,886.7 533.3,874.2 533.9,889.2 534.1,890.5 534.9,891.5 536.6,891.8 537.6,891.3 538.3,887.3 538.6,890.3 538.9,891.3 539.4,891.8 542.1,891.8 542.6,891.3 543,890 543.6,891.7 544.6,891.9 545.9,891.7 546.4,891.1 546.6,890 547.1,883.8 547.6,890.6 548.4,891.8 552.1,891.9 552.6,891.6 553,890.7 553.4,891.7 553.9,892 558.9,892 559.6,891.3 560.1,889.1 560.6,891.5 561.1,891.9 567.4,892.1" stroke="#ff00ff" stroke-width="0.6" stroke-opacity="0.22"/>
<path d="M408.9,892.1 414.6,892.1 415.6,891.6 416.1,892 416.9,892.1 428.6,892.1 429.4,891.9 430,891 430.4,891.8 431.1,892 433.6,892 434.5,891.5 435.4,892 440.9,892.1 441.9,891.9 442.5,890.8 442.9,891.7 443.4,892 444.9,892 445.6,891.5 446.1,892 448.1,892 449.4,891.7 449.9,890.4 450.6,891.9 454.4,892 455.6,891.8 456.3,890.1 456.9,891.8 457.6,892 459.9,892 460.5,891.6 461.4,891.9 462.1,891.1 462.9,892 464.9,891.9 465.4,891.5 465.8,890.1 466.1,891.4 466.9,891.9 467.9,891.8 468.5,890.6 468.9,891.6 469.4,891.9 470.1,891.8 470.6,891.1 471.1,891.9 472.9,891.9 473.4,891.5 473.8,890.2 474.1,891.4 474.6,891.9 477.6,892 478.6,891.6 479.6,892 480.7,891.5 481.1,891.9 481.9,891.8 482.6,889.7 483.1,891.6 484.4,892 485.4,891.9 486,890.7 486.6,891.9 487.9,891.9 488.4,891.4 488.7,890.4 489.1,891.5 489.7,891.2 490.1,891.8 490.6,892 494.1,892 495.1,891.5 495.6,891.9 496.1,891.9 496.9,890.7 497.6,891.7 498.1,891.2 498.5,889.8 499.1,891.8 500.1,892 501.4,891.9 502,891.2 502.6,891.9 503.4,891.9 504.1,890.5 504.6,891.8 505.9,892 508.4,892 509.1,891.7 509.9,892 511.8,891.8 513.4,892 513.9,891.9 514.4,891 514.9,891.9 516.1,892.1 517.9,891.9 518.4,891.4 519.1,892 520.3,891.7 520.9,892 522.9,892.1 525.1,891.9 528.1,892.1 529,891.8 529.6,892 532.1,892.1 533.3,891.7 534.9,892.1 567.4,892.1" stroke="#00ffff" stroke-width="0.7" stroke-opacity="0.35"/>
<path d="M408.9,892.1 413.4,891.8 414.1,891.5 414.6,890.8 415.1,887.5 415.6,873.9 416.1,888.7 416.4,890.3 416.9,891.4 417.6,891.8 418.9,891.9 425.4,891.9 427.6,891.6 428.6,890.7 429.1,889 429.4,886.4 430,856.6 430.4,881.5 430.6,887.1 431.1,890.2 431.6,891 432.4,891.3 433.1,891.1 433.6,890.2 434.1,885 434.5,872.6 434.9,886.2 435.4,890.4 436.1,891.4 437.4,891.7 439.6,891.5 440.9,890.8 441.6,888.1 441.9,884.9 442.5,847.9 442.9,878.7 443.4,888.3 443.6,889.4 444.1,890.2 444.6,889.9 444.9,889 445.6,871.9 446.1,887.9 446.4,889.6 446.9,890.6 447.4,890.8 448.1,890.4 448.9,888.1 449.4,879.7 449.9,835.1 450.6,885.5 450.9,887.9 451.4,889.3 452,886.2 452.6,890.4 453.4,890.9 454.4,890.4 455.1,888.4 455.6,882.4 456.3,824 456.9,881 457.1,885.9 457.6,889.2 458.1,890.2 458.9,890.6 459.4,890.3 459.9,888.7 460.5,876.3 460.9,885.9 461.1,887.4 461.4,886.7 462.1,860.3 462.4,877.9 462.9,888.1 463.4,889.6 463.9,889.7 464.4,888.9 464.9,886.1 465.4,871.3 465.8,824 466.1,867.2 466.4,880.3 466.9,886.8 467.1,887.4 467.4,887.2 467.9,882.6 468.5,840.8 468.9,875.7 469.4,886 469.6,886.6 469.9,885.7 470.1,881.9 470.6,857.6 471.1,884.6 471.4,887.5 471.9,889.1 472.4,888.8 472.9,886.4 473.4,872.8 473.8,829.2 474.1,869.3 474.6,886 474.9,887.9 475.4,888.9 476,884.2 476.6,889.9 477.1,890.4 477.6,890.1 478.1,887.5 478.6,876.6 479.1,888.1 479.6,889.2 480.1,887.3 480.7,872.9 481.1,884.8 481.4,885.9 481.6,884.9 481.9,881.3 482.6,813.2 483.1,876.9 483.6,886.5 483.9,887.9 484.4,888.8 484.9,888.2 485.4,883.8 486,846.7 486.6,884.4 487.1,887.7 487.4,887.8 487.6,887.1 487.9,885.3 488.4,867.5 488.7,836.7 489.1,873.6 489.4,874.4 489.7,863.5 490.1,883.6 490.6,888.6 491.1,889.5 491.4,889.3 492,883.2 492.6,889.9 492.9,890.3 493.4,890.5 494.1,889.7 494.6,886.3 495.1,872.9 495.6,886 495.9,886.4 496.1,884.9 496.9,843.8 497.4,877.8 497.6,880.2 498.1,863.1 498.5,815.7 499.1,880.6 499.6,887.3 500.1,889 500.6,889.3 500.9,889 501.4,886.1 502,861.5 502.6,885.9 502.9,887 503.1,886.5 503.4,884.3 504.1,838.3 504.6,881.7 505.1,888.4 505.9,890.3 506.4,890.2 506.6,889.3 507,886.2 507.6,890.4 508.1,890.5 508.4,890 509.1,879.8 509.4,886.5 509.9,890.4 510.1,890.7 510.6,890.8 511.1,890 511.8,880.8 512.4,889.5 512.9,890.2 513.4,889.3 513.9,884.1 514.4,856.1 514.9,884.1 515.4,889.4 516.1,890.8 516.9,890.8 517.4,890.1 517.9,886.7 518.4,868.4 519.1,888.7 519.4,889.3 519.6,889 519.9,887 520.3,877.3 520.9,889.3 521.4,890.5 522,888.2 522.4,890.6 522.9,891.4 523.9,891.5 524.4,891 525.1,884.7 525.4,888.8 525.9,891.2 526.4,891.6 527.1,891.6 528.1,890.9 528.6,887.9 529,880.5 529.6,890.4 530.4,891.5 531.4,891.7 532.1,891.3 532.6,890.2 532.9,888.2 533.3,879.3 533.9,890 534.1,890.9 534.9,891.7 536.6,891.9 537.6,891.5 538.3,888.6 538.6,890.8 538.9,891.5 539.4,891.9 542.1,891.9 542.6,891.5 543,890.6 543.6,891.8 545.9,891.8 546.4,891.4 546.6,890.6 547.1,886.2 547.6,891 548.4,891.9 552.1,892 553,891.1 553.4,891.8 553.9,892 558.9,892 559.6,891.6 560.1,889.9 560.6,891.7 561.1,892 567.4,892.1" stroke="#ffff00" stroke-width="0.6" stroke-opacity="0.35"/>
<path d="M408.9,892.1 413.4,891.8 414.1,891.5 414.6,890.8 415.1,887.3 415.6,873.1 416.1,888.6 416.4,890.3 416.9,891.3 417.6,891.8 418.9,891.9 425.4,891.9 427.6,891.6 428.6,890.7 429.1,888.8 429.4,886.2 430,855.2 430.4,881 430.6,886.9 431.1,890.1 431.6,891 432.4,891.3 433.1,891 433.6,890.1 434.1,884.7 434.5,871.8 434.9,885.9 435.4,890.3 436.1,891.4 437.4,891.7 439.6,891.5 440.9,890.7 441.6,887.9 441.9,884.6 442.5,846.1 442.9,878.2 443.4,888.1 443.6,889.3 444.1,890.1 444.6,889.8 444.9,888.8 445.6,871.1 446.1,887.7 446.4,889.5 446.9,890.6 447.4,890.8 448.1,890.4 448.9,888 449.4,879.2 449.9,832.8 450.6,885.3 450.9,887.8 451.4,889.2 452,885.9 452.6,890.4 453.4,890.9 454.4,890.3 455.1,888.3 455.6,882 456.3,821.3 456.9,880.6 457.1,885.6 457.6,889.1 458.1,890.1 458.9,890.5 459.4,890.2 459.9,888.6 460.5,875.7 460.9,885.6 461.1,887.2 461.4,886.4 462.1,859.1 462.4,877.3 462.9,887.9 463.4,889.5 463.9,889.6 464.4,888.8 464.9,885.8 465.4,870.5 465.8,821.3 466.1,866.2 466.4,879.8 466.9,886.6 467.1,887.2 467.4,887 467.9,882.2 468.5,838.8 468.9,875 469.4,885.8 469.6,886.4 469.9,885.4 470.1,881.5 470.6,856.2 471.1,884.3 471.4,887.3 471.9,888.9 472.4,888.7 472.9,886.1 473.4,872.1 473.8,826.7 474.1,868.3 474.6,885.7 474.9,887.7 475.4,888.8 476,883.9 476.6,889.9 477.1,890.4 477.6,890 478.1,887.3 478.6,876 479.1,887.9 479.6,889.1 480.1,887.1 480.7,872.1 481.1,884.5 481.4,885.7 481.6,884.6 481.9,880.9 482.6,810 483.1,876.3 483.6,886.3 483.9,887.7 484.4,888.7 484.9,888 485.4,883.5 486,844.9 486.6,884.1 487.1,887.6 487.4,887.6 487.6,886.9 487.9,885 488.4,866.5 488.7,834.5 489.1,872.9 489.4,873.7 489.7,862.4 490.1,883.3 490.6,888.5 491.1,889.4 491.4,889.2 492,882.9 492.6,889.8 492.9,890.3 493.4,890.4 494.1,889.6 494.6,886.1 495.1,872.1 495.6,885.8 495.9,886.2 496.1,884.6 496.9,841.8 497.4,877.3 497.6,879.8 498.1,861.9 498.5,812.6 499.1,880.1 499.6,887.1 500.1,888.9 500.6,889.2 500.9,888.8 501.4,885.9 502,860.3 502.6,885.6 502.9,886.8 503.1,886.3 503.4,883.9 504.1,836.2 504.6,881.3 505.1,888.3 505.9,890.2 506.4,890.1 506.6,889.2 507,885.9 507.6,890.4 508.1,890.4 508.4,889.9 509.1,879.3 509.4,886.3 509.9,890.3 510.1,890.7 510.6,890.8 511.1,889.9 511.8,880.3 512.4,889.4 512.9,890.1 513.4,889.2 513.9,883.8 514.4,854.7 514.9,883.8 515.4,889.3 516.1,890.8 516.9,890.8 517.4,890 517.9,886.5 518.4,867.5 519.1,888.6 519.4,889.2 519.6,888.8 519.9,886.8 520.3,876.7 520.9,889.2 521.4,890.4 522,888 522.4,890.6 522.9,891.4 523.9,891.5 524.4,890.9 525.1,884.4 525.4,888.7 525.9,891.2 526.4,891.6 527.1,891.6 528.1,890.9 528.6,887.7 529,880 529.6,890.3 530.4,891.5 531.4,891.6 532.1,891.3 532.6,890.2 532.9,888.1 533.3,878.8 533.9,889.9 534.1,890.9 534.9,891.7 536.6,891.9 537.6,891.5 538.3,888.5 538.6,890.8 538.9,891.5 539.4,891.8 542.1,891.9 542.6,891.5 543,890.6 543.6,891.8 545.9,891.8 546.4,891.3 546.6,890.5 547.1,885.9 547.6,891 548.4,891.8 552.1,892 552.6,891.7 553,891.1 553.4,891.8 553.9,892 558.9,892 559.6,891.5 560.1,889.8 560.6,891.7 561.1,892 567.4,892.1" stroke="#000000" stroke-width="1" stroke-opacity="0.45"/>
<path d="M408.9,892.1 413.4,891.9 414.1,891.6 414.6,890.9 415.1,888 415.6,875.7 416.1,889.1 416.4,890.5 416.9,891.4 418.9,892 425.4,891.9 427.6,891.6 428.6,890.9 429.1,889.3 429.4,887 430,860.1 430.4,882.5 430.6,887.6 431.1,890.4 431.6,891.1 432.4,891.4 433.1,891.2 433.6,890.4 434.1,885.7 434.5,874.5 434.9,886.8 435.4,890.6 436.1,891.5 437.4,891.7 439.6,891.6 440.9,890.9 441.6,888.5 441.9,885.6 442.5,852.3 442.9,880 443.4,888.6 443.6,889.7 444.1,890.4 444.6,890.1 444.9,889.3 445.6,873.9 446.1,888.3 446.4,889.8 446.9,890.8 447.4,891 448.1,890.6 448.9,888.5 449.4,880.9 449.9,840.8 450.6,886.2 450.9,888.3 451.4,889.6 452,886.8 452.6,890.6 453.4,891 454.4,890.6 455.1,888.8 455.6,883.4 456.3,830.9 456.9,882.1 457.1,886.5 457.6,889.5 458.1,890.4 458.9,890.7 459.4,890.5 459.9,889.1 460.5,877.9 460.9,886.5 461.1,887.8 461.4,887.2 462.1,863.5 462.4,879.3 462.9,888.5 463.4,889.9 463.9,890 464.4,889.3 464.9,886.7 465.4,873.4 465.8,830.9 466.1,869.6 466.4,881.4 466.9,887.3 467.1,887.9 467.4,887.7 467.9,883.5 468.5,845.9 468.9,877.3 469.4,886.6 469.6,887.2 469.9,886.3 470.1,882.9 470.6,861 471.1,885.4 471.4,887.9 471.9,889.4 472.4,889.1 472.9,886.9 473.4,874.8 473.8,835.5 474.1,871.5 474.6,886.6 474.9,888.3 475.4,889.2 476,885 476.6,890.2 477.1,890.6 477.6,890.3 478.1,887.9 478.6,878.2 479.1,888.5 479.6,889.5 480.1,887.8 480.7,874.8 481.1,885.5 481.4,886.6 481.6,885.6 481.9,882.4 482.6,821.1 483.1,878.4 483.6,887.1 483.9,888.3 484.4,889.2 484.9,888.6 485.4,884.6 486,851.3 486.6,885.2 487.1,888.2 487.4,888.2 487.6,887.6 487.9,886 488.4,869.9 488.7,842.2 489.1,875.4 489.4,876.2 489.7,866.4 490.1,884.4 490.6,889 491.1,889.8 491.4,889.6 492,884.1 492.6,890.1 493.4,890.7 494.1,889.9 494.6,886.9 495.1,874.8 495.6,886.6 495.9,887 496.1,885.6 496.9,848.6 497.4,879.3 497.6,881.4 498.1,866 498.5,823.3 499.1,881.7 499.6,887.8 500.1,889.3 500.6,889.6 500.9,889.3 501.4,886.7 502,864.6 502.6,886.5 502.9,887.5 503.1,887.1 503.4,885 504.1,843.7 504.6,882.8 505.1,888.8 505.9,890.5 506.4,890.4 506.6,889.6 507,886.8 507.6,890.6 508.1,890.7 508.4,890.2 509.1,881 509.4,887 509.9,890.5 510.6,891 511.1,890.2 511.8,881.9 512.4,889.8 512.9,890.4 513.4,889.6 513.9,884.9 514.4,859.7 514.9,884.9 515.4,889.7 516.1,890.9 516.9,890.9 517.4,890.3 517.9,887.2 518.4,870.8 519.1,889 519.4,889.6 519.6,889.3 519.9,887.5 520.3,878.8 520.9,889.6 521.4,890.6 522,888.5 522.4,890.8 522.9,891.5 523.9,891.5 524.4,891.1 525.1,885.4 525.4,889.1 525.9,891.3 527.1,891.7 528.1,891.1 528.6,888.3 529,881.6 529.6,890.5 530.4,891.6 531.4,891.7 532.1,891.4 532.6,890.4 532.9,888.6 533.3,880.6 533.9,890.2 534.1,891 534.9,891.7 536.6,891.9 537.6,891.6 538.3,889 538.6,891 538.9,891.6 539.4,891.9 542.1,891.9 542.6,891.6 543,890.8 543.6,891.9 545.9,891.8 546.4,891.4 546.6,890.7 547.1,886.8 547.6,891.1 548.4,891.9 552.1,892 553,891.2 553.4,891.8 553.9,892 558.9,892 559.6,891.6 560.1,890.1 560.6,891.7 561.1,892 567.4,892.1" stroke="#ff6030" stroke-width="0.8" stroke-opacity="0.4"/>
<path d="M408.9,892.1 413.4,891.9 414.1,891.6 414.6,891.1 415.1,888.4 415.6,877.5 416.1,889.4 416.4,890.7 416.9,891.5 418.9,892 425.4,892 427.6,891.7 428.6,891 429.1,889.6 429.4,887.5 430,863.7 430.4,883.6 430.6,888.1 431.1,890.6 431.6,891.2 432.4,891.5 433.1,891.3 433.6,890.6 434.1,886.4 434.5,876.5 434.9,887.3 435.4,890.7 436.1,891.6 437.4,891.8 439.6,891.7 440.9,891 441.6,888.9 441.9,886.3 442.5,856.8 442.9,881.4 443.4,889 444.1,890.6 444.6,890.3 444.9,889.6 445.6,875.9 446.1,888.7 446.4,890.1 446.9,890.9 447.4,891.1 448.1,890.8 448.9,888.9 449.4,882.2 449.9,846.5 450.6,886.8 450.9,888.8 451.4,889.9 452,887.4 452.6,890.8 453.4,891.2 454.4,890.8 455.1,889.2 455.6,884.3 456.3,837.7 456.9,883.2 457.1,887.1 457.6,889.8 458.1,890.6 458.9,890.9 459.4,890.7 459.9,889.4 460.5,879.5 460.9,887.1 461.1,888.3 461.4,887.7 462.1,866.7 462.4,880.8 462.9,888.9 463.4,890.1 463.9,890.2 464.4,889.6 464.9,887.3 465.4,875.5 465.8,837.7 466.1,872.1 466.4,882.6 466.9,887.8 467.1,888.3 467.4,888.2 467.9,884.5 468.5,851.1 468.9,879 469.4,887.2 469.6,887.7 469.9,887 470.1,883.9 470.6,864.5 471.1,886.1 471.4,888.4 471.9,889.7 472.4,889.4 472.9,887.5 473.4,876.7 473.8,841.8 474.1,873.8 474.6,887.2 474.9,888.7 475.4,889.5 476,885.8 476.6,890.4 477.1,890.8 477.6,890.5 478.1,888.4 478.6,879.7 479.1,888.9 479.6,889.8 480.1,888.2 480.7,876.7 481.1,886.2 481.4,887.2 481.6,886.3 481.9,883.5 482.6,829 483.1,880 483.6,887.6 483.9,888.7 484.4,889.5 484.9,889 485.4,885.5 486,855.8 486.6,886 487.1,888.6 487.4,888.7 487.6,888.1 487.9,886.6 488.4,872.4 488.7,847.8 489.1,877.3 489.4,878 489.7,869.2 490.1,885.3 490.6,889.3 491.1,890 491.4,889.8 492,885 492.6,890.3 493.4,890.8 494.1,890.2 494.6,887.5 495.1,876.7 495.6,887.2 495.9,887.6 496.1,886.4 496.9,853.4 497.4,880.7 497.6,882.6 498.1,868.9 498.5,831 499.1,882.9 499.6,888.3 500.1,889.6 500.6,889.8 500.9,889.6 501.4,887.3 502,867.6 502.6,887.1 502.9,888 503.1,887.6 503.4,885.8 504.1,849.1 504.6,883.8 505.1,889.1 505.9,890.6 506.4,890.6 506.6,889.9 507,887.4 507.6,890.8 508.1,890.8 508.4,890.4 509.1,882.2 509.4,887.6 509.9,890.7 510.6,891.1 511.1,890.4 511.8,883 512.4,890 512.9,890.6 513.4,889.9 513.9,885.7 514.4,863.3 514.9,885.7 515.4,890 516.1,891.1 516.9,891.1 517.4,890.5 517.9,887.8 518.4,873.2 519.1,889.4 519.4,889.9 519.6,889.6 519.9,888 520.3,880.3 520.9,889.8 521.4,890.8 522,888.9 522.4,890.9 522.9,891.6 523.9,891.6 524.4,891.2 525.1,886.2 525.4,889.5 525.9,891.4 527.1,891.7 528.1,891.2 528.6,888.7 529,882.8 529.6,890.7 530.4,891.7 531.4,891.8 532.1,891.5 532.6,890.6 532.9,889 533.3,881.8 533.9,890.4 534.1,891.2 534.9,891.8 536.6,891.9 537.6,891.7 538.3,889.3 538.6,891.1 539.4,891.9 542.1,892 542.6,891.6 543,890.9 543.6,891.9 545.9,891.9 546.6,890.9 547.1,887.4 547.6,891.2 548.4,891.9 552.1,892 553,891.3 553.9,892 558.9,892 559.6,891.7 560.1,890.4 560.6,891.8 561.1,892 567.4,892.1" stroke="#c0c0c0" stroke-width="0.8" stroke-opacity="0.5"/>
<path d="M408.9,892.1 413.4,891.8 414.1,891.5 414.6,890.9 415.1,887.7 415.6,874.6 416.1,888.9 416.4,890.4 416.9,891.4 418.9,892 425.4,891.9 427.6,891.6 428.6,890.8 429.1,889.1 429.4,886.6 430,858 430.4,881.9 430.6,887.3 431.1,890.3 431.6,891.1 432.4,891.4 433.1,891.1 433.6,890.3 434.1,885.3 434.5,873.4 434.9,886.4 435.4,890.5 436.1,891.5 437.4,891.7 439.6,891.6 440.9,890.8 441.6,888.3 441.9,885.2 442.5,849.7 442.9,879.2 443.4,888.4 443.6,889.5 444.1,890.3 444.6,889.9 444.9,889.1 445.6,872.7 446.1,888.1 446.4,889.7 446.9,890.7 447.4,890.9 448.1,890.5 448.9,888.3 449.4,880.2 449.9,837.4 450.6,885.8 450.9,888.1 451.4,889.5 452,886.4 452.6,890.5 453.4,891 454.4,890.5 455.1,888.6 455.6,882.8 456.3,826.8 456.9,881.4 457.1,886.1 457.6,889.3 458.1,890.3 458.9,890.6 459.4,890.4 459.9,888.9 460.5,877 460.9,886.1 461.1,887.6 461.4,886.9 462.1,861.6 462.4,878.5 462.9,888.3 463.4,889.7 463.9,889.8 464.4,889.1 464.9,886.3 465.4,872.1 465.8,826.8 466.1,868.2 466.4,880.7 466.9,887 467.1,887.6 467.4,887.4 467.9,882.9 468.5,842.9 468.9,876.4 469.4,886.3 469.6,886.9 469.9,886 470.1,882.3 470.6,859 471.1,884.9 471.4,887.7 471.9,889.2 472.4,888.9 472.9,886.6 473.4,873.6 473.8,831.7 474.1,870.2 474.6,886.2 474.9,888.1 475.4,889 476,884.5 476.6,890 477.1,890.5 477.6,890.1 478.1,887.7 478.6,877.2 479.1,888.3 479.6,889.4 480.1,887.5 480.7,873.6 481.1,885.1 481.4,886.2 481.6,885.2 481.9,881.7 482.6,816.4 483.1,877.5 483.6,886.7 483.9,888.1 484.4,889 484.9,888.3 485.4,884.1 486,848.5 486.6,884.7 487.1,887.9 487.4,888 487.6,887.3 487.9,885.5 488.4,868.4 488.7,838.9 489.1,874.3 489.4,875.1 489.7,864.6 490.1,883.9 490.6,888.8 491.1,889.6 491.4,889.4 492,883.6 492.6,890 493.4,890.6 494.1,889.8 494.6,886.6 495.1,873.6 495.6,886.3 495.9,886.7 496.1,885.2 496.9,845.7 497.4,878.4 497.6,880.7 498.1,864.3 498.5,818.7 499.1,881 499.6,887.5 500.1,889.1 500.6,889.4 500.9,889.1 501.4,886.3 502,862.7 502.6,886.1 502.9,887.2 503.1,886.7 503.4,884.6 504.1,840.5 504.6,882.2 505.1,888.6 505.9,890.4 506.4,890.3 506.6,889.4 507,886.4 507.6,890.5 508.1,890.6 508.4,890.1 509.1,880.3 509.4,886.7 509.9,890.4 510.1,890.8 510.6,890.9 511.1,890.1 511.8,881.2 512.4,889.6 512.9,890.3 513.4,889.4 513.9,884.4 514.4,857.5 514.9,884.5 515.4,889.6 516.1,890.9 516.9,890.9 517.4,890.2 517.9,886.9 518.4,869.4 519.1,888.8 519.4,889.4 519.6,889.1 519.9,887.2 520.3,877.9 520.9,889.4 521.4,890.6 522,888.3 522.4,890.7 522.9,891.4 523.9,891.5 524.4,891 525.1,885 525.4,888.9 525.9,891.2 526.4,891.6 527.1,891.7 528.1,891 528.6,888 529,880.9 529.6,890.4 530.4,891.6 531.4,891.7 532.1,891.4 532.6,890.3 532.9,888.4 533.3,879.8 533.9,890.1 534.1,891 534.9,891.7 536.6,891.9 537.6,891.6 538.3,888.8 538.6,890.9 538.9,891.5 539.4,891.9 542.1,891.9 542.6,891.6 543,890.7 543.6,891.8 545.9,891.8 546.4,891.4 546.6,890.7 547.1,886.4 547.6,891 548.4,891.9 552.1,892 553,891.2 553.4,891.8 553.9,892 558.9,892 559.6,891.6 560.1,890 560.6,891.7 561.1,892 567.4,892.1" stroke="#000000" stroke-width="1" stroke-opacity="0.45"/>
</g>
<rect x="408.9" y="734.3" width="158.5" height="157.8" fill="none" stroke="#505050" stroke-width="1.1"/>
<text x="404.7" y="896.7" text-anchor="end" class="tl">0</text>
<path d="M409.7,852.65 h4.5 M566.6,852.65 h-4.5" stroke="#333" stroke-width="0.9"/>
<text x="404.7" y="857.25" text-anchor="end" class="tl">200</text>
<path d="M409.7,813.2 h4.5 M566.6,813.2 h-4.5" stroke="#333" stroke-width="0.9"/>
<text x="404.7" y="817.8" text-anchor="end" class="tl">400</text>
<path d="M409.7,773.75 h4.5 M566.6,773.75 h-4.5" stroke="#333" stroke-width="0.9"/>
<text x="404.7" y="778.35" text-anchor="end" class="tl">600</text>
<text x="404.7" y="738.9" text-anchor="end" class="tl">800</text>
<path d="M432.7,891.3 v-5 M432.7,735.1 v5" stroke="#444" stroke-width="0.9"/>
<path d="M472.5,891.3 v-5 M472.5,735.1 v5" stroke="#444" stroke-width="0.9"/>
<text x="472.5" y="903.1" text-anchor="middle" class="tl">10</text>
<path d="M512.2,891.3 v-5 M512.2,735.1 v5" stroke="#444" stroke-width="0.9"/>
<path d="M552,891.3 v-5 M552,735.1 v5" stroke="#444" stroke-width="0.9"/>
<text x="552" y="903.1" text-anchor="middle" class="tl">11</text>
<text x="442.3" y="756.9" class="tt">4A' x100</text>
<text x="518.6" y="744.5" class="lg">0-&gt;1</text>
<path d="M535.7,742.4 H558.6" stroke="#ff8080" stroke-width="0.85"/>
<text x="518.6" y="751.46" class="lg">1-&gt;0</text>
<path d="M535.7,749.36 H558.6" stroke="#80ff80" stroke-width="0.85"/>
<text x="518.6" y="758.42" class="lg">1-&gt;1</text>
<path d="M535.7,756.32 H558.6" stroke="#8080ff" stroke-width="0.85"/>
<text x="518.6" y="765.38" class="lg">1-&gt;2</text>
<path d="M535.7,763.28 H558.6" stroke="#ff80ff" stroke-width="0.85"/>
<text x="518.6" y="772.34" class="lg">2-&gt;1</text>
<path d="M535.7,770.24 H558.6" stroke="#80ffff" stroke-width="0.85"/>
<text x="518.6" y="779.3" class="lg">2-&gt;2</text>
<path d="M535.7,777.2 H558.6" stroke="#ffff80" stroke-width="0.85"/>
<text x="518.6" y="786.26" class="lg">2-&gt;3</text>
<path d="M535.7,784.16 H558.6" stroke="#888888" stroke-width="0.85"/>
<text x="518.6" y="793.22" class="lg">3-&gt;2</text>
<path d="M535.7,791.12 H558.6" stroke="#ffa080" stroke-width="0.85"/>
<text x="518.6" y="800.18" class="lg">3-&gt;3</text>
<path d="M535.7,798.08 H558.6" stroke="#d8d8d8" stroke-width="0.85"/>
<text x="518.6" y="807.14" class="lg">3-&gt;4</text>
<path d="M535.7,805.04 H558.6" stroke="#777777" stroke-width="0.85"/>
<clipPath id="c681"><rect x="594.4" y="734.3" width="158.2" height="157.8"/></clipPath>
<g clip-path="url(#c681)" fill="none" stroke-width="1" stroke-linejoin="round" stroke-opacity="0.6">
<path d="M594.4,892 602.4,891.8 605.9,891.3 607.6,890.1 608.6,887.6 609.1,884 609.6,874.5 610.5,811.9 611.4,876 611.9,884.5 612.6,888.7 613.6,890.4 615.6,891.4 618.9,891.8 625.9,891.7 629.4,891.3 631.4,890.7 632.6,889.7 633.6,887.6 634.4,883.6 634.9,876.9 635.4,858.3 636.2,752.7 636.9,850.7 637.4,873.8 638.1,883.1 638.6,884.4 639.1,882.9 639.6,875.1 640.3,845.3 641.1,881 641.6,886.5 642.1,888.7 642.9,890 644.1,890.9 646.1,891.4 649.9,891.5 653.1,891.3 654.9,890.8 655.9,890.1 656.6,889 657.1,887.6 657.6,884.7 658.1,877.2 659,829.5 659.6,860.8 659.9,860.2 660.5,831.6 661.1,870.6 661.9,882.8 662.1,883.1 662.4,882 663.1,869.7 663.6,881.9 664.1,886.9 664.6,888.4 665.4,888.7 665.9,888 666.4,885.9 667.1,871.8 667.7,842.7 668.4,877.3 668.9,885.6 669.6,889.2 670.4,890.3 671.9,891.1 674.6,891.4 676.4,890.9 676.9,890.3 677.4,888.4 678,882.9 678.9,889.1 679.1,889.2 679.4,888.8 680,885.5 680.6,889.4 681.1,890.4 681.9,890.8 682.9,890.5 683.6,890 684.4,888.9 685.1,886.1 685.6,881.4 686.1,868 686.9,802.7 687.4,850.2 687.9,871.8 688.1,872.9 688.7,864.5 689.6,885.6 690.1,888.3 690.9,890 691.6,890.6 692.9,891.1 694.4,891.2 695.1,890.8 695.6,889.9 696.4,885 697.1,889.9 697.9,891.1 699.1,891.3 699.9,890.9 700.4,889.8 701,886.3 701.9,890.2 702.4,890.1 703,888.2 703.6,890.5 704.1,891.2 705.6,891.3 706.9,890.7 707.4,889.9 707.9,887.8 708.7,875.8 709.4,885.4 709.6,886.2 709.9,885.6 710.8,869 711.6,886.6 712.1,889.2 712.9,890.2 713.4,890 713.9,888.5 714.6,881.6 715.4,889.3 715.9,890.7 717.1,891.6 723.4,891.9 727.4,891.5 727.9,891.1 728.4,890.1 729.2,884.2 729.9,889.4 730.1,890.1 730.6,890.3 731.1,889 731.8,883.7 732.6,889.8 732.9,890.3 733.4,890.1 734,888.2 734.6,890.7 735.6,891.7 738.6,892 742.6,891.8 743.4,891.3 744.1,889.5 744.6,891 745.4,891.8 748.9,891.9 750,891 750.9,891.9 752.4,892" stroke="#ff0000" stroke-width="1.05" stroke-opacity="0.65"/>
<path d="M594.4,892.1 605.9,892 608.6,891.6 609.1,891.3 609.6,890.3 610.5,884.1 611.4,890.5 611.9,891.3 612.6,891.8 615.6,892 625.9,892.1 631.4,892 633.6,891.7 634.4,891.2 634.9,890.6 635.4,888.7 636.2,878.2 636.9,888 637.4,890.3 638.1,891.2 639.1,891.2 639.6,890.4 640.3,887.4 641.1,891 641.6,891.5 642.9,891.9 653.1,892 657.1,891.6 658.1,890.6 659,885.8 659.6,889 659.9,888.9 660.5,886.1 661.1,889.9 661.9,891.2 662.4,891.1 663.1,889.9 664.1,891.6 665.4,891.8 666.4,891.5 667.1,890.1 667.7,887.2 668.4,890.6 668.9,891.4 669.6,891.8 676.4,892 677.4,891.7 678,891.2 678.9,891.8 680,891.4 681.1,891.9 684.4,891.8 685.6,891 686.1,889.7 686.9,883.2 687.4,887.9 687.9,890.1 688.1,890.2 688.7,889.3 689.6,891.4 690.9,891.9 695.1,892 696.4,891.4 697.9,892 699.9,892 701,891.5 701.9,891.9 703,891.7 704.1,892 706.9,892 707.9,891.7 708.7,890.5 709.4,891.4 709.9,891.4 710.8,889.8 711.6,891.5 712.9,891.9 713.9,891.7 714.6,891 715.4,891.8 717.1,892 727.4,892 728.4,891.9 729.2,891.3 729.9,891.8 730.6,891.9 731.8,891.3 732.6,891.9 734,891.7 735.6,892.1 742.6,892.1 744.1,891.8 745.4,892.1 752.4,892.1" stroke="#00ff00" stroke-width="0.73" stroke-opacity="0.35"/>
<path d="M594.4,892.1 605.9,891.6 607.6,890.9 608.6,889.4 609.1,887.3 609.6,881.5 610.5,844 611.4,882.4 611.9,887.6 612.6,890 613.6,891.1 615.6,891.7 625.9,891.9 631.4,891.3 632.6,890.6 633.6,889.4 634.4,887 634.9,883 635.4,871.8 636.2,808.5 636.9,867.2 637.4,881.1 638.1,886.7 638.6,887.5 639.1,886.6 639.6,881.9 640.3,864 641.1,885.4 641.6,888.8 642.1,890 642.9,890.9 644.1,891.4 646.1,891.7 653.1,891.6 655.9,890.9 657.1,889.4 657.6,887.6 658.1,883.1 659,854.5 659.6,873.3 659.9,872.9 660.5,855.8 661.1,879.2 661.9,886.5 662.1,886.7 662.4,886.1 663.1,878.7 663.6,886 664.1,889 664.6,889.9 665.4,890.1 665.9,889.6 666.4,888.4 667.1,879.9 667.7,862.4 668.4,883.2 668.9,888.2 669.6,890.3 670.4,891 671.9,891.5 674.6,891.7 676.4,891.4 676.9,891 677.4,889.9 678,886.6 678.9,890.3 679.4,890.1 680,888.2 680.6,890.5 681.1,891.1 682.9,891.2 684.4,890.2 685.1,888.5 685.6,885.7 686.1,877.6 686.9,838.4 687.4,867 687.9,879.9 688.1,880.6 688.7,875.5 689.6,888.2 690.1,889.8 690.9,890.8 692.9,891.5 695.1,891.3 695.6,890.8 696.4,887.8 697.1,890.8 697.9,891.5 699.1,891.6 699.9,891.4 700.4,890.7 701,888.6 701.9,891 702.4,890.9 703,889.7 703.6,891.1 704.1,891.5 705.6,891.6 706.9,891.3 707.4,890.8 707.9,889.5 708.7,882.3 709.4,888.1 709.6,888.6 709.9,888.2 710.8,878.2 711.6,888.8 712.1,890.4 712.9,891 713.4,890.8 713.9,890 714.6,885.8 715.4,890.4 715.9,891.3 717.1,891.8 723.4,892 727.4,891.7 728.4,890.9 729.2,887.4 729.9,890.5 730.1,890.9 730.6,891 731.1,890.2 731.8,887.1 732.6,890.7 732.9,891 733.4,890.9 734,889.7 734.6,891.2 735.6,891.9 742.6,891.9 743.4,891.6 744.1,890.5 744.6,891.5 745.4,891.9 748.9,892 750,891.5 750.9,892 752.4,892.1" stroke="#0000ff" stroke-width="0.63" stroke-opacity="0.22"/>
<path d="M594.4,892.1 602.4,891.9 605.9,891.6 607.6,890.7 608.6,889 609.1,886.6 609.6,880.1 610.5,837.6 611.4,881.2 611.9,887 612.6,889.8 613.6,891 615.6,891.6 625.9,891.8 629.4,891.6 631.4,891.1 632.6,890.5 633.6,889.1 634.4,886.3 634.9,881.7 635.4,869.1 636.2,797.3 636.9,863.9 637.4,879.7 638.1,886 638.6,886.8 639.1,885.8 639.6,880.5 640.3,860.3 641.1,884.5 641.6,888.3 642.1,889.8 642.9,890.7 644.1,891.3 646.1,891.6 653.1,891.6 655.9,890.7 657.1,889 657.6,887 658.1,881.9 659,849.5 659.6,870.8 659.9,870.4 660.5,851 661.1,877.5 661.9,885.8 662.1,886 662.4,885.3 663.1,876.9 663.6,885.2 664.1,888.6 664.6,889.6 665.4,889.8 665.9,889.3 666.4,887.9 667.1,878.3 667.7,858.5 668.4,882 668.9,887.7 669.6,890.1 670.4,890.9 671.9,891.4 674.6,891.6 676.4,891.3 676.9,890.9 677.4,889.6 678,885.8 678.9,890.1 679.1,890.2 679.4,889.8 680,887.6 680.6,890.3 681.1,891 681.9,891.2 682.9,891 684.4,889.9 685.1,888 685.6,884.8 686.1,875.7 686.9,831.3 687.4,863.6 687.9,878.3 688.1,879.1 688.7,873.3 689.6,887.7 690.1,889.5 690.9,890.6 692.9,891.4 694.4,891.5 695.1,891.2 695.6,890.6 696.4,887.3 697.1,890.6 697.9,891.4 699.1,891.6 699.9,891.3 700.4,890.5 701,888.2 701.9,890.8 702.4,890.7 703,889.4 703.6,891 704.1,891.5 705.6,891.6 706.9,891.2 707.4,890.6 707.9,889.2 708.7,881 709.4,887.6 709.6,888.1 709.9,887.7 710.8,876.4 711.6,888.3 712.1,890.1 712.9,890.8 713.4,890.7 713.9,889.7 714.6,884.9 715.4,890.2 715.9,891.2 717.1,891.7 723.4,892 727.4,891.7 728.4,890.7 729.2,886.7 729.9,890.2 730.1,890.7 730.6,890.9 731.1,890 731.8,886.4 732.6,890.6 732.9,890.9 733.4,890.8 734,889.4 734.6,891.1 735.6,891.8 742.6,891.9 743.4,891.6 744.1,890.3 744.6,891.4 745.4,891.9 748.9,892 750,891.4 750.9,891.9 752.4,892.1" stroke="#ff00ff" stroke-width="0.63" stroke-opacity="0.22"/>
<path d="M594.4,892.1 608.6,892 609.6,891.8 610.5,890.9 611.4,891.9 612.6,892 633.6,892 635.4,891.6 636.2,890 636.9,891.5 637.4,891.8 639.1,892 640.3,891.4 641.1,891.9 642.9,892.1 657.1,892 658.1,891.9 659,891.2 659.6,891.6 660.5,891.2 661.1,891.8 661.9,892 663.1,891.8 664.1,892 666.4,892 667.7,891.4 668.4,891.9 669.6,892.1 684.4,892.1 686.1,891.7 686.9,890.8 687.9,891.8 688.7,891.7 690.9,892.1 706.9,892.1 710.8,891.8 712.9,892.1 752.4,892.1" stroke="#00ffff" stroke-width="0.73" stroke-opacity="0.35"/>
<path d="M594.4,892.1 605.9,891.7 607.6,891.1 608.6,889.8 609.1,888.1 609.6,883.3 610.5,852 611.4,884.1 611.9,888.3 612.6,890.4 613.6,891.3 615.6,891.8 625.9,891.9 631.4,891.4 632.6,890.9 633.6,889.9 634.4,887.8 634.9,884.5 635.4,875.2 636.2,822.4 636.9,871.4 637.4,883 638.1,887.6 638.6,888.2 639.1,887.5 639.6,883.6 640.3,868.7 641.1,886.5 641.6,889.3 642.1,890.4 642.9,891.1 646.1,891.7 653.1,891.7 655.9,891.1 657.1,889.8 657.6,888.4 658.1,884.6 659,860.8 659.6,876.5 659.9,876.1 660.5,861.9 661.1,881.3 661.9,887.5 662.1,887.6 662.4,887.1 663.1,880.9 663.6,887 664.1,889.5 664.6,890.3 665.4,890.4 665.9,890.1 666.4,889 667.1,881.9 667.7,867.4 668.4,884.7 668.9,888.8 669.6,890.6 670.4,891.2 671.9,891.6 674.6,891.7 676.4,891.5 676.9,891.2 677.4,890.3 678,887.5 678.9,890.6 679.4,890.4 680,888.8 680.6,890.7 681.1,891.3 682.9,891.3 684.4,890.5 685.1,889.1 685.6,886.7 686.1,880 686.9,847.4 687.4,871.2 687.9,881.9 688.1,882.5 688.7,878.3 689.6,888.8 690.1,890.2 690.9,891 692.9,891.6 695.1,891.5 695.6,891 696.4,888.5 697.1,891 697.9,891.6 699.9,891.5 700.4,890.9 701,889.2 701.9,891.2 702.4,891.1 703,890.1 703.6,891.3 704.1,891.6 705.6,891.7 706.9,891.4 707.4,891 707.9,889.9 708.7,883.9 709.4,888.8 709.6,889.1 709.9,888.8 710.8,880.5 711.6,889.3 712.1,890.7 712.9,891.2 713.4,891.1 713.9,890.3 714.6,886.8 715.4,890.7 715.9,891.4 717.1,891.8 723.4,892 727.4,891.8 728.4,891.1 729.2,888.2 729.9,890.7 730.6,891.2 731.1,890.5 731.8,887.9 732.6,891 732.9,891.2 733.4,891.1 734,890.1 734.6,891.4 735.6,891.9 742.6,892 743.4,891.7 744.1,890.8 744.6,891.6 745.4,891.9 748.9,892 750,891.6 750.9,892 752.4,892.1" stroke="#ffff00" stroke-width="0.63" stroke-opacity="0.35"/>
<path d="M594.4,892.1 605.9,891.6 607.6,890.9 608.6,889.4 609.1,887.3 609.6,881.5 610.5,844 611.4,882.4 611.9,887.6 612.6,890 613.6,891.1 615.6,891.7 625.9,891.9 631.4,891.3 632.6,890.6 633.6,889.4 634.4,887 634.9,883 635.4,871.8 636.2,808.5 636.9,867.2 637.4,881.1 638.1,886.7 638.6,887.5 639.1,886.6 639.6,881.9 640.3,864 641.1,885.4 641.6,888.8 642.1,890 642.9,890.9 644.1,891.4 646.1,891.7 653.1,891.6 655.9,890.9 657.1,889.4 657.6,887.6 658.1,883.1 659,854.5 659.6,873.3 659.9,872.9 660.5,855.8 661.1,879.2 661.9,886.5 662.1,886.7 662.4,886.1 663.1,878.7 663.6,886 664.1,889 664.6,889.9 665.4,890.1 665.9,889.6 666.4,888.4 667.1,879.9 667.7,862.4 668.4,883.2 668.9,888.2 669.6,890.3 670.4,891 671.9,891.5 674.6,891.7 676.4,891.4 676.9,891 677.4,889.9 678,886.6 678.9,890.3 679.4,890.1 680,888.2 680.6,890.5 681.1,891.1 682.9,891.2 684.4,890.2 685.1,888.5 685.6,885.7 686.1,877.6 686.9,838.4 687.4,867 687.9,879.9 688.1,880.6 688.7,875.5 689.6,888.2 690.1,889.8 690.9,890.8 692.9,891.5 695.1,891.3 695.6,890.8 696.4,887.8 697.1,890.8 697.9,891.5 699.1,891.6 699.9,891.4 700.4,890.7 701,888.6 701.9,891 702.4,890.9 703,889.7 703.6,891.1 704.1,891.5 705.6,891.6 706.9,891.3 707.4,890.8 707.9,889.5 708.7,882.3 709.4,888.1 709.6,888.6 709.9,888.2 710.8,878.2 711.6,888.8 712.1,890.4 712.9,891 713.4,890.8 713.9,890 714.6,885.8 715.4,890.4 715.9,891.3 717.1,891.8 723.4,892 727.4,891.7 728.4,890.9 729.2,887.4 729.9,890.5 730.1,890.9 730.6,891 731.1,890.2 731.8,887.1 732.6,890.7 732.9,891 733.4,890.9 734,889.7 734.6,891.2 735.6,891.9 742.6,891.9 743.4,891.6 744.1,890.5 744.6,891.5 745.4,891.9 748.9,892 750,891.5 750.9,892 752.4,892.1" stroke="#000000" stroke-width="1.05" stroke-opacity="0.45"/>
<path d="M594.4,892.1 605.9,891.7 607.6,891.1 608.6,889.8 609.1,888.1 609.6,883.3 610.5,852 611.4,884.1 611.9,888.3 612.6,890.4 613.6,891.3 615.6,891.8 625.9,891.9 631.4,891.4 632.6,890.9 633.6,889.9 634.4,887.8 634.9,884.5 635.4,875.2 636.2,822.4 636.9,871.4 637.4,883 638.1,887.6 638.6,888.2 639.1,887.5 639.6,883.6 640.3,868.7 641.1,886.5 641.6,889.3 642.1,890.4 642.9,891.1 646.1,891.7 653.1,891.7 655.9,891.1 657.1,889.8 657.6,888.4 658.1,884.6 659,860.8 659.6,876.5 659.9,876.1 660.5,861.9 661.1,881.3 661.9,887.5 662.1,887.6 662.4,887.1 663.1,880.9 663.6,887 664.1,889.5 664.6,890.3 665.4,890.4 665.9,890.1 666.4,889 667.1,881.9 667.7,867.4 668.4,884.7 668.9,888.8 669.6,890.6 670.4,891.2 671.9,891.6 674.6,891.7 676.4,891.5 676.9,891.2 677.4,890.3 678,887.5 678.9,890.6 679.4,890.4 680,888.8 680.6,890.7 681.1,891.3 682.9,891.3 684.4,890.5 685.1,889.1 685.6,886.7 686.1,880 686.9,847.4 687.4,871.2 687.9,881.9 688.1,882.5 688.7,878.3 689.6,888.8 690.1,890.2 690.9,891 692.9,891.6 695.1,891.5 695.6,891 696.4,888.5 697.1,891 697.9,891.6 699.9,891.5 700.4,890.9 701,889.2 701.9,891.2 702.4,891.1 703,890.1 703.6,891.3 704.1,891.6 705.6,891.7 706.9,891.4 707.4,891 707.9,889.9 708.7,883.9 709.4,888.8 709.6,889.1 709.9,888.8 710.8,880.5 711.6,889.3 712.1,890.7 712.9,891.2 713.4,891.1 713.9,890.3 714.6,886.8 715.4,890.7 715.9,891.4 717.1,891.8 723.4,892 727.4,891.8 728.4,891.1 729.2,888.2 729.9,890.7 730.6,891.2 731.1,890.5 731.8,887.9 732.6,891 732.9,891.2 733.4,891.1 734,890.1 734.6,891.4 735.6,891.9 742.6,892 743.4,891.7 744.1,890.8 744.6,891.6 745.4,891.9 748.9,892 750,891.6 750.9,892 752.4,892.1" stroke="#ff6030" stroke-width="0.84" stroke-opacity="0.4"/>
<path d="M594.4,892.1 605.9,891.8 607.6,891.3 608.6,890.3 609.1,888.9 609.6,885.1 610.5,860 611.4,885.7 611.9,889.1 612.6,890.7 613.6,891.4 615.6,891.8 625.9,891.9 631.4,891.5 632.6,891.1 633.6,890.3 634.4,888.7 634.9,886 635.4,878.6 636.2,836.3 636.9,875.5 637.4,884.8 638.1,888.5 638.6,889 639.1,888.4 639.6,885.3 640.3,873.4 641.1,887.7 641.6,889.9 642.1,890.7 642.9,891.3 646.1,891.8 653.1,891.8 655.9,891.3 657.1,890.3 657.6,889.1 658.1,886.1 659,867.1 659.6,879.6 659.9,879.3 660.5,867.9 661.1,883.5 661.9,888.4 662.1,888.5 662.4,888.1 663.1,883.2 663.6,888 664.1,890 664.6,890.6 665.4,890.8 665.9,890.5 666.4,889.6 667.1,884 667.7,872.3 668.4,886.2 668.9,889.5 669.6,890.9 670.4,891.4 671.9,891.7 676.4,891.6 677.4,890.6 678,888.4 678.9,890.9 679.4,890.8 680,889.5 680.6,891 681.1,891.4 682.9,891.5 684.4,890.8 685.1,889.7 685.6,887.8 686.1,882.5 686.9,856.3 687.4,875.3 687.9,884 688.1,884.4 688.7,881.1 689.6,889.5 690.1,890.6 690.9,891.2 692.9,891.7 695.1,891.6 695.6,891.2 696.4,889.3 697.1,891.2 697.9,891.7 699.9,891.6 700.4,891.2 701,889.8 701.9,891.4 702.4,891.3 703,890.5 703.6,891.5 704.1,891.7 706.9,891.5 707.9,890.4 708.7,885.6 709.4,889.4 709.6,889.7 709.9,889.5 710.8,882.8 711.6,889.9 712.1,890.9 712.9,891.3 713.4,891.3 713.9,890.7 714.6,887.9 715.4,891 715.9,891.6 717.1,891.9 727.4,891.9 728.4,891.3 729.2,888.9 729.9,891 730.6,891.4 731.1,890.9 731.8,888.7 732.6,891.2 733.4,891.3 734,890.5 734.6,891.5 735.6,891.9 742.6,892 743.4,891.8 744.1,891 744.6,891.7 745.4,892 748.9,892 750,891.7 752.4,892.1" stroke="#c0c0c0" stroke-width="0.84" stroke-opacity="0.5"/>
<path d="M594.4,892.1 605.9,891.6 607.6,890.9 608.6,889.5 609.1,887.4 609.6,881.9 610.5,845.6 611.4,882.8 611.9,887.7 612.6,890.1 613.6,891.1 615.6,891.7 625.9,891.9 631.4,891.3 632.6,890.7 633.6,889.5 634.4,887.2 634.9,883.3 635.4,872.5 636.2,811.3 636.9,868.1 637.4,881.5 638.1,886.9 638.6,887.6 639.1,886.7 639.6,882.2 640.3,864.9 641.1,885.7 641.6,888.9 642.1,890.1 642.9,890.9 644.1,891.4 646.1,891.7 653.1,891.6 655.9,890.9 657.1,889.5 657.6,887.8 658.1,883.4 659,855.8 659.6,874 659.9,873.6 660.5,857 661.1,879.6 661.9,886.7 662.1,886.9 662.4,886.3 663.1,879.1 663.6,886.2 664.1,889.1 664.6,890 665.4,890.1 665.9,889.7 666.4,888.5 667.1,880.3 667.7,863.4 668.4,883.5 668.9,888.3 669.6,890.4 670.4,891.1 671.9,891.5 674.6,891.7 676.4,891.4 676.9,891.1 677.4,890 678,886.8 678.9,890.4 679.4,890.2 680,888.3 680.6,890.5 681.1,891.1 682.9,891.2 684.4,890.2 685.1,888.6 685.6,885.9 686.1,878.1 686.9,840.2 687.4,867.8 687.9,880.3 688.1,881 688.7,876.1 689.6,888.3 690.1,889.9 690.9,890.9 692.9,891.5 695.1,891.4 695.6,890.8 696.4,888 697.1,890.8 697.9,891.5 699.1,891.6 699.9,891.4 700.4,890.7 701,888.7 701.9,891 702.4,890.9 703,889.8 703.6,891.2 704.1,891.6 705.6,891.7 706.9,891.3 707.4,890.8 707.9,889.6 708.7,882.6 709.4,888.2 709.6,888.7 709.9,888.3 710.8,878.7 711.6,888.9 712.1,890.4 712.9,891 713.4,890.9 713.9,890 714.6,886 715.4,890.5 715.9,891.3 717.1,891.8 723.4,892 727.4,891.8 728.4,890.9 729.2,887.5 729.9,890.5 730.1,890.9 730.6,891 731.1,890.3 731.8,887.2 732.6,890.8 732.9,891.1 733.4,891 734,889.8 734.6,891.3 735.6,891.9 742.6,891.9 743.4,891.6 744.1,890.6 744.6,891.5 745.4,891.9 748.9,892 750,891.5 750.9,892 752.4,892.1" stroke="#000000" stroke-width="1.05" stroke-opacity="0.45"/>
</g>
<rect x="594.4" y="734.3" width="158.2" height="157.8" fill="none" stroke="#505050" stroke-width="1.1"/>
<text x="590.2" y="896.7" text-anchor="end" class="tl">0</text>
<path d="M595.2,839.5 h4.5 M751.8,839.5 h-4.5" stroke="#333" stroke-width="0.9"/>
<text x="590.2" y="844.1" text-anchor="end" class="tl">200</text>
<path d="M595.2,786.9 h4.5 M751.8,786.9 h-4.5" stroke="#333" stroke-width="0.9"/>
<text x="590.2" y="791.5" text-anchor="end" class="tl">400</text>
<text x="590.2" y="738.9" text-anchor="end" class="tl">600</text>
<path d="M652,891.3 v-5 M652,735.1 v5" stroke="#444" stroke-width="0.9"/>
<path d="M723.7,891.3 v-5 M723.7,735.1 v5" stroke="#444" stroke-width="0.9"/>
<text x="723.7" y="903.1" text-anchor="middle" class="tl">11</text>
<text x="632.1" y="757.1" class="tt">5A' x10</text>
<text x="703.8" y="744.5" class="lg">0-&gt;1</text>
<path d="M720.9,742.4 H743.8" stroke="#ff8080" stroke-width="0.85"/>
<text x="703.8" y="751.46" class="lg">1-&gt;0</text>
<path d="M720.9,749.36 H743.8" stroke="#80ff80" stroke-width="0.85"/>
<text x="703.8" y="758.42" class="lg">1-&gt;1</text>
<path d="M720.9,756.32 H743.8" stroke="#8080ff" stroke-width="0.85"/>
<text x="703.8" y="765.38" class="lg">1-&gt;2</text>
<path d="M720.9,763.28 H743.8" stroke="#ff80ff" stroke-width="0.85"/>
<text x="703.8" y="772.34" class="lg">2-&gt;1</text>
<path d="M720.9,770.24 H743.8" stroke="#80ffff" stroke-width="0.85"/>
<text x="703.8" y="779.3" class="lg">2-&gt;2</text>
<path d="M720.9,777.2 H743.8" stroke="#ffff80" stroke-width="0.85"/>
<text x="703.8" y="786.26" class="lg">2-&gt;3</text>
<path d="M720.9,784.16 H743.8" stroke="#888888" stroke-width="0.85"/>
<text x="703.8" y="793.22" class="lg">3-&gt;2</text>
<path d="M720.9,791.12 H743.8" stroke="#ffa080" stroke-width="0.85"/>
<text x="703.8" y="800.18" class="lg">3-&gt;3</text>
<path d="M720.9,798.08 H743.8" stroke="#d8d8d8" stroke-width="0.85"/>
<text x="703.8" y="807.14" class="lg">3-&gt;4</text>
<path d="M720.9,805.04 H743.8" stroke="#777777" stroke-width="0.85"/>
<text transform="translate(402.9,925) scale(1.19,1)" text-anchor="middle" class="ax">Photon excitation energy (eV)</text>
<text transform="translate(11.3,451.5) rotate(-90) scale(1.175,1)" text-anchor="middle" class="ax">Absorption cross section (10<tspan dy="-4.5" font-size="9.5">&#8722;18</tspan><tspan dy="4.5"> cm</tspan><tspan dy="-4.5" font-size="9.5">2</tspan><tspan dy="4.5">)</tspan></text>
</svg>
</body></html>
